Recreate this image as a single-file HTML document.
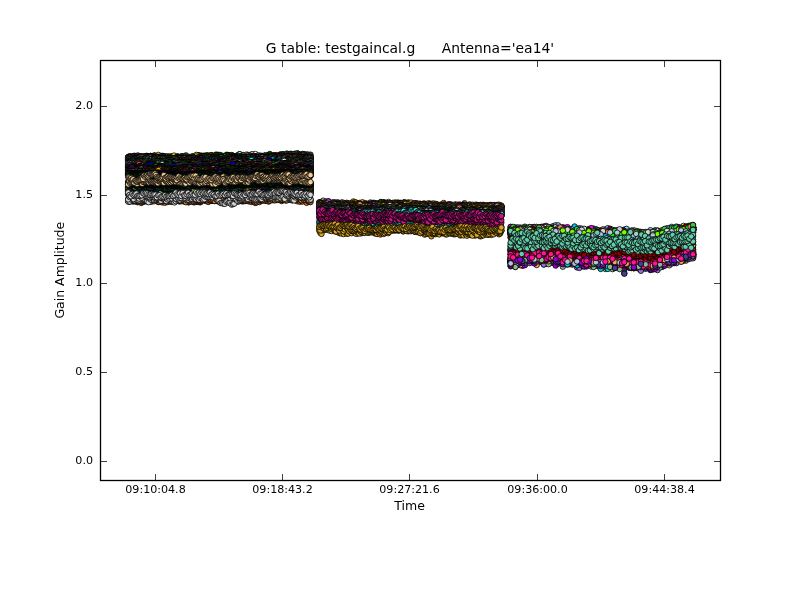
<!DOCTYPE html>
<html lang="en"><head><meta charset="utf-8"><title>G table: testgaincal.g Antenna='ea14'</title>
<style>html,body{margin:0;padding:0;background:#fff;overflow:hidden}svg{display:block}text{font-family:"DejaVu Sans","Liberation Sans",sans-serif;fill:#000}</style></head><body>
<svg width="800" height="600" viewBox="0 0 800 600">
<rect width="800" height="600" fill="#fff"/>
<defs><marker id="m0" markerWidth="8" markerHeight="8" refX="4" refY="4" markerUnits="userSpaceOnUse" overflow="visible"><circle cx="4" cy="4" r="2.75" fill="darkgreen" stroke="#000" stroke-width="0.8"/></marker><marker id="m1" markerWidth="8" markerHeight="8" refX="4" refY="4" markerUnits="userSpaceOnUse" overflow="visible"><circle cx="4" cy="4" r="2.75" fill="chocolate" stroke="#000" stroke-width="0.8"/></marker><marker id="m2" markerWidth="8" markerHeight="8" refX="4" refY="4" markerUnits="userSpaceOnUse" overflow="visible"><circle cx="4" cy="4" r="2.75" fill="lightskyblue" stroke="#000" stroke-width="0.8"/></marker><marker id="m3" markerWidth="8" markerHeight="8" refX="4" refY="4" markerUnits="userSpaceOnUse" overflow="visible"><circle cx="4" cy="4" r="2.75" fill="sienna" stroke="#000" stroke-width="0.8"/></marker><marker id="m4" markerWidth="8" markerHeight="8" refX="4" refY="4" markerUnits="userSpaceOnUse" overflow="visible"><circle cx="4" cy="4" r="2.75" fill="white" stroke="#000" stroke-width="0.8"/></marker><marker id="m5" markerWidth="8" markerHeight="8" refX="4" refY="4" markerUnits="userSpaceOnUse" overflow="visible"><circle cx="4" cy="4" r="2.75" fill="peru" stroke="#000" stroke-width="0.8"/></marker><marker id="m6" markerWidth="8" markerHeight="8" refX="4" refY="4" markerUnits="userSpaceOnUse" overflow="visible"><circle cx="4" cy="4" r="2.75" fill="darkslategray" stroke="#000" stroke-width="0.8"/></marker><marker id="m7" markerWidth="8" markerHeight="8" refX="4" refY="4" markerUnits="userSpaceOnUse" overflow="visible"><circle cx="4" cy="4" r="2.75" fill="gold" stroke="#000" stroke-width="0.8"/></marker><marker id="m8" markerWidth="8" markerHeight="8" refX="4" refY="4" markerUnits="userSpaceOnUse" overflow="visible"><circle cx="4" cy="4" r="2.75" fill="chartreuse" stroke="#000" stroke-width="0.8"/></marker><marker id="m9" markerWidth="8" markerHeight="8" refX="4" refY="4" markerUnits="userSpaceOnUse" overflow="visible"><circle cx="4" cy="4" r="2.75" fill="darkslateblue" stroke="#000" stroke-width="0.8"/></marker><marker id="m10" markerWidth="8" markerHeight="8" refX="4" refY="4" markerUnits="userSpaceOnUse" overflow="visible"><circle cx="4" cy="4" r="2.75" fill="maroon" stroke="#000" stroke-width="0.8"/></marker><marker id="m11" markerWidth="8" markerHeight="8" refX="4" refY="4" markerUnits="userSpaceOnUse" overflow="visible"><circle cx="4" cy="4" r="2.75" fill="midnightblue" stroke="#000" stroke-width="0.8"/></marker><marker id="m12" markerWidth="8" markerHeight="8" refX="4" refY="4" markerUnits="userSpaceOnUse" overflow="visible"><circle cx="4" cy="4" r="2.75" fill="sandybrown" stroke="#000" stroke-width="0.8"/></marker><marker id="m13" markerWidth="8" markerHeight="8" refX="4" refY="4" markerUnits="userSpaceOnUse" overflow="visible"><circle cx="4" cy="4" r="2.75" fill="springgreen" stroke="#000" stroke-width="0.8"/></marker><marker id="m14" markerWidth="8" markerHeight="8" refX="4" refY="4" markerUnits="userSpaceOnUse" overflow="visible"><circle cx="4" cy="4" r="2.75" fill="violet" stroke="#000" stroke-width="0.8"/></marker><marker id="m15" markerWidth="8" markerHeight="8" refX="4" refY="4" markerUnits="userSpaceOnUse" overflow="visible"><circle cx="4" cy="4" r="2.75" fill="navy" stroke="#000" stroke-width="0.8"/></marker><marker id="m16" markerWidth="8" markerHeight="8" refX="4" refY="4" markerUnits="userSpaceOnUse" overflow="visible"><circle cx="4" cy="4" r="2.75" fill="lightgreen" stroke="#000" stroke-width="0.8"/></marker><marker id="m17" markerWidth="8" markerHeight="8" refX="4" refY="4" markerUnits="userSpaceOnUse" overflow="visible"><circle cx="4" cy="4" r="2.75" fill="crimson" stroke="#000" stroke-width="0.8"/></marker><marker id="m18" markerWidth="8" markerHeight="8" refX="4" refY="4" markerUnits="userSpaceOnUse" overflow="visible"><circle cx="4" cy="4" r="2.75" fill="lavender" stroke="#000" stroke-width="0.8"/></marker><marker id="m19" markerWidth="8" markerHeight="8" refX="4" refY="4" markerUnits="userSpaceOnUse" overflow="visible"><circle cx="4" cy="4" r="2.75" fill="cyan" stroke="#000" stroke-width="0.8"/></marker><marker id="m20" markerWidth="8" markerHeight="8" refX="4" refY="4" markerUnits="userSpaceOnUse" overflow="visible"><circle cx="4" cy="4" r="2.75" fill="blue" stroke="#000" stroke-width="0.8"/></marker><marker id="m21" markerWidth="8" markerHeight="8" refX="4" refY="4" markerUnits="userSpaceOnUse" overflow="visible"><circle cx="4" cy="4" r="2.75" fill="turquoise" stroke="#000" stroke-width="0.8"/></marker><marker id="m22" markerWidth="8" markerHeight="8" refX="4" refY="4" markerUnits="userSpaceOnUse" overflow="visible"><circle cx="4" cy="4" r="2.75" fill="tomato" stroke="#000" stroke-width="0.8"/></marker><marker id="m23" markerWidth="8" markerHeight="8" refX="4" refY="4" markerUnits="userSpaceOnUse" overflow="visible"><circle cx="4" cy="4" r="2.75" fill="black" stroke="#000" stroke-width="0.8"/></marker><marker id="m24" markerWidth="8" markerHeight="8" refX="4" refY="4" markerUnits="userSpaceOnUse" overflow="visible"><circle cx="4" cy="4" r="2.75" fill="lightcoral" stroke="#000" stroke-width="0.8"/></marker><marker id="m25" markerWidth="8" markerHeight="8" refX="4" refY="4" markerUnits="userSpaceOnUse" overflow="visible"><circle cx="4" cy="4" r="2.75" fill="orangered" stroke="#000" stroke-width="0.8"/></marker><marker id="m26" markerWidth="8" markerHeight="8" refX="4" refY="4" markerUnits="userSpaceOnUse" overflow="visible"><circle cx="4" cy="4" r="2.75" fill="thistle" stroke="#000" stroke-width="0.8"/></marker><marker id="m27" markerWidth="8" markerHeight="8" refX="4" refY="4" markerUnits="userSpaceOnUse" overflow="visible"><circle cx="4" cy="4" r="2.75" fill="lime" stroke="#000" stroke-width="0.8"/></marker><marker id="m28" markerWidth="8" markerHeight="8" refX="4" refY="4" markerUnits="userSpaceOnUse" overflow="visible"><circle cx="4" cy="4" r="2.75" fill="dimgray" stroke="#000" stroke-width="0.8"/></marker><marker id="m29" markerWidth="8" markerHeight="8" refX="4" refY="4" markerUnits="userSpaceOnUse" overflow="visible"><circle cx="4" cy="4" r="2.75" fill="#003030" stroke="#000" stroke-width="0.8"/></marker><marker id="m30" markerWidth="8" markerHeight="8" refX="4" refY="4" markerUnits="userSpaceOnUse" overflow="visible"><circle cx="4" cy="4" r="2.75" fill="salmon" stroke="#000" stroke-width="0.8"/></marker><marker id="m31" markerWidth="8" markerHeight="8" refX="4" refY="4" markerUnits="userSpaceOnUse" overflow="visible"><circle cx="4" cy="4" r="2.75" fill="#203020" stroke="#000" stroke-width="0.8"/></marker><marker id="m32" markerWidth="8" markerHeight="8" refX="4" refY="4" markerUnits="userSpaceOnUse" overflow="visible"><circle cx="4" cy="4" r="2.75" fill="indigo" stroke="#000" stroke-width="0.8"/></marker><marker id="m33" markerWidth="8" markerHeight="8" refX="4" refY="4" markerUnits="userSpaceOnUse" overflow="visible"><circle cx="4" cy="4" r="2.75" fill="darkolivegreen" stroke="#000" stroke-width="0.8"/></marker><marker id="m34" markerWidth="8" markerHeight="8" refX="4" refY="4" markerUnits="userSpaceOnUse" overflow="visible"><circle cx="4" cy="4" r="2.75" fill="coral" stroke="#000" stroke-width="0.8"/></marker><marker id="m35" markerWidth="8" markerHeight="8" refX="4" refY="4" markerUnits="userSpaceOnUse" overflow="visible"><circle cx="4" cy="4" r="2.75" fill="orange" stroke="#000" stroke-width="0.8"/></marker><marker id="m36" markerWidth="8" markerHeight="8" refX="4" refY="4" markerUnits="userSpaceOnUse" overflow="visible"><circle cx="4" cy="4" r="2.75" fill="hotpink" stroke="#000" stroke-width="0.8"/></marker><marker id="m37" markerWidth="8" markerHeight="8" refX="4" refY="4" markerUnits="userSpaceOnUse" overflow="visible"><circle cx="4" cy="4" r="2.75" fill="#004000" stroke="#000" stroke-width="0.8"/></marker><marker id="m38" markerWidth="8" markerHeight="8" refX="4" refY="4" markerUnits="userSpaceOnUse" overflow="visible"><circle cx="4" cy="4" r="2.75" fill="#283828" stroke="#000" stroke-width="0.8"/></marker><marker id="m39" markerWidth="8" markerHeight="8" refX="4" refY="4" markerUnits="userSpaceOnUse" overflow="visible"><circle cx="4" cy="4" r="2.75" fill="#102818" stroke="#000" stroke-width="0.8"/></marker><marker id="m40" markerWidth="8" markerHeight="8" refX="4" refY="4" markerUnits="userSpaceOnUse" overflow="visible"><circle cx="4" cy="4" r="2.75" fill="mediumspringgreen" stroke="#000" stroke-width="0.8"/></marker><marker id="m41" markerWidth="8" markerHeight="8" refX="4" refY="4" markerUnits="userSpaceOnUse" overflow="visible"><circle cx="4" cy="4" r="2.75" fill="peachpuff" stroke="#000" stroke-width="0.8"/></marker><marker id="m42" markerWidth="8" markerHeight="8" refX="4" refY="4" markerUnits="userSpaceOnUse" overflow="visible"><circle cx="4" cy="4" r="2.75" fill="red" stroke="#000" stroke-width="0.8"/></marker><marker id="m43" markerWidth="8" markerHeight="8" refX="4" refY="4" markerUnits="userSpaceOnUse" overflow="visible"><circle cx="4" cy="4" r="2.75" fill="dodgerblue" stroke="#000" stroke-width="0.8"/></marker><marker id="m44" markerWidth="8" markerHeight="8" refX="4" refY="4" markerUnits="userSpaceOnUse" overflow="visible"><circle cx="4" cy="4" r="2.75" fill="saddlebrown" stroke="#000" stroke-width="0.8"/></marker><marker id="m45" markerWidth="8" markerHeight="8" refX="4" refY="4" markerUnits="userSpaceOnUse" overflow="visible"><circle cx="4" cy="4" r="2.75" fill="royalblue" stroke="#000" stroke-width="0.8"/></marker><marker id="m46" markerWidth="8" markerHeight="8" refX="4" refY="4" markerUnits="userSpaceOnUse" overflow="visible"><circle cx="4" cy="4" r="2.75" fill="deepskyblue" stroke="#000" stroke-width="0.8"/></marker><marker id="m47" markerWidth="8" markerHeight="8" refX="4" refY="4" markerUnits="userSpaceOnUse" overflow="visible"><circle cx="4" cy="4" r="2.75" fill="greenyellow" stroke="#000" stroke-width="0.8"/></marker><marker id="m48" markerWidth="8" markerHeight="8" refX="4" refY="4" markerUnits="userSpaceOnUse" overflow="visible"><circle cx="4" cy="4" r="2.75" fill="#f5cd95" stroke="#000" stroke-width="0.8"/></marker><marker id="m49" markerWidth="8" markerHeight="8" refX="4" refY="4" markerUnits="userSpaceOnUse" overflow="visible"><circle cx="4" cy="4" r="2.75" fill="lightgray" stroke="#000" stroke-width="0.8"/></marker><marker id="m50" markerWidth="8" markerHeight="8" refX="4" refY="4" markerUnits="userSpaceOnUse" overflow="visible"><circle cx="4" cy="4" r="2.75" fill="goldenrod" stroke="#000" stroke-width="0.8"/></marker><marker id="m51" markerWidth="8" markerHeight="8" refX="4" refY="4" markerUnits="userSpaceOnUse" overflow="visible"><circle cx="4" cy="4" r="2.75" fill="pink" stroke="#000" stroke-width="0.8"/></marker><marker id="m52" markerWidth="8" markerHeight="8" refX="4" refY="4" markerUnits="userSpaceOnUse" overflow="visible"><circle cx="4" cy="4" r="2.75" fill="khaki" stroke="#000" stroke-width="0.8"/></marker><marker id="m53" markerWidth="8" markerHeight="8" refX="4" refY="4" markerUnits="userSpaceOnUse" overflow="visible"><circle cx="4" cy="4" r="2.75" fill="blueviolet" stroke="#000" stroke-width="0.8"/></marker><marker id="m54" markerWidth="8" markerHeight="8" refX="4" refY="4" markerUnits="userSpaceOnUse" overflow="visible"><circle cx="4" cy="4" r="2.75" fill="yellow" stroke="#000" stroke-width="0.8"/></marker><marker id="m55" markerWidth="8" markerHeight="8" refX="4" refY="4" markerUnits="userSpaceOnUse" overflow="visible"><circle cx="4" cy="4" r="2.75" fill="lightblue" stroke="#000" stroke-width="0.8"/></marker><marker id="m56" markerWidth="8" markerHeight="8" refX="4" refY="4" markerUnits="userSpaceOnUse" overflow="visible"><circle cx="4" cy="4" r="2.75" fill="mediumvioletred" stroke="#000" stroke-width="0.8"/></marker><marker id="m57" markerWidth="8" markerHeight="8" refX="4" refY="4" markerUnits="userSpaceOnUse" overflow="visible"><circle cx="4" cy="4" r="2.75" fill="lawngreen" stroke="#000" stroke-width="0.8"/></marker><marker id="m58" markerWidth="8" markerHeight="8" refX="4" refY="4" markerUnits="userSpaceOnUse" overflow="visible"><circle cx="4" cy="4" r="2.75" fill="darkviolet" stroke="#000" stroke-width="0.8"/></marker><marker id="m59" markerWidth="8" markerHeight="8" refX="4" refY="4" markerUnits="userSpaceOnUse" overflow="visible"><circle cx="4" cy="4" r="2.75" fill="darkseagreen" stroke="#000" stroke-width="0.8"/></marker><marker id="m60" markerWidth="8" markerHeight="8" refX="4" refY="4" markerUnits="userSpaceOnUse" overflow="visible"><circle cx="4" cy="4" r="2.75" fill="firebrick" stroke="#000" stroke-width="0.8"/></marker><marker id="m61" markerWidth="8" markerHeight="8" refX="4" refY="4" markerUnits="userSpaceOnUse" overflow="visible"><circle cx="4" cy="4" r="2.75" fill="magenta" stroke="#000" stroke-width="0.8"/></marker><marker id="m62" markerWidth="8" markerHeight="8" refX="4" refY="4" markerUnits="userSpaceOnUse" overflow="visible"><circle cx="4" cy="4" r="2.75" fill="yellowgreen" stroke="#000" stroke-width="0.8"/></marker><marker id="m63" markerWidth="8" markerHeight="8" refX="4" refY="4" markerUnits="userSpaceOnUse" overflow="visible"><circle cx="4" cy="4" r="2.75" fill="darkturquoise" stroke="#000" stroke-width="0.8"/></marker><marker id="m64" markerWidth="8" markerHeight="8" refX="4" refY="4" markerUnits="userSpaceOnUse" overflow="visible"><circle cx="4" cy="4" r="2.75" fill="mediumpurple" stroke="#000" stroke-width="0.8"/></marker><marker id="m65" markerWidth="8" markerHeight="8" refX="4" refY="4" markerUnits="userSpaceOnUse" overflow="visible"><circle cx="4" cy="4" r="2.75" fill="limegreen" stroke="#000" stroke-width="0.8"/></marker><marker id="m66" markerWidth="8" markerHeight="8" refX="4" refY="4" markerUnits="userSpaceOnUse" overflow="visible"><circle cx="4" cy="4" r="2.75" fill="darkred" stroke="#000" stroke-width="0.8"/></marker><marker id="m67" markerWidth="8" markerHeight="8" refX="4" refY="4" markerUnits="userSpaceOnUse" overflow="visible"><circle cx="4" cy="4" r="2.75" fill="lightsteelblue" stroke="#000" stroke-width="0.8"/></marker><marker id="m68" markerWidth="8" markerHeight="8" refX="4" refY="4" markerUnits="userSpaceOnUse" overflow="visible"><circle cx="4" cy="4" r="2.75" fill="gray" stroke="#000" stroke-width="0.8"/></marker><marker id="m69" markerWidth="8" markerHeight="8" refX="4" refY="4" markerUnits="userSpaceOnUse" overflow="visible"><circle cx="4" cy="4" r="2.75" fill="deeppink" stroke="#000" stroke-width="0.8"/></marker><marker id="m70" markerWidth="8" markerHeight="8" refX="4" refY="4" markerUnits="userSpaceOnUse" overflow="visible"><circle cx="4" cy="4" r="2.75" fill="mediumaquamarine" stroke="#000" stroke-width="0.8"/></marker></defs>
<g fill="none" stroke="none">
<polyline class="s" style="marker:url(#m0)" points="128.2,158.7 129.5,156.4 130.8,156.8 132.1,157.4 133.4,156.0 134.8,155.9 136.1,157.1 137.4,157.4 138.7,157.1 140.0,158.8 141.3,157.2 142.6,157.7 143.9,158.7 145.2,158.8 146.6,155.8 147.9,156.9 149.2,158.3 150.5,156.0 151.8,156.5 153.1,156.2 154.4,156.2 155.7,156.4 157.1,157.6 158.4,158.7 159.7,159.0 161.0,157.7 162.3,155.9 163.6,157.7 164.9,157.5 166.2,158.2 167.5,157.8 168.9,156.4 170.2,158.4 171.5,156.3 172.8,157.6 174.1,158.5 175.4,158.7 176.7,159.8 178.0,156.4 179.3,158.9 180.7,159.3 182.0,158.4 183.3,159.3 184.6,157.7 185.9,159.3 187.2,159.2 188.5,157.8 189.8,158.0 191.2,158.3 192.5,157.7 193.8,159.1 195.1,158.1 196.4,158.9 197.7,158.6 199.0,157.3 200.3,156.9 201.6,156.0 203.0,155.9 204.3,155.7 205.6,156.5 206.9,155.2 208.2,155.9 209.5,155.9 210.8,155.2 212.1,155.3 213.4,156.7 214.8,156.8 216.1,154.6 217.4,155.1 218.7,154.9 220.0,155.0 221.3,156.6 222.6,155.8 223.9,156.3 225.3,156.8 226.6,154.8 227.9,155.0 229.2,155.2 230.5,156.1 231.8,155.1 233.1,155.8 234.4,156.3 235.7,156.4 237.1,155.8 238.4,154.8 239.7,154.2 241.0,156.7 242.3,156.2 243.6,155.1 244.9,155.6 246.2,155.8 247.5,154.8 248.9,156.7 250.2,155.8 251.5,156.4 252.8,157.4 254.1,156.7 255.4,157.3 256.7,157.2 258.0,156.8 259.4,156.8 260.7,158.4 262.0,156.6 263.3,158.2 264.6,155.8 265.9,157.2 267.2,156.7 268.5,155.8 269.8,154.0 271.2,157.8 272.5,155.3 273.8,155.4 275.1,156.3 276.4,156.2 277.7,156.4 279.0,155.9 280.3,154.7 281.6,156.8 283.0,155.2 284.3,156.2 285.6,156.5 286.9,157.1 288.2,155.9 289.5,155.8 290.8,155.9 292.1,154.5 293.5,155.5 294.8,155.4 296.1,155.4 297.4,156.7 298.7,156.4 300.0,158.2 301.3,158.3 302.6,155.4 303.9,157.4 305.3,156.5 306.6,158.1 307.9,157.9 309.2,158.7 310.5,158.2"/>
<polyline class="s" style="marker:url(#m1)" points="128.2,200.9 129.5,201.5 130.8,200.3 132.1,199.4 133.4,199.9 134.8,199.9 136.1,200.7 137.4,199.9 138.7,200.5 140.0,200.5 141.3,201.4 142.6,198.3 143.9,199.8 145.2,200.8 146.6,200.9 147.9,199.9 149.2,200.2 150.5,200.4 151.8,200.7 153.1,200.1 154.4,200.1 155.7,199.7 157.1,200.4 158.4,202.0 159.7,199.9 161.0,201.6 162.3,202.4 163.6,200.8 164.9,202.7 166.2,200.4 167.5,202.0 168.9,200.4 170.2,199.3 171.5,200.6 172.8,201.9 174.1,199.6 175.4,200.5 176.7,199.2 178.0,199.2 179.3,200.4 180.7,199.9 182.0,200.5 183.3,201.2 184.6,199.0 185.9,199.5 187.2,200.2 188.5,202.3 189.8,200.0 191.2,199.9 192.5,200.7 193.8,202.3 195.1,199.9 196.4,200.1 197.7,200.4 199.0,201.0 200.3,202.3 201.6,199.1 203.0,198.7 204.3,200.3 205.6,200.7 206.9,198.2 208.2,199.6 209.5,201.0 210.8,199.7 212.1,200.7 213.4,200.5 214.8,200.9 216.1,200.8 217.4,200.7 218.7,201.7 220.0,200.1 221.3,200.8 222.6,201.7 223.9,200.2 225.3,200.3 226.6,199.9 227.9,199.6 229.2,202.2 230.5,200.6 231.8,201.7 233.1,200.5 234.4,199.7 235.7,199.1 237.1,199.4 238.4,198.9 239.7,199.6 241.0,197.9 242.3,198.7 243.6,198.8 244.9,198.1 246.2,198.1 247.5,198.7 248.9,198.7 250.2,198.2 251.5,198.3 252.8,197.8 254.1,198.9 255.4,198.3 256.7,197.1 258.0,198.3 259.4,199.2 260.7,198.9 262.0,197.9 263.3,199.5 264.6,199.4 265.9,199.5 267.2,200.4 268.5,198.8 269.8,199.7 271.2,198.9 272.5,200.1 273.8,200.2 275.1,199.6 276.4,199.9 277.7,198.4 279.0,199.7 280.3,198.0 281.6,201.0 283.0,200.0 284.3,197.6 285.6,196.6 286.9,200.1 288.2,198.2 289.5,199.5 290.8,198.0 292.1,199.3 293.5,198.8 294.8,200.1 296.1,199.5 297.4,201.3 298.7,199.6 300.0,201.7 301.3,200.8 302.6,201.5 303.9,199.9 305.3,200.0 306.6,202.8 307.9,200.9 309.2,201.9 310.5,202.1"/>
<polyline class="s" style="marker:url(#m2)" points="128.2,159.3 129.5,158.2 130.8,158.4 132.1,157.8 133.4,157.0 134.8,158.8 136.1,157.5 137.4,157.0 138.7,157.3 140.0,159.3 141.3,158.1 142.6,157.8 143.9,157.6 145.2,158.2 146.6,158.1 147.9,156.2 149.2,157.1 150.5,156.8 151.8,157.6 153.1,157.4 154.4,155.7 155.7,158.6 157.1,157.9 158.4,156.2 159.7,158.9 161.0,158.1 162.3,158.5 163.6,158.2 164.9,158.5 166.2,157.9 167.5,157.0 168.9,158.0 170.2,158.8 171.5,158.7 172.8,159.4 174.1,158.7 175.4,156.8 176.7,159.6 178.0,158.3 179.3,157.8 180.7,158.8 182.0,157.9 183.3,159.6 184.6,158.4 185.9,161.1 187.2,159.1 188.5,158.9 189.8,158.8 191.2,157.4 192.5,158.6 193.8,158.6 195.1,159.0 196.4,157.1 197.7,159.1 199.0,160.1 200.3,158.4 201.6,158.6 203.0,158.9 204.3,157.7 205.6,157.8 206.9,159.0 208.2,158.1 209.5,156.7 210.8,156.0 212.1,159.7 213.4,157.9 214.8,155.9 216.1,157.5 217.4,157.9 218.7,157.4 220.0,155.6 221.3,159.0 222.6,157.9 223.9,157.3 225.3,158.1 226.6,157.4 227.9,157.4 229.2,158.6 230.5,156.1 231.8,158.9 233.1,158.4 234.4,158.8 235.7,159.0 237.1,159.6 238.4,159.6 239.7,159.1 241.0,157.9 242.3,158.9 243.6,157.8 244.9,157.4 246.2,158.7 247.5,158.6 248.9,159.3 250.2,156.3 251.5,158.8 252.8,158.8 254.1,158.3 255.4,159.6 256.7,157.4 258.0,158.5 259.4,157.8 260.7,158.1 262.0,157.2 263.3,157.9 264.6,158.6 265.9,158.0 267.2,158.1 268.5,157.0 269.8,159.1 271.2,156.9 272.5,157.4 273.8,157.9 275.1,157.1 276.4,157.9 277.7,157.3 279.0,158.6 280.3,157.4 281.6,157.2 283.0,156.0 284.3,157.1 285.6,157.5 286.9,156.9 288.2,155.6 289.5,155.8 290.8,156.1 292.1,156.2 293.5,154.9 294.8,157.9 296.1,156.1 297.4,156.3 298.7,155.8 300.0,156.2 301.3,158.0 302.6,155.5 303.9,155.9 305.3,155.6 306.6,156.1 307.9,158.1 309.2,156.2 310.5,156.4"/>
<polyline class="s" style="marker:url(#m3)" points="128.2,200.4 129.5,201.5 130.8,199.9 132.1,201.3 133.4,201.4 134.8,201.3 136.1,201.2 137.4,202.2 138.7,201.9 140.0,200.1 141.3,202.9 142.6,201.8 143.9,201.7 145.2,201.0 146.6,201.0 147.9,198.9 149.2,201.0 150.5,201.6 151.8,201.6 153.1,200.4 154.4,198.7 155.7,199.8 157.1,200.5 158.4,201.8 159.7,199.1 161.0,200.5 162.3,201.0 163.6,200.9 164.9,200.2 166.2,197.7 167.5,200.7 168.9,200.2 170.2,200.5 171.5,199.2 172.8,199.6 174.1,201.4 175.4,200.0 176.7,200.1 178.0,199.6 179.3,201.4 180.7,198.9 182.0,200.0 183.3,201.0 184.6,200.6 185.9,201.6 187.2,201.2 188.5,202.2 189.8,200.7 191.2,200.8 192.5,201.2 193.8,199.3 195.1,202.1 196.4,200.0 197.7,201.8 199.0,202.0 200.3,201.5 201.6,200.7 203.0,199.9 204.3,198.5 205.6,200.9 206.9,200.1 208.2,201.9 209.5,200.1 210.8,200.9 212.1,199.9 213.4,200.7 214.8,200.0 216.1,200.2 217.4,198.6 218.7,199.7 220.0,200.2 221.3,201.4 222.6,200.5 223.9,199.1 225.3,201.6 226.6,200.4 227.9,201.1 229.2,199.2 230.5,197.0 231.8,199.2 233.1,199.0 234.4,200.1 235.7,198.5 237.1,199.1 238.4,198.7 239.7,200.1 241.0,199.2 242.3,201.4 243.6,201.0 244.9,201.1 246.2,200.3 247.5,200.8 248.9,201.4 250.2,199.9 251.5,201.9 252.8,200.8 254.1,202.0 255.4,202.9 256.7,202.3 258.0,199.9 259.4,202.0 260.7,200.6 262.0,200.4 263.3,200.6 264.6,199.7 265.9,200.9 267.2,200.0 268.5,201.6 269.8,200.8 271.2,198.0 272.5,199.3 273.8,199.2 275.1,199.3 276.4,199.2 277.7,199.8 279.0,199.3 280.3,198.2 281.6,199.5 283.0,199.7 284.3,198.8 285.6,199.7 286.9,198.9 288.2,197.9 289.5,198.0 290.8,198.3 292.1,198.8 293.5,198.4 294.8,199.2 296.1,199.4 297.4,197.4 298.7,197.4 300.0,198.4 301.3,199.1 302.6,199.6 303.9,199.5 305.3,199.7 306.6,198.4 307.9,199.8 309.2,199.0 310.5,200.1"/>
<polyline class="s" style="marker:url(#m4)" points="128.2,157.2 129.5,158.8 130.8,157.2 132.1,157.2 133.4,160.2 134.8,157.8 136.1,157.7 137.4,158.3 138.7,156.9 140.0,158.1 141.3,156.7 142.6,157.3 143.9,157.2 145.2,158.9 146.6,158.3 147.9,159.4 149.2,159.2 150.5,157.1 151.8,158.2 153.1,157.4 154.4,157.2 155.7,158.9 157.1,159.2 158.4,158.1 159.7,158.3 161.0,158.4 162.3,158.5 163.6,158.6 164.9,157.5 166.2,159.1 167.5,158.0 168.9,157.7 170.2,158.7 171.5,159.2 172.8,159.8 174.1,159.5 175.4,159.5 176.7,158.7 178.0,159.7 179.3,159.6 180.7,159.7 182.0,158.7 183.3,160.9 184.6,160.0 185.9,159.8 187.2,159.2 188.5,158.8 189.8,159.8 191.2,157.7 192.5,158.4 193.8,158.5 195.1,159.2 196.4,158.4 197.7,160.0 199.0,157.2 200.3,160.2 201.6,159.2 203.0,159.8 204.3,158.7 205.6,160.2 206.9,159.1 208.2,159.8 209.5,158.3 210.8,160.3 212.1,160.0 213.4,158.3 214.8,159.9 216.1,159.7 217.4,160.8 218.7,159.4 220.0,160.1 221.3,161.0 222.6,158.9 223.9,161.2 225.3,159.5 226.6,158.9 227.9,157.6 229.2,157.0 230.5,159.2 231.8,157.6 233.1,157.2 234.4,158.4 235.7,157.7 237.1,156.9 238.4,155.1 239.7,154.4 241.0,156.7 242.3,155.6 243.6,155.2 244.9,157.0 246.2,154.7 247.5,155.3 248.9,156.9 250.2,155.5 251.5,154.4 252.8,154.2 254.1,156.1 255.4,154.0 256.7,156.0 258.0,156.8 259.4,155.4 260.7,156.3 262.0,155.8 263.3,157.1 264.6,156.2 265.9,155.5 267.2,156.6 268.5,156.5 269.8,155.9 271.2,156.4 272.5,155.6 273.8,156.0 275.1,157.4 276.4,155.2 277.7,157.2 279.0,157.0 280.3,156.5 281.6,158.4 283.0,157.7 284.3,156.6 285.6,157.3 286.9,157.9 288.2,155.6 289.5,157.2 290.8,156.7 292.1,157.3 293.5,158.8 294.8,156.2 296.1,156.5 297.4,155.7 298.7,157.0 300.0,157.4 301.3,154.6 302.6,158.2 303.9,158.4 305.3,154.7 306.6,155.8 307.9,157.7 309.2,157.5 310.5,158.6"/>
<polyline class="s" style="marker:url(#m5)" points="128.2,199.1 129.5,199.8 130.8,199.6 132.1,200.9 133.4,198.7 134.8,200.4 136.1,199.6 137.4,199.7 138.7,199.4 140.0,201.1 141.3,199.0 142.6,198.6 143.9,199.9 145.2,199.0 146.6,200.0 147.9,199.4 149.2,199.5 150.5,199.5 151.8,197.8 153.1,197.5 154.4,201.2 155.7,198.3 157.1,199.8 158.4,198.3 159.7,199.3 161.0,199.2 162.3,200.7 163.6,199.3 164.9,198.1 166.2,198.3 167.5,199.9 168.9,200.5 170.2,201.6 171.5,201.8 172.8,198.6 174.1,199.9 175.4,199.0 176.7,200.4 178.0,201.0 179.3,198.7 180.7,201.2 182.0,201.1 183.3,200.3 184.6,200.1 185.9,202.2 187.2,200.5 188.5,199.7 189.8,200.8 191.2,201.6 192.5,201.2 193.8,198.7 195.1,199.1 196.4,199.9 197.7,200.2 199.0,200.1 200.3,198.7 201.6,200.5 203.0,200.0 204.3,198.1 205.6,198.6 206.9,199.3 208.2,198.0 209.5,199.4 210.8,199.5 212.1,199.0 213.4,199.9 214.8,201.1 216.1,198.9 217.4,200.0 218.7,199.2 220.0,201.0 221.3,200.8 222.6,199.8 223.9,199.3 225.3,200.6 226.6,199.9 227.9,198.9 229.2,199.1 230.5,199.9 231.8,202.1 233.1,201.1 234.4,201.4 235.7,201.1 237.1,201.5 238.4,201.6 239.7,199.2 241.0,200.7 242.3,200.6 243.6,200.4 244.9,200.2 246.2,197.4 247.5,199.7 248.9,198.2 250.2,200.1 251.5,198.6 252.8,198.7 254.1,198.7 255.4,196.8 256.7,198.4 258.0,197.3 259.4,199.3 260.7,197.9 262.0,197.3 263.3,199.4 264.6,198.1 265.9,197.5 267.2,198.3 268.5,198.3 269.8,198.8 271.2,197.7 272.5,199.7 273.8,199.1 275.1,200.3 276.4,199.4 277.7,198.1 279.0,200.0 280.3,198.9 281.6,199.3 283.0,197.0 284.3,198.1 285.6,200.5 286.9,200.3 288.2,197.7 289.5,199.6 290.8,199.6 292.1,200.4 293.5,198.3 294.8,197.7 296.1,199.5 297.4,198.6 298.7,198.7 300.0,198.4 301.3,200.3 302.6,198.4 303.9,200.0 305.3,199.7 306.6,198.5 307.9,200.0 309.2,200.2 310.5,199.4"/>
<polyline class="s" style="marker:url(#m6)" points="128.2,158.8 129.5,158.3 130.8,157.1 132.1,157.5 133.4,158.4 134.8,158.2 136.1,157.3 137.4,158.1 138.7,155.8 140.0,157.8 141.3,158.5 142.6,158.5 143.9,157.2 145.2,157.7 146.6,157.7 147.9,157.3 149.2,156.6 150.5,156.0 151.8,156.8 153.1,156.2 154.4,155.4 155.7,158.4 157.1,156.1 158.4,156.9 159.7,156.9 161.0,156.0 162.3,157.9 163.6,156.1 164.9,159.3 166.2,156.5 167.5,157.1 168.9,157.6 170.2,157.7 171.5,157.7 172.8,158.7 174.1,158.9 175.4,159.8 176.7,156.6 178.0,158.5 179.3,158.1 180.7,157.1 182.0,156.1 183.3,159.4 184.6,158.2 185.9,155.4 187.2,158.3 188.5,157.3 189.8,157.0 191.2,157.5 192.5,156.2 193.8,156.6 195.1,157.6 196.4,155.7 197.7,155.5 199.0,155.2 200.3,157.4 201.6,155.8 203.0,156.4 204.3,156.3 205.6,157.4 206.9,157.2 208.2,156.1 209.5,158.2 210.8,157.3 212.1,157.3 213.4,156.6 214.8,156.7 216.1,156.8 217.4,157.0 218.7,157.4 220.0,157.5 221.3,156.9 222.6,157.0 223.9,157.8 225.3,158.3 226.6,158.4 227.9,157.3 229.2,156.3 230.5,157.7 231.8,157.8 233.1,157.8 234.4,158.3 235.7,157.4 237.1,158.0 238.4,155.9 239.7,159.6 241.0,158.1 242.3,157.7 243.6,158.5 244.9,157.7 246.2,157.3 247.5,158.6 248.9,157.8 250.2,157.1 251.5,158.3 252.8,158.0 254.1,157.9 255.4,157.2 256.7,158.4 258.0,156.6 259.4,158.1 260.7,158.7 262.0,156.5 263.3,157.5 264.6,155.6 265.9,157.2 267.2,155.5 268.5,155.8 269.8,157.0 271.2,157.7 272.5,157.1 273.8,156.3 275.1,155.6 276.4,156.2 277.7,158.2 279.0,157.2 280.3,154.5 281.6,154.9 283.0,154.1 284.3,155.8 285.6,154.9 286.9,153.6 288.2,154.7 289.5,154.4 290.8,153.7 292.1,154.3 293.5,155.4 294.8,153.7 296.1,154.2 297.4,153.2 298.7,154.1 300.0,155.8 301.3,155.0 302.6,154.0 303.9,154.1 305.3,155.9 306.6,154.7 307.9,154.5 309.2,156.1 310.5,154.7"/>
<polyline class="s" style="marker:url(#m7)" points="128.2,157.0 129.5,156.5 130.8,157.5 132.1,157.5 133.4,158.7 134.8,156.8 136.1,157.1 137.4,157.1 138.7,156.8 140.0,157.2 141.3,156.6 142.6,156.4 143.9,157.4 145.2,156.5 146.6,158.1 147.9,157.5 149.2,156.4 150.5,156.5 151.8,157.5 153.1,157.0 154.4,157.1 155.7,156.6 157.1,156.0 158.4,154.9 159.7,156.6 161.0,156.8 162.3,157.8 163.6,157.1 164.9,156.7 166.2,156.7 167.5,157.4 168.9,157.0 170.2,157.5 171.5,157.7 172.8,157.9 174.1,155.6 175.4,157.9 176.7,157.0 178.0,157.2 179.3,157.4 180.7,157.5 182.0,157.2 183.3,157.4 184.6,157.5 185.9,157.2 187.2,157.2 188.5,157.0 189.8,157.5 191.2,157.6 192.5,157.9 193.8,157.5 195.1,156.6 196.4,154.9 197.7,157.3 199.0,157.2 200.3,157.2 201.6,157.5 203.0,157.1 204.3,157.0 205.6,156.8 206.9,156.3 208.2,156.3 209.5,156.6 210.8,156.5 212.1,156.6 213.4,156.7 214.8,156.1 216.1,156.7 217.4,156.3 218.7,156.5 220.0,157.1 221.3,157.6 222.6,156.6 223.9,156.9 225.3,156.9 226.6,156.2 227.9,156.9 229.2,157.0 230.5,156.5 231.8,157.3 233.1,156.7 234.4,156.7 235.7,156.9 237.1,156.8 238.4,157.5 239.7,157.4 241.0,156.6 242.3,157.4 243.6,156.9 244.9,157.1 246.2,156.4 247.5,156.9 248.9,156.8 250.2,156.0 251.5,157.2 252.8,157.1 254.1,156.4 255.4,156.5 256.7,156.1 258.0,156.8 259.4,156.3 260.7,156.3 262.0,157.6 263.3,156.7 264.6,156.2 265.9,157.2 267.2,156.4 268.5,156.4 269.8,157.0 271.2,156.7 272.5,156.5 273.8,155.3 275.1,155.7 276.4,155.9 277.7,156.1 279.0,156.2 280.3,155.5 281.6,156.6 283.0,156.6 284.3,155.6 285.6,154.9 286.9,156.1 288.2,155.2 289.5,155.3 290.8,155.3 292.1,155.7 293.5,154.6 294.8,155.3 296.1,156.0 297.4,155.2 298.7,156.0 300.0,155.4 301.3,155.9 302.6,155.4 303.9,157.0 305.3,156.1 306.6,156.4 307.9,156.4 309.2,156.3 310.5,156.6"/>
<polyline class="s" style="marker:url(#m8)" points="128.2,157.5 129.5,157.2 130.8,157.5 132.1,157.4 133.4,157.2 134.8,157.3 136.1,157.2 137.4,157.1 138.7,157.8 140.0,157.5 141.3,157.5 142.6,157.7 143.9,156.8 145.2,157.0 146.6,157.6 147.9,156.9 149.2,156.7 150.5,157.4 151.8,157.4 153.1,156.7 154.4,157.5 155.7,156.8 157.1,156.7 158.4,157.6 159.7,157.4 161.0,157.9 162.3,157.0 163.6,157.6 164.9,157.5 166.2,157.1 167.5,158.4 168.9,157.4 170.2,158.1 171.5,158.1 172.8,158.2 174.1,158.9 175.4,157.9 176.7,158.2 178.0,157.8 179.3,158.5 180.7,158.9 182.0,157.2 183.3,158.2 184.6,158.9 185.9,158.5 187.2,158.1 188.5,157.1 189.8,158.7 191.2,157.8 192.5,158.2 193.8,157.0 195.1,158.1 196.4,156.4 197.7,157.6 199.0,157.3 200.3,157.1 201.6,156.7 203.0,157.1 204.3,156.8 205.6,156.7 206.9,157.0 208.2,156.6 209.5,156.4 210.8,155.9 212.1,157.0 213.4,156.6 214.8,156.8 216.1,156.3 217.4,156.6 218.7,156.9 220.0,156.2 221.3,156.7 222.6,157.3 223.9,156.3 225.3,156.4 226.6,158.1 227.9,156.6 229.2,157.2 230.5,157.3 231.8,156.9 233.1,157.5 234.4,157.2 235.7,157.4 237.1,157.1 238.4,157.4 239.7,157.7 241.0,156.2 242.3,156.9 243.6,157.6 244.9,156.8 246.2,156.7 247.5,155.7 248.9,157.1 250.2,156.3 251.5,156.9 252.8,156.5 254.1,156.1 255.4,157.0 256.7,156.7 258.0,155.8 259.4,156.5 260.7,156.6 262.0,156.9 263.3,157.1 264.6,157.2 265.9,155.9 267.2,156.1 268.5,156.2 269.8,156.0 271.2,156.8 272.5,156.4 273.8,156.2 275.1,156.0 276.4,156.3 277.7,156.2 279.0,155.7 280.3,156.4 281.6,156.2 283.0,155.4 284.3,156.1 285.6,156.0 286.9,155.6 288.2,156.8 289.5,155.4 290.8,156.3 292.1,155.1 293.5,156.0 294.8,156.6 296.1,156.3 297.4,155.5 298.7,155.8 300.0,156.2 301.3,156.4 302.6,156.0 303.9,156.9 305.3,157.2 306.6,156.8 307.9,156.8 309.2,156.6 310.5,156.9"/>
<polyline class="s" style="marker:url(#m9)" points="128.2,157.4 129.5,157.2 130.8,156.5 132.1,157.2 133.4,157.7 134.8,156.0 136.1,156.8 137.4,155.6 138.7,157.0 140.0,157.3 141.3,156.4 142.6,157.3 143.9,156.7 145.2,158.1 146.6,156.7 147.9,157.4 149.2,156.5 150.5,157.7 151.8,157.4 153.1,157.2 154.4,158.1 155.7,157.5 157.1,157.4 158.4,158.3 159.7,157.5 161.0,158.1 162.3,157.6 163.6,157.5 164.9,158.6 166.2,158.2 167.5,158.5 168.9,158.6 170.2,158.2 171.5,158.4 172.8,158.1 174.1,158.1 175.4,158.5 176.7,157.5 178.0,158.3 179.3,158.0 180.7,158.4 182.0,158.0 183.3,159.0 184.6,158.7 185.9,158.1 187.2,158.7 188.5,157.6 189.8,157.8 191.2,158.6 192.5,159.0 193.8,158.3 195.1,158.5 196.4,158.3 197.7,158.8 199.0,157.8 200.3,157.3 201.6,157.1 203.0,157.9 204.3,158.1 205.6,157.5 206.9,158.2 208.2,157.1 209.5,157.8 210.8,157.3 212.1,157.5 213.4,157.5 214.8,158.2 216.1,158.4 217.4,156.8 218.7,157.6 220.0,157.9 221.3,157.4 222.6,157.7 223.9,157.7 225.3,158.1 226.6,157.5 227.9,158.1 229.2,157.7 230.5,157.9 231.8,157.5 233.1,157.7 234.4,157.8 235.7,158.8 237.1,158.1 238.4,157.8 239.7,157.7 241.0,157.3 242.3,158.0 243.6,157.0 244.9,157.2 246.2,157.8 247.5,157.1 248.9,156.9 250.2,158.4 251.5,156.8 252.8,157.1 254.1,155.8 255.4,157.3 256.7,158.3 258.0,158.3 259.4,157.7 260.7,157.4 262.0,157.1 263.3,157.6 264.6,157.1 265.9,157.4 267.2,156.5 268.5,157.3 269.8,156.5 271.2,156.7 272.5,156.2 273.8,156.4 275.1,157.6 276.4,157.0 277.7,156.4 279.0,157.3 280.3,155.9 281.6,156.7 283.0,156.2 284.3,156.9 285.6,157.0 286.9,156.5 288.2,156.5 289.5,156.4 290.8,157.8 292.1,156.7 293.5,157.5 294.8,156.8 296.1,156.8 297.4,156.3 298.7,156.3 300.0,157.1 301.3,156.8 302.6,157.4 303.9,157.8 305.3,156.9 306.6,157.1 307.9,157.8 309.2,158.5 310.5,157.9"/>
<polyline class="s" style="marker:url(#m10)" points="128.2,158.9 129.5,159.0 130.8,157.7 132.1,157.9 133.4,158.2 134.8,158.2 136.1,156.9 137.4,157.9 138.7,157.3 140.0,158.1 141.3,159.3 142.6,158.2 143.9,158.3 145.2,156.7 146.6,157.8 147.9,158.0 149.2,156.8 150.5,158.4 151.8,157.5 153.1,158.5 154.4,158.2 155.7,158.1 157.1,157.4 158.4,158.2 159.7,157.9 161.0,158.2 162.3,158.6 163.6,158.2 164.9,157.9 166.2,158.6 167.5,158.6 168.9,158.9 170.2,159.2 171.5,159.1 172.8,158.3 174.1,158.8 175.4,159.2 176.7,158.8 178.0,157.9 179.3,159.6 180.7,159.5 182.0,158.6 183.3,158.4 184.6,159.2 185.9,159.6 187.2,158.9 188.5,159.4 189.8,159.0 191.2,159.0 192.5,159.4 193.8,159.0 195.1,158.9 196.4,158.8 197.7,159.0 199.0,158.4 200.3,157.9 201.6,158.8 203.0,159.2 204.3,158.2 205.6,158.8 206.9,159.3 208.2,158.0 209.5,159.0 210.8,158.1 212.1,157.5 213.4,157.2 214.8,157.5 216.1,157.8 217.4,158.3 218.7,157.7 220.0,158.7 221.3,158.1 222.6,157.4 223.9,158.4 225.3,158.5 226.6,157.6 227.9,158.2 229.2,158.5 230.5,158.2 231.8,158.0 233.1,158.4 234.4,158.1 235.7,157.4 237.1,157.9 238.4,158.2 239.7,157.9 241.0,157.5 242.3,158.0 243.6,158.5 244.9,157.8 246.2,157.7 247.5,157.0 248.9,158.9 250.2,157.9 251.5,157.2 252.8,157.6 254.1,157.9 255.4,157.2 256.7,157.2 258.0,158.2 259.4,157.9 260.7,156.6 262.0,157.1 263.3,157.6 264.6,157.5 265.9,157.6 267.2,158.0 268.5,156.7 269.8,157.3 271.2,156.8 272.5,157.8 273.8,156.9 275.1,157.7 276.4,156.0 277.7,157.0 279.0,157.5 280.3,156.7 281.6,157.3 283.0,156.9 284.3,157.0 285.6,156.8 286.9,156.5 288.2,156.5 289.5,156.9 290.8,156.0 292.1,156.4 293.5,156.4 294.8,156.6 296.1,156.9 297.4,157.3 298.7,156.9 300.0,157.2 301.3,157.7 302.6,157.4 303.9,157.2 305.3,158.5 306.6,157.6 307.9,157.7 309.2,157.6 310.5,157.5"/>
<polyline class="s" style="marker:url(#m11)" points="128.2,157.9 129.5,160.1 130.8,158.3 132.1,158.4 133.4,158.1 134.8,158.5 136.1,158.2 137.4,158.8 138.7,157.7 140.0,158.7 141.3,158.2 142.6,159.2 143.9,158.8 145.2,156.4 146.6,158.4 147.9,158.6 149.2,159.0 150.5,158.2 151.8,158.0 153.1,159.0 154.4,159.3 155.7,159.0 157.1,158.4 158.4,158.3 159.7,158.5 161.0,159.4 162.3,158.0 163.6,157.9 164.9,158.8 166.2,159.2 167.5,159.3 168.9,158.7 170.2,159.7 171.5,159.8 172.8,159.0 174.1,158.6 175.4,158.9 176.7,158.8 178.0,159.8 179.3,158.6 180.7,159.0 182.0,158.5 183.3,159.0 184.6,158.7 185.9,158.6 187.2,158.8 188.5,158.9 189.8,158.7 191.2,159.6 192.5,158.4 193.8,157.6 195.1,158.7 196.4,159.3 197.7,159.3 199.0,158.7 200.3,158.7 201.6,158.1 203.0,158.4 204.3,158.2 205.6,158.4 206.9,158.7 208.2,158.9 209.5,157.6 210.8,157.8 212.1,158.1 213.4,158.6 214.8,158.1 216.1,158.5 217.4,157.3 218.7,158.2 220.0,157.5 221.3,157.9 222.6,158.5 223.9,158.5 225.3,158.5 226.6,158.1 227.9,158.1 229.2,157.8 230.5,157.2 231.8,158.0 233.1,158.5 234.4,158.7 235.7,157.9 237.1,158.2 238.4,158.2 239.7,158.0 241.0,158.0 242.3,158.1 243.6,157.7 244.9,158.0 246.2,158.3 247.5,158.2 248.9,157.6 250.2,158.2 251.5,157.9 252.8,157.3 254.1,158.2 255.4,158.1 256.7,157.4 258.0,158.1 259.4,157.1 260.7,158.0 262.0,157.9 263.3,157.9 264.6,157.8 265.9,157.9 267.2,157.4 268.5,159.7 269.8,157.6 271.2,158.5 272.5,157.6 273.8,157.9 275.1,157.4 276.4,158.3 277.7,158.1 279.0,158.2 280.3,157.4 281.6,157.7 283.0,157.4 284.3,157.8 285.6,157.4 286.9,156.7 288.2,156.8 289.5,158.0 290.8,157.9 292.1,157.8 293.5,156.5 294.8,158.0 296.1,157.9 297.4,158.2 298.7,158.0 300.0,158.7 301.3,157.3 302.6,158.0 303.9,158.4 305.3,157.8 306.6,158.4 307.9,159.2 309.2,158.0 310.5,158.4"/>
<polyline class="s" style="marker:url(#m12)" points="128.2,158.3 129.5,157.9 130.8,158.1 132.1,158.4 133.4,159.0 134.8,159.3 136.1,158.6 137.4,158.4 138.7,158.7 140.0,157.8 141.3,158.1 142.6,157.6 143.9,158.4 145.2,158.0 146.6,158.4 147.9,159.3 149.2,159.3 150.5,157.6 151.8,158.8 153.1,158.8 154.4,158.5 155.7,158.8 157.1,158.3 158.4,159.0 159.7,158.9 161.0,159.0 162.3,159.1 163.6,158.4 164.9,159.7 166.2,158.8 167.5,158.7 168.9,159.5 170.2,159.7 171.5,159.7 172.8,159.5 174.1,160.1 175.4,158.9 176.7,159.5 178.0,159.9 179.3,159.7 180.7,160.1 182.0,160.4 183.3,159.7 184.6,158.6 185.9,160.7 187.2,160.6 188.5,159.7 189.8,159.0 191.2,159.6 192.5,159.5 193.8,159.4 195.1,159.2 196.4,158.7 197.7,158.2 199.0,159.2 200.3,159.4 201.6,159.0 203.0,158.4 204.3,158.2 205.6,158.4 206.9,159.1 208.2,158.6 209.5,157.7 210.8,158.4 212.1,158.5 213.4,159.2 214.8,158.2 216.1,158.1 217.4,159.0 218.7,159.0 220.0,159.0 221.3,159.4 222.6,158.1 223.9,158.8 225.3,158.2 226.6,159.2 227.9,158.1 229.2,158.6 230.5,158.6 231.8,159.0 233.1,159.1 234.4,158.9 235.7,159.6 237.1,158.0 238.4,159.2 239.7,158.8 241.0,158.8 242.3,159.0 243.6,158.9 244.9,158.1 246.2,158.1 247.5,158.2 248.9,157.6 250.2,158.6 251.5,159.3 252.8,157.4 254.1,158.9 255.4,158.8 256.7,158.8 258.0,158.3 259.4,159.0 260.7,158.0 262.0,159.1 263.3,158.3 264.6,158.3 265.9,158.8 267.2,157.8 268.5,158.4 269.8,159.1 271.2,157.2 272.5,158.8 273.8,157.6 275.1,158.9 276.4,159.1 277.7,158.3 279.0,157.6 280.3,158.1 281.6,157.2 283.0,157.7 284.3,157.8 285.6,157.9 286.9,157.3 288.2,157.6 289.5,157.3 290.8,158.3 292.1,157.8 293.5,157.5 294.8,157.2 296.1,157.7 297.4,158.3 298.7,157.4 300.0,157.7 301.3,158.0 302.6,157.7 303.9,158.2 305.3,159.5 306.6,158.9 307.9,158.5 309.2,159.5 310.5,158.6"/>
<polyline class="s" style="marker:url(#m13)" points="128.2,159.2 129.5,158.9 130.8,159.8 132.1,159.5 133.4,159.4 134.8,158.9 136.1,158.9 137.4,159.5 138.7,159.5 140.0,159.8 141.3,159.3 142.6,159.1 143.9,159.4 145.2,158.7 146.6,159.0 147.9,158.9 149.2,159.5 150.5,158.6 151.8,158.9 153.1,159.1 154.4,159.4 155.7,159.1 157.1,159.4 158.4,159.1 159.7,158.8 161.0,159.4 162.3,159.9 163.6,159.4 164.9,159.4 166.2,159.6 167.5,159.7 168.9,159.6 170.2,159.0 171.5,160.0 172.8,160.4 174.1,158.8 175.4,159.5 176.7,159.9 178.0,159.6 179.3,158.9 180.7,160.7 182.0,159.5 183.3,160.5 184.6,159.7 185.9,159.7 187.2,159.4 188.5,159.9 189.8,160.0 191.2,160.5 192.5,159.9 193.8,159.7 195.1,159.8 196.4,158.9 197.7,159.9 199.0,160.9 200.3,159.6 201.6,159.6 203.0,159.4 204.3,159.1 205.6,159.9 206.9,158.2 208.2,160.0 209.5,159.5 210.8,158.7 212.1,159.4 213.4,158.4 214.8,159.5 216.1,158.4 217.4,159.6 218.7,159.2 220.0,158.3 221.3,157.7 222.6,158.7 223.9,158.8 225.3,158.8 226.6,158.9 227.9,159.1 229.2,158.6 230.5,158.7 231.8,159.1 233.1,160.3 234.4,159.2 235.7,158.7 237.1,159.1 238.4,159.6 239.7,159.4 241.0,158.8 242.3,159.3 243.6,158.2 244.9,159.0 246.2,159.2 247.5,158.5 248.9,159.4 250.2,158.7 251.5,158.7 252.8,158.3 254.1,158.7 255.4,158.8 256.7,158.8 258.0,158.3 259.4,158.7 260.7,158.7 262.0,158.9 263.3,158.6 264.6,158.6 265.9,159.9 267.2,159.4 268.5,158.3 269.8,159.2 271.2,158.4 272.5,158.7 273.8,158.7 275.1,158.6 276.4,158.6 277.7,158.4 279.0,158.8 280.3,159.0 281.6,159.1 283.0,157.2 284.3,159.1 285.6,158.2 286.9,157.6 288.2,158.3 289.5,159.3 290.8,159.0 292.1,158.9 293.5,158.0 294.8,159.1 296.1,159.1 297.4,159.1 298.7,159.0 300.0,158.3 301.3,158.3 302.6,158.4 303.9,158.8 305.3,158.9 306.6,158.9 307.9,158.8 309.2,158.4 310.5,159.1"/>
<polyline class="s" style="marker:url(#m14)" points="128.2,159.5 129.5,159.7 130.8,159.8 132.1,159.6 133.4,159.1 134.8,159.3 136.1,159.1 137.4,159.6 138.7,159.1 140.0,159.7 141.3,159.9 142.6,159.4 143.9,159.9 145.2,159.3 146.6,160.4 147.9,159.0 149.2,159.2 150.5,159.6 151.8,159.1 153.1,159.5 154.4,159.2 155.7,159.6 157.1,159.8 158.4,160.3 159.7,159.3 161.0,160.1 162.3,160.0 163.6,159.8 164.9,160.3 166.2,160.0 167.5,160.1 168.9,160.0 170.2,159.8 171.5,159.9 172.8,160.4 174.1,159.8 175.4,160.5 176.7,159.7 178.0,160.0 179.3,160.8 180.7,160.1 182.0,160.3 183.3,160.4 184.6,160.3 185.9,160.5 187.2,160.9 188.5,160.0 189.8,159.9 191.2,160.8 192.5,159.6 193.8,159.6 195.1,159.3 196.4,160.3 197.7,159.9 199.0,159.7 200.3,159.3 201.6,158.7 203.0,159.2 204.3,160.1 205.6,159.4 206.9,160.0 208.2,159.7 209.5,159.9 210.8,159.0 212.1,159.9 213.4,159.0 214.8,159.3 216.1,160.6 217.4,159.1 218.7,159.4 220.0,159.7 221.3,159.5 222.6,159.1 223.9,159.6 225.3,159.4 226.6,159.6 227.9,159.5 229.2,159.9 230.5,159.4 231.8,159.4 233.1,159.2 234.4,159.0 235.7,159.4 237.1,159.7 238.4,160.4 239.7,159.5 241.0,159.9 242.3,159.4 243.6,159.9 244.9,159.6 246.2,159.0 247.5,158.6 248.9,158.9 250.2,159.0 251.5,159.1 252.8,159.2 254.1,158.3 255.4,158.9 256.7,159.0 258.0,159.5 259.4,158.7 260.7,158.1 262.0,157.5 263.3,158.8 264.6,158.7 265.9,158.3 267.2,158.6 268.5,158.7 269.8,159.0 271.2,158.7 272.5,159.5 273.8,159.0 275.1,158.1 276.4,159.4 277.7,158.5 279.0,158.6 280.3,158.6 281.6,158.3 283.0,157.9 284.3,158.0 285.6,158.0 286.9,158.0 288.2,158.5 289.5,157.9 290.8,157.7 292.1,158.1 293.5,158.0 294.8,159.1 296.1,157.6 297.4,157.9 298.7,158.7 300.0,158.3 301.3,159.3 302.6,159.0 303.9,158.8 305.3,159.4 306.6,158.5 307.9,159.6 309.2,158.6 310.5,159.9"/>
<polyline class="s" style="marker:url(#m15)" points="128.2,160.2 129.5,159.9 130.8,159.8 132.1,159.8 133.4,159.4 134.8,159.4 136.1,160.7 137.4,159.8 138.7,160.4 140.0,160.6 141.3,159.5 142.6,159.8 143.9,159.6 145.2,160.1 146.6,159.8 147.9,159.4 149.2,160.3 150.5,160.3 151.8,159.6 153.1,159.6 154.4,160.2 155.7,159.7 157.1,160.6 158.4,159.8 159.7,160.2 161.0,160.1 162.3,160.9 163.6,161.6 164.9,161.0 166.2,161.2 167.5,160.3 168.9,160.2 170.2,160.6 171.5,160.8 172.8,161.0 174.1,161.2 175.4,161.0 176.7,161.3 178.0,161.1 179.3,160.2 180.7,160.9 182.0,161.1 183.3,160.8 184.6,160.6 185.9,160.7 187.2,161.3 188.5,160.3 189.8,160.3 191.2,160.0 192.5,161.0 193.8,160.3 195.1,160.5 196.4,160.6 197.7,159.1 199.0,159.6 200.3,160.0 201.6,159.7 203.0,160.5 204.3,159.8 205.6,159.9 206.9,159.7 208.2,159.8 209.5,159.3 210.8,159.4 212.1,159.8 213.4,159.7 214.8,159.3 216.1,159.0 217.4,159.3 218.7,160.0 220.0,159.9 221.3,159.3 222.6,160.4 223.9,160.4 225.3,160.3 226.6,159.8 227.9,159.6 229.2,159.6 230.5,159.2 231.8,160.2 233.1,160.5 234.4,160.7 235.7,158.0 237.1,159.7 238.4,160.4 239.7,160.2 241.0,160.3 242.3,159.2 243.6,159.2 244.9,159.4 246.2,159.0 247.5,159.6 248.9,158.9 250.2,160.2 251.5,159.5 252.8,158.5 254.1,159.6 255.4,159.0 256.7,160.0 258.0,159.4 259.4,161.0 260.7,158.7 262.0,159.8 263.3,159.6 264.6,159.9 265.9,159.3 267.2,159.3 268.5,159.0 269.8,159.2 271.2,159.3 272.5,159.3 273.8,159.3 275.1,159.4 276.4,158.8 277.7,159.5 279.0,160.2 280.3,159.4 281.6,158.0 283.0,159.1 284.3,159.6 285.6,159.2 286.9,159.3 288.2,158.9 289.5,158.9 290.8,159.5 292.1,158.8 293.5,159.7 294.8,159.3 296.1,159.6 297.4,158.4 298.7,159.8 300.0,159.3 301.3,158.8 302.6,159.9 303.9,159.7 305.3,159.3 306.6,159.7 307.9,159.7 309.2,160.6 310.5,159.9"/>
<polyline class="s" style="marker:url(#m16)" points="128.2,160.4 129.5,160.1 130.8,161.0 132.1,159.7 133.4,160.2 134.8,160.3 136.1,159.9 137.4,160.4 138.7,160.2 140.0,160.4 141.3,159.6 142.6,160.1 143.9,159.8 145.2,159.6 146.6,160.2 147.9,158.9 149.2,160.3 150.5,160.9 151.8,160.0 153.1,160.5 154.4,159.6 155.7,160.1 157.1,160.4 158.4,160.8 159.7,159.5 161.0,160.0 162.3,159.6 163.6,160.0 164.9,161.3 166.2,161.0 167.5,161.2 168.9,161.7 170.2,162.9 171.5,160.5 172.8,161.5 174.1,161.2 175.4,161.5 176.7,161.6 178.0,160.8 179.3,161.6 180.7,160.6 182.0,161.1 183.3,161.4 184.6,161.1 185.9,161.1 187.2,160.4 188.5,161.2 189.8,160.1 191.2,160.7 192.5,160.8 193.8,161.1 195.1,160.9 196.4,161.3 197.7,160.9 199.0,160.8 200.3,160.3 201.6,160.4 203.0,160.5 204.3,160.3 205.6,160.3 206.9,159.8 208.2,159.7 209.5,160.2 210.8,160.4 212.1,160.4 213.4,159.7 214.8,160.1 216.1,160.3 217.4,159.7 218.7,159.9 220.0,160.3 221.3,160.5 222.6,160.4 223.9,160.3 225.3,160.8 226.6,160.5 227.9,160.2 229.2,160.3 230.5,159.5 231.8,161.2 233.1,159.6 234.4,160.4 235.7,160.3 237.1,160.8 238.4,159.8 239.7,160.0 241.0,161.1 242.3,160.4 243.6,159.4 244.9,160.5 246.2,159.7 247.5,160.0 248.9,159.7 250.2,159.6 251.5,159.6 252.8,159.2 254.1,159.6 255.4,160.5 256.7,159.4 258.0,160.4 259.4,160.2 260.7,160.0 262.0,159.9 263.3,160.8 264.6,159.8 265.9,160.2 267.2,159.8 268.5,160.5 269.8,159.0 271.2,159.5 272.5,159.4 273.8,160.0 275.1,159.4 276.4,160.3 277.7,160.1 279.0,159.4 280.3,159.0 281.6,159.7 283.0,159.0 284.3,158.5 285.6,159.9 286.9,160.2 288.2,160.3 289.5,159.1 290.8,159.3 292.1,159.0 293.5,159.0 294.8,159.0 296.1,160.1 297.4,159.8 298.7,159.6 300.0,159.0 301.3,159.5 302.6,159.9 303.9,159.7 305.3,159.6 306.6,159.3 307.9,159.8 309.2,159.8 310.5,160.0"/>
<polyline class="s" style="marker:url(#m17)" points="128.2,160.9 129.5,161.1 130.8,161.1 132.1,160.3 133.4,161.3 134.8,160.9 136.1,161.4 137.4,160.5 138.7,160.9 140.0,160.5 141.3,160.9 142.6,161.2 143.9,161.0 145.2,160.6 146.6,160.9 147.9,160.9 149.2,160.6 150.5,159.8 151.8,160.8 153.1,161.2 154.4,160.6 155.7,161.6 157.1,161.3 158.4,161.3 159.7,160.4 161.0,160.9 162.3,160.9 163.6,161.1 164.9,161.5 166.2,160.7 167.5,161.4 168.9,161.2 170.2,161.3 171.5,160.4 172.8,161.4 174.1,161.9 175.4,162.1 176.7,161.4 178.0,161.6 179.3,161.7 180.7,161.6 182.0,161.8 183.3,161.2 184.6,161.6 185.9,162.3 187.2,161.4 188.5,161.1 189.8,161.5 191.2,162.0 192.5,161.5 193.8,160.7 195.1,160.9 196.4,161.2 197.7,161.1 199.0,161.2 200.3,160.5 201.6,160.3 203.0,160.9 204.3,160.3 205.6,160.7 206.9,160.1 208.2,161.2 209.5,160.3 210.8,160.1 212.1,160.5 213.4,160.8 214.8,161.1 216.1,159.3 217.4,160.6 218.7,161.2 220.0,161.4 221.3,160.9 222.6,160.8 223.9,160.9 225.3,161.4 226.6,160.7 227.9,159.9 229.2,160.7 230.5,160.9 231.8,160.8 233.1,160.4 234.4,160.9 235.7,160.5 237.1,160.0 238.4,160.8 239.7,161.0 241.0,160.4 242.3,160.4 243.6,161.0 244.9,159.9 246.2,160.3 247.5,160.6 248.9,161.0 250.2,160.4 251.5,159.4 252.8,161.4 254.1,161.0 255.4,159.8 256.7,160.2 258.0,160.4 259.4,161.4 260.7,160.4 262.0,160.9 263.3,161.0 264.6,160.4 265.9,160.3 267.2,160.2 268.5,160.8 269.8,160.3 271.2,160.8 272.5,160.2 273.8,158.9 275.1,160.7 276.4,160.0 277.7,159.5 279.0,160.3 280.3,160.0 281.6,159.9 283.0,160.9 284.3,160.7 285.6,159.4 286.9,160.1 288.2,159.4 289.5,159.8 290.8,160.3 292.1,160.0 293.5,159.9 294.8,160.2 296.1,160.0 297.4,160.6 298.7,159.6 300.0,159.7 301.3,159.9 302.6,160.7 303.9,160.3 305.3,160.3 306.6,160.2 307.9,161.2 309.2,160.2 310.5,160.6"/>
<polyline class="s" style="marker:url(#m18)" points="128.2,161.2 129.5,161.7 130.8,161.3 132.1,161.4 133.4,161.7 134.8,161.0 136.1,162.0 137.4,161.9 138.7,161.3 140.0,161.1 141.3,161.3 142.6,160.9 143.9,161.4 145.2,161.5 146.6,160.4 147.9,161.8 149.2,161.0 150.5,159.9 151.8,161.7 153.1,160.7 154.4,161.7 155.7,161.2 157.1,161.3 158.4,161.2 159.7,163.0 161.0,161.7 162.3,161.0 163.6,161.4 164.9,161.2 166.2,161.7 167.5,161.5 168.9,162.6 170.2,161.2 171.5,161.0 172.8,163.6 174.1,161.8 175.4,162.0 176.7,161.3 178.0,163.6 179.3,162.0 180.7,162.1 182.0,162.1 183.3,162.4 184.6,161.3 185.9,161.5 187.2,161.5 188.5,162.1 189.8,161.5 191.2,161.7 192.5,161.5 193.8,161.0 195.1,161.5 196.4,161.5 197.7,161.7 199.0,161.0 200.3,161.5 201.6,161.2 203.0,161.0 204.3,161.3 205.6,161.1 206.9,160.3 208.2,161.4 209.5,160.7 210.8,160.2 212.1,160.8 213.4,162.5 214.8,161.4 216.1,160.5 217.4,160.8 218.7,160.8 220.0,161.1 221.3,161.6 222.6,161.1 223.9,160.9 225.3,160.8 226.6,160.8 227.9,161.2 229.2,161.4 230.5,161.3 231.8,162.1 233.1,161.3 234.4,160.4 235.7,161.7 237.1,161.4 238.4,161.4 239.7,161.0 241.0,161.5 242.3,160.8 243.6,161.8 244.9,160.6 246.2,161.1 247.5,160.3 248.9,160.4 250.2,159.8 251.5,160.2 252.8,161.1 254.1,160.3 255.4,160.9 256.7,160.8 258.0,160.6 259.4,160.3 260.7,160.9 262.0,160.3 263.3,161.0 264.6,160.2 265.9,160.2 267.2,161.2 268.5,160.5 269.8,161.4 271.2,160.1 272.5,160.0 273.8,160.0 275.1,160.7 276.4,160.2 277.7,159.8 279.0,159.6 280.3,160.8 281.6,160.7 283.0,159.6 284.3,159.6 285.6,160.1 286.9,159.9 288.2,160.1 289.5,160.2 290.8,159.6 292.1,159.9 293.5,160.3 294.8,159.9 296.1,160.4 297.4,160.2 298.7,162.2 300.0,160.2 301.3,160.8 302.6,161.5 303.9,161.0 305.3,160.6 306.6,161.2 307.9,160.2 309.2,161.3 310.5,161.4"/>
<polyline class="s" style="marker:url(#m6)" points="128.2,161.7 129.5,161.9 130.8,161.3 132.1,161.6 133.4,161.6 134.8,161.2 136.1,161.5 137.4,162.3 138.7,161.2 140.0,161.5 141.3,161.5 142.6,161.4 143.9,161.4 145.2,161.8 146.6,161.9 147.9,162.2 149.2,161.1 150.5,162.5 151.8,161.5 153.1,162.1 154.4,161.3 155.7,162.1 157.1,160.9 158.4,161.5 159.7,161.7 161.0,162.1 162.3,161.4 163.6,161.7 164.9,162.0 166.2,161.8 167.5,162.4 168.9,162.9 170.2,161.7 171.5,162.3 172.8,161.5 174.1,162.0 175.4,162.4 176.7,164.0 178.0,161.6 179.3,162.1 180.7,162.1 182.0,162.7 183.3,162.2 184.6,161.8 185.9,162.8 187.2,161.9 188.5,162.2 189.8,162.1 191.2,162.6 192.5,160.9 193.8,162.3 195.1,162.7 196.4,161.9 197.7,162.5 199.0,162.7 200.3,161.8 201.6,161.6 203.0,161.9 204.3,162.0 205.6,160.4 206.9,162.0 208.2,161.5 209.5,161.6 210.8,161.1 212.1,161.3 213.4,159.8 214.8,161.2 216.1,161.1 217.4,161.5 218.7,161.4 220.0,161.4 221.3,162.5 222.6,161.9 223.9,161.0 225.3,162.0 226.6,162.0 227.9,161.0 229.2,162.1 230.5,162.3 231.8,161.9 233.1,161.4 234.4,161.1 235.7,161.7 237.1,162.0 238.4,161.7 239.7,161.2 241.0,161.7 242.3,162.0 243.6,161.5 244.9,159.9 246.2,161.3 247.5,161.4 248.9,161.0 250.2,161.2 251.5,161.3 252.8,161.1 254.1,161.0 255.4,161.1 256.7,160.4 258.0,161.7 259.4,161.4 260.7,161.2 262.0,161.6 263.3,161.2 264.6,160.5 265.9,158.5 267.2,160.9 268.5,159.9 269.8,161.8 271.2,162.0 272.5,161.4 273.8,158.4 275.1,161.0 276.4,160.2 277.7,160.6 279.0,161.0 280.3,160.6 281.6,160.9 283.0,160.5 284.3,161.2 285.6,160.8 286.9,160.1 288.2,160.0 289.5,160.6 290.8,160.7 292.1,160.7 293.5,161.1 294.8,160.9 296.1,160.3 297.4,161.5 298.7,161.0 300.0,160.9 301.3,160.9 302.6,161.6 303.9,161.6 305.3,161.1 306.6,161.2 307.9,161.7 309.2,161.6 310.5,161.9"/>
<polyline class="s" style="marker:url(#m17)" points="128.2,162.6 129.5,162.7 130.8,162.0 132.1,163.0 133.4,162.1 134.8,161.8 136.1,162.5 137.4,161.6 138.7,162.0 140.0,162.3 141.3,161.7 142.6,162.8 143.9,162.1 145.2,162.5 146.6,161.5 147.9,162.4 149.2,161.7 150.5,162.5 151.8,162.0 153.1,162.3 154.4,161.9 155.7,163.0 157.1,161.2 158.4,162.3 159.7,162.3 161.0,161.8 162.3,162.5 163.6,162.6 164.9,162.4 166.2,162.0 167.5,162.7 168.9,162.5 170.2,162.7 171.5,162.7 172.8,162.9 174.1,163.0 175.4,162.7 176.7,163.0 178.0,162.0 179.3,162.6 180.7,162.4 182.0,162.7 183.3,162.6 184.6,162.8 185.9,162.4 187.2,162.0 188.5,162.5 189.8,164.4 191.2,162.5 192.5,162.2 193.8,161.9 195.1,162.4 196.4,162.7 197.7,161.7 199.0,162.3 200.3,162.2 201.6,161.0 203.0,161.7 204.3,161.5 205.6,161.6 206.9,162.0 208.2,161.8 209.5,161.8 210.8,161.5 212.1,162.2 213.4,161.8 214.8,161.5 216.1,161.2 217.4,161.5 218.7,161.8 220.0,161.1 221.3,161.6 222.6,161.4 223.9,161.4 225.3,162.2 226.6,161.8 227.9,161.7 229.2,161.7 230.5,160.8 231.8,162.3 233.1,162.6 234.4,162.7 235.7,161.0 237.1,161.7 238.4,162.0 239.7,161.9 241.0,161.1 242.3,161.9 243.6,162.0 244.9,161.6 246.2,161.8 247.5,161.7 248.9,162.0 250.2,162.4 251.5,162.5 252.8,161.7 254.1,161.3 255.4,162.0 256.7,161.6 258.0,161.4 259.4,161.5 260.7,161.6 262.0,161.7 263.3,161.6 264.6,161.2 265.9,161.5 267.2,160.8 268.5,160.7 269.8,161.6 271.2,161.8 272.5,161.3 273.8,161.6 275.1,161.7 276.4,162.1 277.7,161.1 279.0,161.6 280.3,161.0 281.6,161.1 283.0,161.2 284.3,161.6 285.6,160.8 286.9,160.6 288.2,161.6 289.5,160.8 290.8,161.8 292.1,161.1 293.5,161.2 294.8,160.8 296.1,160.5 297.4,161.1 298.7,161.3 300.0,161.3 301.3,161.5 302.6,161.0 303.9,161.8 305.3,161.7 306.6,162.1 307.9,162.0 309.2,161.8 310.5,161.5"/>
<polyline class="s" style="marker:url(#m19)" points="128.2,162.8 129.5,162.5 130.8,162.2 132.1,162.3 133.4,161.6 134.8,163.0 136.1,162.9 137.4,162.1 138.7,163.1 140.0,162.2 141.3,162.3 142.6,161.8 143.9,162.1 145.2,161.9 146.6,161.9 147.9,162.4 149.2,161.8 150.5,163.0 151.8,162.9 153.1,162.7 154.4,162.8 155.7,163.1 157.1,162.3 158.4,162.1 159.7,162.7 161.0,162.6 162.3,162.8 163.6,163.3 164.9,163.0 166.2,162.1 167.5,162.9 168.9,163.1 170.2,162.8 171.5,163.5 172.8,162.8 174.1,163.2 175.4,162.3 176.7,162.5 178.0,163.9 179.3,162.7 180.7,163.2 182.0,163.5 183.3,163.3 184.6,162.7 185.9,163.6 187.2,163.6 188.5,162.8 189.8,163.8 191.2,163.0 192.5,163.3 193.8,162.6 195.1,163.1 196.4,162.2 197.7,162.8 199.0,162.4 200.3,162.6 201.6,163.0 203.0,162.5 204.3,162.4 205.6,162.1 206.9,161.6 208.2,162.2 209.5,161.4 210.8,161.6 212.1,162.2 213.4,161.6 214.8,162.3 216.1,161.5 217.4,162.9 218.7,162.5 220.0,162.4 221.3,162.8 222.6,161.9 223.9,162.5 225.3,161.4 226.6,162.0 227.9,162.3 229.2,163.2 230.5,162.3 231.8,162.9 233.1,163.1 234.4,162.6 235.7,162.4 237.1,161.8 238.4,162.5 239.7,162.7 241.0,162.3 242.3,162.5 243.6,161.9 244.9,162.0 246.2,161.8 247.5,162.6 248.9,162.4 250.2,162.5 251.5,160.0 252.8,162.5 254.1,162.7 255.4,161.6 256.7,161.9 258.0,162.1 259.4,162.0 260.7,162.4 262.0,162.3 263.3,161.5 264.6,161.7 265.9,161.6 267.2,162.3 268.5,161.9 269.8,161.6 271.2,162.0 272.5,159.7 273.8,161.5 275.1,162.2 276.4,162.5 277.7,161.1 279.0,162.2 280.3,161.1 281.6,162.0 283.0,161.5 284.3,161.2 285.6,161.8 286.9,161.1 288.2,161.9 289.5,160.8 290.8,161.7 292.1,161.5 293.5,161.8 294.8,162.6 296.1,160.7 297.4,162.2 298.7,160.8 300.0,161.1 301.3,161.4 302.6,162.0 303.9,162.4 305.3,161.6 306.6,162.1 307.9,162.1 309.2,162.7 310.5,161.7"/>
<polyline class="s" style="marker:url(#m8)" points="128.2,164.2 129.5,162.9 130.8,162.4 132.1,162.7 133.4,162.5 134.8,162.4 136.1,163.2 137.4,162.3 138.7,162.4 140.0,162.6 141.3,161.9 142.6,162.7 143.9,162.7 145.2,162.5 146.6,162.8 147.9,162.6 149.2,162.5 150.5,162.6 151.8,162.9 153.1,162.5 154.4,162.3 155.7,162.6 157.1,162.3 158.4,162.6 159.7,163.1 161.0,162.9 162.3,162.4 163.6,163.2 164.9,162.0 166.2,163.5 167.5,163.4 168.9,163.6 170.2,163.5 171.5,163.1 172.8,163.5 174.1,162.7 175.4,163.7 176.7,163.6 178.0,163.2 179.3,163.6 180.7,163.9 182.0,163.2 183.3,163.5 184.6,163.4 185.9,163.8 187.2,164.0 188.5,162.9 189.8,163.8 191.2,163.3 192.5,163.2 193.8,163.4 195.1,162.8 196.4,162.8 197.7,163.0 199.0,162.5 200.3,162.4 201.6,162.5 203.0,162.4 204.3,162.6 205.6,163.3 206.9,162.8 208.2,163.6 209.5,162.9 210.8,162.6 212.1,162.1 213.4,162.9 214.8,162.4 216.1,162.9 217.4,162.7 218.7,162.7 220.0,163.0 221.3,162.8 222.6,162.2 223.9,162.8 225.3,162.9 226.6,162.8 227.9,162.3 229.2,163.5 230.5,165.0 231.8,162.7 233.1,162.7 234.4,162.8 235.7,162.3 237.1,163.6 238.4,162.9 239.7,163.3 241.0,162.0 242.3,162.5 243.6,162.7 244.9,161.9 246.2,162.8 247.5,162.5 248.9,162.2 250.2,162.2 251.5,162.8 252.8,161.9 254.1,162.0 255.4,162.7 256.7,161.9 258.0,162.3 259.4,162.2 260.7,162.6 262.0,161.8 263.3,162.1 264.6,163.1 265.9,163.2 267.2,162.6 268.5,162.5 269.8,161.7 271.2,161.8 272.5,162.1 273.8,162.3 275.1,162.6 276.4,161.9 277.7,162.3 279.0,161.9 280.3,162.0 281.6,161.3 283.0,161.2 284.3,160.8 285.6,161.8 286.9,161.3 288.2,161.5 289.5,161.0 290.8,161.6 292.1,161.8 293.5,161.9 294.8,161.6 296.1,161.6 297.4,161.3 298.7,161.5 300.0,162.0 301.3,161.7 302.6,162.3 303.9,161.9 305.3,162.4 306.6,161.9 307.9,163.2 309.2,162.4 310.5,163.2"/>
<polyline class="s" style="marker:url(#m20)" points="128.2,163.2 129.5,163.3 130.8,163.5 132.1,164.2 133.4,163.8 134.8,162.8 136.1,163.0 137.4,162.7 138.7,163.6 140.0,163.4 141.3,163.2 142.6,163.8 143.9,163.2 145.2,162.9 146.6,163.2 147.9,163.6 149.2,162.9 150.5,163.3 151.8,163.5 153.1,163.8 154.4,163.7 155.7,164.0 157.1,163.7 158.4,163.6 159.7,163.3 161.0,164.1 162.3,163.7 163.6,163.9 164.9,163.0 166.2,164.2 167.5,164.1 168.9,163.9 170.2,163.9 171.5,163.6 172.8,163.9 174.1,164.7 175.4,164.3 176.7,163.8 178.0,164.0 179.3,164.4 180.7,164.7 182.0,163.8 183.3,163.8 184.6,163.8 185.9,163.8 187.2,164.2 188.5,163.5 189.8,163.7 191.2,163.9 192.5,164.2 193.8,164.0 195.1,163.5 196.4,163.4 197.7,164.1 199.0,163.5 200.3,164.0 201.6,162.8 203.0,164.1 204.3,163.3 205.6,163.4 206.9,163.5 208.2,162.9 209.5,163.1 210.8,162.2 212.1,162.9 213.4,163.1 214.8,162.5 216.1,163.6 217.4,163.5 218.7,162.7 220.0,162.5 221.3,163.3 222.6,162.5 223.9,163.3 225.3,163.4 226.6,162.5 227.9,164.4 229.2,162.8 230.5,163.2 231.8,162.7 233.1,162.8 234.4,163.6 235.7,163.6 237.1,163.4 238.4,163.5 239.7,163.3 241.0,163.5 242.3,163.4 243.6,162.8 244.9,162.8 246.2,162.5 247.5,162.8 248.9,163.1 250.2,162.9 251.5,162.4 252.8,162.6 254.1,162.8 255.4,162.7 256.7,163.4 258.0,162.6 259.4,163.4 260.7,162.6 262.0,163.4 263.3,163.2 264.6,163.5 265.9,162.4 267.2,162.4 268.5,162.5 269.8,160.7 271.2,162.6 272.5,163.4 273.8,162.7 275.1,161.5 276.4,162.1 277.7,162.7 279.0,162.9 280.3,162.0 281.6,161.9 283.0,162.0 284.3,161.9 285.6,161.4 286.9,161.9 288.2,162.8 289.5,162.7 290.8,162.0 292.1,162.9 293.5,162.7 294.8,162.3 296.1,162.1 297.4,162.2 298.7,162.4 300.0,162.8 301.3,162.6 302.6,163.2 303.9,163.2 305.3,163.9 306.6,162.6 307.9,163.4 309.2,163.2 310.5,163.3"/>
<polyline class="s" style="marker:url(#m21)" points="128.2,163.8 129.5,163.3 130.8,164.1 132.1,163.5 133.4,163.9 134.8,163.0 136.1,162.8 137.4,163.3 138.7,162.5 140.0,164.0 141.3,164.1 142.6,163.0 143.9,163.9 145.2,162.1 146.6,163.5 147.9,163.3 149.2,163.4 150.5,163.5 151.8,163.2 153.1,164.2 154.4,163.2 155.7,163.7 157.1,164.1 158.4,163.9 159.7,163.0 161.0,163.7 162.3,163.3 163.6,164.1 164.9,163.7 166.2,164.6 167.5,164.0 168.9,163.3 170.2,163.5 171.5,164.2 172.8,163.9 174.1,164.2 175.4,163.6 176.7,164.4 178.0,164.4 179.3,164.2 180.7,163.9 182.0,164.2 183.3,163.8 184.6,164.5 185.9,164.1 187.2,164.4 188.5,164.9 189.8,164.6 191.2,164.7 192.5,163.9 193.8,164.4 195.1,163.7 196.4,164.2 197.7,163.7 199.0,163.3 200.3,163.6 201.6,164.1 203.0,163.6 204.3,163.2 205.6,162.7 206.9,163.0 208.2,163.3 209.5,163.2 210.8,163.6 212.1,163.3 213.4,163.1 214.8,164.3 216.1,164.4 217.4,163.6 218.7,164.0 220.0,163.3 221.3,163.4 222.6,163.0 223.9,164.1 225.3,163.3 226.6,164.3 227.9,163.2 229.2,164.1 230.5,163.3 231.8,163.4 233.1,162.9 234.4,163.5 235.7,163.9 237.1,164.0 238.4,164.9 239.7,163.5 241.0,163.4 242.3,163.8 243.6,164.0 244.9,163.2 246.2,163.2 247.5,163.5 248.9,163.0 250.2,163.0 251.5,163.3 252.8,164.2 254.1,163.5 255.4,163.1 256.7,162.8 258.0,162.6 259.4,163.3 260.7,162.4 262.0,163.2 263.3,162.4 264.6,163.4 265.9,163.7 267.2,163.1 268.5,163.6 269.8,163.0 271.2,163.0 272.5,163.4 273.8,163.5 275.1,162.7 276.4,162.5 277.7,162.9 279.0,162.3 280.3,162.2 281.6,162.0 283.0,162.7 284.3,162.6 285.6,162.2 286.9,161.8 288.2,163.0 289.5,161.9 290.8,163.6 292.1,162.5 293.5,161.8 294.8,162.2 296.1,162.1 297.4,162.2 298.7,163.2 300.0,163.5 301.3,162.4 302.6,162.7 303.9,163.0 305.3,163.3 306.6,164.1 307.9,162.8 309.2,163.5 310.5,163.7"/>
<polyline class="s" style="marker:url(#m22)" points="128.2,164.6 129.5,164.3 130.8,163.8 132.1,165.0 133.4,164.0 134.8,163.7 136.1,164.1 137.4,163.4 138.7,163.4 140.0,163.8 141.3,163.3 142.6,164.0 143.9,163.1 145.2,163.9 146.6,163.5 147.9,164.2 149.2,164.0 150.5,163.8 151.8,164.1 153.1,164.4 154.4,164.0 155.7,163.9 157.1,163.6 158.4,163.9 159.7,164.4 161.0,164.4 162.3,164.0 163.6,164.7 164.9,164.4 166.2,164.3 167.5,164.8 168.9,164.5 170.2,164.9 171.5,164.6 172.8,165.1 174.1,164.7 175.4,164.6 176.7,165.0 178.0,164.9 179.3,164.6 180.7,164.9 182.0,165.2 183.3,164.9 184.6,165.4 185.9,165.0 187.2,164.5 188.5,164.5 189.8,165.4 191.2,165.1 192.5,163.5 193.8,163.2 195.1,165.0 196.4,164.0 197.7,164.6 199.0,165.3 200.3,164.5 201.6,163.8 203.0,164.0 204.3,164.2 205.6,163.4 206.9,163.8 208.2,163.6 209.5,163.3 210.8,163.3 212.1,163.2 213.4,163.7 214.8,163.1 216.1,163.7 217.4,164.1 218.7,163.3 220.0,163.8 221.3,164.1 222.6,163.3 223.9,163.6 225.3,163.6 226.6,163.5 227.9,163.6 229.2,163.6 230.5,163.3 231.8,164.1 233.1,163.7 234.4,162.7 235.7,164.3 237.1,163.6 238.4,163.8 239.7,164.0 241.0,164.1 242.3,163.8 243.6,164.2 244.9,163.4 246.2,163.1 247.5,166.0 248.9,163.5 250.2,162.6 251.5,163.7 252.8,163.1 254.1,164.0 255.4,162.6 256.7,163.8 258.0,163.4 259.4,163.3 260.7,163.3 262.0,163.6 263.3,162.6 264.6,161.6 265.9,162.9 267.2,162.5 268.5,164.6 269.8,164.2 271.2,163.8 272.5,163.9 273.8,163.7 275.1,163.0 276.4,162.9 277.7,162.9 279.0,163.5 280.3,163.2 281.6,162.7 283.0,162.9 284.3,163.3 285.6,163.6 286.9,162.6 288.2,162.7 289.5,163.8 290.8,162.3 292.1,162.3 293.5,162.3 294.8,163.0 296.1,163.1 297.4,163.2 298.7,163.1 300.0,162.7 301.3,162.9 302.6,163.1 303.9,163.4 305.3,163.7 306.6,164.5 307.9,164.2 309.2,164.3 310.5,164.2"/>
<polyline class="s" style="marker:url(#m4)" points="128.2,164.0 129.5,164.7 130.8,163.8 132.1,164.5 133.4,164.0 134.8,164.8 136.1,163.9 137.4,164.3 138.7,164.9 140.0,164.0 141.3,164.5 142.6,164.5 143.9,164.2 145.2,163.6 146.6,164.5 147.9,164.5 149.2,163.8 150.5,164.0 151.8,164.1 153.1,164.2 154.4,164.8 155.7,164.4 157.1,164.8 158.4,163.4 159.7,164.3 161.0,166.3 162.3,164.5 163.6,164.9 164.9,164.8 166.2,164.4 167.5,165.5 168.9,164.9 170.2,164.4 171.5,164.9 172.8,164.9 174.1,165.1 175.4,164.6 176.7,164.1 178.0,165.2 179.3,165.8 180.7,165.4 182.0,165.6 183.3,164.5 184.6,165.6 185.9,164.9 187.2,165.4 188.5,164.9 189.8,165.0 191.2,164.8 192.5,165.2 193.8,164.7 195.1,164.4 196.4,163.9 197.7,164.5 199.0,164.3 200.3,164.6 201.6,164.8 203.0,163.9 204.3,164.2 205.6,164.7 206.9,164.9 208.2,164.0 209.5,165.8 210.8,164.3 212.1,163.9 213.4,164.6 214.8,163.4 216.1,163.9 217.4,164.0 218.7,165.6 220.0,164.4 221.3,165.0 222.6,166.0 223.9,164.3 225.3,163.9 226.6,164.2 227.9,164.1 229.2,163.8 230.5,164.6 231.8,164.8 233.1,164.2 234.4,163.8 235.7,164.1 237.1,164.4 238.4,163.7 239.7,162.7 241.0,163.5 242.3,164.0 243.6,164.8 244.9,163.7 246.2,163.7 247.5,164.4 248.9,164.2 250.2,164.3 251.5,163.8 252.8,163.7 254.1,164.4 255.4,163.8 256.7,164.5 258.0,164.3 259.4,164.3 260.7,164.4 262.0,163.9 263.3,163.6 264.6,163.8 265.9,163.3 267.2,163.3 268.5,163.8 269.8,163.8 271.2,163.9 272.5,164.5 273.8,164.1 275.1,164.6 276.4,164.3 277.7,163.3 279.0,163.2 280.3,163.7 281.6,163.5 283.0,163.5 284.3,160.9 285.6,163.5 286.9,162.9 288.2,163.7 289.5,163.7 290.8,162.8 292.1,163.3 293.5,163.5 294.8,164.1 296.1,163.8 297.4,163.7 298.7,164.2 300.0,164.3 301.3,163.9 302.6,163.8 303.9,164.1 305.3,164.9 306.6,164.2 307.9,164.9 309.2,164.4 310.5,164.8"/>
<polyline class="s" style="marker:url(#m23)" points="128.2,165.5 129.5,165.7 130.8,165.6 132.1,165.2 133.4,165.4 134.8,164.7 136.1,165.1 137.4,164.7 138.7,164.7 140.0,164.8 141.3,164.6 142.6,165.4 143.9,165.2 145.2,164.7 146.6,164.1 147.9,164.7 149.2,164.3 150.5,164.7 151.8,164.7 153.1,164.2 154.4,164.9 155.7,165.0 157.1,165.5 158.4,165.1 159.7,165.9 161.0,164.7 162.3,165.1 163.6,165.5 164.9,164.0 166.2,164.6 167.5,164.6 168.9,165.8 170.2,165.1 171.5,165.1 172.8,165.1 174.1,165.2 175.4,165.7 176.7,165.3 178.0,165.7 179.3,165.2 180.7,166.5 182.0,165.1 183.3,165.0 184.6,165.4 185.9,165.1 187.2,165.9 188.5,165.0 189.8,165.2 191.2,164.8 192.5,164.8 193.8,165.6 195.1,164.8 196.4,165.3 197.7,164.8 199.0,165.0 200.3,164.5 201.6,165.0 203.0,164.1 204.3,164.4 205.6,164.2 206.9,164.3 208.2,164.7 209.5,164.6 210.8,164.4 212.1,164.2 213.4,164.3 214.8,164.8 216.1,164.8 217.4,164.7 218.7,163.4 220.0,164.6 221.3,164.6 222.6,163.9 223.9,165.1 225.3,164.3 226.6,164.9 227.9,166.0 229.2,164.6 230.5,165.4 231.8,164.4 233.1,165.3 234.4,164.6 235.7,164.1 237.1,164.1 238.4,163.8 239.7,164.8 241.0,165.1 242.3,164.8 243.6,164.1 244.9,164.9 246.2,165.0 247.5,164.9 248.9,165.0 250.2,164.0 251.5,164.0 252.8,165.1 254.1,164.2 255.4,164.6 256.7,164.5 258.0,164.3 259.4,164.4 260.7,163.9 262.0,165.7 263.3,164.9 264.6,164.1 265.9,164.8 267.2,164.5 268.5,164.4 269.8,164.4 271.2,163.8 272.5,162.0 273.8,164.6 275.1,164.1 276.4,163.0 277.7,164.0 279.0,164.0 280.3,163.9 281.6,163.7 283.0,163.4 284.3,162.9 285.6,162.9 286.9,163.6 288.2,164.0 289.5,163.8 290.8,163.3 292.1,163.8 293.5,163.7 294.8,163.9 296.1,164.0 297.4,163.7 298.7,164.3 300.0,163.8 301.3,164.0 302.6,164.3 303.9,164.0 305.3,164.0 306.6,164.8 307.9,164.9 309.2,165.7 310.5,165.3"/>
<polyline class="s" style="marker:url(#m16)" points="128.2,165.2 129.5,165.5 130.8,165.0 132.1,164.9 133.4,165.5 134.8,165.5 136.1,165.2 137.4,165.4 138.7,165.5 140.0,165.0 141.3,165.8 142.6,165.3 143.9,164.6 145.2,165.9 146.6,165.5 147.9,165.4 149.2,165.6 150.5,165.7 151.8,164.4 153.1,165.0 154.4,165.5 155.7,165.6 157.1,165.7 158.4,164.3 159.7,164.9 161.0,165.1 162.3,164.1 163.6,166.0 164.9,165.8 166.2,165.4 167.5,166.3 168.9,165.8 170.2,165.3 171.5,166.3 172.8,165.7 174.1,165.8 175.4,166.2 176.7,166.0 178.0,165.6 179.3,166.0 180.7,165.4 182.0,165.5 183.3,165.3 184.6,166.4 185.9,165.2 187.2,166.4 188.5,166.1 189.8,166.2 191.2,165.5 192.5,166.0 193.8,166.3 195.1,164.6 196.4,165.1 197.7,166.1 199.0,165.4 200.3,164.5 201.6,164.9 203.0,164.9 204.3,165.2 205.6,165.5 206.9,165.1 208.2,165.1 209.5,164.5 210.8,165.0 212.1,163.8 213.4,164.4 214.8,165.2 216.1,165.1 217.4,164.4 218.7,165.4 220.0,165.1 221.3,165.5 222.6,164.5 223.9,165.9 225.3,164.7 226.6,165.6 227.9,164.1 229.2,164.6 230.5,165.9 231.8,164.6 233.1,166.0 234.4,165.2 235.7,165.0 237.1,165.4 238.4,165.8 239.7,165.2 241.0,165.2 242.3,165.0 243.6,164.9 244.9,164.8 246.2,165.2 247.5,164.1 248.9,164.5 250.2,164.4 251.5,164.4 252.8,164.1 254.1,164.6 255.4,164.4 256.7,165.0 258.0,164.8 259.4,164.7 260.7,164.7 262.0,165.0 263.3,163.9 264.6,165.0 265.9,163.9 267.2,165.1 268.5,164.3 269.8,165.2 271.2,165.1 272.5,166.5 273.8,164.6 275.1,164.1 276.4,163.9 277.7,164.4 279.0,163.5 280.3,164.5 281.6,164.3 283.0,164.6 284.3,165.0 285.6,164.3 286.9,164.3 288.2,164.4 289.5,164.5 290.8,164.1 292.1,164.2 293.5,163.1 294.8,164.1 296.1,164.1 297.4,164.4 298.7,164.7 300.0,163.1 301.3,164.1 302.6,165.1 303.9,164.5 305.3,165.1 306.6,165.3 307.9,164.8 309.2,165.0 310.5,165.1"/>
<polyline class="s" style="marker:url(#m14)" points="128.2,165.8 129.5,166.1 130.8,166.1 132.1,165.9 133.4,166.2 134.8,165.5 136.1,166.0 137.4,166.5 138.7,164.7 140.0,166.1 141.3,165.3 142.6,165.5 143.9,166.3 145.2,165.6 146.6,165.4 147.9,165.9 149.2,165.5 150.5,165.7 151.8,166.0 153.1,165.9 154.4,166.0 155.7,165.8 157.1,165.9 158.4,166.5 159.7,165.8 161.0,166.3 162.3,166.4 163.6,166.1 164.9,166.5 166.2,166.4 167.5,166.9 168.9,166.4 170.2,166.4 171.5,166.4 172.8,166.9 174.1,166.6 175.4,166.7 176.7,166.6 178.0,165.8 179.3,168.3 180.7,165.5 182.0,167.1 183.3,166.1 184.6,166.9 185.9,166.2 187.2,166.8 188.5,167.6 189.8,166.3 191.2,166.4 192.5,166.4 193.8,165.7 195.1,165.2 196.4,165.6 197.7,166.0 199.0,166.3 200.3,165.2 201.6,165.3 203.0,165.7 204.3,165.2 205.6,166.5 206.9,164.9 208.2,165.6 209.5,165.7 210.8,164.4 212.1,165.1 213.4,165.0 214.8,165.0 216.1,165.3 217.4,166.0 218.7,165.2 220.0,165.3 221.3,164.5 222.6,165.8 223.9,165.3 225.3,165.2 226.6,165.2 227.9,164.9 229.2,166.6 230.5,165.1 231.8,165.8 233.1,165.5 234.4,165.5 235.7,165.8 237.1,165.7 238.4,165.2 239.7,165.1 241.0,165.4 242.3,164.8 243.6,165.2 244.9,165.1 246.2,165.2 247.5,165.2 248.9,164.8 250.2,164.9 251.5,165.1 252.8,164.4 254.1,165.0 255.4,164.4 256.7,165.0 258.0,164.7 259.4,165.2 260.7,165.0 262.0,164.8 263.3,165.6 264.6,165.2 265.9,164.7 267.2,164.7 268.5,164.4 269.8,163.6 271.2,165.2 272.5,164.9 273.8,164.0 275.1,164.7 276.4,165.1 277.7,164.8 279.0,164.7 280.3,164.4 281.6,164.4 283.0,164.8 284.3,164.4 285.6,164.8 286.9,164.4 288.2,164.9 289.5,164.5 290.8,164.7 292.1,164.3 293.5,163.6 294.8,164.8 296.1,164.8 297.4,164.9 298.7,165.2 300.0,164.5 301.3,164.1 302.6,165.1 303.9,165.3 305.3,165.2 306.6,165.5 307.9,165.3 309.2,165.8 310.5,165.3"/>
<polyline class="s" style="marker:url(#m24)" points="128.2,166.5 129.5,165.3 130.8,165.9 132.1,166.3 133.4,165.8 134.8,165.1 136.1,165.8 137.4,166.9 138.7,165.7 140.0,166.5 141.3,165.2 142.6,165.7 143.9,166.0 145.2,166.0 146.6,166.6 147.9,166.0 149.2,166.0 150.5,165.5 151.8,165.5 153.1,166.2 154.4,166.4 155.7,166.5 157.1,166.1 158.4,166.5 159.7,166.4 161.0,166.5 162.3,167.3 163.6,166.4 164.9,166.6 166.2,166.4 167.5,166.7 168.9,166.9 170.2,166.5 171.5,166.4 172.8,166.6 174.1,166.9 175.4,167.5 176.7,166.5 178.0,167.7 179.3,167.0 180.7,166.6 182.0,167.1 183.3,167.4 184.6,166.2 185.9,166.3 187.2,166.6 188.5,166.3 189.8,166.6 191.2,167.1 192.5,166.1 193.8,166.0 195.1,165.7 196.4,166.2 197.7,166.8 199.0,166.3 200.3,166.1 201.6,166.0 203.0,166.4 204.3,166.5 205.6,165.5 206.9,166.0 208.2,165.5 209.5,165.6 210.8,165.2 212.1,165.9 213.4,166.3 214.8,165.6 216.1,165.8 217.4,166.1 218.7,165.7 220.0,165.2 221.3,165.6 222.6,166.0 223.9,166.3 225.3,165.7 226.6,165.9 227.9,166.1 229.2,165.5 230.5,165.9 231.8,165.6 233.1,165.6 234.4,166.0 235.7,166.2 237.1,166.4 238.4,166.3 239.7,166.2 241.0,166.2 242.3,165.4 243.6,165.6 244.9,166.2 246.2,165.4 247.5,165.4 248.9,165.7 250.2,165.9 251.5,165.4 252.8,164.9 254.1,165.4 255.4,165.4 256.7,165.1 258.0,165.3 259.4,165.2 260.7,165.7 262.0,165.3 263.3,165.7 264.6,165.3 265.9,166.4 267.2,165.3 268.5,165.2 269.8,164.6 271.2,166.4 272.5,166.1 273.8,165.2 275.1,165.6 276.4,165.3 277.7,165.2 279.0,165.5 280.3,165.2 281.6,164.2 283.0,165.6 284.3,165.6 285.6,165.1 286.9,165.2 288.2,165.4 289.5,164.4 290.8,166.7 292.1,165.3 293.5,164.3 294.8,165.9 296.1,165.5 297.4,165.4 298.7,165.0 300.0,165.5 301.3,165.6 302.6,166.6 303.9,166.7 305.3,165.1 306.6,166.3 307.9,166.0 309.2,165.5 310.5,165.9"/>
<polyline class="s" style="marker:url(#m25)" points="128.2,166.4 129.5,167.0 130.8,166.3 132.1,166.2 133.4,166.4 134.8,166.4 136.1,166.2 137.4,166.4 138.7,164.1 140.0,166.5 141.3,166.1 142.6,167.3 143.9,166.8 145.2,165.0 146.6,165.6 147.9,165.8 149.2,166.8 150.5,166.3 151.8,166.6 153.1,166.2 154.4,166.9 155.7,166.1 157.1,166.4 158.4,166.5 159.7,167.0 161.0,166.8 162.3,167.0 163.6,167.1 164.9,166.6 166.2,166.3 167.5,167.3 168.9,167.0 170.2,166.6 171.5,167.1 172.8,166.9 174.1,167.0 175.4,166.2 176.7,166.6 178.0,166.9 179.3,167.8 180.7,166.8 182.0,167.2 183.3,167.6 184.6,167.1 185.9,167.1 187.2,167.4 188.5,167.3 189.8,167.6 191.2,167.5 192.5,166.8 193.8,167.0 195.1,166.7 196.4,167.0 197.7,166.5 199.0,166.5 200.3,166.3 201.6,165.6 203.0,166.2 204.3,166.4 205.6,165.9 206.9,166.3 208.2,165.7 209.5,166.8 210.8,164.8 212.1,166.7 213.4,165.8 214.8,165.7 216.1,165.2 217.4,166.4 218.7,166.3 220.0,166.5 221.3,166.3 222.6,166.0 223.9,166.1 225.3,167.4 226.6,165.4 227.9,166.8 229.2,166.5 230.5,165.6 231.8,166.1 233.1,166.9 234.4,167.3 235.7,166.0 237.1,166.8 238.4,166.1 239.7,165.8 241.0,165.6 242.3,166.1 243.6,166.1 244.9,166.2 246.2,165.6 247.5,166.0 248.9,166.3 250.2,165.6 251.5,165.0 252.8,166.0 254.1,165.6 255.4,165.4 256.7,166.2 258.0,165.9 259.4,166.1 260.7,166.3 262.0,165.8 263.3,166.4 264.6,165.9 265.9,165.8 267.2,166.1 268.5,165.0 269.8,165.7 271.2,166.2 272.5,165.4 273.8,165.7 275.1,166.2 276.4,165.0 277.7,166.0 279.0,165.2 280.3,165.5 281.6,165.0 283.0,165.2 284.3,165.9 285.6,165.9 286.9,165.6 288.2,165.2 289.5,164.7 290.8,165.1 292.1,165.9 293.5,164.5 294.8,165.0 296.1,165.4 297.4,165.1 298.7,166.0 300.0,165.5 301.3,165.8 302.6,165.5 303.9,166.1 305.3,165.5 306.6,166.1 307.9,166.8 309.2,166.3 310.5,166.7"/>
<polyline class="s" style="marker:url(#m26)" points="128.2,166.7 129.5,165.8 130.8,166.4 132.1,167.1 133.4,166.6 134.8,166.8 136.1,167.2 137.4,166.0 138.7,167.3 140.0,166.7 141.3,166.3 142.6,165.8 143.9,166.5 145.2,166.2 146.6,167.1 147.9,166.8 149.2,166.0 150.5,166.6 151.8,167.0 153.1,167.2 154.4,166.4 155.7,167.7 157.1,166.4 158.4,167.0 159.7,167.1 161.0,167.8 162.3,167.4 163.6,167.5 164.9,166.5 166.2,166.8 167.5,166.2 168.9,166.6 170.2,166.3 171.5,167.3 172.8,167.6 174.1,167.6 175.4,167.8 176.7,166.2 178.0,168.0 179.3,167.0 180.7,167.5 182.0,167.7 183.3,167.2 184.6,167.4 185.9,167.9 187.2,167.6 188.5,167.4 189.8,166.9 191.2,167.0 192.5,167.1 193.8,166.9 195.1,166.6 196.4,166.7 197.7,166.2 199.0,167.3 200.3,166.8 201.6,166.7 203.0,166.6 204.3,166.2 205.6,166.6 206.9,166.3 208.2,166.4 209.5,166.3 210.8,166.4 212.1,166.4 213.4,166.4 214.8,165.8 216.1,166.4 217.4,165.7 218.7,167.2 220.0,166.3 221.3,167.1 222.6,166.4 223.9,166.7 225.3,166.8 226.6,166.1 227.9,166.0 229.2,167.1 230.5,167.2 231.8,166.8 233.1,166.6 234.4,166.6 235.7,167.0 237.1,166.5 238.4,166.2 239.7,166.9 241.0,166.5 242.3,166.6 243.6,166.3 244.9,166.5 246.2,166.6 247.5,167.0 248.9,166.6 250.2,167.2 251.5,166.0 252.8,165.9 254.1,166.6 255.4,165.1 256.7,166.7 258.0,166.0 259.4,165.6 260.7,166.0 262.0,166.5 263.3,166.8 264.6,166.3 265.9,166.4 267.2,166.4 268.5,166.5 269.8,166.6 271.2,166.3 272.5,166.3 273.8,166.1 275.1,166.7 276.4,164.7 277.7,166.3 279.0,166.0 280.3,166.0 281.6,166.2 283.0,166.1 284.3,166.1 285.6,166.1 286.9,165.0 288.2,165.5 289.5,165.2 290.8,166.4 292.1,166.3 293.5,166.0 294.8,166.6 296.1,166.1 297.4,165.7 298.7,165.9 300.0,166.1 301.3,166.0 302.6,166.1 303.9,166.1 305.3,166.5 306.6,166.7 307.9,166.1 309.2,167.8 310.5,166.5"/>
<polyline class="s" style="marker:url(#m20)" points="128.2,167.3 129.5,167.2 130.8,167.2 132.1,167.3 133.4,166.8 134.8,167.1 136.1,167.1 137.4,167.3 138.7,167.5 140.0,166.1 141.3,167.2 142.6,167.2 143.9,166.9 145.2,166.6 146.6,166.6 147.9,166.5 149.2,166.8 150.5,165.1 151.8,166.9 153.1,166.5 154.4,166.3 155.7,166.8 157.1,168.2 158.4,167.7 159.7,166.8 161.0,166.8 162.3,167.9 163.6,167.0 164.9,167.3 166.2,167.8 167.5,167.9 168.9,167.0 170.2,168.1 171.5,168.0 172.8,168.0 174.1,166.1 175.4,167.8 176.7,167.4 178.0,168.2 179.3,168.1 180.7,168.2 182.0,167.4 183.3,167.4 184.6,168.2 185.9,167.4 187.2,168.0 188.5,167.3 189.8,168.6 191.2,167.8 192.5,166.9 193.8,168.1 195.1,167.2 196.4,167.1 197.7,167.3 199.0,167.3 200.3,167.3 201.6,167.3 203.0,166.3 204.3,167.2 205.6,166.7 206.9,166.8 208.2,167.0 209.5,166.2 210.8,166.4 212.1,166.0 213.4,166.7 214.8,167.0 216.1,166.8 217.4,167.2 218.7,166.3 220.0,166.9 221.3,166.6 222.6,167.3 223.9,167.1 225.3,166.7 226.6,167.5 227.9,166.8 229.2,167.2 230.5,166.7 231.8,166.7 233.1,164.5 234.4,167.0 235.7,167.2 237.1,167.0 238.4,167.2 239.7,167.2 241.0,167.5 242.3,166.8 243.6,167.3 244.9,167.1 246.2,168.1 247.5,166.9 248.9,167.1 250.2,166.6 251.5,166.5 252.8,165.6 254.1,165.8 255.4,166.3 256.7,167.0 258.0,166.3 259.4,166.9 260.7,167.5 262.0,166.8 263.3,167.1 264.6,166.9 265.9,167.0 267.2,166.7 268.5,166.6 269.8,167.0 271.2,167.2 272.5,167.0 273.8,165.9 275.1,167.1 276.4,166.1 277.7,166.8 279.0,165.8 280.3,166.5 281.6,165.7 283.0,166.2 284.3,166.3 285.6,166.7 286.9,165.5 288.2,166.3 289.5,165.8 290.8,166.5 292.1,166.0 293.5,166.2 294.8,166.5 296.1,167.0 297.4,166.4 298.7,166.4 300.0,166.8 301.3,167.0 302.6,167.1 303.9,166.6 305.3,166.7 306.6,167.3 307.9,166.9 309.2,168.0 310.5,167.8"/>
<polyline class="s" style="marker:url(#m27)" points="128.2,167.3 129.5,167.9 130.8,168.5 132.1,168.2 133.4,167.8 134.8,169.1 136.1,167.7 137.4,167.5 138.7,167.2 140.0,167.2 141.3,167.6 142.6,167.5 143.9,168.2 145.2,167.5 146.6,166.9 147.9,167.3 149.2,167.8 150.5,167.5 151.8,167.6 153.1,167.2 154.4,167.7 155.7,166.5 157.1,167.7 158.4,168.3 159.7,168.2 161.0,167.9 162.3,168.8 163.6,167.6 164.9,167.8 166.2,168.1 167.5,168.1 168.9,168.2 170.2,169.4 171.5,167.5 172.8,168.4 174.1,168.5 175.4,168.6 176.7,168.1 178.0,168.2 179.3,169.5 180.7,168.0 182.0,168.5 183.3,168.6 184.6,167.9 185.9,168.5 187.2,168.1 188.5,167.9 189.8,168.8 191.2,167.8 192.5,168.4 193.8,167.7 195.1,168.4 196.4,167.8 197.7,167.5 199.0,167.3 200.3,168.2 201.6,167.4 203.0,168.8 204.3,167.8 205.6,167.1 206.9,168.1 208.2,167.5 209.5,167.3 210.8,167.0 212.1,167.2 213.4,167.1 214.8,166.7 216.1,167.6 217.4,167.6 218.7,167.6 220.0,167.7 221.3,166.9 222.6,166.4 223.9,167.2 225.3,167.6 226.6,168.5 227.9,168.2 229.2,167.8 230.5,167.7 231.8,168.0 233.1,166.9 234.4,167.7 235.7,167.7 237.1,166.6 238.4,168.0 239.7,166.7 241.0,166.7 242.3,167.6 243.6,167.9 244.9,168.0 246.2,167.4 247.5,167.5 248.9,167.2 250.2,168.1 251.5,167.7 252.8,167.4 254.1,166.0 255.4,166.8 256.7,167.1 258.0,167.5 259.4,168.7 260.7,166.7 262.0,168.8 263.3,166.0 264.6,166.9 265.9,165.9 267.2,167.3 268.5,166.4 269.8,166.4 271.2,169.1 272.5,168.1 273.8,165.3 275.1,167.2 276.4,166.8 277.7,166.6 279.0,166.8 280.3,168.2 281.6,167.1 283.0,167.1 284.3,167.0 285.6,166.2 286.9,166.5 288.2,166.8 289.5,166.9 290.8,167.1 292.1,166.0 293.5,166.3 294.8,166.3 296.1,166.6 297.4,166.8 298.7,166.4 300.0,167.0 301.3,166.5 302.6,166.4 303.9,167.1 305.3,167.0 306.6,168.3 307.9,168.8 309.2,168.3 310.5,167.7"/>
<polyline class="s" style="marker:url(#m28)" points="128.2,167.8 129.5,168.3 130.8,166.8 132.1,168.2 133.4,168.1 134.8,168.1 136.1,167.9 137.4,167.9 138.7,167.5 140.0,168.4 141.3,168.6 142.6,167.7 143.9,168.0 145.2,167.9 146.6,168.0 147.9,167.7 149.2,168.1 150.5,168.3 151.8,167.4 153.1,168.5 154.4,167.5 155.7,168.5 157.1,168.3 158.4,167.7 159.7,168.2 161.0,168.3 162.3,168.3 163.6,167.9 164.9,168.8 166.2,169.1 167.5,168.6 168.9,168.0 170.2,168.8 171.5,168.5 172.8,168.8 174.1,169.9 175.4,169.2 176.7,168.3 178.0,169.6 179.3,168.1 180.7,168.8 182.0,168.5 183.3,168.4 184.6,168.5 185.9,169.5 187.2,168.5 188.5,168.4 189.8,168.6 191.2,168.5 192.5,168.5 193.8,168.7 195.1,167.8 196.4,168.3 197.7,168.3 199.0,168.3 200.3,168.2 201.6,167.9 203.0,168.8 204.3,167.8 205.6,167.7 206.9,168.4 208.2,167.4 209.5,167.7 210.8,167.9 212.1,167.7 213.4,167.2 214.8,168.5 216.1,168.1 217.4,168.1 218.7,167.9 220.0,168.2 221.3,167.6 222.6,167.7 223.9,168.4 225.3,168.1 226.6,168.1 227.9,167.4 229.2,168.8 230.5,168.4 231.8,167.2 233.1,168.1 234.4,168.2 235.7,167.4 237.1,168.6 238.4,167.8 239.7,167.8 241.0,168.3 242.3,167.7 243.6,168.5 244.9,167.8 246.2,168.3 247.5,167.0 248.9,168.0 250.2,167.7 251.5,167.6 252.8,167.6 254.1,169.2 255.4,167.1 256.7,167.7 258.0,167.8 259.4,167.9 260.7,167.4 262.0,167.6 263.3,168.5 264.6,167.6 265.9,167.2 267.2,167.5 268.5,167.3 269.8,167.6 271.2,167.6 272.5,167.4 273.8,166.5 275.1,167.4 276.4,167.1 277.7,167.1 279.0,167.6 280.3,167.0 281.6,166.9 283.0,167.4 284.3,167.4 285.6,166.7 286.9,166.3 288.2,167.1 289.5,167.0 290.8,167.4 292.1,167.1 293.5,167.7 294.8,166.4 296.1,165.0 297.4,166.6 298.7,167.6 300.0,167.4 301.3,167.1 302.6,167.3 303.9,167.5 305.3,166.8 306.6,168.0 307.9,167.5 309.2,168.3 310.5,167.7"/>
<polyline class="s" style="marker:url(#m9)" points="128.2,168.5 129.5,167.8 130.8,167.5 132.1,168.4 133.4,168.5 134.8,168.3 136.1,168.6 137.4,168.0 138.7,168.4 140.0,168.8 141.3,167.3 142.6,168.4 143.9,168.0 145.2,168.4 146.6,168.0 147.9,168.6 149.2,168.4 150.5,169.0 151.8,168.4 153.1,168.3 154.4,168.6 155.7,168.4 157.1,168.5 158.4,167.9 159.7,167.9 161.0,169.1 162.3,169.3 163.6,169.0 164.9,169.0 166.2,169.1 167.5,168.8 168.9,169.6 170.2,168.9 171.5,168.5 172.8,169.0 174.1,168.8 175.4,169.2 176.7,169.0 178.0,169.2 179.3,169.1 180.7,169.1 182.0,169.0 183.3,169.4 184.6,169.7 185.9,169.1 187.2,169.1 188.5,168.8 189.8,169.4 191.2,168.4 192.5,168.7 193.8,168.7 195.1,169.3 196.4,168.7 197.7,168.3 199.0,167.7 200.3,167.7 201.6,168.7 203.0,168.8 204.3,168.0 205.6,168.4 206.9,169.0 208.2,167.9 209.5,168.0 210.8,168.3 212.1,168.2 213.4,167.7 214.8,167.9 216.1,168.3 217.4,167.4 218.7,167.9 220.0,168.1 221.3,168.5 222.6,167.9 223.9,168.2 225.3,168.2 226.6,168.3 227.9,168.3 229.2,168.9 230.5,168.6 231.8,168.5 233.1,168.9 234.4,168.6 235.7,168.4 237.1,168.8 238.4,169.2 239.7,168.2 241.0,168.5 242.3,167.7 243.6,168.6 244.9,167.9 246.2,167.4 247.5,168.2 248.9,167.7 250.2,168.5 251.5,168.7 252.8,168.3 254.1,168.3 255.4,168.0 256.7,167.8 258.0,168.1 259.4,167.7 260.7,167.8 262.0,168.4 263.3,167.1 264.6,168.4 265.9,167.8 267.2,167.4 268.5,167.7 269.8,167.4 271.2,167.8 272.5,168.0 273.8,167.3 275.1,167.8 276.4,167.8 277.7,167.4 279.0,167.5 280.3,167.6 281.6,168.1 283.0,168.1 284.3,167.9 285.6,167.5 286.9,166.9 288.2,167.4 289.5,167.9 290.8,167.3 292.1,167.5 293.5,166.6 294.8,167.6 296.1,167.2 297.4,167.9 298.7,167.5 300.0,167.9 301.3,168.3 302.6,167.3 303.9,167.9 305.3,168.6 306.6,168.1 307.9,168.3 309.2,167.8 310.5,167.8"/>
<polyline class="s" style="marker:url(#m29)" points="128.2,169.0 129.5,168.9 130.8,169.1 132.1,168.3 133.4,168.6 134.8,168.3 136.1,169.5 137.4,168.9 138.7,168.5 140.0,168.1 141.3,168.7 142.6,168.0 143.9,168.7 145.2,168.6 146.6,168.4 147.9,168.6 149.2,168.6 150.5,169.3 151.8,169.3 153.1,169.4 154.4,168.5 155.7,168.2 157.1,169.0 158.4,169.0 159.7,169.5 161.0,169.6 162.3,169.4 163.6,171.0 164.9,168.5 166.2,169.7 167.5,169.7 168.9,168.7 170.2,169.4 171.5,170.0 172.8,169.0 174.1,169.1 175.4,169.2 176.7,168.8 178.0,169.4 179.3,168.7 180.7,169.7 182.0,169.9 183.3,169.5 184.6,169.7 185.9,169.6 187.2,169.8 188.5,169.9 189.8,169.5 191.2,169.5 192.5,168.7 193.8,169.3 195.1,169.0 196.4,169.7 197.7,169.9 199.0,168.8 200.3,169.1 201.6,169.7 203.0,169.1 204.3,168.4 205.6,168.6 206.9,168.6 208.2,167.6 209.5,168.4 210.8,168.6 212.1,168.5 213.4,168.5 214.8,168.7 216.1,169.3 217.4,168.4 218.7,168.5 220.0,169.0 221.3,168.2 222.6,168.9 223.9,169.5 225.3,168.3 226.6,167.3 227.9,168.6 229.2,167.6 230.5,169.4 231.8,168.4 233.1,168.8 234.4,168.8 235.7,169.0 237.1,168.7 238.4,168.3 239.7,168.0 241.0,168.3 242.3,168.0 243.6,167.6 244.9,168.5 246.2,168.4 247.5,168.5 248.9,167.8 250.2,167.8 251.5,167.8 252.8,167.9 254.1,167.6 255.4,167.9 256.7,167.6 258.0,167.9 259.4,167.9 260.7,167.7 262.0,168.2 263.3,168.1 264.6,168.7 265.9,168.5 267.2,168.2 268.5,169.8 269.8,168.2 271.2,168.5 272.5,168.2 273.8,167.9 275.1,167.8 276.4,167.9 277.7,167.3 279.0,167.9 280.3,168.3 281.6,167.6 283.0,168.2 284.3,168.1 285.6,167.5 286.9,167.6 288.2,167.3 289.5,166.7 290.8,167.7 292.1,167.9 293.5,168.1 294.8,168.9 296.1,167.2 297.4,168.5 298.7,167.5 300.0,167.9 301.3,167.8 302.6,168.6 303.9,168.7 305.3,168.1 306.6,169.0 307.9,167.8 309.2,168.2 310.5,169.1"/>
<polyline class="s" style="marker:url(#m30)" points="128.2,169.6 129.5,169.0 130.8,169.6 132.1,168.9 133.4,169.9 134.8,169.9 136.1,169.3 137.4,169.3 138.7,168.6 140.0,169.1 141.3,169.0 142.6,168.6 143.9,168.8 145.2,169.8 146.6,169.1 147.9,169.4 149.2,168.9 150.5,170.3 151.8,169.1 153.1,169.1 154.4,168.6 155.7,170.6 157.1,169.0 158.4,169.7 159.7,169.4 161.0,168.5 162.3,170.2 163.6,169.7 164.9,169.8 166.2,169.3 167.5,169.8 168.9,169.4 170.2,170.3 171.5,169.7 172.8,169.7 174.1,169.7 175.4,170.0 176.7,170.3 178.0,169.7 179.3,169.1 180.7,170.1 182.0,169.6 183.3,170.2 184.6,170.6 185.9,170.0 187.2,170.2 188.5,170.4 189.8,169.7 191.2,170.6 192.5,169.8 193.8,170.2 195.1,169.0 196.4,169.2 197.7,169.8 199.0,170.0 200.3,169.4 201.6,169.2 203.0,170.4 204.3,169.3 205.6,169.1 206.9,168.8 208.2,169.6 209.5,169.7 210.8,168.9 212.1,169.3 213.4,168.9 214.8,168.9 216.1,168.7 217.4,169.2 218.7,169.2 220.0,169.5 221.3,169.3 222.6,169.1 223.9,168.7 225.3,168.6 226.6,169.2 227.9,168.7 229.2,170.2 230.5,168.9 231.8,169.6 233.1,169.1 234.4,169.5 235.7,169.3 237.1,169.6 238.4,169.2 239.7,169.7 241.0,169.4 242.3,169.3 243.6,169.0 244.9,168.7 246.2,168.4 247.5,169.0 248.9,170.0 250.2,169.0 251.5,168.8 252.8,168.4 254.1,168.6 255.4,168.6 256.7,168.2 258.0,168.4 259.4,168.5 260.7,168.2 262.0,169.1 263.3,168.6 264.6,168.4 265.9,168.6 267.2,168.9 268.5,168.3 269.8,168.6 271.2,167.3 272.5,168.0 273.8,168.7 275.1,168.1 276.4,169.0 277.7,168.3 279.0,169.4 280.3,167.7 281.6,169.1 283.0,168.9 284.3,167.7 285.6,168.1 286.9,168.7 288.2,168.0 289.5,168.3 290.8,168.0 292.1,166.9 293.5,167.6 294.8,168.1 296.1,168.4 297.4,168.3 298.7,168.3 300.0,169.2 301.3,169.6 302.6,168.7 303.9,169.3 305.3,168.5 306.6,169.2 307.9,169.3 309.2,169.2 310.5,169.3"/>
<polyline class="s" style="marker:url(#m31)" points="128.2,169.7 129.5,169.0 130.8,169.4 132.1,169.6 133.4,169.1 134.8,169.7 136.1,170.0 137.4,168.9 138.7,169.6 140.0,169.5 141.3,169.1 142.6,169.4 143.9,170.1 145.2,169.7 146.6,169.4 147.9,169.9 149.2,169.6 150.5,169.7 151.8,169.8 153.1,169.0 154.4,169.9 155.7,169.9 157.1,169.1 158.4,169.2 159.7,169.3 161.0,170.2 162.3,169.1 163.6,169.5 164.9,169.9 166.2,169.4 167.5,170.2 168.9,170.0 170.2,170.4 171.5,169.9 172.8,170.2 174.1,170.2 175.4,170.3 176.7,170.1 178.0,169.6 179.3,169.2 180.7,170.4 182.0,171.1 183.3,170.9 184.6,170.1 185.9,169.4 187.2,170.3 188.5,170.5 189.8,167.4 191.2,170.3 192.5,169.6 193.8,169.7 195.1,169.8 196.4,169.6 197.7,170.4 199.0,169.7 200.3,169.3 201.6,169.9 203.0,169.8 204.3,170.6 205.6,169.8 206.9,169.3 208.2,170.2 209.5,169.3 210.8,170.1 212.1,169.8 213.4,169.1 214.8,170.0 216.1,169.5 217.4,169.7 218.7,169.8 220.0,169.3 221.3,170.3 222.6,169.8 223.9,170.3 225.3,169.3 226.6,170.6 227.9,167.3 229.2,170.5 230.5,170.3 231.8,169.4 233.1,168.2 234.4,169.1 235.7,170.2 237.1,170.7 238.4,169.3 239.7,170.5 241.0,169.9 242.3,169.1 243.6,170.2 244.9,169.1 246.2,169.3 247.5,169.1 248.9,167.0 250.2,169.5 251.5,169.6 252.8,169.4 254.1,168.2 255.4,168.5 256.7,169.2 258.0,168.8 259.4,169.1 260.7,169.3 262.0,169.3 263.3,170.0 264.6,169.2 265.9,169.0 267.2,168.5 268.5,168.6 269.8,169.2 271.2,168.3 272.5,168.9 273.8,168.7 275.1,168.9 276.4,168.1 277.7,168.4 279.0,169.0 280.3,168.3 281.6,168.4 283.0,168.8 284.3,168.4 285.6,168.9 286.9,168.3 288.2,168.2 289.5,168.6 290.8,168.9 292.1,168.2 293.5,168.6 294.8,168.9 296.1,168.1 297.4,169.9 298.7,168.2 300.0,168.0 301.3,168.8 302.6,168.8 303.9,168.5 305.3,168.4 306.6,169.1 307.9,169.7 309.2,169.5 310.5,169.3"/>
<polyline class="s" style="marker:url(#m32)" points="128.2,169.9 129.5,169.3 130.8,169.5 132.1,167.4 133.4,169.6 134.8,169.9 136.1,170.5 137.4,170.3 138.7,170.9 140.0,169.8 141.3,170.1 142.6,169.5 143.9,170.0 145.2,168.3 146.6,169.6 147.9,169.9 149.2,169.6 150.5,170.0 151.8,169.6 153.1,170.3 154.4,169.7 155.7,169.5 157.1,170.2 158.4,170.2 159.7,170.9 161.0,169.9 162.3,171.0 163.6,170.7 164.9,170.9 166.2,170.5 167.5,171.7 168.9,171.4 170.2,170.7 171.5,170.4 172.8,170.9 174.1,170.0 175.4,170.4 176.7,171.1 178.0,170.9 179.3,170.8 180.7,171.0 182.0,170.6 183.3,171.5 184.6,170.8 185.9,171.1 187.2,170.8 188.5,170.5 189.8,170.2 191.2,170.0 192.5,171.3 193.8,170.8 195.1,170.6 196.4,170.8 197.7,170.3 199.0,170.2 200.3,170.2 201.6,170.3 203.0,170.4 204.3,169.8 205.6,170.3 206.9,170.2 208.2,170.0 209.5,169.8 210.8,169.3 212.1,170.2 213.4,169.4 214.8,169.0 216.1,169.9 217.4,169.8 218.7,168.9 220.0,169.7 221.3,170.2 222.6,169.4 223.9,169.7 225.3,169.6 226.6,170.0 227.9,169.9 229.2,169.9 230.5,170.1 231.8,170.2 233.1,171.0 234.4,169.8 235.7,169.4 237.1,170.3 238.4,169.9 239.7,169.6 241.0,169.7 242.3,169.3 243.6,169.5 244.9,169.1 246.2,169.6 247.5,168.5 248.9,170.0 250.2,169.8 251.5,169.8 252.8,169.2 254.1,169.9 255.4,170.7 256.7,169.6 258.0,169.5 259.4,169.3 260.7,169.6 262.0,169.9 263.3,169.8 264.6,169.3 265.9,169.8 267.2,169.9 268.5,169.1 269.8,169.3 271.2,169.5 272.5,169.7 273.8,169.4 275.1,169.7 276.4,169.4 277.7,169.3 279.0,168.7 280.3,170.5 281.6,169.3 283.0,169.0 284.3,168.8 285.6,169.7 286.9,170.3 288.2,169.2 289.5,169.1 290.8,168.5 292.1,169.5 293.5,169.1 294.8,168.9 296.1,169.7 297.4,167.2 298.7,168.8 300.0,169.4 301.3,169.4 302.6,169.0 303.9,170.1 305.3,169.5 306.6,170.1 307.9,170.6 309.2,170.3 310.5,170.8"/>
<polyline class="s" style="marker:url(#m30)" points="128.2,170.5 129.5,170.6 130.8,170.9 132.1,170.4 133.4,170.0 134.8,170.6 136.1,169.8 137.4,170.0 138.7,170.5 140.0,170.1 141.3,170.4 142.6,170.0 143.9,170.2 145.2,170.5 146.6,170.5 147.9,170.6 149.2,170.8 150.5,170.1 151.8,170.8 153.1,170.9 154.4,170.7 155.7,170.2 157.1,170.6 158.4,171.4 159.7,169.2 161.0,171.0 162.3,170.7 163.6,170.2 164.9,171.0 166.2,171.6 167.5,171.1 168.9,170.3 170.2,170.5 171.5,171.3 172.8,171.0 174.1,170.1 175.4,170.3 176.7,170.6 178.0,170.9 179.3,171.5 180.7,171.1 182.0,170.5 183.3,171.2 184.6,170.5 185.9,170.5 187.2,170.2 188.5,170.6 189.8,171.1 191.2,170.9 192.5,171.3 193.8,169.7 195.1,169.8 196.4,170.5 197.7,170.6 199.0,169.7 200.3,170.9 201.6,170.4 203.0,170.4 204.3,170.2 205.6,169.5 206.9,170.6 208.2,169.6 209.5,169.4 210.8,169.7 212.1,169.6 213.4,168.5 214.8,169.9 216.1,169.0 217.4,169.3 218.7,169.8 220.0,170.0 221.3,170.6 222.6,169.4 223.9,170.2 225.3,170.3 226.6,170.3 227.9,170.0 229.2,170.0 230.5,170.1 231.8,172.1 233.1,170.0 234.4,170.0 235.7,170.7 237.1,170.2 238.4,170.9 239.7,171.1 241.0,170.6 242.3,170.5 243.6,170.6 244.9,170.0 246.2,170.5 247.5,169.9 248.9,170.1 250.2,169.7 251.5,169.7 252.8,170.2 254.1,170.9 255.4,169.7 256.7,169.8 258.0,169.6 259.4,169.8 260.7,170.2 262.0,170.4 263.3,170.4 264.6,170.4 265.9,169.7 267.2,169.1 268.5,170.7 269.8,170.2 271.2,170.5 272.5,170.2 273.8,169.9 275.1,169.9 276.4,170.2 277.7,170.2 279.0,170.5 280.3,169.0 281.6,169.4 283.0,169.6 284.3,170.1 285.6,169.0 286.9,169.6 288.2,169.2 289.5,169.7 290.8,169.7 292.1,169.7 293.5,169.5 294.8,169.4 296.1,170.1 297.4,168.7 298.7,170.2 300.0,170.3 301.3,170.2 302.6,170.0 303.9,169.4 305.3,170.1 306.6,170.7 307.9,169.7 309.2,170.8 310.5,170.6"/>
<polyline class="s" style="marker:url(#m33)" points="128.2,170.5 129.5,169.9 130.8,170.1 132.1,171.7 133.4,171.1 134.8,170.5 136.1,171.1 137.4,170.2 138.7,170.3 140.0,170.8 141.3,168.5 142.6,170.7 143.9,170.8 145.2,169.9 146.6,171.0 147.9,171.1 149.2,171.1 150.5,170.7 151.8,171.3 153.1,170.9 154.4,171.3 155.7,171.0 157.1,171.2 158.4,170.9 159.7,171.3 161.0,170.9 162.3,171.7 163.6,171.3 164.9,171.2 166.2,171.5 167.5,171.1 168.9,170.7 170.2,171.4 171.5,170.8 172.8,171.0 174.1,171.7 175.4,171.5 176.7,170.9 178.0,171.5 179.3,172.0 180.7,171.6 182.0,171.2 183.3,172.0 184.6,172.1 185.9,171.7 187.2,172.2 188.5,171.4 189.8,171.6 191.2,171.4 192.5,170.9 193.8,172.3 195.1,171.6 196.4,171.0 197.7,171.1 199.0,170.8 200.3,170.3 201.6,170.2 203.0,170.9 204.3,171.4 205.6,170.4 206.9,170.7 208.2,170.0 209.5,170.2 210.8,170.8 212.1,170.4 213.4,170.6 214.8,170.8 216.1,170.3 217.4,170.4 218.7,170.4 220.0,170.6 221.3,169.8 222.6,170.0 223.9,169.8 225.3,171.3 226.6,170.8 227.9,170.2 229.2,170.0 230.5,171.0 231.8,172.1 233.1,170.9 234.4,170.8 235.7,170.6 237.1,171.0 238.4,171.3 239.7,171.1 241.0,169.9 242.3,169.8 243.6,170.6 244.9,170.9 246.2,170.8 247.5,170.5 248.9,170.4 250.2,169.6 251.5,170.5 252.8,170.9 254.1,170.3 255.4,170.5 256.7,170.5 258.0,171.2 259.4,170.8 260.7,169.9 262.0,170.5 263.3,170.3 264.6,170.0 265.9,170.0 267.2,170.1 268.5,170.6 269.8,169.9 271.2,169.8 272.5,170.3 273.8,170.2 275.1,169.3 276.4,169.5 277.7,169.7 279.0,170.1 280.3,170.2 281.6,170.5 283.0,169.4 284.3,169.5 285.6,169.6 286.9,169.9 288.2,169.5 289.5,169.8 290.8,170.1 292.1,170.2 293.5,170.2 294.8,169.9 296.1,169.6 297.4,169.6 298.7,170.2 300.0,172.4 301.3,169.8 302.6,170.0 303.9,170.4 305.3,169.7 306.6,170.0 307.9,169.9 309.2,169.8 310.5,170.9"/>
<polyline class="s" style="marker:url(#m34)" points="128.2,171.0 129.5,172.3 130.8,171.8 132.1,171.1 133.4,172.4 134.8,171.1 136.1,171.1 137.4,171.0 138.7,171.4 140.0,171.8 141.3,170.7 142.6,171.0 143.9,170.9 145.2,171.5 146.6,170.9 147.9,171.1 149.2,171.3 150.5,170.6 151.8,170.8 153.1,171.0 154.4,171.1 155.7,171.1 157.1,171.5 158.4,171.3 159.7,171.4 161.0,172.2 162.3,171.6 163.6,171.6 164.9,171.5 166.2,171.3 167.5,171.7 168.9,171.1 170.2,171.7 171.5,171.7 172.8,172.1 174.1,171.7 175.4,172.4 176.7,171.4 178.0,171.9 179.3,171.4 180.7,171.3 182.0,172.0 183.3,171.8 184.6,171.7 185.9,172.2 187.2,170.9 188.5,171.7 189.8,171.9 191.2,171.2 192.5,171.4 193.8,171.6 195.1,170.9 196.4,171.3 197.7,171.8 199.0,171.5 200.3,171.5 201.6,170.6 203.0,172.0 204.3,170.2 205.6,170.5 206.9,170.6 208.2,170.9 209.5,170.9 210.8,170.5 212.1,171.4 213.4,170.4 214.8,170.5 216.1,171.1 217.4,171.2 218.7,170.9 220.0,170.8 221.3,171.8 222.6,171.6 223.9,171.0 225.3,172.3 226.6,171.8 227.9,171.7 229.2,171.5 230.5,171.0 231.8,171.2 233.1,171.3 234.4,171.3 235.7,171.4 237.1,171.3 238.4,171.4 239.7,171.1 241.0,171.6 242.3,170.9 243.6,170.9 244.9,170.5 246.2,171.3 247.5,170.9 248.9,170.3 250.2,171.4 251.5,170.8 252.8,170.8 254.1,170.8 255.4,171.2 256.7,170.1 258.0,170.3 259.4,170.6 260.7,170.2 262.0,170.5 263.3,170.8 264.6,172.2 265.9,170.7 267.2,169.8 268.5,170.3 269.8,170.7 271.2,170.2 272.5,170.5 273.8,171.1 275.1,170.0 276.4,170.3 277.7,170.5 279.0,170.4 280.3,170.3 281.6,170.1 283.0,170.7 284.3,170.4 285.6,170.6 286.9,170.4 288.2,170.0 289.5,170.3 290.8,170.0 292.1,170.5 293.5,169.5 294.8,170.3 296.1,170.9 297.4,170.9 298.7,171.3 300.0,170.5 301.3,170.6 302.6,170.3 303.9,170.6 305.3,170.1 306.6,170.6 307.9,170.8 309.2,171.4 310.5,171.2"/>
<polyline class="s" style="marker:url(#m32)" points="128.2,171.7 129.5,170.9 130.8,171.1 132.1,171.7 133.4,171.4 134.8,171.3 136.1,171.8 137.4,169.7 138.7,171.6 140.0,171.1 141.3,171.3 142.6,171.5 143.9,171.8 145.2,171.4 146.6,171.5 147.9,172.3 149.2,171.6 150.5,171.2 151.8,170.9 153.1,172.0 154.4,172.1 155.7,171.7 157.1,171.9 158.4,172.4 159.7,171.7 161.0,172.1 162.3,171.9 163.6,172.2 164.9,172.1 166.2,172.3 167.5,172.5 168.9,171.7 170.2,172.1 171.5,172.7 172.8,172.1 174.1,172.3 175.4,172.1 176.7,172.5 178.0,172.8 179.3,172.1 180.7,172.6 182.0,172.7 183.3,172.4 184.6,172.6 185.9,172.7 187.2,172.8 188.5,172.9 189.8,172.1 191.2,172.7 192.5,171.8 193.8,172.9 195.1,172.6 196.4,172.4 197.7,171.3 199.0,172.0 200.3,171.7 201.6,172.4 203.0,171.3 204.3,171.5 205.6,172.1 206.9,171.7 208.2,171.7 209.5,171.2 210.8,172.3 212.1,171.7 213.4,171.8 214.8,171.3 216.1,169.9 217.4,171.6 218.7,171.6 220.0,171.9 221.3,172.1 222.6,171.3 223.9,171.8 225.3,171.9 226.6,171.7 227.9,171.6 229.2,171.1 230.5,172.2 231.8,171.9 233.1,171.6 234.4,171.8 235.7,171.0 237.1,171.4 238.4,170.9 239.7,170.7 241.0,171.4 242.3,171.2 243.6,171.5 244.9,171.4 246.2,171.0 247.5,171.4 248.9,171.1 250.2,171.1 251.5,171.7 252.8,171.2 254.1,170.7 255.4,171.5 256.7,171.0 258.0,171.2 259.4,171.6 260.7,171.5 262.0,171.2 263.3,171.0 264.6,171.8 265.9,171.1 267.2,171.2 268.5,170.9 269.8,171.0 271.2,170.9 272.5,170.8 273.8,171.2 275.1,170.8 276.4,171.0 277.7,170.9 279.0,170.5 280.3,171.5 281.6,170.6 283.0,170.3 284.3,169.8 285.6,170.4 286.9,170.1 288.2,170.7 289.5,170.5 290.8,170.4 292.1,170.0 293.5,170.5 294.8,169.8 296.1,170.8 297.4,170.4 298.7,170.2 300.0,171.4 301.3,170.4 302.6,170.7 303.9,170.5 305.3,170.8 306.6,170.2 307.9,171.3 309.2,169.7 310.5,171.3"/>
<polyline class="s" style="marker:url(#m27)" points="128.2,172.4 129.5,172.2 130.8,172.4 132.1,171.4 133.4,171.7 134.8,172.4 136.1,171.3 137.4,171.9 138.7,171.9 140.0,171.4 141.3,171.9 142.6,172.6 143.9,172.5 145.2,172.1 146.6,172.6 147.9,172.1 149.2,172.6 150.5,171.6 151.8,172.5 153.1,171.3 154.4,171.7 155.7,172.1 157.1,172.2 158.4,172.5 159.7,173.0 161.0,171.7 162.3,172.6 163.6,172.6 164.9,172.8 166.2,172.2 167.5,172.4 168.9,172.3 170.2,172.9 171.5,173.1 172.8,172.4 174.1,172.2 175.4,173.0 176.7,172.8 178.0,173.3 179.3,172.6 180.7,173.2 182.0,173.0 183.3,172.8 184.6,172.7 185.9,173.0 187.2,172.4 188.5,172.7 189.8,172.5 191.2,173.2 192.5,173.0 193.8,172.3 195.1,173.0 196.4,172.4 197.7,172.5 199.0,171.9 200.3,172.0 201.6,172.1 203.0,170.8 204.3,171.9 205.6,172.0 206.9,172.4 208.2,171.5 209.5,171.7 210.8,171.7 212.1,171.8 213.4,171.8 214.8,172.5 216.1,172.5 217.4,171.8 218.7,171.8 220.0,172.2 221.3,172.2 222.6,172.0 223.9,171.9 225.3,172.3 226.6,172.0 227.9,172.5 229.2,172.2 230.5,172.1 231.8,171.2 233.1,172.3 234.4,172.1 235.7,171.9 237.1,172.2 238.4,172.5 239.7,171.8 241.0,171.7 242.3,172.0 243.6,171.3 244.9,171.3 246.2,171.9 247.5,170.8 248.9,171.4 250.2,171.7 251.5,171.2 252.8,171.5 254.1,171.7 255.4,170.6 256.7,171.7 258.0,170.8 259.4,171.3 260.7,170.4 262.0,171.2 263.3,171.4 264.6,171.2 265.9,171.8 267.2,170.6 268.5,171.1 269.8,171.1 271.2,170.9 272.5,170.8 273.8,170.3 275.1,170.8 276.4,171.7 277.7,171.7 279.0,171.9 280.3,171.4 281.6,170.4 283.0,171.0 284.3,170.5 285.6,171.5 286.9,170.6 288.2,170.5 289.5,171.2 290.8,170.8 292.1,171.0 293.5,170.7 294.8,171.3 296.1,170.3 297.4,170.6 298.7,170.8 300.0,171.0 301.3,171.6 302.6,170.8 303.9,171.6 305.3,171.9 306.6,171.3 307.9,171.2 309.2,172.6 310.5,171.7"/>
<polyline class="s" style="marker:url(#m35)" points="128.2,173.4 129.5,172.8 130.8,172.1 132.1,172.6 133.4,173.3 134.8,172.8 136.1,171.6 137.4,173.0 138.7,172.3 140.0,172.2 141.3,172.9 142.6,172.4 143.9,172.4 145.2,171.9 146.6,172.1 147.9,172.8 149.2,173.4 150.5,172.2 151.8,172.4 153.1,172.0 154.4,173.6 155.7,172.4 157.1,172.3 158.4,170.0 159.7,173.2 161.0,173.3 162.3,173.9 163.6,172.4 164.9,172.8 166.2,172.7 167.5,172.2 168.9,172.7 170.2,173.2 171.5,173.2 172.8,172.9 174.1,173.1 175.4,172.9 176.7,173.0 178.0,173.2 179.3,172.4 180.7,173.4 182.0,172.4 183.3,173.1 184.6,172.3 185.9,172.8 187.2,173.1 188.5,172.6 189.8,172.8 191.2,173.1 192.5,173.2 193.8,173.0 195.1,172.6 196.4,173.0 197.7,172.7 199.0,172.9 200.3,172.5 201.6,173.1 203.0,172.5 204.3,172.9 205.6,172.6 206.9,171.6 208.2,172.2 209.5,171.6 210.8,172.6 212.1,172.5 213.4,172.1 214.8,172.2 216.1,173.1 217.4,172.0 218.7,172.1 220.0,172.8 221.3,172.3 222.6,171.7 223.9,171.7 225.3,172.2 226.6,172.5 227.9,172.5 229.2,172.5 230.5,172.5 231.8,172.8 233.1,172.2 234.4,172.5 235.7,172.8 237.1,171.9 238.4,172.5 239.7,172.3 241.0,172.3 242.3,171.8 243.6,171.7 244.9,171.7 246.2,172.2 247.5,171.8 248.9,171.7 250.2,171.4 251.5,171.7 252.8,172.2 254.1,170.9 255.4,172.2 256.7,172.0 258.0,171.5 259.4,172.5 260.7,171.0 262.0,171.3 263.3,171.7 264.6,171.1 265.9,171.6 267.2,171.5 268.5,170.8 269.8,171.0 271.2,171.2 272.5,171.9 273.8,170.5 275.1,171.5 276.4,170.9 277.7,171.5 279.0,171.2 280.3,171.2 281.6,171.7 283.0,171.6 284.3,171.1 285.6,171.6 286.9,171.2 288.2,171.5 289.5,171.0 290.8,171.1 292.1,171.6 293.5,171.2 294.8,170.9 296.1,172.3 297.4,171.6 298.7,171.5 300.0,171.3 301.3,170.9 302.6,169.8 303.9,172.0 305.3,171.4 306.6,171.6 307.9,172.1 309.2,172.0 310.5,172.5"/>
<polyline class="s" style="marker:url(#m36)" points="128.2,173.0 129.5,173.0 130.8,173.9 132.1,173.0 133.4,171.8 134.8,173.1 136.1,172.2 137.4,173.9 138.7,172.6 140.0,172.5 141.3,172.7 142.6,172.3 143.9,172.3 145.2,173.4 146.6,173.1 147.9,172.4 149.2,172.9 150.5,172.7 151.8,172.1 153.1,173.6 154.4,173.7 155.7,173.0 157.1,172.5 158.4,173.6 159.7,173.7 161.0,172.6 162.3,173.5 163.6,173.2 164.9,173.6 166.2,173.5 167.5,176.0 168.9,173.7 170.2,173.6 171.5,173.1 172.8,173.2 174.1,174.1 175.4,173.4 176.7,173.3 178.0,173.7 179.3,173.5 180.7,173.7 182.0,173.5 183.3,174.1 184.6,172.6 185.9,173.6 187.2,173.7 188.5,173.0 189.8,174.2 191.2,172.8 192.5,171.8 193.8,173.7 195.1,173.1 196.4,173.6 197.7,172.8 199.0,172.7 200.3,172.2 201.6,173.1 203.0,173.2 204.3,172.9 205.6,171.9 206.9,174.4 208.2,172.5 209.5,172.2 210.8,172.1 212.1,172.3 213.4,172.8 214.8,172.1 216.1,173.4 217.4,172.1 218.7,172.7 220.0,172.3 221.3,172.4 222.6,172.6 223.9,173.0 225.3,172.7 226.6,173.0 227.9,172.6 229.2,172.9 230.5,172.4 231.8,172.5 233.1,172.5 234.4,172.0 235.7,172.9 237.1,172.1 238.4,172.4 239.7,173.0 241.0,172.6 242.3,173.1 243.6,172.9 244.9,173.1 246.2,172.2 247.5,173.2 248.9,172.4 250.2,172.4 251.5,172.5 252.8,172.6 254.1,172.8 255.4,172.1 256.7,172.7 258.0,171.9 259.4,172.7 260.7,173.1 262.0,172.9 263.3,173.2 264.6,173.0 265.9,172.4 267.2,172.4 268.5,172.3 269.8,172.8 271.2,172.2 272.5,172.2 273.8,172.8 275.1,172.0 276.4,171.9 277.7,172.2 279.0,171.0 280.3,171.7 281.6,171.5 283.0,171.2 284.3,171.4 285.6,171.0 286.9,172.2 288.2,171.8 289.5,171.4 290.8,171.9 292.1,171.8 293.5,170.7 294.8,171.5 296.1,171.5 297.4,171.7 298.7,171.6 300.0,172.1 301.3,171.2 302.6,171.3 303.9,171.8 305.3,172.9 306.6,172.5 307.9,172.8 309.2,172.9 310.5,172.7"/>
<polyline class="s" style="marker:url(#m31)" points="128.2,173.3 129.5,172.8 130.8,173.0 132.1,173.6 133.4,173.2 134.8,173.2 136.1,173.0 137.4,172.9 138.7,173.2 140.0,171.0 141.3,173.1 142.6,173.1 143.9,173.5 145.2,172.7 146.6,173.3 147.9,173.2 149.2,172.9 150.5,175.3 151.8,173.4 153.1,173.0 154.4,172.9 155.7,173.2 157.1,173.6 158.4,173.8 159.7,173.2 161.0,174.0 162.3,173.8 163.6,173.2 164.9,173.7 166.2,173.5 167.5,173.4 168.9,173.3 170.2,173.5 171.5,173.4 172.8,173.6 174.1,173.8 175.4,173.5 176.7,173.7 178.0,174.1 179.3,173.0 180.7,174.4 182.0,174.3 183.3,173.6 184.6,174.7 185.9,173.6 187.2,174.1 188.5,173.8 189.8,174.1 191.2,173.2 192.5,173.9 193.8,174.6 195.1,173.3 196.4,173.4 197.7,172.6 199.0,173.2 200.3,173.0 201.6,172.4 203.0,173.7 204.3,173.3 205.6,172.8 206.9,173.3 208.2,173.5 209.5,172.2 210.8,173.4 212.1,173.3 213.4,172.5 214.8,172.2 216.1,173.6 217.4,172.4 218.7,172.7 220.0,173.4 221.3,172.6 222.6,172.5 223.9,172.6 225.3,173.0 226.6,172.4 227.9,173.3 229.2,172.4 230.5,173.5 231.8,173.9 233.1,172.4 234.4,172.3 235.7,173.2 237.1,172.9 238.4,173.3 239.7,173.0 241.0,173.3 242.3,172.7 243.6,173.1 244.9,173.1 246.2,172.5 247.5,173.1 248.9,172.7 250.2,173.2 251.5,172.9 252.8,172.4 254.1,173.2 255.4,172.5 256.7,172.9 258.0,173.2 259.4,172.8 260.7,171.1 262.0,172.9 263.3,173.1 264.6,172.9 265.9,172.0 267.2,173.5 268.5,172.7 269.8,172.7 271.2,172.1 272.5,172.3 273.8,172.2 275.1,172.7 276.4,172.1 277.7,172.5 279.0,172.8 280.3,172.7 281.6,171.6 283.0,171.6 284.3,172.0 285.6,172.5 286.9,171.8 288.2,171.4 289.5,172.1 290.8,172.1 292.1,172.1 293.5,172.8 294.8,171.4 296.1,172.2 297.4,172.3 298.7,172.1 300.0,172.5 301.3,172.1 302.6,172.3 303.9,171.7 305.3,172.2 306.6,173.2 307.9,172.8 309.2,173.7 310.5,172.8"/>
<polyline class="s" style="marker:url(#m37)" points="128.2,173.6 129.5,173.6 130.8,173.4 132.1,173.2 133.4,174.2 134.8,172.9 136.1,175.7 137.4,173.7 138.7,173.6 140.0,173.3 141.3,173.8 142.6,173.5 143.9,173.5 145.2,173.2 146.6,173.7 147.9,173.3 149.2,173.6 150.5,174.2 151.8,173.0 153.1,173.6 154.4,173.6 155.7,173.4 157.1,173.5 158.4,172.5 159.7,173.5 161.0,173.5 162.3,174.6 163.6,174.2 164.9,173.4 166.2,173.6 167.5,175.0 168.9,174.2 170.2,174.4 171.5,175.2 172.8,174.4 174.1,174.7 175.4,175.0 176.7,174.1 178.0,174.1 179.3,174.1 180.7,174.0 182.0,174.1 183.3,174.5 184.6,174.6 185.9,174.4 187.2,174.2 188.5,174.1 189.8,173.9 191.2,174.5 192.5,174.0 193.8,174.1 195.1,174.2 196.4,174.2 197.7,174.2 199.0,174.0 200.3,173.7 201.6,173.6 203.0,173.8 204.3,174.0 205.6,173.1 206.9,174.8 208.2,174.5 209.5,172.7 210.8,172.6 212.1,173.4 213.4,172.9 214.8,173.4 216.1,173.8 217.4,173.1 218.7,173.8 220.0,174.1 221.3,173.5 222.6,173.3 223.9,173.7 225.3,173.9 226.6,173.1 227.9,174.0 229.2,173.2 230.5,173.8 231.8,173.2 233.1,173.6 234.4,173.9 235.7,174.3 237.1,173.1 238.4,173.1 239.7,173.5 241.0,173.0 242.3,174.5 243.6,175.1 244.9,175.4 246.2,173.4 247.5,173.6 248.9,173.7 250.2,173.6 251.5,172.9 252.8,172.8 254.1,173.3 255.4,172.7 256.7,172.9 258.0,173.7 259.4,172.6 260.7,173.1 262.0,173.7 263.3,172.7 264.6,173.6 265.9,172.9 267.2,172.6 268.5,172.8 269.8,172.7 271.2,172.7 272.5,173.0 273.8,172.7 275.1,172.4 276.4,172.9 277.7,173.0 279.0,172.3 280.3,173.1 281.6,172.7 283.0,172.7 284.3,172.6 285.6,172.8 286.9,172.8 288.2,172.9 289.5,172.2 290.8,174.4 292.1,172.1 293.5,172.6 294.8,171.9 296.1,172.4 297.4,172.8 298.7,172.8 300.0,172.8 301.3,173.6 302.6,173.5 303.9,173.0 305.3,173.8 306.6,172.9 307.9,173.7 309.2,173.2 310.5,173.2"/>
<polyline class="s" style="marker:url(#m32)" points="128.2,175.6 129.5,173.4 130.8,173.6 132.1,173.7 133.4,174.2 134.8,174.4 136.1,173.7 137.4,174.1 138.7,173.6 140.0,174.2 141.3,173.5 142.6,173.5 143.9,174.0 145.2,174.4 146.6,174.0 147.9,173.3 149.2,174.5 150.5,174.2 151.8,174.0 153.1,174.2 154.4,174.2 155.7,173.9 157.1,173.7 158.4,173.9 159.7,173.7 161.0,174.8 162.3,173.8 163.6,175.0 164.9,174.8 166.2,174.3 167.5,174.5 168.9,173.8 170.2,174.3 171.5,175.1 172.8,174.7 174.1,174.3 175.4,174.4 176.7,173.7 178.0,174.7 179.3,174.9 180.7,175.7 182.0,175.1 183.3,173.5 184.6,174.4 185.9,175.2 187.2,174.7 188.5,174.7 189.8,174.2 191.2,174.3 192.5,175.3 193.8,174.1 195.1,175.8 196.4,174.8 197.7,174.5 199.0,174.7 200.3,174.5 201.6,174.2 203.0,174.1 204.3,173.8 205.6,173.9 206.9,174.6 208.2,172.9 209.5,174.1 210.8,174.4 212.1,174.1 213.4,173.7 214.8,174.0 216.1,173.4 217.4,174.0 218.7,173.3 220.0,174.4 221.3,173.4 222.6,173.8 223.9,173.9 225.3,173.8 226.6,174.3 227.9,174.5 229.2,174.1 230.5,175.0 231.8,173.6 233.1,174.6 234.4,175.1 235.7,174.1 237.1,173.9 238.4,174.4 239.7,174.5 241.0,174.6 242.3,174.2 243.6,173.9 244.9,173.6 246.2,174.0 247.5,173.4 248.9,174.1 250.2,171.6 251.5,173.9 252.8,172.5 254.1,173.4 255.4,173.8 256.7,173.9 258.0,174.5 259.4,173.9 260.7,173.6 262.0,173.1 263.3,173.6 264.6,173.3 265.9,173.7 267.2,173.1 268.5,174.1 269.8,174.0 271.2,173.9 272.5,173.5 273.8,173.6 275.1,173.5 276.4,172.7 277.7,173.1 279.0,172.8 280.3,173.5 281.6,173.0 283.0,172.9 284.3,173.5 285.6,173.5 286.9,173.2 288.2,173.5 289.5,173.7 290.8,172.6 292.1,172.4 293.5,172.5 294.8,173.0 296.1,173.4 297.4,173.9 298.7,173.0 300.0,173.1 301.3,173.6 302.6,172.8 303.9,173.7 305.3,173.9 306.6,174.1 307.9,173.5 309.2,173.4 310.5,174.1"/>
<polyline class="s" style="marker:url(#m38)" points="128.2,174.8 129.5,174.2 130.8,175.1 132.1,174.6 133.4,174.2 134.8,174.0 136.1,174.4 137.4,174.7 138.7,174.2 140.0,175.1 141.3,174.7 142.6,174.4 143.9,174.4 145.2,174.8 146.6,174.9 147.9,174.6 149.2,174.9 150.5,174.9 151.8,174.1 153.1,174.6 154.4,174.3 155.7,174.6 157.1,174.7 158.4,174.2 159.7,175.0 161.0,175.2 162.3,175.1 163.6,175.3 164.9,174.9 166.2,175.4 167.5,175.1 168.9,175.2 170.2,174.7 171.5,175.8 172.8,174.9 174.1,175.4 175.4,174.5 176.7,175.4 178.0,175.8 179.3,175.2 180.7,175.2 182.0,174.8 183.3,175.5 184.6,175.4 185.9,175.3 187.2,175.8 188.5,176.4 189.8,176.2 191.2,174.7 192.5,174.7 193.8,175.0 195.1,175.2 196.4,174.3 197.7,174.4 199.0,175.0 200.3,173.9 201.6,173.7 203.0,174.9 204.3,175.0 205.6,174.4 206.9,175.3 208.2,175.3 209.5,174.3 210.8,174.6 212.1,175.0 213.4,175.5 214.8,174.6 216.1,175.4 217.4,174.6 218.7,174.3 220.0,174.5 221.3,174.4 222.6,175.3 223.9,175.2 225.3,174.7 226.6,174.4 227.9,174.3 229.2,175.0 230.5,173.1 231.8,175.0 233.1,175.6 234.4,175.0 235.7,174.8 237.1,174.0 238.4,174.8 239.7,174.5 241.0,174.5 242.3,175.4 243.6,173.9 244.9,174.5 246.2,174.0 247.5,174.0 248.9,174.5 250.2,174.1 251.5,174.1 252.8,174.4 254.1,174.0 255.4,174.4 256.7,174.3 258.0,173.9 259.4,173.9 260.7,173.8 262.0,175.0 263.3,174.2 264.6,174.2 265.9,173.6 267.2,174.3 268.5,173.6 269.8,173.0 271.2,173.0 272.5,173.5 273.8,173.2 275.1,173.7 276.4,173.4 277.7,173.9 279.0,173.4 280.3,173.3 281.6,173.1 283.0,173.2 284.3,173.8 285.6,173.1 286.9,173.3 288.2,173.3 289.5,172.5 290.8,173.5 292.1,173.2 293.5,173.7 294.8,172.1 296.1,172.7 297.4,173.8 298.7,173.4 300.0,173.6 301.3,172.7 302.6,174.0 303.9,172.6 305.3,173.9 306.6,173.9 307.9,174.0 309.2,174.3 310.5,172.7"/>
<polyline class="s" style="marker:url(#m31)" points="128.2,174.9 129.5,174.3 130.8,176.1 132.1,175.8 133.4,174.6 134.8,174.3 136.1,174.4 137.4,175.2 138.7,175.1 140.0,174.3 141.3,174.9 142.6,174.8 143.9,174.1 145.2,175.1 146.6,174.7 147.9,175.4 149.2,175.3 150.5,175.2 151.8,175.1 153.1,174.9 154.4,174.9 155.7,174.4 157.1,174.3 158.4,174.8 159.7,175.1 161.0,175.7 162.3,175.1 163.6,175.2 164.9,175.2 166.2,174.9 167.5,175.1 168.9,175.5 170.2,175.7 171.5,175.3 172.8,175.5 174.1,176.2 175.4,174.9 176.7,175.3 178.0,175.9 179.3,175.7 180.7,175.4 182.0,175.7 183.3,175.1 184.6,175.5 185.9,175.4 187.2,175.4 188.5,175.5 189.8,176.3 191.2,175.5 192.5,175.2 193.8,175.3 195.1,175.0 196.4,175.1 197.7,174.5 199.0,174.2 200.3,175.0 201.6,174.9 203.0,175.5 204.3,174.3 205.6,175.3 206.9,175.1 208.2,174.7 209.5,174.8 210.8,174.9 212.1,174.2 213.4,173.5 214.8,175.4 216.1,175.4 217.4,173.9 218.7,175.7 220.0,174.2 221.3,174.5 222.6,174.6 223.9,174.5 225.3,174.6 226.6,174.3 227.9,174.8 229.2,174.6 230.5,175.2 231.8,174.7 233.1,174.9 234.4,174.5 235.7,175.1 237.1,174.9 238.4,174.4 239.7,174.8 241.0,175.0 242.3,174.6 243.6,174.0 244.9,175.2 246.2,174.6 247.5,175.0 248.9,174.2 250.2,174.1 251.5,173.9 252.8,174.5 254.1,174.5 255.4,174.6 256.7,174.4 258.0,174.8 259.4,174.6 260.7,173.2 262.0,174.3 263.3,173.7 264.6,174.3 265.9,175.0 267.2,173.8 268.5,174.3 269.8,174.2 271.2,174.0 272.5,174.0 273.8,173.8 275.1,174.2 276.4,174.0 277.7,173.9 279.0,175.0 280.3,173.6 281.6,173.7 283.0,174.1 284.3,173.5 285.6,173.7 286.9,173.5 288.2,173.7 289.5,174.6 290.8,174.4 292.1,173.4 293.5,173.9 294.8,174.2 296.1,173.2 297.4,174.0 298.7,172.5 300.0,174.6 301.3,174.4 302.6,175.8 303.9,174.7 305.3,175.4 306.6,174.2 307.9,175.7 309.2,174.8 310.5,174.8"/>
<polyline class="s" style="marker:url(#m11)" points="128.2,175.4 129.5,175.2 130.8,176.1 132.1,175.5 133.4,175.4 134.8,174.5 136.1,174.5 137.4,175.6 138.7,175.0 140.0,175.9 141.3,174.8 142.6,174.6 143.9,175.6 145.2,175.8 146.6,174.9 147.9,175.8 149.2,174.4 150.5,175.1 151.8,175.7 153.1,174.9 154.4,175.5 155.7,177.5 157.1,174.8 158.4,175.8 159.7,175.6 161.0,175.7 162.3,175.1 163.6,175.5 164.9,174.5 166.2,174.9 167.5,175.7 168.9,175.6 170.2,175.2 171.5,175.7 172.8,175.6 174.1,175.5 175.4,175.5 176.7,176.2 178.0,175.7 179.3,175.7 180.7,175.6 182.0,176.4 183.3,176.2 184.6,175.7 185.9,175.6 187.2,176.2 188.5,174.7 189.8,175.3 191.2,176.1 192.5,175.6 193.8,175.6 195.1,174.8 196.4,175.0 197.7,175.7 199.0,175.0 200.3,175.9 201.6,174.4 203.0,175.2 204.3,174.7 205.6,175.4 206.9,175.4 208.2,174.7 209.5,175.4 210.8,175.3 212.1,174.9 213.4,175.4 214.8,175.8 216.1,174.8 217.4,175.3 218.7,175.1 220.0,172.6 221.3,175.8 222.6,174.7 223.9,176.0 225.3,175.4 226.6,175.1 227.9,174.9 229.2,175.4 230.5,174.6 231.8,174.9 233.1,175.4 234.4,175.5 235.7,175.6 237.1,175.3 238.4,175.3 239.7,175.2 241.0,175.8 242.3,175.0 243.6,174.9 244.9,175.6 246.2,174.0 247.5,174.4 248.9,174.0 250.2,174.4 251.5,174.7 252.8,173.9 254.1,174.2 255.4,174.9 256.7,174.1 258.0,175.1 259.4,174.7 260.7,174.7 262.0,175.1 263.3,173.8 264.6,173.9 265.9,174.2 267.2,173.5 268.5,175.4 269.8,173.4 271.2,174.3 272.5,174.1 273.8,174.5 275.1,174.5 276.4,174.3 277.7,174.4 279.0,174.5 280.3,174.0 281.6,174.4 283.0,174.4 284.3,174.1 285.6,174.1 286.9,174.1 288.2,174.3 289.5,174.0 290.8,174.0 292.1,174.0 293.5,174.0 294.8,173.7 296.1,173.8 297.4,174.3 298.7,175.1 300.0,174.2 301.3,173.9 302.6,174.2 303.9,174.9 305.3,175.5 306.6,175.1 307.9,177.5 309.2,175.2 310.5,175.0"/>
<polyline class="s" style="marker:url(#m0)" points="128.2,175.6 129.5,176.1 130.8,175.2 132.1,175.6 133.4,175.7 134.8,175.5 136.1,174.9 137.4,175.6 138.7,176.4 140.0,174.9 141.3,175.6 142.6,174.4 143.9,175.1 145.2,175.7 146.6,174.4 147.9,174.9 149.2,175.0 150.5,175.4 151.8,175.4 153.1,175.3 154.4,175.9 155.7,176.1 157.1,175.7 158.4,175.9 159.7,175.9 161.0,176.1 162.3,176.2 163.6,176.2 164.9,176.7 166.2,176.4 167.5,176.2 168.9,176.1 170.2,176.1 171.5,175.9 172.8,176.3 174.1,177.0 175.4,177.0 176.7,177.2 178.0,176.6 179.3,176.0 180.7,176.2 182.0,176.3 183.3,176.7 184.6,176.0 185.9,176.0 187.2,177.1 188.5,176.7 189.8,175.8 191.2,176.3 192.5,176.3 193.8,176.7 195.1,175.3 196.4,176.1 197.7,175.8 199.0,175.0 200.3,175.7 201.6,175.8 203.0,175.4 204.3,176.1 205.6,175.1 206.9,174.5 208.2,175.6 209.5,175.6 210.8,175.2 212.1,175.4 213.4,175.2 214.8,175.0 216.1,175.7 217.4,176.3 218.7,175.6 220.0,175.4 221.3,175.5 222.6,176.1 223.9,175.5 225.3,175.8 226.6,176.0 227.9,176.2 229.2,177.1 230.5,176.5 231.8,175.4 233.1,175.4 234.4,175.9 235.7,175.4 237.1,175.8 238.4,175.8 239.7,175.7 241.0,175.6 242.3,176.1 243.6,175.3 244.9,176.4 246.2,175.5 247.5,174.6 248.9,175.1 250.2,175.2 251.5,175.0 252.8,175.1 254.1,175.2 255.4,175.3 256.7,174.5 258.0,174.4 259.4,174.6 260.7,174.0 262.0,175.2 263.3,175.6 264.6,175.5 265.9,174.5 267.2,176.9 268.5,174.5 269.8,173.7 271.2,175.1 272.5,175.1 273.8,174.5 275.1,174.6 276.4,174.4 277.7,175.0 279.0,174.5 280.3,174.6 281.6,174.8 283.0,174.4 284.3,174.6 285.6,174.6 286.9,175.0 288.2,174.1 289.5,173.9 290.8,174.4 292.1,173.8 293.5,174.6 294.8,173.9 296.1,175.0 297.4,174.9 298.7,174.6 300.0,174.9 301.3,175.3 302.6,174.3 303.9,174.3 305.3,175.4 306.6,175.4 307.9,175.4 309.2,176.1 310.5,175.3"/>
<polyline class="s" style="marker:url(#m39)" points="128.2,174.2 129.5,175.8 130.8,175.7 132.1,175.6 133.4,176.0 134.8,176.1 136.1,175.7 137.4,175.8 138.7,175.8 140.0,175.2 141.3,174.8 142.6,176.0 143.9,175.1 145.2,175.3 146.6,175.8 147.9,175.8 149.2,176.3 150.5,176.0 151.8,176.1 153.1,175.6 154.4,176.1 155.7,175.7 157.1,175.9 158.4,176.1 159.7,176.5 161.0,176.8 162.3,176.8 163.6,176.1 164.9,175.6 166.2,176.5 167.5,176.6 168.9,177.1 170.2,176.8 171.5,177.0 172.8,176.7 174.1,176.3 175.4,176.7 176.7,176.8 178.0,176.5 179.3,176.9 180.7,176.4 182.0,177.2 183.3,176.5 184.6,176.9 185.9,176.0 187.2,176.7 188.5,176.9 189.8,177.1 191.2,176.0 192.5,176.3 193.8,176.5 195.1,176.6 196.4,175.6 197.7,176.2 199.0,176.1 200.3,175.3 201.6,176.9 203.0,176.1 204.3,175.9 205.6,175.7 206.9,175.3 208.2,175.4 209.5,175.1 210.8,175.9 212.1,175.2 213.4,175.7 214.8,175.6 216.1,175.9 217.4,176.1 218.7,176.1 220.0,175.6 221.3,175.8 222.6,176.0 223.9,176.0 225.3,176.4 226.6,176.0 227.9,175.9 229.2,176.5 230.5,176.2 231.8,175.3 233.1,175.6 234.4,175.8 235.7,174.3 237.1,175.4 238.4,176.1 239.7,175.3 241.0,176.1 242.3,174.8 243.6,175.8 244.9,175.4 246.2,175.5 247.5,175.4 248.9,175.4 250.2,174.3 251.5,175.3 252.8,175.0 254.1,174.5 255.4,175.4 256.7,174.9 258.0,175.5 259.4,175.6 260.7,174.5 262.0,174.1 263.3,174.4 264.6,175.6 265.9,174.9 267.2,175.6 268.5,174.6 269.8,175.2 271.2,175.9 272.5,175.1 273.8,175.2 275.1,175.6 276.4,174.5 277.7,174.9 279.0,175.5 280.3,175.2 281.6,175.2 283.0,175.5 284.3,174.8 285.6,174.7 286.9,175.5 288.2,174.9 289.5,175.0 290.8,174.4 292.1,174.7 293.5,175.1 294.8,175.0 296.1,173.3 297.4,175.3 298.7,174.3 300.0,175.0 301.3,174.9 302.6,174.1 303.9,175.6 305.3,174.9 306.6,175.5 307.9,175.8 309.2,175.4 310.5,176.0"/>
<polyline class="s" style="marker:url(#m13)" points="128.2,194.6 129.5,193.4 130.8,193.8 132.1,194.0 133.4,194.3 134.8,193.0 136.1,191.9 137.4,193.2 138.7,192.6 140.0,193.9 141.3,193.8 142.6,192.9 143.9,193.1 145.2,193.5 146.6,193.6 147.9,192.9 149.2,193.8 150.5,192.9 151.8,195.5 153.1,193.2 154.4,193.2 155.7,192.9 157.1,193.0 158.4,193.2 159.7,192.6 161.0,193.0 162.3,193.2 163.6,193.4 164.9,193.5 166.2,193.4 167.5,191.2 168.9,193.4 170.2,194.0 171.5,196.2 172.8,193.7 174.1,194.1 175.4,193.2 176.7,193.7 178.0,194.5 179.3,193.9 180.7,193.4 182.0,193.1 183.3,193.3 184.6,194.3 185.9,194.0 187.2,194.1 188.5,194.8 189.8,196.5 191.2,193.4 192.5,193.1 193.8,193.5 195.1,194.5 196.4,192.8 197.7,194.3 199.0,193.7 200.3,193.5 201.6,193.8 203.0,192.4 204.3,193.8 205.6,192.4 206.9,193.0 208.2,192.4 209.5,193.7 210.8,191.3 212.1,192.8 213.4,192.9 214.8,193.3 216.1,192.4 217.4,193.5 218.7,192.5 220.0,193.2 221.3,192.4 222.6,192.9 223.9,193.9 225.3,192.6 226.6,192.6 227.9,193.7 229.2,192.9 230.5,192.8 231.8,193.5 233.1,193.0 234.4,193.2 235.7,193.3 237.1,193.4 238.4,194.2 239.7,192.2 241.0,192.5 242.3,193.0 243.6,193.9 244.9,193.0 246.2,193.3 247.5,192.3 248.9,193.5 250.2,192.3 251.5,193.2 252.8,193.4 254.1,193.5 255.4,192.3 256.7,193.3 258.0,193.1 259.4,192.4 260.7,192.9 262.0,193.2 263.3,192.7 264.6,193.2 265.9,192.8 267.2,192.9 268.5,191.9 269.8,193.9 271.2,192.4 272.5,192.1 273.8,193.9 275.1,191.8 276.4,192.2 277.7,192.6 279.0,192.5 280.3,192.7 281.6,192.3 283.0,192.1 284.3,192.2 285.6,192.7 286.9,191.4 288.2,192.1 289.5,191.0 290.8,192.4 292.1,191.7 293.5,192.7 294.8,192.0 296.1,192.7 297.4,192.3 298.7,191.6 300.0,192.8 301.3,192.7 302.6,192.4 303.9,192.9 305.3,193.5 306.6,193.2 307.9,192.2 309.2,193.4 310.5,192.4"/>
<polyline class="s" style="marker:url(#m29)" points="128.2,193.7 129.5,192.2 130.8,192.6 132.1,192.6 133.4,192.4 134.8,193.2 136.1,193.6 137.4,192.4 138.7,192.5 140.0,193.2 141.3,193.1 142.6,191.2 143.9,192.3 145.2,191.8 146.6,193.5 147.9,193.1 149.2,193.1 150.5,192.7 151.8,193.3 153.1,192.4 154.4,192.2 155.7,193.4 157.1,193.7 158.4,194.1 159.7,193.1 161.0,193.3 162.3,192.7 163.6,193.7 164.9,193.3 166.2,193.8 167.5,193.3 168.9,194.1 170.2,193.5 171.5,194.2 172.8,193.9 174.1,193.8 175.4,192.5 176.7,196.2 178.0,194.1 179.3,193.2 180.7,192.9 182.0,194.1 183.3,194.1 184.6,193.4 185.9,193.2 187.2,194.3 188.5,193.8 189.8,193.4 191.2,192.9 192.5,193.0 193.8,193.9 195.1,193.5 196.4,193.3 197.7,192.6 199.0,192.8 200.3,192.8 201.6,192.6 203.0,193.5 204.3,192.7 205.6,192.8 206.9,192.8 208.2,192.7 209.5,192.8 210.8,192.6 212.1,192.5 213.4,192.1 214.8,192.1 216.1,193.7 217.4,192.8 218.7,192.2 220.0,192.7 221.3,192.9 222.6,192.8 223.9,192.6 225.3,192.0 226.6,192.8 227.9,192.9 229.2,193.4 230.5,193.3 231.8,193.5 233.1,192.1 234.4,193.1 235.7,194.5 237.1,193.1 238.4,193.0 239.7,192.4 241.0,192.9 242.3,192.0 243.6,192.0 244.9,192.4 246.2,192.8 247.5,192.8 248.9,192.8 250.2,192.8 251.5,192.8 252.8,192.7 254.1,192.6 255.4,193.1 256.7,192.3 258.0,193.0 259.4,192.1 260.7,191.7 262.0,192.0 263.3,190.9 264.6,191.5 265.9,192.3 267.2,192.1 268.5,192.3 269.8,192.6 271.2,191.7 272.5,192.1 273.8,191.7 275.1,192.2 276.4,192.6 277.7,192.1 279.0,192.5 280.3,191.7 281.6,190.9 283.0,192.3 284.3,192.4 285.6,191.8 286.9,191.5 288.2,191.5 289.5,191.1 290.8,192.1 292.1,191.1 293.5,191.2 294.8,191.3 296.1,191.8 297.4,191.9 298.7,192.6 300.0,192.5 301.3,192.6 302.6,192.4 303.9,192.4 305.3,192.1 306.6,192.4 307.9,192.3 309.2,192.1 310.5,192.1"/>
<polyline class="s" style="marker:url(#m8)" points="128.2,192.9 129.5,192.5 130.8,193.2 132.1,193.1 133.4,193.0 134.8,192.9 136.1,192.8 137.4,191.4 138.7,192.2 140.0,192.6 141.3,192.6 142.6,192.4 143.9,192.7 145.2,192.1 146.6,192.8 147.9,193.0 149.2,192.5 150.5,191.5 151.8,192.2 153.1,193.2 154.4,193.2 155.7,193.3 157.1,192.9 158.4,192.9 159.7,193.6 161.0,193.0 162.3,192.7 163.6,192.6 164.9,192.9 166.2,192.7 167.5,193.4 168.9,193.2 170.2,193.4 171.5,196.0 172.8,193.6 174.1,193.7 175.4,193.1 176.7,193.6 178.0,193.6 179.3,194.3 180.7,193.2 182.0,193.7 183.3,192.9 184.6,193.0 185.9,193.7 187.2,192.9 188.5,193.6 189.8,192.9 191.2,193.5 192.5,192.6 193.8,193.0 195.1,193.3 196.4,192.6 197.7,192.9 199.0,193.2 200.3,193.5 201.6,192.2 203.0,193.5 204.3,190.8 205.6,192.4 206.9,192.7 208.2,192.9 209.5,193.2 210.8,192.0 212.1,192.4 213.4,192.0 214.8,192.4 216.1,192.6 217.4,191.5 218.7,191.8 220.0,193.4 221.3,193.0 222.6,192.3 223.9,191.9 225.3,191.7 226.6,192.4 227.9,192.3 229.2,192.7 230.5,192.4 231.8,192.0 233.1,191.5 234.4,192.3 235.7,192.4 237.1,191.7 238.4,193.0 239.7,192.3 241.0,192.8 242.3,192.5 243.6,192.7 244.9,193.0 246.2,191.1 247.5,191.9 248.9,192.2 250.2,192.1 251.5,191.4 252.8,191.6 254.1,192.3 255.4,191.4 256.7,191.4 258.0,191.6 259.4,191.7 260.7,191.2 262.0,192.8 263.3,192.5 264.6,191.2 265.9,192.9 267.2,191.8 268.5,192.8 269.8,191.1 271.2,189.5 272.5,191.9 273.8,191.6 275.1,191.8 276.4,191.8 277.7,191.6 279.0,191.6 280.3,192.2 281.6,190.8 283.0,191.2 284.3,191.7 285.6,191.9 286.9,191.0 288.2,191.0 289.5,190.9 290.8,190.5 292.1,191.9 293.5,192.0 294.8,191.5 296.1,191.3 297.4,192.0 298.7,191.4 300.0,191.4 301.3,192.4 302.6,190.9 303.9,192.6 305.3,192.3 306.6,192.8 307.9,192.3 309.2,192.9 310.5,192.7"/>
<polyline class="s" style="marker:url(#m40)" points="128.2,191.6 129.5,192.2 130.8,192.0 132.1,192.0 133.4,192.3 134.8,192.0 136.1,192.7 137.4,191.7 138.7,192.3 140.0,192.2 141.3,191.5 142.6,192.2 143.9,192.5 145.2,192.2 146.6,191.6 147.9,192.2 149.2,192.2 150.5,192.4 151.8,192.5 153.1,192.1 154.4,192.3 155.7,191.7 157.1,191.8 158.4,191.5 159.7,193.0 161.0,192.2 162.3,192.7 163.6,192.0 164.9,192.8 166.2,192.8 167.5,192.7 168.9,193.0 170.2,192.6 171.5,192.9 172.8,192.1 174.1,192.7 175.4,192.3 176.7,190.3 178.0,192.9 179.3,192.5 180.7,192.1 182.0,192.7 183.3,193.4 184.6,192.9 185.9,192.7 187.2,192.4 188.5,192.5 189.8,192.7 191.2,192.9 192.5,192.7 193.8,192.7 195.1,192.1 196.4,193.0 197.7,192.8 199.0,191.9 200.3,191.8 201.6,192.4 203.0,192.1 204.3,191.6 205.6,192.2 206.9,191.4 208.2,191.9 209.5,191.0 210.8,191.2 212.1,192.4 213.4,191.7 214.8,191.6 216.1,192.2 217.4,191.5 218.7,191.6 220.0,192.2 221.3,191.7 222.6,191.7 223.9,192.3 225.3,191.7 226.6,192.3 227.9,192.3 229.2,191.5 230.5,191.2 231.8,192.0 233.1,192.0 234.4,191.9 235.7,192.1 237.1,191.5 238.4,191.9 239.7,192.8 241.0,191.8 242.3,191.7 243.6,191.5 244.9,192.0 246.2,191.7 247.5,192.0 248.9,191.8 250.2,192.2 251.5,191.7 252.8,191.8 254.1,192.2 255.4,191.6 256.7,191.7 258.0,191.3 259.4,192.1 260.7,191.4 262.0,191.4 263.3,192.0 264.6,192.6 265.9,191.7 267.2,191.4 268.5,190.9 269.8,191.7 271.2,191.5 272.5,191.1 273.8,191.0 275.1,191.3 276.4,191.7 277.7,191.1 279.0,191.4 280.3,191.2 281.6,191.3 283.0,190.4 284.3,190.6 285.6,191.3 286.9,190.5 288.2,191.4 289.5,190.6 290.8,191.2 292.1,191.7 293.5,191.6 294.8,190.9 296.1,191.2 297.4,190.8 298.7,190.7 300.0,190.1 301.3,192.4 302.6,191.4 303.9,191.7 305.3,192.0 306.6,191.7 307.9,191.6 309.2,192.0 310.5,192.4"/>
<polyline class="s" style="marker:url(#m4)" points="128.2,191.1 129.5,191.6 130.8,191.7 132.1,191.2 133.4,191.7 134.8,191.9 136.1,191.4 137.4,192.1 138.7,191.6 140.0,192.0 141.3,191.4 142.6,192.0 143.9,191.6 145.2,191.6 146.6,191.1 147.9,191.4 149.2,191.7 150.5,192.1 151.8,191.5 153.1,191.7 154.4,191.9 155.7,192.5 157.1,191.7 158.4,192.2 159.7,193.8 161.0,192.1 162.3,192.7 163.6,193.8 164.9,191.7 166.2,192.6 167.5,192.8 168.9,192.2 170.2,192.8 171.5,194.0 172.8,192.5 174.1,193.6 175.4,191.9 176.7,192.0 178.0,193.0 179.3,193.3 180.7,192.2 182.0,192.7 183.3,192.8 184.6,193.0 185.9,192.9 187.2,192.5 188.5,192.1 189.8,192.9 191.2,192.4 192.5,192.4 193.8,191.9 195.1,192.3 196.4,192.4 197.7,192.2 199.0,192.7 200.3,191.4 201.6,192.0 203.0,191.5 204.3,191.3 205.6,191.1 206.9,191.2 208.2,191.1 209.5,190.7 210.8,191.5 212.1,191.5 213.4,191.3 214.8,191.0 216.1,191.2 217.4,190.9 218.7,191.9 220.0,191.1 221.3,191.9 222.6,191.3 223.9,192.0 225.3,191.8 226.6,191.2 227.9,191.7 229.2,191.4 230.5,191.0 231.8,191.7 233.1,191.0 234.4,191.6 235.7,191.2 237.1,191.3 238.4,191.1 239.7,191.3 241.0,191.1 242.3,191.9 243.6,191.8 244.9,192.0 246.2,191.3 247.5,192.2 248.9,191.2 250.2,191.0 251.5,191.2 252.8,190.9 254.1,191.0 255.4,191.4 256.7,191.1 258.0,191.9 259.4,190.3 260.7,191.0 262.0,191.7 263.3,191.4 264.6,191.0 265.9,190.7 267.2,191.3 268.5,191.2 269.8,192.1 271.2,192.3 272.5,190.5 273.8,191.2 275.1,191.5 276.4,190.5 277.7,193.6 279.0,189.7 280.3,190.7 281.6,190.8 283.0,191.0 284.3,191.7 285.6,190.8 286.9,190.7 288.2,190.3 289.5,189.7 290.8,191.0 292.1,190.8 293.5,191.2 294.8,191.0 296.1,191.4 297.4,191.0 298.7,191.1 300.0,191.3 301.3,190.8 302.6,191.6 303.9,190.8 305.3,191.1 306.6,191.4 307.9,190.4 309.2,190.9 310.5,192.5"/>
<polyline class="s" style="marker:url(#m22)" points="128.2,191.8 129.5,191.2 130.8,191.1 132.1,191.4 133.4,189.9 134.8,191.5 136.1,191.2 137.4,191.9 138.7,191.7 140.0,190.8 141.3,190.9 142.6,190.9 143.9,190.8 145.2,191.4 146.6,191.9 147.9,191.5 149.2,190.2 150.5,192.1 151.8,191.2 153.1,191.7 154.4,191.2 155.7,192.1 157.1,191.6 158.4,191.1 159.7,191.9 161.0,192.0 162.3,191.3 163.6,192.2 164.9,190.8 166.2,191.3 167.5,191.7 168.9,191.6 170.2,191.5 171.5,191.8 172.8,191.8 174.1,192.6 175.4,192.4 176.7,190.2 178.0,192.6 179.3,191.8 180.7,191.9 182.0,192.1 183.3,192.8 184.6,192.7 185.9,193.0 187.2,192.2 188.5,192.0 189.8,192.2 191.2,191.7 192.5,191.3 193.8,192.5 195.1,191.0 196.4,191.7 197.7,191.5 199.0,192.4 200.3,191.6 201.6,191.1 203.0,190.9 204.3,191.1 205.6,191.0 206.9,190.7 208.2,190.6 209.5,190.6 210.8,191.0 212.1,190.7 213.4,191.0 214.8,191.3 216.1,191.0 217.4,190.3 218.7,191.4 220.0,191.6 221.3,190.6 222.6,190.3 223.9,191.0 225.3,190.9 226.6,190.3 227.9,191.4 229.2,190.9 230.5,190.7 231.8,191.5 233.1,191.2 234.4,190.8 235.7,191.3 237.1,191.3 238.4,191.2 239.7,191.5 241.0,190.8 242.3,190.6 243.6,191.0 244.9,191.8 246.2,190.7 247.5,191.3 248.9,191.0 250.2,190.3 251.5,190.5 252.8,190.3 254.1,190.8 255.4,190.6 256.7,190.4 258.0,190.6 259.4,190.8 260.7,190.7 262.0,190.7 263.3,191.7 264.6,191.1 265.9,191.6 267.2,190.4 268.5,191.1 269.8,190.6 271.2,190.8 272.5,190.0 273.8,191.3 275.1,190.6 276.4,190.3 277.7,191.0 279.0,190.5 280.3,191.3 281.6,191.1 283.0,189.8 284.3,190.3 285.6,189.5 286.9,189.3 288.2,189.5 289.5,189.6 290.8,191.5 292.1,189.8 293.5,190.1 294.8,190.1 296.1,190.4 297.4,190.8 298.7,191.1 300.0,190.1 301.3,191.0 302.6,190.1 303.9,190.5 305.3,191.1 306.6,191.0 307.9,191.2 309.2,189.7 310.5,191.3"/>
<polyline class="s" style="marker:url(#m14)" points="128.2,190.9 129.5,191.5 130.8,191.1 132.1,191.0 133.4,190.2 134.8,191.3 136.1,190.9 137.4,189.6 138.7,191.1 140.0,190.7 141.3,190.9 142.6,189.3 143.9,191.4 145.2,190.6 146.6,191.2 147.9,190.9 149.2,190.1 150.5,191.1 151.8,191.0 153.1,191.3 154.4,190.8 155.7,191.8 157.1,191.4 158.4,191.3 159.7,191.4 161.0,191.8 162.3,191.0 163.6,191.3 164.9,190.6 166.2,191.0 167.5,191.3 168.9,191.1 170.2,190.0 171.5,191.7 172.8,191.8 174.1,191.6 175.4,191.6 176.7,191.2 178.0,191.1 179.3,191.5 180.7,191.4 182.0,191.9 183.3,191.9 184.6,191.4 185.9,192.1 187.2,191.9 188.5,191.4 189.8,191.0 191.2,192.3 192.5,191.0 193.8,190.9 195.1,191.2 196.4,190.9 197.7,191.1 199.0,191.3 200.3,190.2 201.6,189.7 203.0,191.4 204.3,190.4 205.6,191.5 206.9,190.5 208.2,190.0 209.5,190.0 210.8,189.6 212.1,190.3 213.4,190.3 214.8,190.3 216.1,189.9 217.4,190.6 218.7,190.6 220.0,191.2 221.3,190.4 222.6,190.6 223.9,191.5 225.3,190.3 226.6,190.7 227.9,190.6 229.2,191.0 230.5,191.4 231.8,191.2 233.1,191.8 234.4,192.1 235.7,192.4 237.1,191.0 238.4,190.2 239.7,191.7 241.0,190.6 242.3,191.0 243.6,191.2 244.9,190.9 246.2,190.9 247.5,190.5 248.9,191.0 250.2,190.5 251.5,189.2 252.8,189.6 254.1,191.2 255.4,190.5 256.7,190.4 258.0,190.6 259.4,190.3 260.7,189.6 262.0,190.3 263.3,190.2 264.6,190.0 265.9,190.6 267.2,190.3 268.5,191.2 269.8,190.3 271.2,190.3 272.5,191.2 273.8,190.2 275.1,190.2 276.4,189.8 277.7,190.0 279.0,189.9 280.3,190.2 281.6,191.0 283.0,190.1 284.3,189.5 285.6,190.2 286.9,190.0 288.2,190.0 289.5,189.8 290.8,190.1 292.1,190.2 293.5,189.7 294.8,190.0 296.1,190.0 297.4,192.5 298.7,190.7 300.0,190.0 301.3,190.4 302.6,190.1 303.9,190.5 305.3,190.1 306.6,190.4 307.9,190.0 309.2,190.5 310.5,191.7"/>
<polyline class="s" style="marker:url(#m7)" points="128.2,191.5 129.5,191.1 130.8,189.8 132.1,190.0 133.4,191.4 134.8,190.4 136.1,190.3 137.4,190.6 138.7,190.8 140.0,190.8 141.3,190.2 142.6,190.0 143.9,190.7 145.2,190.3 146.6,189.6 147.9,190.3 149.2,190.5 150.5,189.8 151.8,190.2 153.1,191.0 154.4,191.0 155.7,189.9 157.1,191.0 158.4,190.3 159.7,191.0 161.0,192.1 162.3,191.8 163.6,190.8 164.9,191.0 166.2,190.7 167.5,190.7 168.9,190.5 170.2,191.6 171.5,191.8 172.8,191.5 174.1,190.7 175.4,190.7 176.7,190.8 178.0,191.6 179.3,193.4 180.7,191.7 182.0,191.3 183.3,191.5 184.6,190.4 185.9,192.1 187.2,191.4 188.5,190.9 189.8,191.5 191.2,191.8 192.5,191.6 193.8,191.2 195.1,191.1 196.4,191.0 197.7,190.9 199.0,190.6 200.3,191.0 201.6,190.5 203.0,190.3 204.3,191.5 205.6,191.8 206.9,192.0 208.2,191.2 209.5,190.6 210.8,191.1 212.1,189.7 213.4,190.4 214.8,190.8 216.1,190.6 217.4,190.4 218.7,191.2 220.0,191.3 221.3,190.0 222.6,191.2 223.9,190.4 225.3,190.5 226.6,190.8 227.9,191.0 229.2,190.9 230.5,191.1 231.8,190.4 233.1,190.7 234.4,190.4 235.7,190.8 237.1,191.4 238.4,191.0 239.7,190.4 241.0,190.6 242.3,190.2 243.6,190.9 244.9,190.5 246.2,190.2 247.5,189.1 248.9,190.2 250.2,190.3 251.5,190.0 252.8,189.8 254.1,191.0 255.4,190.1 256.7,190.4 258.0,190.5 259.4,190.7 260.7,190.2 262.0,190.1 263.3,190.4 264.6,189.9 265.9,192.2 267.2,190.1 268.5,189.6 269.8,191.7 271.2,190.0 272.5,190.3 273.8,189.9 275.1,189.7 276.4,189.0 277.7,189.8 279.0,189.3 280.3,189.7 281.6,189.4 283.0,189.0 284.3,189.0 285.6,188.6 286.9,189.3 288.2,189.2 289.5,188.8 290.8,188.9 292.1,189.4 293.5,188.9 294.8,188.9 296.1,189.7 297.4,189.3 298.7,189.1 300.0,190.3 301.3,189.2 302.6,188.9 303.9,190.3 305.3,190.5 306.6,190.0 307.9,190.0 309.2,190.1 310.5,190.3"/>
<polyline class="s" style="marker:url(#m41)" points="128.2,190.1 129.5,189.6 130.8,191.3 132.1,190.6 133.4,189.5 134.8,189.8 136.1,190.6 137.4,190.3 138.7,189.4 140.0,191.2 141.3,189.8 142.6,190.8 143.9,189.4 145.2,189.0 146.6,189.8 147.9,190.0 149.2,190.3 150.5,190.8 151.8,190.1 153.1,190.0 154.4,189.9 155.7,190.4 157.1,190.4 158.4,190.5 159.7,191.4 161.0,189.9 162.3,190.5 163.6,191.2 164.9,190.6 166.2,191.0 167.5,191.0 168.9,190.3 170.2,190.2 171.5,190.1 172.8,190.5 174.1,190.4 175.4,190.9 176.7,190.0 178.0,190.4 179.3,190.4 180.7,191.8 182.0,191.3 183.3,193.4 184.6,190.9 185.9,191.2 187.2,190.9 188.5,190.2 189.8,190.6 191.2,190.3 192.5,190.9 193.8,189.8 195.1,190.4 196.4,190.4 197.7,189.6 199.0,189.1 200.3,189.6 201.6,190.5 203.0,190.0 204.3,190.0 205.6,189.7 206.9,190.5 208.2,189.5 209.5,189.5 210.8,190.4 212.1,189.2 213.4,189.8 214.8,189.4 216.1,188.9 217.4,190.6 218.7,190.8 220.0,189.7 221.3,189.5 222.6,190.4 223.9,191.9 225.3,189.8 226.6,190.0 227.9,189.7 229.2,190.3 230.5,190.1 231.8,189.9 233.1,189.9 234.4,189.8 235.7,189.2 237.1,190.9 238.4,189.1 239.7,190.8 241.0,189.7 242.3,190.2 243.6,190.1 244.9,190.3 246.2,189.8 247.5,188.8 248.9,189.1 250.2,189.1 251.5,189.5 252.8,189.3 254.1,189.4 255.4,189.5 256.7,189.1 258.0,189.4 259.4,189.9 260.7,188.9 262.0,189.6 263.3,189.8 264.6,189.0 265.9,188.9 267.2,189.3 268.5,188.8 269.8,189.2 271.2,189.2 272.5,188.6 273.8,189.4 275.1,188.8 276.4,188.8 277.7,189.1 279.0,188.5 280.3,189.6 281.6,189.7 283.0,188.7 284.3,188.6 285.6,188.7 286.9,189.6 288.2,189.6 289.5,187.9 290.8,188.7 292.1,189.4 293.5,188.3 294.8,188.8 296.1,188.7 297.4,188.9 298.7,189.6 300.0,189.0 301.3,190.0 302.6,189.4 303.9,187.9 305.3,189.1 306.6,189.2 307.9,190.8 309.2,190.2 310.5,189.7"/>
<polyline class="s" style="marker:url(#m42)" points="128.2,189.4 129.5,189.6 130.8,190.0 132.1,190.7 133.4,190.2 134.8,189.5 136.1,189.3 137.4,189.4 138.7,189.6 140.0,190.1 141.3,189.4 142.6,190.0 143.9,189.3 145.2,188.5 146.6,189.7 147.9,189.0 149.2,190.7 150.5,188.7 151.8,189.6 153.1,189.2 154.4,189.1 155.7,190.2 157.1,190.3 158.4,189.1 159.7,190.4 161.0,190.1 162.3,190.3 163.6,190.3 164.9,190.2 166.2,189.9 167.5,190.0 168.9,190.8 170.2,190.1 171.5,190.2 172.8,190.2 174.1,191.9 175.4,190.8 176.7,190.3 178.0,190.7 179.3,190.5 180.7,190.7 182.0,190.4 183.3,190.7 184.6,190.0 185.9,189.9 187.2,190.5 188.5,190.6 189.8,190.9 191.2,190.7 192.5,190.6 193.8,191.9 195.1,191.1 196.4,189.7 197.7,190.3 199.0,189.8 200.3,189.1 201.6,189.4 203.0,190.0 204.3,189.7 205.6,189.7 206.9,189.8 208.2,189.2 209.5,188.3 210.8,189.8 212.1,189.2 213.4,190.6 214.8,189.7 216.1,190.0 217.4,189.3 218.7,189.4 220.0,189.8 221.3,189.7 222.6,189.1 223.9,189.8 225.3,189.6 226.6,189.1 227.9,190.1 229.2,189.4 230.5,190.3 231.8,190.3 233.1,190.1 234.4,187.5 235.7,190.0 237.1,189.1 238.4,189.0 239.7,189.5 241.0,190.1 242.3,189.9 243.6,189.0 244.9,189.5 246.2,190.4 247.5,189.2 248.9,189.8 250.2,188.8 251.5,189.4 252.8,188.9 254.1,189.1 255.4,189.6 256.7,189.2 258.0,188.4 259.4,189.2 260.7,189.4 262.0,189.3 263.3,189.8 264.6,189.3 265.9,188.6 267.2,188.8 268.5,190.0 269.8,188.8 271.2,189.0 272.5,188.9 273.8,189.4 275.1,189.6 276.4,189.1 277.7,189.1 279.0,187.5 280.3,188.9 281.6,188.3 283.0,188.6 284.3,188.5 285.6,188.2 286.9,188.5 288.2,188.2 289.5,187.2 290.8,187.9 292.1,187.6 293.5,189.0 294.8,188.5 296.1,188.0 297.4,188.7 298.7,189.2 300.0,189.4 301.3,189.0 302.6,189.0 303.9,188.8 305.3,189.7 306.6,189.3 307.9,189.2 309.2,189.3 310.5,188.9"/>
<polyline class="s" style="marker:url(#m43)" points="128.2,189.4 129.5,189.4 130.8,189.0 132.1,190.1 133.4,189.5 134.8,188.7 136.1,189.6 137.4,189.7 138.7,189.4 140.0,188.6 141.3,188.8 142.6,189.3 143.9,189.6 145.2,190.0 146.6,188.6 147.9,189.1 149.2,188.7 150.5,188.9 151.8,188.0 153.1,188.8 154.4,189.4 155.7,189.4 157.1,189.5 158.4,189.5 159.7,189.8 161.0,189.0 162.3,189.0 163.6,189.3 164.9,189.1 166.2,189.6 167.5,189.1 168.9,189.7 170.2,189.9 171.5,189.6 172.8,190.8 174.1,189.7 175.4,190.2 176.7,189.5 178.0,190.2 179.3,189.6 180.7,189.2 182.0,189.8 183.3,190.1 184.6,189.3 185.9,190.3 187.2,189.5 188.5,189.8 189.8,190.2 191.2,189.5 192.5,189.1 193.8,189.4 195.1,189.3 196.4,189.4 197.7,189.4 199.0,189.5 200.3,188.9 201.6,189.5 203.0,189.2 204.3,189.0 205.6,189.2 206.9,188.7 208.2,188.9 209.5,188.8 210.8,188.5 212.1,188.9 213.4,188.3 214.8,189.6 216.1,189.0 217.4,189.3 218.7,189.4 220.0,189.9 221.3,189.8 222.6,189.5 223.9,189.4 225.3,188.8 226.6,189.5 227.9,189.3 229.2,190.1 230.5,188.8 231.8,190.1 233.1,189.6 234.4,189.2 235.7,189.0 237.1,188.9 238.4,190.0 239.7,188.6 241.0,188.7 242.3,189.2 243.6,189.2 244.9,188.8 246.2,188.5 247.5,189.0 248.9,189.8 250.2,189.0 251.5,188.1 252.8,189.1 254.1,188.3 255.4,189.0 256.7,188.2 258.0,188.5 259.4,187.5 260.7,188.3 262.0,188.9 263.3,188.5 264.6,188.2 265.9,189.6 267.2,188.9 268.5,188.5 269.8,188.9 271.2,188.9 272.5,189.1 273.8,189.1 275.1,188.6 276.4,188.8 277.7,186.8 279.0,189.0 280.3,188.2 281.6,188.3 283.0,188.8 284.3,187.6 285.6,188.2 286.9,188.3 288.2,188.7 289.5,188.0 290.8,187.7 292.1,188.0 293.5,188.2 294.8,188.5 296.1,189.7 297.4,188.2 298.7,188.3 300.0,188.9 301.3,188.7 302.6,188.8 303.9,188.6 305.3,189.4 306.6,189.0 307.9,189.5 309.2,189.4 310.5,189.1"/>
<polyline class="s" style="marker:url(#m44)" points="128.2,189.4 129.5,189.3 130.8,190.1 132.1,189.2 133.4,188.9 134.8,189.5 136.1,188.8 137.4,188.2 138.7,188.4 140.0,188.5 141.3,189.2 142.6,188.3 143.9,188.8 145.2,188.7 146.6,189.1 147.9,188.7 149.2,189.0 150.5,189.1 151.8,188.8 153.1,189.2 154.4,189.3 155.7,189.3 157.1,189.6 158.4,189.1 159.7,188.5 161.0,189.3 162.3,188.8 163.6,189.0 164.9,189.3 166.2,188.8 167.5,190.0 168.9,189.9 170.2,190.1 171.5,189.3 172.8,188.7 174.1,189.6 175.4,189.6 176.7,189.5 178.0,190.5 179.3,189.7 180.7,189.2 182.0,189.3 183.3,190.3 184.6,189.7 185.9,189.6 187.2,189.6 188.5,189.4 189.8,189.9 191.2,189.7 192.5,190.0 193.8,188.9 195.1,188.3 196.4,189.6 197.7,189.6 199.0,188.5 200.3,189.4 201.6,189.0 203.0,188.2 204.3,189.5 205.6,188.5 206.9,187.9 208.2,188.6 209.5,188.9 210.8,188.6 212.1,187.6 213.4,189.1 214.8,188.6 216.1,188.7 217.4,188.8 218.7,191.4 220.0,189.2 221.3,189.0 222.6,189.2 223.9,187.9 225.3,188.6 226.6,188.4 227.9,188.4 229.2,188.4 230.5,189.5 231.8,189.7 233.1,189.4 234.4,189.1 235.7,189.0 237.1,189.4 238.4,189.6 239.7,188.4 241.0,188.6 242.3,188.7 243.6,189.5 244.9,189.1 246.2,189.1 247.5,189.0 248.9,188.5 250.2,188.5 251.5,188.9 252.8,187.9 254.1,189.0 255.4,188.6 256.7,188.2 258.0,188.7 259.4,188.5 260.7,189.0 262.0,187.8 263.3,188.5 264.6,188.5 265.9,188.6 267.2,189.1 268.5,188.2 269.8,188.3 271.2,187.8 272.5,187.7 273.8,187.7 275.1,187.9 276.4,188.3 277.7,188.2 279.0,188.5 280.3,188.1 281.6,187.5 283.0,187.7 284.3,187.7 285.6,187.6 286.9,188.1 288.2,188.0 289.5,187.9 290.8,187.7 292.1,187.8 293.5,187.1 294.8,188.6 296.1,188.1 297.4,187.3 298.7,187.5 300.0,188.6 301.3,188.3 302.6,188.6 303.9,188.1 305.3,188.0 306.6,188.5 307.9,188.2 309.2,189.0 310.5,188.8"/>
<polyline class="s" style="marker:url(#m16)" points="128.2,187.5 129.5,188.4 130.8,188.7 132.1,188.2 133.4,188.4 134.8,188.0 136.1,188.8 137.4,188.4 138.7,188.2 140.0,188.4 141.3,188.8 142.6,187.0 143.9,188.4 145.2,188.1 146.6,187.9 147.9,188.2 149.2,187.0 150.5,188.4 151.8,188.3 153.1,188.7 154.4,188.7 155.7,189.2 157.1,188.8 158.4,188.3 159.7,188.9 161.0,190.7 162.3,188.8 163.6,189.0 164.9,189.0 166.2,188.5 167.5,189.1 168.9,189.5 170.2,189.1 171.5,189.6 172.8,189.1 174.1,189.0 175.4,189.0 176.7,188.4 178.0,188.8 179.3,189.9 180.7,189.9 182.0,188.8 183.3,189.4 184.6,189.2 185.9,188.4 187.2,189.4 188.5,188.9 189.8,189.2 191.2,189.5 192.5,188.9 193.8,188.4 195.1,188.6 196.4,189.1 197.7,189.4 199.0,189.7 200.3,188.7 201.6,188.6 203.0,188.9 204.3,188.4 205.6,188.6 206.9,188.6 208.2,189.4 209.5,189.2 210.8,188.2 212.1,188.4 213.4,189.2 214.8,188.5 216.1,189.2 217.4,188.7 218.7,187.8 220.0,188.2 221.3,188.4 222.6,188.4 223.9,188.5 225.3,188.3 226.6,188.5 227.9,188.8 229.2,190.3 230.5,188.6 231.8,188.4 233.1,188.1 234.4,188.3 235.7,188.4 237.1,188.9 238.4,188.7 239.7,189.5 241.0,188.2 242.3,188.6 243.6,188.3 244.9,187.6 246.2,188.0 247.5,188.6 248.9,188.6 250.2,188.5 251.5,187.9 252.8,188.2 254.1,188.2 255.4,188.1 256.7,188.5 258.0,188.0 259.4,187.6 260.7,187.5 262.0,188.1 263.3,187.8 264.6,187.7 265.9,187.6 267.2,188.2 268.5,187.7 269.8,187.4 271.2,188.0 272.5,187.7 273.8,188.1 275.1,187.8 276.4,187.5 277.7,188.3 279.0,187.8 280.3,187.0 281.6,187.5 283.0,188.0 284.3,187.9 285.6,187.7 286.9,187.0 288.2,187.6 289.5,187.2 290.8,187.8 292.1,187.8 293.5,187.7 294.8,186.9 296.1,187.9 297.4,187.1 298.7,187.7 300.0,188.8 301.3,188.7 302.6,187.6 303.9,187.7 305.3,188.0 306.6,189.2 307.9,188.7 309.2,189.0 310.5,188.2"/>
<polyline class="s" style="marker:url(#m45)" points="128.2,188.6 129.5,188.1 130.8,188.9 132.1,189.1 133.4,187.6 134.8,187.5 136.1,187.6 137.4,187.5 138.7,187.4 140.0,188.7 141.3,187.8 142.6,187.4 143.9,188.7 145.2,188.4 146.6,188.7 147.9,188.0 149.2,187.9 150.5,187.9 151.8,187.2 153.1,188.2 154.4,188.4 155.7,188.0 157.1,188.2 158.4,187.9 159.7,188.0 161.0,188.0 162.3,188.1 163.6,188.7 164.9,188.5 166.2,188.2 167.5,188.8 168.9,188.5 170.2,188.4 171.5,188.8 172.8,189.5 174.1,189.6 175.4,188.5 176.7,188.1 178.0,189.0 179.3,189.2 180.7,189.0 182.0,188.3 183.3,188.6 184.6,187.9 185.9,188.5 187.2,189.0 188.5,189.2 189.8,188.2 191.2,189.0 192.5,188.8 193.8,187.9 195.1,189.1 196.4,188.5 197.7,188.1 199.0,188.4 200.3,187.9 201.6,188.1 203.0,188.0 204.3,187.7 205.6,187.7 206.9,188.7 208.2,188.6 209.5,188.5 210.8,187.7 212.1,188.8 213.4,188.1 214.8,187.6 216.1,188.0 217.4,187.7 218.7,187.6 220.0,188.0 221.3,188.7 222.6,188.4 223.9,187.9 225.3,187.6 226.6,188.2 227.9,188.3 229.2,188.4 230.5,187.8 231.8,187.9 233.1,188.2 234.4,188.6 235.7,188.0 237.1,188.9 238.4,188.2 239.7,188.3 241.0,187.3 242.3,188.2 243.6,189.1 244.9,187.8 246.2,187.2 247.5,188.0 248.9,188.0 250.2,187.0 251.5,187.5 252.8,187.8 254.1,188.3 255.4,187.9 256.7,187.5 258.0,188.3 259.4,190.1 260.7,187.8 262.0,187.6 263.3,188.5 264.6,187.0 265.9,187.3 267.2,186.8 268.5,187.7 269.8,187.1 271.2,188.0 272.5,186.0 273.8,187.2 275.1,187.1 276.4,186.9 277.7,187.6 279.0,187.6 280.3,187.0 281.6,186.8 283.0,186.8 284.3,187.1 285.6,187.4 286.9,187.6 288.2,186.9 289.5,188.6 290.8,187.1 292.1,189.7 293.5,186.6 294.8,187.8 296.1,187.4 297.4,186.6 298.7,187.9 300.0,187.3 301.3,188.0 302.6,187.6 303.9,187.5 305.3,188.2 306.6,187.8 307.9,188.2 309.2,187.7 310.5,187.8"/>
<polyline class="s" style="marker:url(#m32)" points="128.2,187.6 129.5,187.4 130.8,187.6 132.1,187.6 133.4,186.5 134.8,187.3 136.1,187.7 137.4,187.8 138.7,186.2 140.0,187.7 141.3,187.9 142.6,187.9 143.9,186.9 145.2,187.6 146.6,187.8 147.9,187.1 149.2,187.3 150.5,187.5 151.8,187.5 153.1,187.8 154.4,187.9 155.7,187.6 157.1,188.3 158.4,188.1 159.7,188.1 161.0,187.0 162.3,187.9 163.6,188.3 164.9,187.5 166.2,188.3 167.5,187.8 168.9,187.7 170.2,189.0 171.5,187.9 172.8,188.7 174.1,187.6 175.4,188.6 176.7,188.8 178.0,187.6 179.3,188.9 180.7,188.3 182.0,188.7 183.3,189.3 184.6,187.8 185.9,187.8 187.2,187.8 188.5,189.2 189.8,187.9 191.2,188.2 192.5,187.7 193.8,187.7 195.1,188.1 196.4,188.9 197.7,187.8 199.0,188.4 200.3,187.8 201.6,187.1 203.0,188.0 204.3,188.2 205.6,187.9 206.9,187.7 208.2,189.3 209.5,187.6 210.8,186.9 212.1,188.1 213.4,187.6 214.8,187.5 216.1,186.9 217.4,188.0 218.7,189.2 220.0,187.6 221.3,188.0 222.6,187.2 223.9,187.5 225.3,187.1 226.6,187.3 227.9,187.5 229.2,186.6 230.5,187.6 231.8,188.1 233.1,187.2 234.4,188.6 235.7,188.0 237.1,187.5 238.4,187.4 239.7,187.4 241.0,187.3 242.3,187.0 243.6,187.7 244.9,187.5 246.2,187.3 247.5,187.1 248.9,187.4 250.2,187.6 251.5,186.5 252.8,186.4 254.1,186.8 255.4,187.6 256.7,186.8 258.0,187.2 259.4,187.9 260.7,186.8 262.0,187.4 263.3,186.3 264.6,187.0 265.9,186.1 267.2,187.1 268.5,187.6 269.8,186.3 271.2,186.3 272.5,186.8 273.8,187.3 275.1,187.0 276.4,187.0 277.7,186.3 279.0,187.1 280.3,186.7 281.6,187.9 283.0,185.7 284.3,185.6 285.6,187.2 286.9,186.6 288.2,186.0 289.5,187.1 290.8,187.4 292.1,184.4 293.5,186.6 294.8,186.6 296.1,187.5 297.4,186.0 298.7,184.2 300.0,187.0 301.3,187.1 302.6,187.0 303.9,187.1 305.3,186.0 306.6,186.8 307.9,187.0 309.2,187.1 310.5,187.1"/>
<polyline class="s" style="marker:url(#m46)" points="128.2,187.5 129.5,187.5 130.8,187.4 132.1,187.3 133.4,187.6 134.8,187.1 136.1,187.1 137.4,186.7 138.7,187.7 140.0,187.8 141.3,187.7 142.6,187.4 143.9,186.4 145.2,186.7 146.6,187.3 147.9,187.5 149.2,187.5 150.5,186.8 151.8,187.6 153.1,187.1 154.4,187.6 155.7,187.5 157.1,188.4 158.4,187.6 159.7,187.8 161.0,186.8 162.3,186.9 163.6,187.9 164.9,188.6 166.2,188.3 167.5,187.7 168.9,187.5 170.2,187.7 171.5,188.2 172.8,189.0 174.1,187.7 175.4,187.9 176.7,188.3 178.0,188.7 179.3,189.3 180.7,188.6 182.0,187.5 183.3,188.4 184.6,188.7 185.9,188.1 187.2,188.2 188.5,188.2 189.8,188.0 191.2,187.7 192.5,188.5 193.8,188.5 195.1,187.7 196.4,188.1 197.7,187.9 199.0,188.6 200.3,186.9 201.6,186.5 203.0,187.3 204.3,187.1 205.6,187.6 206.9,187.2 208.2,187.6 209.5,187.5 210.8,187.3 212.1,187.1 213.4,187.0 214.8,187.2 216.1,187.2 217.4,187.8 218.7,187.1 220.0,187.7 221.3,187.0 222.6,187.2 223.9,188.2 225.3,187.3 226.6,187.1 227.9,186.5 229.2,187.7 230.5,187.8 231.8,186.9 233.1,187.7 234.4,186.5 235.7,187.2 237.1,188.2 238.4,187.3 239.7,186.7 241.0,187.1 242.3,186.8 243.6,187.6 244.9,186.8 246.2,187.3 247.5,186.0 248.9,185.2 250.2,185.6 251.5,186.5 252.8,187.0 254.1,186.0 255.4,186.7 256.7,186.7 258.0,187.1 259.4,187.0 260.7,186.4 262.0,186.1 263.3,186.2 264.6,186.0 265.9,186.4 267.2,188.0 268.5,187.6 269.8,186.9 271.2,185.9 272.5,187.1 273.8,186.3 275.1,186.5 276.4,186.7 277.7,185.8 279.0,185.5 280.3,186.8 281.6,188.2 283.0,186.1 284.3,186.6 285.6,185.3 286.9,187.2 288.2,186.2 289.5,185.3 290.8,187.0 292.1,185.8 293.5,185.9 294.8,186.9 296.1,186.3 297.4,187.1 298.7,187.6 300.0,187.3 301.3,186.7 302.6,186.8 303.9,187.1 305.3,186.4 306.6,186.9 307.9,187.5 309.2,187.1 310.5,187.6"/>
<polyline class="s" style="marker:url(#m38)" points="128.2,186.7 129.5,187.5 130.8,186.7 132.1,186.9 133.4,186.8 134.8,186.8 136.1,186.8 137.4,187.9 138.7,186.4 140.0,186.3 141.3,186.6 142.6,185.5 143.9,186.5 145.2,186.6 146.6,186.7 147.9,186.5 149.2,186.6 150.5,186.9 151.8,186.3 153.1,186.4 154.4,187.6 155.7,187.4 157.1,186.7 158.4,187.4 159.7,186.8 161.0,187.8 162.3,187.6 163.6,187.3 164.9,187.7 166.2,187.7 167.5,188.0 168.9,187.1 170.2,187.2 171.5,187.4 172.8,188.4 174.1,187.6 175.4,187.9 176.7,186.7 178.0,187.7 179.3,187.7 180.7,187.1 182.0,187.0 183.3,187.4 184.6,188.1 185.9,187.0 187.2,187.1 188.5,187.0 189.8,187.6 191.2,187.9 192.5,187.7 193.8,187.3 195.1,188.1 196.4,186.5 197.7,187.3 199.0,187.9 200.3,186.0 201.6,186.8 203.0,187.4 204.3,186.8 205.6,186.6 206.9,186.8 208.2,187.4 209.5,187.2 210.8,188.2 212.1,186.6 213.4,187.8 214.8,186.2 216.1,186.3 217.4,186.3 218.7,186.8 220.0,186.8 221.3,186.9 222.6,186.2 223.9,186.7 225.3,186.5 226.6,186.4 227.9,186.4 229.2,187.6 230.5,186.3 231.8,187.3 233.1,186.6 234.4,187.0 235.7,186.2 237.1,186.5 238.4,187.1 239.7,187.0 241.0,187.3 242.3,186.1 243.6,186.5 244.9,188.5 246.2,186.7 247.5,186.6 248.9,186.8 250.2,187.1 251.5,186.3 252.8,186.8 254.1,186.2 255.4,186.3 256.7,186.1 258.0,186.5 259.4,186.0 260.7,186.2 262.0,186.2 263.3,186.9 264.6,187.0 265.9,186.9 267.2,186.5 268.5,186.7 269.8,186.4 271.2,186.6 272.5,186.3 273.8,186.7 275.1,186.9 276.4,186.6 277.7,186.1 279.0,186.3 280.3,186.2 281.6,185.3 283.0,185.8 284.3,185.2 285.6,185.7 286.9,185.9 288.2,186.0 289.5,185.8 290.8,186.4 292.1,186.8 293.5,185.6 294.8,185.6 296.1,185.7 297.4,185.3 298.7,186.2 300.0,185.7 301.3,186.0 302.6,185.8 303.9,186.1 305.3,186.0 306.6,186.0 307.9,187.0 309.2,186.3 310.5,188.5"/>
<polyline class="s" style="marker:url(#m47)" points="128.2,187.1 129.5,186.1 130.8,185.7 132.1,185.8 133.4,186.0 134.8,187.3 136.1,186.0 137.4,186.3 138.7,185.7 140.0,185.4 141.3,186.2 142.6,186.2 143.9,184.8 145.2,186.1 146.6,186.6 147.9,186.6 149.2,186.7 150.5,186.9 151.8,186.7 153.1,186.2 154.4,186.3 155.7,186.5 157.1,186.6 158.4,185.9 159.7,187.0 161.0,186.2 162.3,186.3 163.6,186.8 164.9,187.4 166.2,187.4 167.5,187.2 168.9,187.5 170.2,187.4 171.5,187.6 172.8,187.1 174.1,186.9 175.4,187.7 176.7,187.2 178.0,187.1 179.3,187.4 180.7,187.9 182.0,187.6 183.3,186.9 184.6,188.0 185.9,186.2 187.2,187.0 188.5,186.5 189.8,186.9 191.2,187.1 192.5,187.4 193.8,188.0 195.1,187.6 196.4,186.5 197.7,188.1 199.0,186.5 200.3,185.9 201.6,186.7 203.0,186.5 204.3,186.5 205.6,186.1 206.9,186.7 208.2,185.6 209.5,187.1 210.8,186.3 212.1,186.3 213.4,186.1 214.8,187.0 216.1,186.0 217.4,187.2 218.7,185.4 220.0,184.0 221.3,185.5 222.6,186.8 223.9,186.1 225.3,186.5 226.6,186.0 227.9,187.2 229.2,186.2 230.5,185.6 231.8,186.5 233.1,186.7 234.4,186.5 235.7,186.6 237.1,186.0 238.4,185.7 239.7,186.8 241.0,185.8 242.3,185.5 243.6,186.2 244.9,186.4 246.2,185.1 247.5,185.4 248.9,185.3 250.2,186.0 251.5,185.4 252.8,186.1 254.1,185.9 255.4,184.6 256.7,185.4 258.0,185.4 259.4,185.6 260.7,185.6 262.0,185.2 263.3,185.2 264.6,185.4 265.9,185.6 267.2,186.0 268.5,185.5 269.8,184.8 271.2,185.7 272.5,185.4 273.8,185.1 275.1,185.2 276.4,185.7 277.7,185.6 279.0,185.2 280.3,185.2 281.6,183.8 283.0,185.7 284.3,185.7 285.6,185.4 286.9,183.8 288.2,185.2 289.5,185.0 290.8,184.2 292.1,184.9 293.5,185.5 294.8,185.5 296.1,185.7 297.4,185.6 298.7,185.8 300.0,185.6 301.3,186.1 302.6,185.2 303.9,186.1 305.3,185.3 306.6,186.3 307.9,186.5 309.2,186.4 310.5,186.7"/>
<polyline class="s" style="marker:url(#m47)" points="128.2,185.6 129.5,186.3 130.8,187.1 132.1,186.1 133.4,186.1 134.8,186.0 136.1,185.7 137.4,186.6 138.7,186.4 140.0,185.7 141.3,185.8 142.6,186.2 143.9,186.5 145.2,185.5 146.6,185.4 147.9,186.3 149.2,186.1 150.5,185.9 151.8,185.6 153.1,185.4 154.4,186.5 155.7,186.2 157.1,185.7 158.4,185.9 159.7,184.6 161.0,185.4 162.3,185.9 163.6,186.0 164.9,186.0 166.2,186.5 167.5,186.3 168.9,185.9 170.2,186.4 171.5,187.1 172.8,186.3 174.1,186.2 175.4,187.0 176.7,187.0 178.0,186.7 179.3,186.1 180.7,186.6 182.0,186.9 183.3,186.8 184.6,186.6 185.9,186.0 187.2,186.1 188.5,186.1 189.8,186.9 191.2,186.1 192.5,186.0 193.8,189.0 195.1,186.7 196.4,185.1 197.7,185.5 199.0,186.1 200.3,185.7 201.6,186.4 203.0,185.9 204.3,186.7 205.6,186.6 206.9,185.4 208.2,185.8 209.5,185.5 210.8,185.5 212.1,185.8 213.4,185.6 214.8,185.5 216.1,186.2 217.4,185.8 218.7,186.2 220.0,186.6 221.3,186.1 222.6,185.8 223.9,186.0 225.3,186.1 226.6,186.1 227.9,186.5 229.2,186.3 230.5,186.2 231.8,185.4 233.1,185.7 234.4,186.4 235.7,186.9 237.1,185.8 238.4,186.4 239.7,185.8 241.0,186.5 242.3,185.7 243.6,185.8 244.9,185.8 246.2,185.3 247.5,187.5 248.9,185.4 250.2,185.7 251.5,185.5 252.8,186.3 254.1,186.2 255.4,186.2 256.7,185.3 258.0,185.6 259.4,185.9 260.7,185.4 262.0,185.3 263.3,184.4 264.6,185.4 265.9,185.2 267.2,185.6 268.5,184.8 269.8,185.2 271.2,185.7 272.5,186.3 273.8,185.4 275.1,185.8 276.4,185.8 277.7,186.1 279.0,186.1 280.3,185.6 281.6,185.3 283.0,185.1 284.3,184.7 285.6,185.3 286.9,185.8 288.2,185.0 289.5,185.2 290.8,185.5 292.1,184.8 293.5,184.7 294.8,184.6 296.1,184.9 297.4,185.2 298.7,184.1 300.0,185.7 301.3,185.8 302.6,186.2 303.9,185.0 305.3,185.4 306.6,185.3 307.9,186.7 309.2,185.6 310.5,186.4"/>
<polyline class="s" style="marker:url(#m30)" points="128.2,185.7 129.5,186.2 130.8,186.4 132.1,186.1 133.4,185.3 134.8,185.4 136.1,185.6 137.4,185.5 138.7,186.2 140.0,186.1 141.3,185.7 142.6,185.9 143.9,185.8 145.2,185.6 146.6,185.1 147.9,186.2 149.2,185.7 150.5,186.4 151.8,185.9 153.1,186.0 154.4,185.9 155.7,186.3 157.1,185.6 158.4,185.9 159.7,186.9 161.0,186.8 162.3,185.6 163.6,186.0 164.9,185.9 166.2,185.6 167.5,186.4 168.9,186.1 170.2,186.0 171.5,185.5 172.8,186.5 174.1,186.4 175.4,186.6 176.7,186.5 178.0,187.0 179.3,186.7 180.7,185.9 182.0,187.2 183.3,185.6 184.6,186.2 185.9,187.2 187.2,186.2 188.5,186.7 189.8,185.9 191.2,186.0 192.5,186.3 193.8,185.1 195.1,185.8 196.4,187.1 197.7,185.1 199.0,186.3 200.3,185.0 201.6,185.0 203.0,186.4 204.3,185.6 205.6,185.7 206.9,185.4 208.2,186.0 209.5,185.4 210.8,185.8 212.1,185.9 213.4,185.3 214.8,185.3 216.1,185.3 217.4,185.5 218.7,186.1 220.0,185.8 221.3,185.6 222.6,185.4 223.9,185.5 225.3,184.9 226.6,185.5 227.9,184.9 229.2,186.1 230.5,185.3 231.8,185.8 233.1,186.0 234.4,186.0 235.7,185.6 237.1,185.8 238.4,185.2 239.7,186.1 241.0,185.3 242.3,185.5 243.6,185.7 244.9,185.7 246.2,185.7 247.5,184.8 248.9,185.2 250.2,186.2 251.5,184.6 252.8,185.7 254.1,185.3 255.4,185.4 256.7,184.8 258.0,185.9 259.4,185.0 260.7,186.1 262.0,185.2 263.3,185.8 264.6,185.5 265.9,185.4 267.2,185.3 268.5,184.7 269.8,185.0 271.2,185.1 272.5,184.9 273.8,185.9 275.1,185.4 276.4,185.1 277.7,185.5 279.0,184.9 280.3,184.1 281.6,185.4 283.0,185.0 284.3,184.7 285.6,184.6 286.9,184.6 288.2,184.1 289.5,185.3 290.8,183.8 292.1,185.1 293.5,184.5 294.8,184.5 296.1,184.3 297.4,184.6 298.7,185.0 300.0,185.2 301.3,185.2 302.6,186.5 303.9,185.4 305.3,185.2 306.6,185.1 307.9,186.0 309.2,186.2 310.5,185.9"/>
<polyline class="s" style="marker:url(#m40)" points="128.2,184.7 129.5,185.6 130.8,184.8 132.1,185.5 133.4,186.5 134.8,184.7 136.1,185.2 137.4,185.5 138.7,185.2 140.0,186.2 141.3,185.8 142.6,184.9 143.9,185.0 145.2,186.1 146.6,185.3 147.9,185.7 149.2,186.1 150.5,185.6 151.8,185.8 153.1,185.6 154.4,185.4 155.7,185.9 157.1,186.3 158.4,185.9 159.7,184.8 161.0,185.6 162.3,186.2 163.6,185.6 164.9,186.5 166.2,185.7 167.5,185.3 168.9,186.4 170.2,185.4 171.5,186.2 172.8,186.9 174.1,186.3 175.4,186.4 176.7,186.4 178.0,185.7 179.3,186.7 180.7,186.2 182.0,185.7 183.3,186.0 184.6,186.1 185.9,186.0 187.2,186.7 188.5,186.1 189.8,187.0 191.2,186.1 192.5,185.7 193.8,185.9 195.1,185.6 196.4,185.2 197.7,186.0 199.0,185.2 200.3,185.2 201.6,186.0 203.0,184.6 204.3,185.7 205.6,184.2 206.9,185.3 208.2,184.9 209.5,185.8 210.8,184.9 212.1,185.5 213.4,184.5 214.8,185.3 216.1,185.8 217.4,184.3 218.7,184.4 220.0,185.9 221.3,185.8 222.6,184.7 223.9,184.9 225.3,185.4 226.6,185.1 227.9,185.5 229.2,184.7 230.5,185.6 231.8,185.6 233.1,184.6 234.4,185.3 235.7,185.5 237.1,185.8 238.4,184.2 239.7,184.7 241.0,184.8 242.3,185.0 243.6,184.5 244.9,185.1 246.2,185.3 247.5,184.6 248.9,184.8 250.2,184.9 251.5,184.3 252.8,184.1 254.1,184.5 255.4,184.9 256.7,184.5 258.0,183.7 259.4,184.5 260.7,184.8 262.0,185.2 263.3,185.0 264.6,184.0 265.9,184.7 267.2,184.2 268.5,184.5 269.8,182.1 271.2,184.6 272.5,184.8 273.8,184.1 275.1,184.7 276.4,183.4 277.7,183.5 279.0,184.2 280.3,184.3 281.6,184.4 283.0,184.5 284.3,183.6 285.6,184.3 286.9,184.2 288.2,183.9 289.5,184.5 290.8,184.3 292.1,184.0 293.5,184.2 294.8,183.4 296.1,184.2 297.4,184.6 298.7,184.7 300.0,184.5 301.3,184.2 302.6,184.2 303.9,185.3 305.3,184.9 306.6,185.0 307.9,185.4 309.2,185.3 310.5,185.1"/>
<polyline class="s" style="marker:url(#m15)" points="128.2,185.1 129.5,184.5 130.8,186.1 132.1,185.2 133.4,185.0 134.8,185.1 136.1,185.5 137.4,184.6 138.7,184.6 140.0,184.3 141.3,185.5 142.6,185.1 143.9,185.4 145.2,184.0 146.6,184.9 147.9,184.5 149.2,185.0 150.5,184.3 151.8,185.6 153.1,184.6 154.4,186.0 155.7,184.5 157.1,184.9 158.4,185.5 159.7,185.2 161.0,185.1 162.3,186.1 163.6,184.9 164.9,184.7 166.2,185.8 167.5,186.2 168.9,185.1 170.2,186.1 171.5,185.5 172.8,185.4 174.1,185.8 175.4,185.4 176.7,185.1 178.0,185.8 179.3,186.0 180.7,186.1 182.0,186.4 183.3,185.8 184.6,185.1 185.9,186.3 187.2,184.8 188.5,184.9 189.8,186.1 191.2,185.4 192.5,185.4 193.8,186.1 195.1,185.6 196.4,185.0 197.7,185.3 199.0,185.7 200.3,185.3 201.6,184.4 203.0,185.1 204.3,184.5 205.6,184.9 206.9,184.8 208.2,184.1 209.5,184.2 210.8,186.1 212.1,184.5 213.4,184.4 214.8,184.8 216.1,184.0 217.4,185.3 218.7,185.4 220.0,184.6 221.3,184.8 222.6,184.6 223.9,184.6 225.3,185.0 226.6,185.1 227.9,185.1 229.2,185.6 230.5,184.8 231.8,184.8 233.1,184.9 234.4,185.1 235.7,184.6 237.1,184.6 238.4,184.4 239.7,184.7 241.0,184.2 242.3,184.5 243.6,185.3 244.9,184.9 246.2,184.1 247.5,184.5 248.9,184.5 250.2,182.4 251.5,184.3 252.8,184.0 254.1,184.0 255.4,183.9 256.7,184.9 258.0,184.8 259.4,184.0 260.7,184.5 262.0,184.1 263.3,184.1 264.6,184.3 265.9,184.4 267.2,183.9 268.5,184.5 269.8,185.0 271.2,183.6 272.5,184.3 273.8,183.9 275.1,184.9 276.4,183.9 277.7,183.1 279.0,184.3 280.3,183.8 281.6,183.9 283.0,184.5 284.3,183.9 285.6,184.5 286.9,184.9 288.2,184.4 289.5,183.8 290.8,183.7 292.1,183.7 293.5,183.8 294.8,183.9 296.1,183.1 297.4,183.3 298.7,183.5 300.0,183.4 301.3,184.8 302.6,184.2 303.9,184.5 305.3,184.1 306.6,184.8 307.9,184.7 309.2,184.5 310.5,185.0"/>
<polyline class="s" style="marker:url(#m31)" points="128.2,184.4 129.5,185.9 130.8,184.7 132.1,184.7 133.4,184.5 134.8,184.3 136.1,184.6 137.4,184.6 138.7,185.1 140.0,184.9 141.3,184.5 142.6,184.9 143.9,184.1 145.2,184.2 146.6,184.5 147.9,184.2 149.2,184.0 150.5,184.2 151.8,185.0 153.1,184.9 154.4,184.8 155.7,183.9 157.1,184.2 158.4,183.7 159.7,184.3 161.0,184.9 162.3,184.8 163.6,185.1 164.9,184.8 166.2,184.9 167.5,185.1 168.9,186.5 170.2,182.7 171.5,184.9 172.8,185.0 174.1,183.7 175.4,184.2 176.7,185.2 178.0,184.3 179.3,185.1 180.7,184.7 182.0,185.0 183.3,185.0 184.6,185.3 185.9,185.3 187.2,185.3 188.5,185.6 189.8,185.1 191.2,185.6 192.5,184.2 193.8,185.4 195.1,185.8 196.4,184.6 197.7,184.8 199.0,185.2 200.3,184.8 201.6,185.1 203.0,183.5 204.3,184.7 205.6,184.9 206.9,184.2 208.2,184.8 209.5,183.6 210.8,184.7 212.1,185.3 213.4,184.5 214.8,184.2 216.1,184.4 217.4,184.2 218.7,184.0 220.0,184.9 221.3,185.1 222.6,185.4 223.9,184.0 225.3,185.3 226.6,185.5 227.9,184.0 229.2,184.5 230.5,184.2 231.8,184.0 233.1,185.6 234.4,184.3 235.7,184.9 237.1,184.7 238.4,185.0 239.7,184.0 241.0,184.5 242.3,184.2 243.6,184.2 244.9,183.8 246.2,183.4 247.5,184.7 248.9,183.7 250.2,184.7 251.5,184.0 252.8,184.1 254.1,184.2 255.4,184.4 256.7,183.7 258.0,184.3 259.4,184.5 260.7,183.6 262.0,184.3 263.3,183.6 264.6,184.1 265.9,183.9 267.2,182.9 268.5,183.8 269.8,183.7 271.2,184.1 272.5,184.3 273.8,183.4 275.1,184.4 276.4,183.6 277.7,183.7 279.0,183.6 280.3,183.6 281.6,183.1 283.0,183.2 284.3,183.4 285.6,183.6 286.9,182.7 288.2,183.1 289.5,184.5 290.8,183.3 292.1,183.6 293.5,184.2 294.8,182.8 296.1,183.2 297.4,182.5 298.7,183.4 300.0,183.4 301.3,184.1 302.6,183.2 303.9,184.6 305.3,184.0 306.6,184.8 307.9,184.2 309.2,184.8 310.5,183.6"/>
<polyline class="s" style="marker:url(#m32)" points="128.2,184.3 129.5,184.5 130.8,183.0 132.1,184.0 133.4,183.9 134.8,183.7 136.1,183.4 137.4,183.6 138.7,184.1 140.0,183.9 141.3,183.8 142.6,184.4 143.9,183.8 145.2,183.6 146.6,184.2 147.9,183.6 149.2,184.1 150.5,183.4 151.8,182.6 153.1,184.0 154.4,182.9 155.7,183.3 157.1,183.8 158.4,184.8 159.7,184.3 161.0,183.7 162.3,184.5 163.6,184.1 164.9,184.3 166.2,184.6 167.5,185.5 168.9,184.4 170.2,184.8 171.5,185.0 172.8,183.7 174.1,184.0 175.4,185.0 176.7,184.6 178.0,184.2 179.3,184.2 180.7,183.9 182.0,186.1 183.3,184.6 184.6,184.6 185.9,184.0 187.2,184.9 188.5,184.0 189.8,185.5 191.2,184.7 192.5,185.9 193.8,184.0 195.1,184.7 196.4,183.7 197.7,185.1 199.0,184.5 200.3,184.5 201.6,184.1 203.0,184.7 204.3,183.6 205.6,183.3 206.9,184.2 208.2,183.4 209.5,184.4 210.8,184.3 212.1,183.6 213.4,183.6 214.8,184.2 216.1,183.6 217.4,184.0 218.7,182.9 220.0,183.9 221.3,184.7 222.6,184.2 223.9,184.4 225.3,183.2 226.6,183.6 227.9,183.9 229.2,183.9 230.5,184.4 231.8,182.2 233.1,184.2 234.4,184.0 235.7,183.9 237.1,183.3 238.4,184.3 239.7,184.2 241.0,184.2 242.3,183.9 243.6,183.6 244.9,183.6 246.2,183.4 247.5,184.0 248.9,183.8 250.2,183.5 251.5,184.0 252.8,183.9 254.1,183.4 255.4,183.5 256.7,183.0 258.0,183.6 259.4,183.9 260.7,183.4 262.0,184.2 263.3,183.3 264.6,183.9 265.9,184.1 267.2,183.8 268.5,182.7 269.8,183.9 271.2,183.8 272.5,183.7 273.8,183.3 275.1,182.3 276.4,184.2 277.7,183.3 279.0,183.5 280.3,183.1 281.6,183.4 283.0,182.3 284.3,182.9 285.6,183.1 286.9,183.0 288.2,183.5 289.5,183.0 290.8,182.7 292.1,183.6 293.5,183.4 294.8,183.5 296.1,183.6 297.4,182.8 298.7,182.6 300.0,183.8 301.3,183.6 302.6,182.6 303.9,184.1 305.3,181.7 306.6,183.4 307.9,184.4 309.2,184.1 310.5,184.6"/>
<polyline class="s" style="marker:url(#m37)" points="128.2,183.0 129.5,183.9 130.8,184.6 132.1,183.7 133.4,184.3 134.8,184.9 136.1,184.0 137.4,183.4 138.7,183.7 140.0,184.1 141.3,183.9 142.6,184.2 143.9,183.7 145.2,183.4 146.6,184.1 147.9,184.2 149.2,183.6 150.5,184.0 151.8,183.7 153.1,183.8 154.4,184.0 155.7,183.8 157.1,184.3 158.4,184.4 159.7,184.2 161.0,184.5 162.3,183.9 163.6,185.2 164.9,184.0 166.2,184.0 167.5,184.6 168.9,184.7 170.2,184.0 171.5,183.9 172.8,184.7 174.1,185.0 175.4,184.8 176.7,184.9 178.0,185.1 179.3,183.7 180.7,184.1 182.0,184.9 183.3,184.6 184.6,184.2 185.9,183.7 187.2,184.8 188.5,184.7 189.8,184.8 191.2,184.0 192.5,184.1 193.8,184.4 195.1,184.0 196.4,183.5 197.7,184.2 199.0,183.3 200.3,183.9 201.6,184.3 203.0,183.3 204.3,183.3 205.6,182.9 206.9,183.5 208.2,183.4 209.5,182.6 210.8,184.1 212.1,182.7 213.4,183.3 214.8,182.9 216.1,183.7 217.4,185.2 218.7,183.9 220.0,183.9 221.3,182.3 222.6,183.2 223.9,183.8 225.3,184.2 226.6,183.7 227.9,183.9 229.2,184.3 230.5,183.6 231.8,183.5 233.1,184.5 234.4,183.5 235.7,183.9 237.1,182.8 238.4,183.7 239.7,183.6 241.0,183.6 242.3,184.3 243.6,183.7 244.9,183.9 246.2,184.2 247.5,183.7 248.9,183.5 250.2,183.4 251.5,183.7 252.8,183.5 254.1,184.5 255.4,183.7 256.7,183.0 258.0,181.8 259.4,182.8 260.7,183.7 262.0,182.9 263.3,183.1 264.6,183.4 265.9,183.4 267.2,183.7 268.5,183.5 269.8,183.8 271.2,182.9 272.5,182.9 273.8,183.3 275.1,183.1 276.4,183.2 277.7,184.4 279.0,183.0 280.3,183.5 281.6,183.2 283.0,182.3 284.3,183.0 285.6,182.4 286.9,180.7 288.2,181.4 289.5,183.4 290.8,182.4 292.1,182.5 293.5,182.9 294.8,182.7 296.1,182.6 297.4,182.3 298.7,182.9 300.0,182.7 301.3,182.5 302.6,182.4 303.9,183.2 305.3,183.9 306.6,183.7 307.9,183.0 309.2,183.8 310.5,184.3"/>
<polyline class="s" style="marker:url(#m39)" points="128.2,183.1 129.5,182.6 130.8,183.6 132.1,184.1 133.4,183.6 134.8,183.6 136.1,183.4 137.4,183.2 138.7,182.6 140.0,183.4 141.3,183.5 142.6,183.6 143.9,183.7 145.2,183.0 146.6,183.5 147.9,182.8 149.2,183.3 150.5,182.7 151.8,183.1 153.1,182.4 154.4,183.2 155.7,183.7 157.1,183.6 158.4,183.3 159.7,183.7 161.0,183.1 162.3,182.5 163.6,183.6 164.9,183.4 166.2,183.9 167.5,183.5 168.9,184.2 170.2,183.5 171.5,183.8 172.8,182.9 174.1,182.6 175.4,184.6 176.7,184.1 178.0,183.7 179.3,183.5 180.7,183.5 182.0,184.1 183.3,185.3 184.6,183.8 185.9,183.8 187.2,183.9 188.5,186.5 189.8,184.0 191.2,183.1 192.5,184.3 193.8,183.4 195.1,183.3 196.4,183.9 197.7,183.4 199.0,183.4 200.3,183.1 201.6,183.3 203.0,183.5 204.3,182.2 205.6,182.6 206.9,183.6 208.2,182.8 209.5,182.9 210.8,183.0 212.1,182.1 213.4,183.3 214.8,182.6 216.1,183.8 217.4,183.7 218.7,183.8 220.0,183.2 221.3,183.2 222.6,183.5 223.9,184.4 225.3,183.5 226.6,183.5 227.9,182.9 229.2,182.9 230.5,183.1 231.8,183.4 233.1,182.7 234.4,183.3 235.7,184.2 237.1,183.5 238.4,183.6 239.7,182.9 241.0,182.8 242.3,182.6 243.6,182.1 244.9,182.4 246.2,182.7 247.5,182.6 248.9,183.4 250.2,182.6 251.5,182.6 252.8,183.4 254.1,183.3 255.4,182.3 256.7,182.5 258.0,182.3 259.4,182.8 260.7,183.3 262.0,182.7 263.3,182.3 264.6,182.4 265.9,182.6 267.2,182.9 268.5,182.7 269.8,182.6 271.2,182.5 272.5,182.2 273.8,181.9 275.1,182.8 276.4,183.0 277.7,181.9 279.0,182.8 280.3,183.1 281.6,182.7 283.0,182.1 284.3,182.7 285.6,181.9 286.9,182.8 288.2,182.5 289.5,183.2 290.8,181.7 292.1,182.1 293.5,181.9 294.8,182.2 296.1,182.7 297.4,182.9 298.7,181.8 300.0,183.1 301.3,182.8 302.6,182.5 303.9,183.7 305.3,182.3 306.6,183.0 307.9,183.4 309.2,183.7 310.5,184.0"/>
<polyline class="s" style="marker:url(#m29)" points="128.2,183.3 129.5,183.7 130.8,183.2 132.1,182.2 133.4,182.6 134.8,182.0 136.1,181.9 137.4,182.8 138.7,182.4 140.0,183.0 141.3,182.5 142.6,182.8 143.9,182.1 145.2,182.2 146.6,182.6 147.9,182.9 149.2,183.0 150.5,181.2 151.8,182.6 153.1,183.2 154.4,182.3 155.7,183.4 157.1,183.2 158.4,183.2 159.7,182.7 161.0,183.3 162.3,182.9 163.6,183.2 164.9,183.2 166.2,183.9 167.5,183.9 168.9,183.3 170.2,183.5 171.5,183.8 172.8,183.8 174.1,183.9 175.4,183.7 176.7,183.4 178.0,183.6 179.3,184.1 180.7,184.2 182.0,184.9 183.3,184.1 184.6,185.1 185.9,182.8 187.2,183.0 188.5,183.6 189.8,182.8 191.2,183.6 192.5,183.4 193.8,183.4 195.1,183.4 196.4,183.7 197.7,183.1 199.0,183.2 200.3,183.3 201.6,182.7 203.0,183.2 204.3,183.0 205.6,182.9 206.9,182.3 208.2,182.8 209.5,182.1 210.8,181.8 212.1,182.4 213.4,182.6 214.8,183.3 216.1,183.2 217.4,182.8 218.7,182.4 220.0,182.1 221.3,182.8 222.6,182.1 223.9,182.6 225.3,182.8 226.6,181.8 227.9,183.1 229.2,183.7 230.5,183.4 231.8,182.8 233.1,183.5 234.4,182.6 235.7,183.1 237.1,182.8 238.4,183.1 239.7,182.9 241.0,182.4 242.3,182.8 243.6,182.5 244.9,182.5 246.2,183.2 247.5,182.6 248.9,182.5 250.2,182.7 251.5,182.2 252.8,182.1 254.1,181.8 255.4,182.2 256.7,182.3 258.0,182.1 259.4,182.2 260.7,183.3 262.0,181.9 263.3,181.9 264.6,182.2 265.9,182.1 267.2,181.5 268.5,182.0 269.8,181.8 271.2,181.9 272.5,182.3 273.8,182.1 275.1,182.1 276.4,182.0 277.7,181.9 279.0,182.2 280.3,181.5 281.6,182.1 283.0,182.3 284.3,182.1 285.6,181.9 286.9,182.0 288.2,182.1 289.5,183.4 290.8,181.3 292.1,181.5 293.5,181.9 294.8,181.8 296.1,181.7 297.4,182.4 298.7,181.6 300.0,181.8 301.3,181.2 302.6,182.3 303.9,182.4 305.3,182.2 306.6,183.0 307.9,182.7 309.2,183.6 310.5,182.5"/>
<polyline class="s" style="marker:url(#m39)" points="128.2,181.5 129.5,183.2 130.8,183.3 132.1,182.4 133.4,183.6 134.8,181.9 136.1,182.8 137.4,182.7 138.7,181.9 140.0,181.4 141.3,182.5 142.6,182.7 143.9,182.2 145.2,182.0 146.6,182.1 147.9,183.1 149.2,182.6 150.5,181.6 151.8,182.4 153.1,181.4 154.4,183.5 155.7,182.5 157.1,182.1 158.4,181.7 159.7,183.7 161.0,183.0 162.3,183.1 163.6,183.1 164.9,182.7 166.2,182.3 167.5,183.6 168.9,183.0 170.2,183.0 171.5,183.6 172.8,183.2 174.1,183.1 175.4,182.9 176.7,183.3 178.0,183.3 179.3,183.1 180.7,184.2 182.0,182.5 183.3,182.3 184.6,182.7 185.9,182.8 187.2,183.3 188.5,181.9 189.8,182.9 191.2,183.1 192.5,183.3 193.8,183.3 195.1,182.3 196.4,183.6 197.7,182.8 199.0,182.4 200.3,183.0 201.6,182.4 203.0,182.2 204.3,182.5 205.6,182.6 206.9,182.2 208.2,183.0 209.5,181.7 210.8,181.6 212.1,181.9 213.4,183.3 214.8,182.3 216.1,182.7 217.4,182.6 218.7,182.0 220.0,182.7 221.3,182.2 222.6,182.4 223.9,182.3 225.3,182.6 226.6,183.4 227.9,182.2 229.2,182.6 230.5,182.5 231.8,183.3 233.1,183.4 234.4,182.3 235.7,182.0 237.1,182.3 238.4,182.6 239.7,182.1 241.0,183.0 242.3,183.3 243.6,182.6 244.9,182.8 246.2,182.5 247.5,181.3 248.9,181.7 250.2,181.8 251.5,181.6 252.8,182.2 254.1,182.8 255.4,181.9 256.7,182.1 258.0,182.3 259.4,181.8 260.7,182.4 262.0,181.4 263.3,181.7 264.6,183.1 265.9,182.8 267.2,181.8 268.5,181.8 269.8,182.0 271.2,183.7 272.5,182.1 273.8,182.6 275.1,181.5 276.4,182.3 277.7,182.0 279.0,182.0 280.3,182.2 281.6,181.5 283.0,181.8 284.3,181.1 285.6,181.5 286.9,181.1 288.2,182.0 289.5,181.5 290.8,181.7 292.1,180.9 293.5,181.8 294.8,182.5 296.1,181.1 297.4,182.5 298.7,181.6 300.0,181.8 301.3,180.9 302.6,182.4 303.9,182.6 305.3,181.0 306.6,182.2 307.9,182.1 309.2,183.2 310.5,183.4"/>
<polyline class="s" style="marker:url(#m48)" points="128.2,184.4 129.2,181.4 130.2,183.2 131.2,182.4 132.2,182.5 133.2,182.3 134.1,182.3 135.1,181.7 136.1,181.0 137.1,184.0 138.1,182.1 139.1,181.5 140.1,181.9 141.1,181.1 142.1,183.8 143.1,181.9 144.1,182.0 145.0,181.3 146.0,181.7 147.0,181.5 148.0,181.8 149.0,182.4 150.0,181.0 151.0,182.0 152.0,181.8 153.0,182.2 154.0,181.9 155.0,182.4 155.9,182.1 156.9,182.2 157.9,183.3 158.9,181.3 159.9,181.0 160.9,181.7 161.9,181.3 162.9,181.9 163.9,182.8 164.9,179.5 165.8,181.0 166.8,181.8 167.8,181.7 168.8,182.4 169.8,181.3 170.8,182.2 171.8,180.9 172.8,181.4 173.8,179.8 174.8,180.4 175.8,182.0 176.7,180.6 177.7,179.6 178.7,182.4 179.7,182.3 180.7,180.7 181.7,182.7 182.7,181.7 183.7,180.5 184.7,181.8 185.7,183.6 186.7,180.7 187.6,180.9 188.6,180.4 189.6,182.7 190.6,180.6 191.6,181.6 192.6,181.2 193.6,181.2 194.6,180.9 195.6,182.5 196.6,182.1 197.6,181.3 198.5,180.7 199.5,183.4 200.5,181.7 201.5,180.8 202.5,183.0 203.5,179.7 204.5,182.7 205.5,182.5 206.5,180.7 207.5,181.5 208.5,182.4 209.4,181.2 210.4,180.5 211.4,182.3 212.4,183.9 213.4,180.9 214.4,182.1 215.4,184.2 216.4,181.7 217.4,180.7 218.4,182.5 219.3,181.4 220.3,180.6 221.3,180.8 222.3,181.0 223.3,176.6 224.3,178.8 225.3,178.4 226.3,178.3 227.3,178.5 228.3,179.3 229.3,179.9 230.2,180.7 231.2,181.8 232.2,180.8 233.2,181.8 234.2,182.3 235.2,182.1 236.2,179.9 237.2,181.2 238.2,180.2 239.2,180.4 240.2,178.4 241.1,177.4 242.1,180.0 243.1,177.7 244.1,177.9 245.1,182.2 246.1,181.1 247.1,180.5 248.1,182.5 249.1,180.6 250.1,178.5 251.1,178.6 252.0,179.4 253.0,178.2 254.0,179.2 255.0,178.7 256.0,179.1 257.0,178.5 258.0,179.6 259.0,181.2 260.0,180.6 261.0,180.8 262.0,180.6 262.9,180.8 263.9,179.1 264.9,178.9 265.9,179.9 266.9,178.5 267.9,179.7 268.9,179.4 269.9,180.1 270.9,179.2 271.9,177.3 272.9,179.8 273.8,179.9 274.8,179.9 275.8,179.7 276.8,179.8 277.8,179.4 278.8,179.5 279.8,179.7 280.8,179.1 281.8,178.7 282.8,180.1 283.7,179.0 284.7,182.1 285.7,179.4 286.7,182.3 287.7,181.8 288.7,183.0 289.7,182.9 290.7,180.9 291.7,181.3 292.7,179.9 293.7,178.5 294.6,180.5 295.6,181.2 296.6,180.6 297.6,180.7 298.6,179.8 299.6,180.2 300.6,180.5 301.6,181.8 302.6,180.5 303.6,180.2 304.6,180.2 305.5,182.4 306.5,182.8 307.5,182.1 308.5,182.7 309.5,183.0 310.5,182.1"/>
<polyline class="s" style="marker:url(#m48)" points="128.2,177.3 129.2,177.2 130.2,178.2 131.2,178.0 132.2,179.6 133.2,179.2 134.1,182.6 135.1,180.7 136.1,180.8 137.1,181.4 138.1,180.6 139.1,180.2 140.1,179.9 141.1,179.1 142.1,178.1 143.1,178.9 144.1,175.5 145.0,176.7 146.0,175.7 147.0,175.3 148.0,176.4 149.0,175.4 150.0,174.0 151.0,174.6 152.0,174.6 153.0,174.8 154.0,174.1 155.0,173.6 155.9,175.0 156.9,176.9 157.9,177.8 158.9,177.5 159.9,178.1 160.9,178.6 161.9,178.1 162.9,177.2 163.9,175.1 164.9,178.0 165.8,178.4 166.8,177.0 167.8,176.7 168.8,177.9 169.8,177.3 170.8,177.2 171.8,177.7 172.8,178.4 173.8,178.0 174.8,178.5 175.8,178.4 176.7,180.0 177.7,177.7 178.7,176.4 179.7,178.8 180.7,177.5 181.7,178.5 182.7,178.9 183.7,178.9 184.7,177.9 185.7,179.1 186.7,179.3 187.6,177.5 188.6,177.2 189.6,177.0 190.6,176.3 191.6,176.4 192.6,177.3 193.6,175.8 194.6,178.4 195.6,175.7 196.6,178.4 197.6,179.1 198.5,178.5 199.5,179.5 200.5,179.4 201.5,179.6 202.5,178.8 203.5,177.2 204.5,178.2 205.5,177.2 206.5,180.8 207.5,179.3 208.5,180.0 209.4,178.6 210.4,179.9 211.4,179.9 212.4,178.2 213.4,178.2 214.4,177.5 215.4,176.6 216.4,178.1 217.4,178.8 218.4,178.0 219.3,179.4 220.3,180.7 221.3,179.5 222.3,180.1 223.3,179.4 224.3,180.7 225.3,183.1 226.3,181.8 227.3,181.0 228.3,181.1 229.3,179.5 230.2,178.5 231.2,179.8 232.2,177.9 233.2,177.1 234.2,179.2 235.2,178.4 236.2,179.2 237.2,179.9 238.2,177.6 239.2,178.5 240.2,179.7 241.1,180.1 242.1,178.0 243.1,177.2 244.1,178.4 245.1,177.8 246.1,178.5 247.1,178.3 248.1,178.0 249.1,179.4 250.1,177.7 251.1,177.2 252.0,176.8 253.0,176.9 254.0,177.4 255.0,178.0 256.0,175.9 257.0,174.4 258.0,176.3 259.0,176.7 260.0,175.5 261.0,175.2 262.0,175.0 262.9,176.6 263.9,176.7 264.9,177.8 265.9,176.9 266.9,178.7 267.9,177.4 268.9,179.5 269.9,178.5 270.9,177.4 271.9,176.1 272.9,176.9 273.8,178.1 274.8,177.4 275.8,177.3 276.8,176.5 277.8,176.5 278.8,176.9 279.8,176.2 280.8,177.2 281.8,175.8 282.8,174.8 283.7,176.4 284.7,176.1 285.7,174.7 286.7,174.0 287.7,174.3 288.7,174.5 289.7,178.4 290.7,176.8 291.7,176.3 292.7,176.9 293.7,176.4 294.6,177.4 295.6,177.6 296.6,176.8 297.6,175.9 298.6,176.5 299.6,175.4 300.6,175.2 301.6,175.1 302.6,176.0 303.6,175.6 304.6,175.1 305.5,175.2 306.5,174.1 307.5,176.6 308.5,176.4 309.5,174.8 310.5,175.1"/>
<polyline class="s" style="marker:url(#m49)" points="128.2,201.6 129.6,201.5 130.9,198.0 132.3,200.0 133.6,199.9 135.0,200.5 136.4,199.9 137.7,200.3 139.1,200.3 140.4,198.5 141.8,197.7 143.2,199.2 144.5,198.8 145.9,197.3 147.2,201.3 148.6,202.2 150.0,199.0 151.3,199.8 152.7,199.1 154.0,199.9 155.4,199.2 156.8,197.8 158.1,199.0 159.5,198.5 160.9,200.8 162.2,198.5 163.6,195.9 164.9,199.0 166.3,201.1 167.7,197.9 169.0,198.9 170.4,200.6 171.7,200.6 173.1,200.1 174.5,202.4 175.8,201.2 177.2,199.8 178.5,199.9 179.9,200.2 181.3,198.4 182.6,198.9 184.0,198.3 185.3,199.1 186.7,198.0 188.1,199.6 189.4,197.9 190.8,197.3 192.1,200.0 193.5,196.6 194.9,198.9 196.2,198.8 197.6,198.7 198.9,199.6 200.3,197.9 201.7,196.0 203.0,196.3 204.4,197.3 205.7,198.2 207.1,194.3 208.5,193.6 209.8,195.5 211.2,193.5 212.5,195.8 213.9,196.1 215.3,197.6 216.6,199.0 218.0,200.6 219.3,200.5 220.7,203.0 222.1,203.0 223.4,203.7 224.8,203.8 226.2,201.8 227.5,201.3 228.9,202.8 230.2,202.8 231.6,204.6 233.0,204.1 234.3,203.6 235.7,199.4 237.0,200.6 238.4,197.5 239.8,200.3 241.1,199.8 242.5,198.7 243.8,197.2 245.2,196.5 246.6,196.6 247.9,197.3 249.3,196.3 250.6,197.5 252.0,196.0 253.4,196.9 254.7,196.5 256.1,197.1 257.4,195.8 258.8,196.4 260.2,196.7 261.5,196.9 262.9,196.0 264.2,195.8 265.6,198.0 267.0,196.6 268.3,197.4 269.7,197.0 271.0,197.7 272.4,194.2 273.8,196.0 275.1,197.1 276.5,196.2 277.8,198.7 279.2,196.8 280.6,196.8 281.9,196.8 283.3,196.9 284.7,196.9 286.0,196.3 287.4,196.0 288.7,197.7 290.1,197.5 291.5,197.2 292.8,199.9 294.2,200.4 295.5,197.4 296.9,196.4 298.3,197.1 299.6,197.3 301.0,195.4 302.3,197.2 303.7,197.5 305.1,197.1 306.4,196.8 307.8,198.5 309.1,200.1 310.5,199.5"/>
<polyline class="s" style="marker:url(#m49)" points="128.2,199.4 129.6,197.0 130.9,196.2 132.3,197.1 133.6,198.9 135.0,196.3 136.4,195.7 137.7,195.5 139.1,198.6 140.4,196.4 141.8,197.7 143.2,194.8 144.5,195.2 145.9,196.3 147.2,196.3 148.6,196.8 150.0,197.4 151.3,196.7 152.7,196.6 154.0,196.7 155.4,198.0 156.8,197.9 158.1,196.1 159.5,197.9 160.9,196.7 162.2,198.0 163.6,198.0 164.9,196.6 166.3,197.1 167.7,199.5 169.0,198.6 170.4,196.2 171.7,198.3 173.1,195.8 174.5,197.4 175.8,198.6 177.2,197.0 178.5,198.4 179.9,197.9 181.3,198.0 182.6,196.3 184.0,196.2 185.3,197.8 186.7,196.5 188.1,197.5 189.4,196.9 190.8,199.0 192.1,199.0 193.5,197.8 194.9,198.5 196.2,199.3 197.6,198.0 198.9,199.6 200.3,198.2 201.7,197.7 203.0,199.7 204.4,199.2 205.7,196.8 207.1,196.7 208.5,197.0 209.8,196.6 211.2,195.9 212.5,197.2 213.9,195.4 215.3,196.1 216.6,194.8 218.0,194.4 219.3,195.0 220.7,194.9 222.1,193.7 223.4,194.5 224.8,195.0 226.2,193.7 227.5,195.1 228.9,195.2 230.2,198.2 231.6,195.9 233.0,197.9 234.3,197.1 235.7,198.4 237.0,197.0 238.4,197.6 239.8,198.2 241.1,198.4 242.5,198.4 243.8,198.4 245.2,198.0 246.6,197.7 247.9,198.9 249.3,197.2 250.6,196.6 252.0,197.8 253.4,196.9 254.7,199.4 256.1,199.5 257.4,198.8 258.8,198.0 260.2,198.3 261.5,199.0 262.9,196.9 264.2,195.8 265.6,196.9 267.0,196.2 268.3,196.6 269.7,196.4 271.0,196.1 272.4,195.5 273.8,196.7 275.1,197.0 276.5,196.9 277.8,196.7 279.2,197.7 280.6,198.0 281.9,196.7 283.3,196.5 284.7,198.8 286.0,195.4 287.4,195.9 288.7,195.8 290.1,194.7 291.5,194.8 292.8,195.2 294.2,195.6 295.5,194.9 296.9,194.6 298.3,194.6 299.6,196.5 301.0,197.3 302.3,195.4 303.7,197.1 305.1,195.5 306.4,196.9 307.8,196.2 309.1,197.4 310.5,194.3"/>
<polyline class="s" style="marker:url(#m49)" points="128.2,192.5 129.6,194.9 130.9,196.2 132.3,193.9 133.6,195.0 135.0,194.4 136.4,193.6 137.7,195.7 139.1,195.9 140.4,195.6 141.8,195.3 143.2,193.2 144.5,193.8 145.9,192.9 147.2,193.4 148.6,194.4 150.0,194.8 151.3,194.0 152.7,194.7 154.0,194.4 155.4,194.7 156.8,197.2 158.1,195.3 159.5,195.3 160.9,197.2 162.2,196.5 163.6,196.5 164.9,195.3 166.3,196.5 167.7,196.0 169.0,196.1 170.4,195.9 171.7,194.9 173.1,195.9 174.5,194.9 175.8,192.6 177.2,194.3 178.5,194.9 179.9,193.5 181.3,196.0 182.6,193.1 184.0,195.3 185.3,195.6 186.7,194.2 188.1,192.8 189.4,195.1 190.8,194.5 192.1,193.7 193.5,194.9 194.9,194.7 196.2,192.1 197.6,193.4 198.9,192.7 200.3,193.9 201.7,192.6 203.0,193.3 204.4,192.6 205.7,193.6 207.1,193.4 208.5,193.9 209.8,192.5 211.2,194.6 212.5,193.9 213.9,194.7 215.3,196.1 216.6,195.8 218.0,193.7 219.3,195.4 220.7,195.4 222.1,194.8 223.4,193.8 224.8,195.1 226.2,193.4 227.5,195.1 228.9,194.6 230.2,194.7 231.6,195.2 233.0,196.0 234.3,193.3 235.7,194.0 237.0,194.7 238.4,195.2 239.8,195.2 241.1,194.7 242.5,196.2 243.8,194.6 245.2,195.0 246.6,193.0 247.9,192.7 249.3,193.0 250.6,194.6 252.0,194.2 253.4,193.0 254.7,193.7 256.1,194.2 257.4,194.1 258.8,191.7 260.2,193.6 261.5,193.7 262.9,195.1 264.2,194.7 265.6,194.3 267.0,194.5 268.3,194.9 269.7,193.5 271.0,193.5 272.4,192.5 273.8,191.7 275.1,193.2 276.5,192.1 277.8,192.5 279.2,192.6 280.6,191.1 281.9,191.0 283.3,190.9 284.7,191.8 286.0,192.1 287.4,194.2 288.7,192.9 290.1,192.1 291.5,192.7 292.8,193.0 294.2,193.7 295.5,194.3 296.9,192.7 298.3,195.2 299.6,194.5 301.0,193.1 302.3,195.0 303.7,194.5 305.1,195.6 306.4,193.7 307.8,195.5 309.1,193.9 310.5,194.8"/>
<polyline class="s" style="marker:url(#m7)" points="319.3,203.9 320.6,204.7 321.9,204.1 323.2,202.6 324.5,203.2 325.8,203.6 327.2,203.6 328.5,203.6 329.8,203.4 331.1,204.1 332.4,203.0 333.7,202.5 335.0,204.1 336.3,203.2 337.6,204.3 338.9,203.0 340.2,204.7 341.6,202.6 342.9,202.6 344.2,204.1 345.5,204.9 346.8,202.8 348.1,204.6 349.4,204.5 350.7,203.9 352.0,203.1 353.3,201.5 354.7,202.0 356.0,202.6 357.3,203.7 358.6,203.2 359.9,202.9 361.2,203.6 362.5,202.3 363.8,204.1 365.1,203.1 366.4,205.1 367.7,204.3 369.1,203.7 370.4,204.0 371.7,203.2 373.0,204.7 374.3,203.9 375.6,204.7 376.9,205.8 378.2,205.2 379.5,205.4 380.8,207.2 382.1,205.7 383.5,206.1 384.8,205.1 386.1,204.4 387.4,205.6 388.7,204.6 390.0,203.1 391.3,206.1 392.6,205.9 393.9,204.8 395.2,206.8 396.6,205.7 397.9,205.4 399.2,204.9 400.5,206.6 401.8,205.2 403.1,205.0 404.4,204.9 405.7,204.4 407.0,203.5 408.3,204.1 409.6,203.8 411.0,204.9 412.3,203.1 413.6,204.6 414.9,203.6 416.2,203.3 417.5,203.9 418.8,204.1 420.1,204.3 421.4,204.8 422.7,204.6 424.0,203.4 425.4,204.3 426.7,206.3 428.0,205.1 429.3,203.5 430.6,205.7 431.9,207.1 433.2,206.8 434.5,206.0 435.8,206.1 437.1,206.5 438.5,205.9 439.8,205.6 441.1,207.3 442.4,205.7 443.7,206.8 445.0,204.7 446.3,205.3 447.6,205.0 448.9,206.3 450.2,205.5 451.5,205.4 452.9,205.2 454.2,206.0 455.5,206.6 456.8,205.3 458.1,206.2 459.4,205.6 460.7,205.1 462.0,205.7 463.3,206.5 464.6,203.2 465.9,205.8 467.3,206.7 468.6,205.1 469.9,205.8 471.2,206.0 472.5,205.7 473.8,205.5 475.1,206.4 476.4,206.3 477.7,205.7 479.0,206.1 480.4,204.9 481.7,205.6 483.0,205.9 484.3,205.8 485.6,205.4 486.9,206.9 488.2,206.2 489.5,206.6 490.8,204.9 492.1,205.6 493.4,205.4 494.8,205.8 496.1,207.3 497.4,208.0 498.7,206.2 500.0,206.4 501.3,206.1"/>
<polyline class="s" style="marker:url(#m50)" points="319.3,202.9 320.6,204.2 321.9,203.6 323.2,204.3 324.5,203.7 325.8,202.6 327.2,203.7 328.5,204.4 329.8,203.9 331.1,204.0 332.4,203.1 333.7,203.8 335.0,204.5 336.3,205.3 337.6,204.3 338.9,204.6 340.2,206.8 341.6,204.4 342.9,205.1 344.2,204.5 345.5,205.3 346.8,206.0 348.1,206.1 349.4,205.7 350.7,206.4 352.0,205.3 353.3,205.8 354.7,204.4 356.0,206.0 357.3,204.6 358.6,206.0 359.9,204.1 361.2,205.1 362.5,205.0 363.8,204.9 365.1,204.5 366.4,205.9 367.7,204.9 369.1,203.7 370.4,204.2 371.7,205.7 373.0,204.1 374.3,206.3 375.6,204.7 376.9,203.6 378.2,205.9 379.5,204.6 380.8,202.5 382.1,205.7 383.5,204.8 384.8,206.2 386.1,206.8 387.4,207.0 388.7,206.3 390.0,205.4 391.3,207.8 392.6,206.9 393.9,206.9 395.2,205.6 396.6,206.3 397.9,206.9 399.2,206.5 400.5,206.7 401.8,205.7 403.1,205.0 404.4,206.5 405.7,206.0 407.0,206.9 408.3,207.0 409.6,205.7 411.0,205.4 412.3,206.6 413.6,206.2 414.9,204.7 416.2,206.7 417.5,205.3 418.8,204.8 420.1,203.7 421.4,204.4 422.7,205.0 424.0,204.7 425.4,205.5 426.7,205.1 428.0,203.5 429.3,204.1 430.6,204.0 431.9,203.8 433.2,203.9 434.5,203.8 435.8,203.9 437.1,204.7 438.5,205.2 439.8,206.1 441.1,204.5 442.4,204.9 443.7,203.0 445.0,205.5 446.3,205.9 447.6,205.4 448.9,206.0 450.2,205.5 451.5,205.6 452.9,205.2 454.2,205.5 455.5,205.0 456.8,207.5 458.1,207.3 459.4,206.8 460.7,206.6 462.0,208.0 463.3,207.3 464.6,206.4 465.9,207.1 467.3,207.3 468.6,207.4 469.9,207.5 471.2,206.0 472.5,206.8 473.8,205.9 475.1,207.9 476.4,207.4 477.7,206.8 479.0,209.7 480.4,209.0 481.7,207.7 483.0,208.8 484.3,207.7 485.6,209.0 486.9,209.0 488.2,208.0 489.5,208.9 490.8,209.9 492.1,209.3 493.4,207.5 494.8,208.8 496.1,209.0 497.4,208.5 498.7,209.2 500.0,207.6 501.3,206.2"/>
<polyline class="s" style="marker:url(#m51)" points="319.3,202.3 320.6,204.7 321.9,201.8 323.2,200.7 324.5,203.0 325.8,201.4 327.2,202.1 328.5,203.6 329.8,203.2 331.1,203.1 332.4,203.7 333.7,203.0 335.0,202.4 336.3,203.6 337.6,203.7 338.9,204.4 340.2,204.6 341.6,205.4 342.9,206.1 344.2,205.1 345.5,205.5 346.8,206.1 348.1,207.0 349.4,205.8 350.7,204.5 352.0,206.9 353.3,205.0 354.7,205.7 356.0,205.6 357.3,206.4 358.6,204.4 359.9,206.8 361.2,205.3 362.5,206.5 363.8,205.1 365.1,207.6 366.4,205.1 367.7,204.6 369.1,204.1 370.4,202.5 371.7,205.6 373.0,202.9 374.3,204.1 375.6,204.5 376.9,204.3 378.2,203.6 379.5,203.0 380.8,204.0 382.1,203.5 383.5,202.3 384.8,202.9 386.1,204.3 387.4,204.6 388.7,202.0 390.0,204.4 391.3,204.1 392.6,205.2 393.9,204.6 395.2,204.5 396.6,205.6 397.9,206.0 399.2,206.2 400.5,205.4 401.8,206.0 403.1,207.1 404.4,205.7 405.7,205.3 407.0,206.4 408.3,205.3 409.6,206.9 411.0,205.5 412.3,205.9 413.6,207.1 414.9,205.5 416.2,206.0 417.5,206.6 418.8,206.6 420.1,205.2 421.4,207.2 422.7,206.4 424.0,206.7 425.4,207.2 426.7,207.4 428.0,207.0 429.3,207.6 430.6,207.2 431.9,206.0 433.2,206.1 434.5,206.5 435.8,206.4 437.1,207.0 438.5,205.4 439.8,207.3 441.1,207.7 442.4,207.7 443.7,207.0 445.0,205.9 446.3,208.5 447.6,206.0 448.9,206.1 450.2,206.5 451.5,205.2 452.9,205.3 454.2,206.5 455.5,207.4 456.8,206.2 458.1,207.0 459.4,207.2 460.7,207.1 462.0,206.2 463.3,207.9 464.6,206.9 465.9,206.3 467.3,206.3 468.6,208.0 469.9,207.3 471.2,206.6 472.5,208.0 473.8,207.8 475.1,207.2 476.4,206.2 477.7,207.1 479.0,207.5 480.4,206.5 481.7,209.3 483.0,207.2 484.3,206.4 485.6,205.9 486.9,208.1 488.2,207.0 489.5,207.0 490.8,206.4 492.1,207.4 493.4,207.0 494.8,205.7 496.1,206.0 497.4,205.2 498.7,206.4 500.0,205.9 501.3,206.5"/>
<polyline class="s" style="marker:url(#m16)" points="319.3,203.4 320.6,205.2 321.9,204.5 323.2,204.0 324.5,203.1 325.8,204.0 327.2,204.6 328.5,204.9 329.8,204.1 331.1,203.8 332.4,203.6 333.7,204.3 335.0,203.2 336.3,204.0 337.6,202.3 338.9,205.2 340.2,204.8 341.6,203.9 342.9,203.7 344.2,204.7 345.5,204.1 346.8,203.9 348.1,204.1 349.4,204.3 350.7,203.8 352.0,205.5 353.3,203.3 354.7,205.0 356.0,204.9 357.3,203.7 358.6,205.6 359.9,203.6 361.2,204.7 362.5,204.7 363.8,205.1 365.1,205.1 366.4,206.3 367.7,205.4 369.1,205.3 370.4,205.4 371.7,205.6 373.0,204.7 374.3,205.7 375.6,205.3 376.9,205.4 378.2,204.9 379.5,204.8 380.8,204.8 382.1,204.1 383.5,204.7 384.8,205.1 386.1,203.8 387.4,204.1 388.7,204.5 390.0,203.6 391.3,203.4 392.6,203.7 393.9,203.6 395.2,204.6 396.6,203.5 397.9,204.1 399.2,203.4 400.5,204.3 401.8,204.6 403.1,204.7 404.4,202.7 405.7,203.9 407.0,203.2 408.3,204.3 409.6,204.4 411.0,203.7 412.3,203.8 413.6,204.3 414.9,204.9 416.2,205.4 417.5,206.3 418.8,206.8 420.1,204.6 421.4,205.7 422.7,205.4 424.0,205.5 425.4,204.6 426.7,206.1 428.0,206.0 429.3,205.2 430.6,205.9 431.9,205.1 433.2,203.7 434.5,205.2 435.8,205.5 437.1,204.9 438.5,205.8 439.8,207.2 441.1,205.7 442.4,205.3 443.7,204.4 445.0,205.3 446.3,205.3 447.6,206.2 448.9,204.8 450.2,204.6 451.5,204.7 452.9,206.5 454.2,206.3 455.5,205.0 456.8,207.9 458.1,204.7 459.4,204.8 460.7,206.1 462.0,205.2 463.3,204.7 464.6,204.5 465.9,205.4 467.3,205.3 468.6,205.3 469.9,204.5 471.2,206.3 472.5,204.8 473.8,206.1 475.1,207.1 476.4,204.7 477.7,205.4 479.0,205.8 480.4,206.2 481.7,205.9 483.0,205.1 484.3,206.5 485.6,206.0 486.9,207.1 488.2,205.7 489.5,205.3 490.8,205.4 492.1,205.7 493.4,206.4 494.8,206.7 496.1,205.0 497.4,206.2 498.7,204.7 500.0,208.3 501.3,205.9"/>
<polyline class="s" style="marker:url(#m0)" points="319.3,203.4 320.6,203.1 321.9,204.1 323.2,203.9 324.5,203.6 325.8,203.3 327.2,203.6 328.5,201.7 329.8,202.9 331.1,203.1 332.4,205.7 333.7,204.0 335.0,203.6 336.3,204.0 337.6,203.5 338.9,204.5 340.2,203.9 341.6,204.7 342.9,204.8 344.2,204.6 345.5,204.6 346.8,204.5 348.1,204.1 349.4,205.2 350.7,205.2 352.0,205.4 353.3,205.6 354.7,205.9 356.0,205.7 357.3,205.6 358.6,206.6 359.9,206.8 361.2,204.8 362.5,205.5 363.8,205.4 365.1,204.2 366.4,205.3 367.7,204.3 369.1,205.8 370.4,203.6 371.7,204.5 373.0,203.2 374.3,202.9 375.6,204.2 376.9,203.6 378.2,204.4 379.5,204.1 380.8,202.0 382.1,204.4 383.5,202.4 384.8,203.1 386.1,202.7 387.4,203.7 388.7,203.6 390.0,203.4 391.3,205.2 392.6,202.9 393.9,203.0 395.2,202.5 396.6,204.7 397.9,202.5 399.2,203.2 400.5,202.9 401.8,203.0 403.1,203.4 404.4,202.2 405.7,203.0 407.0,204.0 408.3,202.4 409.6,204.2 411.0,203.3 412.3,204.7 413.6,204.0 414.9,203.7 416.2,203.6 417.5,206.1 418.8,205.4 420.1,204.3 421.4,207.2 422.7,204.5 424.0,204.4 425.4,206.3 426.7,205.2 428.0,206.5 429.3,205.2 430.6,206.6 431.9,206.1 433.2,206.3 434.5,206.7 435.8,205.5 437.1,205.8 438.5,206.2 439.8,206.1 441.1,206.3 442.4,206.7 443.7,205.8 445.0,205.6 446.3,206.9 447.6,208.4 448.9,206.5 450.2,206.5 451.5,205.5 452.9,205.1 454.2,206.3 455.5,207.1 456.8,205.7 458.1,206.3 459.4,205.5 460.7,204.9 462.0,205.3 463.3,204.9 464.6,206.2 465.9,205.8 467.3,207.7 468.6,207.6 469.9,206.5 471.2,207.2 472.5,206.8 473.8,208.2 475.1,209.1 476.4,207.5 477.7,206.7 479.0,206.6 480.4,207.1 481.7,207.3 483.0,207.0 484.3,206.7 485.6,206.9 486.9,206.9 488.2,206.5 489.5,205.7 490.8,206.3 492.1,205.4 493.4,206.4 494.8,206.2 496.1,207.0 497.4,206.6 498.7,205.8 500.0,206.0 501.3,207.9"/>
<polyline class="s" style="marker:url(#m50)" points="319.3,229.1 320.6,228.0 321.9,227.7 323.2,227.8 324.5,228.9 325.8,228.8 327.2,229.2 328.5,229.0 329.8,229.3 331.1,228.9 332.4,228.8 333.7,229.2 335.0,228.6 336.3,229.2 337.6,229.2 338.9,232.0 340.2,228.6 341.6,230.6 342.9,230.7 344.2,230.7 345.5,230.7 346.8,230.6 348.1,230.1 349.4,231.2 350.7,231.6 352.0,230.9 353.3,232.3 354.7,230.8 356.0,232.8 357.3,233.6 358.6,231.6 359.9,231.8 361.2,233.3 362.5,230.0 363.8,231.0 365.1,230.4 366.4,230.8 367.7,232.2 369.1,232.0 370.4,230.7 371.7,231.9 373.0,229.8 374.3,230.5 375.6,232.0 376.9,232.6 378.2,231.8 379.5,231.5 380.8,230.7 382.1,231.6 383.5,230.4 384.8,231.7 386.1,230.6 387.4,231.0 388.7,229.1 390.0,230.1 391.3,230.7 392.6,229.1 393.9,230.4 395.2,230.5 396.6,229.8 397.9,229.5 399.2,229.6 400.5,228.2 401.8,229.2 403.1,231.4 404.4,228.8 405.7,229.6 407.0,228.4 408.3,231.3 409.6,229.1 411.0,229.5 412.3,230.0 413.6,229.3 414.9,231.8 416.2,230.2 417.5,229.7 418.8,228.4 420.1,230.4 421.4,229.7 422.7,231.3 424.0,230.6 425.4,230.2 426.7,231.9 428.0,231.5 429.3,231.4 430.6,231.3 431.9,231.6 433.2,231.3 434.5,232.5 435.8,230.9 437.1,232.0 438.5,231.4 439.8,232.8 441.1,232.3 442.4,233.1 443.7,231.4 445.0,230.7 446.3,233.0 447.6,232.2 448.9,231.3 450.2,232.8 451.5,233.3 452.9,231.9 454.2,232.3 455.5,231.3 456.8,231.6 458.1,232.2 459.4,231.9 460.7,231.8 462.0,231.4 463.3,232.6 464.6,232.3 465.9,233.8 467.3,231.6 468.6,231.6 469.9,232.1 471.2,231.5 472.5,231.3 473.8,231.4 475.1,231.8 476.4,231.8 477.7,231.4 479.0,232.3 480.4,232.3 481.7,231.9 483.0,231.3 484.3,230.3 485.6,230.3 486.9,229.3 488.2,231.1 489.5,231.1 490.8,231.2 492.1,229.2 493.4,231.5 494.8,230.3 496.1,230.5 497.4,231.4 498.7,230.6 500.0,230.0 501.3,230.7"/>
<polyline class="s" style="marker:url(#m21)" points="319.3,223.4 320.6,224.1 321.9,223.2 323.2,224.1 324.5,224.6 325.8,223.4 327.2,222.1 328.5,222.6 329.8,223.5 331.1,223.7 332.4,222.2 333.7,222.9 335.0,222.8 336.3,222.3 337.6,223.4 338.9,223.3 340.2,224.7 341.6,223.0 342.9,224.6 344.2,224.1 345.5,224.7 346.8,224.1 348.1,224.1 349.4,225.5 350.7,225.7 352.0,224.4 353.3,225.4 354.7,224.5 356.0,224.8 357.3,226.2 358.6,225.4 359.9,224.9 361.2,225.1 362.5,224.3 363.8,224.6 365.1,225.1 366.4,224.0 367.7,224.6 369.1,226.2 370.4,224.8 371.7,225.0 373.0,226.1 374.3,226.5 375.6,225.1 376.9,226.0 378.2,224.4 379.5,224.3 380.8,225.0 382.1,226.3 383.5,224.5 384.8,225.1 386.1,225.1 387.4,223.5 388.7,224.1 390.0,225.3 391.3,225.1 392.6,224.4 393.9,222.7 395.2,224.6 396.6,225.0 397.9,223.1 399.2,224.7 400.5,223.9 401.8,223.2 403.1,225.1 404.4,225.5 405.7,223.6 407.0,224.8 408.3,223.9 409.6,223.9 411.0,223.5 412.3,223.6 413.6,223.6 414.9,224.5 416.2,223.8 417.5,225.0 418.8,224.2 420.1,224.0 421.4,224.9 422.7,226.3 424.0,225.7 425.4,226.5 426.7,224.0 428.0,225.0 429.3,224.9 430.6,225.8 431.9,226.0 433.2,224.7 434.5,225.7 435.8,226.3 437.1,226.8 438.5,224.5 439.8,227.5 441.1,225.8 442.4,226.8 443.7,225.2 445.0,226.2 446.3,227.0 447.6,227.0 448.9,226.0 450.2,224.7 451.5,226.7 452.9,225.6 454.2,225.7 455.5,226.6 456.8,224.1 458.1,227.3 459.4,224.1 460.7,225.9 462.0,226.4 463.3,224.8 464.6,226.3 465.9,223.8 467.3,225.3 468.6,224.9 469.9,224.1 471.2,225.1 472.5,223.8 473.8,223.6 475.1,226.1 476.4,225.7 477.7,224.2 479.0,223.8 480.4,224.7 481.7,224.5 483.0,226.2 484.3,224.8 485.6,225.7 486.9,224.7 488.2,223.8 489.5,226.7 490.8,225.3 492.1,224.2 493.4,225.3 494.8,226.3 496.1,224.7 497.4,224.7 498.7,225.0 500.0,226.9 501.3,228.1"/>
<polyline class="s" style="marker:url(#m34)" points="319.3,202.7 320.6,202.4 321.9,202.9 323.2,203.3 324.5,203.7 325.8,203.1 327.2,203.8 328.5,201.8 329.8,203.1 331.1,203.6 332.4,202.6 333.7,203.9 335.0,203.6 336.3,203.6 337.6,204.2 338.9,203.1 340.2,204.4 341.6,203.7 342.9,204.1 344.2,204.0 345.5,203.4 346.8,205.0 348.1,203.7 349.4,204.5 350.7,203.7 352.0,203.6 353.3,204.2 354.7,204.6 356.0,204.8 357.3,204.4 358.6,205.2 359.9,204.2 361.2,204.0 362.5,204.9 363.8,204.4 365.1,205.2 366.4,204.1 367.7,203.9 369.1,204.2 370.4,203.9 371.7,205.3 373.0,205.3 374.3,204.6 375.6,204.9 376.9,204.2 378.2,205.2 379.5,204.0 380.8,204.3 382.1,204.7 383.5,204.1 384.8,203.9 386.1,203.6 387.4,204.4 388.7,204.3 390.0,204.9 391.3,203.6 392.6,203.5 393.9,203.3 395.2,203.9 396.6,203.4 397.9,204.6 399.2,203.9 400.5,204.3 401.8,204.2 403.1,203.0 404.4,203.6 405.7,204.5 407.0,204.8 408.3,203.7 409.6,205.1 411.0,204.2 412.3,204.1 413.6,204.7 414.9,203.1 416.2,204.2 417.5,204.7 418.8,203.8 420.1,204.5 421.4,204.5 422.7,205.3 424.0,204.6 425.4,205.4 426.7,204.9 428.0,205.1 429.3,204.8 430.6,205.4 431.9,204.4 433.2,205.8 434.5,205.0 435.8,205.5 437.1,205.2 438.5,204.9 439.8,205.3 441.1,205.3 442.4,205.6 443.7,205.5 445.0,204.8 446.3,205.4 447.6,205.5 448.9,204.2 450.2,205.1 451.5,205.3 452.9,205.4 454.2,205.5 455.5,204.6 456.8,205.3 458.1,205.1 459.4,205.0 460.7,205.7 462.0,205.8 463.3,205.9 464.6,205.4 465.9,205.5 467.3,206.2 468.6,205.4 469.9,204.9 471.2,205.6 472.5,206.0 473.8,206.1 475.1,204.9 476.4,205.6 477.7,206.0 479.0,205.7 480.4,205.5 481.7,206.2 483.0,204.8 484.3,205.3 485.6,205.9 486.9,205.9 488.2,205.7 489.5,205.8 490.8,205.6 492.1,205.3 493.4,205.3 494.8,205.1 496.1,205.6 497.4,206.3 498.7,206.3 500.0,206.1 501.3,206.5"/>
<polyline class="s" style="marker:url(#m12)" points="319.3,202.8 320.6,203.0 321.9,203.6 323.2,203.6 324.5,202.8 325.8,203.3 327.2,202.1 328.5,204.6 329.8,203.1 331.1,203.9 332.4,204.4 333.7,204.1 335.0,203.0 336.3,203.5 337.6,204.5 338.9,203.4 340.2,203.3 341.6,203.4 342.9,204.7 344.2,204.1 345.5,204.4 346.8,204.3 348.1,203.7 349.4,203.5 350.7,204.8 352.0,204.5 353.3,204.4 354.7,204.6 356.0,204.3 357.3,205.2 358.6,204.9 359.9,205.0 361.2,205.1 362.5,204.0 363.8,204.8 365.1,204.0 366.4,204.7 367.7,204.4 369.1,204.2 370.4,205.1 371.7,204.4 373.0,204.7 374.3,204.4 375.6,204.0 376.9,204.8 378.2,205.2 379.5,204.8 380.8,203.9 382.1,204.4 383.5,204.4 384.8,204.0 386.1,204.4 387.4,204.1 388.7,204.4 390.0,204.2 391.3,204.5 392.6,204.7 393.9,204.4 395.2,204.1 396.6,204.2 397.9,204.4 399.2,204.4 400.5,204.3 401.8,205.3 403.1,204.5 404.4,204.8 405.7,204.8 407.0,205.3 408.3,204.7 409.6,204.9 411.0,202.6 412.3,204.2 413.6,205.9 414.9,204.8 416.2,205.5 417.5,205.3 418.8,204.2 420.1,204.8 421.4,204.6 422.7,204.8 424.0,205.2 425.4,205.3 426.7,206.0 428.0,205.6 429.3,205.3 430.6,205.5 431.9,205.4 433.2,206.0 434.5,206.0 435.8,205.2 437.1,205.6 438.5,206.0 439.8,207.5 441.1,205.4 442.4,205.7 443.7,205.8 445.0,204.9 446.3,205.2 447.6,205.9 448.9,206.4 450.2,206.7 451.5,205.1 452.9,205.6 454.2,204.8 455.5,205.7 456.8,204.9 458.1,206.2 459.4,205.9 460.7,206.4 462.0,206.0 463.3,205.9 464.6,205.4 465.9,205.3 467.3,206.5 468.6,206.4 469.9,206.0 471.2,206.2 472.5,206.4 473.8,206.2 475.1,207.2 476.4,206.2 477.7,206.5 479.0,206.3 480.4,205.5 481.7,205.6 483.0,205.6 484.3,205.5 485.6,205.9 486.9,206.5 488.2,206.7 489.5,206.8 490.8,205.5 492.1,206.1 493.4,205.8 494.8,206.2 496.1,205.3 497.4,205.9 498.7,206.6 500.0,205.4 501.3,205.6"/>
<polyline class="s" style="marker:url(#m52)" points="319.3,203.2 320.6,203.1 321.9,203.8 323.2,203.1 324.5,204.2 325.8,203.6 327.2,203.0 328.5,203.6 329.8,202.9 331.1,204.1 332.4,203.8 333.7,203.5 335.0,203.4 336.3,203.9 337.6,203.2 338.9,204.2 340.2,203.8 341.6,202.9 342.9,204.6 344.2,204.0 345.5,204.6 346.8,204.7 348.1,204.5 349.4,205.1 350.7,204.2 352.0,205.2 353.3,205.3 354.7,205.0 356.0,205.4 357.3,205.3 358.6,205.5 359.9,205.7 361.2,205.5 362.5,205.5 363.8,204.9 365.1,205.2 366.4,205.6 367.7,205.8 369.1,205.8 370.4,204.9 371.7,205.3 373.0,205.1 374.3,205.5 375.6,205.6 376.9,205.1 378.2,205.5 379.5,205.7 380.8,206.1 382.1,205.5 383.5,205.2 384.8,204.9 386.1,205.0 387.4,205.4 388.7,205.3 390.0,205.7 391.3,205.2 392.6,205.0 393.9,205.7 395.2,206.0 396.6,205.9 397.9,205.3 399.2,205.1 400.5,206.0 401.8,205.5 403.1,204.5 404.4,205.0 405.7,205.5 407.0,205.4 408.3,204.9 409.6,205.1 411.0,206.0 412.3,204.9 413.6,204.2 414.9,205.2 416.2,205.4 417.5,205.2 418.8,206.1 420.1,204.8 421.4,204.9 422.7,205.0 424.0,206.1 425.4,206.1 426.7,206.0 428.0,205.7 429.3,205.0 430.6,206.5 431.9,205.5 433.2,206.2 434.5,206.0 435.8,206.9 437.1,206.7 438.5,206.7 439.8,206.6 441.1,206.4 442.4,206.7 443.7,206.3 445.0,206.3 446.3,207.4 447.6,205.8 448.9,206.3 450.2,206.5 451.5,205.7 452.9,206.1 454.2,206.5 455.5,206.1 456.8,207.1 458.1,207.0 459.4,206.8 460.7,205.5 462.0,207.0 463.3,206.6 464.6,205.8 465.9,206.6 467.3,207.6 468.6,206.2 469.9,207.1 471.2,206.1 472.5,207.5 473.8,207.4 475.1,206.9 476.4,207.2 477.7,206.4 479.0,207.3 480.4,206.6 481.7,207.5 483.0,206.7 484.3,206.7 485.6,206.5 486.9,205.1 488.2,206.2 489.5,206.1 490.8,206.8 492.1,206.7 493.4,206.8 494.8,206.6 496.1,206.4 497.4,206.3 498.7,206.4 500.0,206.2 501.3,207.0"/>
<polyline class="s" style="marker:url(#m53)" points="319.3,203.5 320.6,203.3 321.9,203.5 323.2,203.7 324.5,204.1 325.8,204.1 327.2,203.2 328.5,201.3 329.8,204.5 331.1,204.5 332.4,204.0 333.7,204.1 335.0,204.5 336.3,204.0 337.6,203.8 338.9,204.3 340.2,204.0 341.6,204.1 342.9,205.2 344.2,205.3 345.5,204.4 346.8,205.1 348.1,204.9 349.4,204.7 350.7,205.5 352.0,207.3 353.3,205.9 354.7,205.3 356.0,205.5 357.3,205.7 358.6,206.1 359.9,205.2 361.2,205.5 362.5,207.0 363.8,205.8 365.1,206.3 366.4,205.2 367.7,205.8 369.1,205.1 370.4,205.3 371.7,206.3 373.0,205.8 374.3,204.1 375.6,205.6 376.9,204.6 378.2,205.7 379.5,205.8 380.8,206.3 382.1,205.4 383.5,206.2 384.8,204.7 386.1,205.5 387.4,205.8 388.7,206.1 390.0,205.5 391.3,205.4 392.6,205.3 393.9,205.6 395.2,206.0 396.6,205.9 397.9,205.1 399.2,205.3 400.5,206.5 401.8,205.4 403.1,204.7 404.4,205.6 405.7,204.9 407.0,205.3 408.3,205.6 409.6,205.2 411.0,205.6 412.3,205.2 413.6,206.1 414.9,205.7 416.2,204.9 417.5,205.5 418.8,205.5 420.1,205.9 421.4,206.2 422.7,206.1 424.0,206.0 425.4,205.8 426.7,205.6 428.0,206.8 429.3,206.4 430.6,206.5 431.9,206.5 433.2,207.3 434.5,206.4 435.8,207.2 437.1,207.2 438.5,206.8 439.8,207.6 441.1,206.7 442.4,207.0 443.7,206.9 445.0,207.6 446.3,206.2 447.6,206.2 448.9,205.2 450.2,207.0 451.5,206.6 452.9,206.5 454.2,207.1 455.5,206.7 456.8,207.0 458.1,206.5 459.4,206.0 460.7,206.1 462.0,206.7 463.3,206.0 464.6,207.2 465.9,205.8 467.3,207.4 468.6,207.1 469.9,207.0 471.2,206.7 472.5,207.8 473.8,207.2 475.1,207.1 476.4,207.1 477.7,207.0 479.0,206.6 480.4,207.6 481.7,207.6 483.0,206.7 484.3,206.0 485.6,207.2 486.9,206.2 488.2,206.8 489.5,206.9 490.8,207.0 492.1,207.1 493.4,205.5 494.8,207.1 496.1,206.3 497.4,206.6 498.7,206.6 500.0,207.0 501.3,206.6"/>
<polyline class="s" style="marker:url(#m7)" points="319.3,205.2 320.6,204.9 321.9,205.1 323.2,204.1 324.5,204.3 325.8,204.2 327.2,204.6 328.5,205.1 329.8,205.1 331.1,204.8 332.4,204.2 333.7,205.1 335.0,204.8 336.3,204.7 337.6,204.9 338.9,205.0 340.2,205.1 341.6,204.6 342.9,205.3 344.2,205.1 345.5,205.2 346.8,204.8 348.1,205.1 349.4,205.3 350.7,205.9 352.0,205.8 353.3,205.6 354.7,206.3 356.0,207.0 357.3,205.3 358.6,205.6 359.9,206.5 361.2,206.2 362.5,206.1 363.8,206.2 365.1,206.5 366.4,206.3 367.7,205.9 369.1,206.7 370.4,206.0 371.7,206.3 373.0,206.3 374.3,206.3 375.6,206.1 376.9,207.5 378.2,205.2 379.5,206.3 380.8,206.7 382.1,206.1 383.5,206.4 384.8,205.8 386.1,206.3 387.4,205.8 388.7,206.2 390.0,206.1 391.3,206.2 392.6,206.7 393.9,205.8 395.2,206.1 396.6,205.4 397.9,205.4 399.2,205.4 400.5,205.4 401.8,205.4 403.1,205.7 404.4,205.4 405.7,204.1 407.0,205.9 408.3,204.4 409.6,205.7 411.0,207.7 412.3,206.6 413.6,206.2 414.9,206.4 416.2,205.4 417.5,205.3 418.8,206.5 420.1,206.0 421.4,207.1 422.7,206.6 424.0,206.8 425.4,206.7 426.7,207.2 428.0,206.8 429.3,206.5 430.6,206.3 431.9,207.6 433.2,207.2 434.5,206.3 435.8,207.7 437.1,207.6 438.5,207.2 439.8,206.9 441.1,207.4 442.4,207.4 443.7,207.0 445.0,207.0 446.3,207.4 447.6,206.5 448.9,207.2 450.2,207.3 451.5,207.0 452.9,206.2 454.2,207.4 455.5,207.1 456.8,207.9 458.1,207.5 459.4,206.4 460.7,207.9 462.0,207.1 463.3,208.1 464.6,207.2 465.9,207.1 467.3,208.8 468.6,206.8 469.9,207.8 471.2,207.0 472.5,207.7 473.8,206.9 475.1,207.1 476.4,207.3 477.7,207.1 479.0,207.6 480.4,207.7 481.7,207.1 483.0,207.8 484.3,207.3 485.6,206.5 486.9,207.7 488.2,207.8 489.5,207.6 490.8,207.1 492.1,209.4 493.4,207.8 494.8,206.9 496.1,206.5 497.4,207.6 498.7,206.7 500.0,206.4 501.3,207.3"/>
<polyline class="s" style="marker:url(#m54)" points="319.3,204.9 320.6,203.9 321.9,205.0 323.2,205.0 324.5,204.3 325.8,203.8 327.2,203.8 328.5,204.7 329.8,204.7 331.1,205.1 332.4,205.0 333.7,204.6 335.0,205.6 336.3,204.7 337.6,205.3 338.9,204.7 340.2,205.4 341.6,205.1 342.9,206.1 344.2,206.0 345.5,205.2 346.8,206.0 348.1,205.8 349.4,205.7 350.7,205.5 352.0,206.4 353.3,205.7 354.7,206.6 356.0,206.5 357.3,205.9 358.6,205.4 359.9,206.2 361.2,207.0 362.5,207.3 363.8,206.7 365.1,206.4 366.4,206.0 367.7,206.8 369.1,207.4 370.4,206.5 371.7,206.5 373.0,206.5 374.3,206.5 375.6,206.7 376.9,206.1 378.2,206.6 379.5,205.5 380.8,206.9 382.1,206.5 383.5,205.4 384.8,206.7 386.1,206.3 387.4,206.5 388.7,206.5 390.0,206.1 391.3,205.6 392.6,206.2 393.9,206.7 395.2,205.3 396.6,206.0 397.9,205.5 399.2,206.4 400.5,205.9 401.8,206.2 403.1,206.8 404.4,206.5 405.7,205.9 407.0,206.4 408.3,205.6 409.6,206.7 411.0,206.8 412.3,205.9 413.6,206.4 414.9,207.5 416.2,206.1 417.5,206.2 418.8,206.1 420.1,206.1 421.4,206.6 422.7,205.7 424.0,206.8 425.4,207.1 426.7,207.7 428.0,206.7 429.3,207.3 430.6,207.5 431.9,207.0 433.2,207.4 434.5,207.6 435.8,207.5 437.1,208.1 438.5,207.7 439.8,207.2 441.1,206.9 442.4,206.7 443.7,207.6 445.0,207.9 446.3,206.8 447.6,207.4 448.9,207.5 450.2,207.4 451.5,207.2 452.9,208.3 454.2,207.5 455.5,208.2 456.8,207.3 458.1,207.6 459.4,206.8 460.7,207.0 462.0,207.2 463.3,207.3 464.6,208.2 465.9,207.7 467.3,207.9 468.6,208.0 469.9,207.8 471.2,207.9 472.5,207.8 473.8,207.1 475.1,207.6 476.4,207.6 477.7,208.2 479.0,208.5 480.4,207.3 481.7,208.6 483.0,208.1 484.3,207.1 485.6,207.5 486.9,207.9 488.2,207.1 489.5,207.6 490.8,206.6 492.1,209.5 493.4,207.9 494.8,207.9 496.1,208.1 497.4,207.3 498.7,208.2 500.0,207.0 501.3,207.4"/>
<polyline class="s" style="marker:url(#m34)" points="319.3,205.0 320.6,205.2 321.9,204.8 323.2,204.8 324.5,204.8 325.8,205.3 327.2,205.3 328.5,205.6 329.8,205.4 331.1,205.9 332.4,205.9 333.7,205.8 335.0,206.1 336.3,205.1 337.6,205.9 338.9,205.4 340.2,206.2 341.6,205.6 342.9,205.4 344.2,205.8 345.5,206.1 346.8,206.5 348.1,206.0 349.4,206.4 350.7,206.4 352.0,205.5 353.3,207.0 354.7,207.0 356.0,206.8 357.3,207.3 358.6,206.9 359.9,204.4 361.2,207.9 362.5,207.8 363.8,206.6 365.1,206.8 366.4,207.2 367.7,207.4 369.1,207.1 370.4,207.7 371.7,206.4 373.0,206.8 374.3,206.3 375.6,207.2 376.9,206.8 378.2,207.0 379.5,206.5 380.8,206.9 382.1,207.3 383.5,207.2 384.8,207.1 386.1,207.4 387.4,207.4 388.7,206.4 390.0,206.2 391.3,206.0 392.6,205.9 393.9,205.7 395.2,206.2 396.6,205.4 397.9,206.7 399.2,206.4 400.5,206.5 401.8,206.0 403.1,206.2 404.4,206.5 405.7,206.7 407.0,206.2 408.3,206.8 409.6,206.4 411.0,206.5 412.3,205.8 413.6,206.3 414.9,207.5 416.2,206.9 417.5,206.1 418.8,206.4 420.1,206.2 421.4,206.4 422.7,206.8 424.0,207.5 425.4,206.8 426.7,207.2 428.0,208.0 429.3,207.4 430.6,206.5 431.9,207.9 433.2,207.5 434.5,207.8 435.8,206.9 437.1,208.5 438.5,207.6 439.8,208.2 441.1,206.8 442.4,208.0 443.7,207.8 445.0,207.7 446.3,208.1 447.6,206.8 448.9,207.3 450.2,208.0 451.5,208.5 452.9,208.2 454.2,208.4 455.5,207.6 456.8,208.4 458.1,208.0 459.4,208.1 460.7,208.4 462.0,208.2 463.3,207.9 464.6,208.9 465.9,207.7 467.3,208.6 468.6,208.6 469.9,209.1 471.2,208.0 472.5,208.6 473.8,208.8 475.1,208.6 476.4,209.2 477.7,208.9 479.0,209.0 480.4,208.2 481.7,208.7 483.0,208.5 484.3,208.6 485.6,209.1 486.9,208.2 488.2,208.2 489.5,209.0 490.8,208.6 492.1,208.5 493.4,208.3 494.8,208.1 496.1,207.6 497.4,205.8 498.7,207.5 500.0,207.5 501.3,208.0"/>
<polyline class="s" style="marker:url(#m18)" points="319.3,205.2 320.6,205.2 321.9,205.7 323.2,205.7 324.5,205.4 325.8,205.3 327.2,205.7 328.5,205.3 329.8,206.0 331.1,205.4 332.4,205.7 333.7,205.9 335.0,204.8 336.3,206.2 337.6,205.8 338.9,206.7 340.2,207.0 341.6,206.4 342.9,206.6 344.2,206.6 345.5,207.0 346.8,205.7 348.1,207.4 349.4,207.0 350.7,206.6 352.0,206.3 353.3,207.4 354.7,207.0 356.0,207.9 357.3,206.6 358.6,207.0 359.9,207.5 361.2,207.5 362.5,207.2 363.8,206.6 365.1,208.2 366.4,207.5 367.7,207.0 369.1,207.2 370.4,206.5 371.7,207.4 373.0,207.2 374.3,207.6 375.6,208.0 376.9,207.8 378.2,207.9 379.5,208.1 380.8,207.3 382.1,206.7 383.5,207.1 384.8,207.4 386.1,206.9 387.4,207.4 388.7,207.4 390.0,205.3 391.3,207.0 392.6,206.6 393.9,207.6 395.2,206.8 396.6,207.0 397.9,207.4 399.2,206.9 400.5,206.9 401.8,206.9 403.1,206.8 404.4,206.8 405.7,206.6 407.0,206.8 408.3,206.8 409.6,206.5 411.0,206.9 412.3,206.7 413.6,207.5 414.9,207.5 416.2,207.3 417.5,208.3 418.8,207.5 420.1,207.3 421.4,206.8 422.7,207.8 424.0,207.6 425.4,207.3 426.7,207.5 428.0,208.0 429.3,208.9 430.6,208.1 431.9,208.5 433.2,208.9 434.5,208.0 435.8,208.3 437.1,208.1 438.5,208.1 439.8,208.8 441.1,208.1 442.4,207.6 443.7,208.7 445.0,208.0 446.3,207.9 447.6,208.2 448.9,208.3 450.2,208.1 451.5,208.5 452.9,208.4 454.2,207.6 455.5,207.8 456.8,208.2 458.1,208.3 459.4,209.0 460.7,207.7 462.0,208.7 463.3,209.1 464.6,209.6 465.9,208.5 467.3,209.0 468.6,208.6 469.9,208.9 471.2,209.2 472.5,208.6 473.8,208.7 475.1,209.6 476.4,208.7 477.7,208.2 479.0,208.6 480.4,208.5 481.7,208.4 483.0,208.6 484.3,208.5 485.6,208.3 486.9,208.5 488.2,208.1 489.5,209.2 490.8,209.2 492.1,207.5 493.4,208.8 494.8,209.1 496.1,208.3 497.4,208.8 498.7,208.4 500.0,209.0 501.3,208.3"/>
<polyline class="s" style="marker:url(#m7)" points="319.3,206.5 320.6,206.8 321.9,205.4 323.2,205.5 324.5,205.5 325.8,205.7 327.2,206.0 328.5,206.6 329.8,205.6 331.1,206.8 332.4,206.8 333.7,205.9 335.0,206.9 336.3,206.4 337.6,206.1 338.9,206.8 340.2,207.0 341.6,206.8 342.9,206.9 344.2,206.2 345.5,207.5 346.8,206.6 348.1,206.8 349.4,207.3 350.7,207.5 352.0,207.4 353.3,206.9 354.7,207.3 356.0,207.1 357.3,207.9 358.6,207.1 359.9,207.6 361.2,208.5 362.5,209.0 363.8,208.3 365.1,207.5 366.4,206.8 367.7,208.5 369.1,206.8 370.4,208.1 371.7,207.5 373.0,208.0 374.3,207.3 375.6,208.1 376.9,207.3 378.2,207.3 379.5,207.7 380.8,208.0 382.1,208.9 383.5,207.7 384.8,207.5 386.1,207.7 387.4,207.1 388.7,208.0 390.0,207.6 391.3,207.8 392.6,207.7 393.9,206.6 395.2,207.1 396.6,207.8 397.9,207.9 399.2,207.5 400.5,207.5 401.8,207.7 403.1,207.6 404.4,207.3 405.7,207.4 407.0,210.0 408.3,207.3 409.6,208.2 411.0,207.6 412.3,208.6 413.6,207.1 414.9,207.9 416.2,208.8 417.5,207.1 418.8,207.0 420.1,208.7 421.4,207.9 422.7,208.5 424.0,208.2 425.4,208.1 426.7,208.8 428.0,207.7 429.3,208.8 430.6,210.5 431.9,208.6 433.2,208.6 434.5,208.8 435.8,208.8 437.1,208.2 438.5,208.5 439.8,209.2 441.1,208.1 442.4,208.6 443.7,207.7 445.0,208.4 446.3,208.8 447.6,207.6 448.9,207.8 450.2,209.2 451.5,208.4 452.9,209.0 454.2,208.6 455.5,208.3 456.8,209.7 458.1,209.5 459.4,209.5 460.7,209.4 462.0,209.4 463.3,209.3 464.6,210.8 465.9,209.7 467.3,208.7 468.6,210.0 469.9,209.7 471.2,209.2 472.5,209.6 473.8,207.8 475.1,209.3 476.4,209.1 477.7,208.8 479.0,208.6 480.4,209.4 481.7,209.5 483.0,209.3 484.3,208.8 485.6,209.1 486.9,208.7 488.2,209.4 489.5,208.8 490.8,210.0 492.1,208.8 493.4,208.6 494.8,210.3 496.1,209.9 497.4,208.6 498.7,208.6 500.0,208.8 501.3,209.1"/>
<polyline class="s" style="marker:url(#m12)" points="319.3,206.9 320.6,206.4 321.9,206.9 323.2,206.2 324.5,206.3 325.8,206.2 327.2,206.6 328.5,205.8 329.8,205.7 331.1,207.1 332.4,206.0 333.7,206.1 335.0,206.6 336.3,206.6 337.6,207.0 338.9,207.1 340.2,206.9 341.6,207.1 342.9,206.6 344.2,207.5 345.5,207.1 346.8,207.6 348.1,206.7 349.4,208.3 350.7,207.8 352.0,207.5 353.3,207.9 354.7,207.5 356.0,207.9 357.3,208.0 358.6,208.3 359.9,207.3 361.2,207.9 362.5,208.9 363.8,208.8 365.1,208.0 366.4,208.2 367.7,208.1 369.1,208.6 370.4,208.3 371.7,208.4 373.0,208.0 374.3,206.7 375.6,207.4 376.9,208.1 378.2,208.7 379.5,207.3 380.8,208.5 382.1,207.8 383.5,208.1 384.8,207.8 386.1,209.1 387.4,208.0 388.7,207.4 390.0,208.0 391.3,207.9 392.6,207.0 393.9,207.0 395.2,208.0 396.6,207.3 397.9,207.3 399.2,208.2 400.5,207.6 401.8,208.9 403.1,208.0 404.4,208.0 405.7,209.7 407.0,208.0 408.3,207.8 409.6,207.9 411.0,208.1 412.3,207.8 413.6,208.0 414.9,208.1 416.2,208.5 417.5,208.1 418.8,208.9 420.1,208.0 421.4,208.7 422.7,208.4 424.0,209.0 425.4,208.0 426.7,210.5 428.0,208.0 429.3,208.7 430.6,209.1 431.9,209.3 433.2,209.0 434.5,209.3 435.8,209.2 437.1,209.4 438.5,208.4 439.8,209.2 441.1,209.2 442.4,209.0 443.7,208.9 445.0,208.4 446.3,208.8 447.6,208.7 448.9,209.3 450.2,209.2 451.5,209.0 452.9,209.1 454.2,208.7 455.5,208.5 456.8,208.9 458.1,209.3 459.4,208.1 460.7,208.9 462.0,208.4 463.3,209.0 464.6,208.9 465.9,210.0 467.3,209.2 468.6,209.2 469.9,209.3 471.2,209.8 472.5,209.2 473.8,209.4 475.1,209.7 476.4,209.1 477.7,210.0 479.0,208.7 480.4,209.9 481.7,209.7 483.0,210.2 484.3,209.3 485.6,209.1 486.9,210.1 488.2,209.9 489.5,207.8 490.8,208.4 492.1,209.6 493.4,209.3 494.8,209.8 496.1,209.7 497.4,210.7 498.7,209.0 500.0,209.4 501.3,210.0"/>
<polyline class="s" style="marker:url(#m16)" points="319.3,206.2 320.6,207.0 321.9,206.4 323.2,207.2 324.5,207.1 325.8,206.2 327.2,208.0 328.5,207.4 329.8,206.8 331.1,206.8 332.4,207.0 333.7,207.3 335.0,207.3 336.3,208.1 337.6,207.2 338.9,207.7 340.2,207.4 341.6,207.8 342.9,207.4 344.2,207.0 345.5,207.2 346.8,207.8 348.1,207.4 349.4,208.0 350.7,207.9 352.0,208.1 353.3,208.2 354.7,207.8 356.0,208.9 357.3,209.2 358.6,208.9 359.9,208.2 361.2,208.5 362.5,208.2 363.8,209.1 365.1,208.5 366.4,209.2 367.7,208.7 369.1,208.7 370.4,208.2 371.7,208.2 373.0,209.6 374.3,208.2 375.6,208.0 376.9,207.6 378.2,207.7 379.5,208.8 380.8,208.2 382.1,208.2 383.5,208.1 384.8,208.7 386.1,208.0 387.4,207.9 388.7,207.6 390.0,207.6 391.3,207.6 392.6,207.8 393.9,207.1 395.2,209.3 396.6,208.1 397.9,207.9 399.2,207.8 400.5,207.4 401.8,208.7 403.1,208.4 404.4,208.4 405.7,208.7 407.0,208.2 408.3,208.8 409.6,207.7 411.0,208.7 412.3,208.7 413.6,208.3 414.9,208.7 416.2,209.1 417.5,208.8 418.8,208.1 420.1,209.2 421.4,209.0 422.7,209.2 424.0,208.9 425.4,209.9 426.7,208.8 428.0,208.9 429.3,209.5 430.6,209.5 431.9,209.3 433.2,209.8 434.5,209.8 435.8,210.1 437.1,209.8 438.5,209.2 439.8,209.1 441.1,209.7 442.4,210.4 443.7,209.8 445.0,209.7 446.3,210.0 447.6,208.4 448.9,210.4 450.2,208.6 451.5,209.5 452.9,209.0 454.2,208.5 455.5,209.8 456.8,209.6 458.1,210.5 459.4,208.8 460.7,210.1 462.0,210.1 463.3,210.1 464.6,209.6 465.9,209.1 467.3,209.4 468.6,210.4 469.9,208.5 471.2,209.9 472.5,210.0 473.8,209.7 475.1,209.4 476.4,210.4 477.7,210.2 479.0,210.4 480.4,209.9 481.7,210.3 483.0,209.8 484.3,209.3 485.6,210.0 486.9,208.9 488.2,209.3 489.5,209.6 490.8,209.8 492.1,209.5 493.4,209.8 494.8,209.3 496.1,209.0 497.4,209.4 498.7,210.1 500.0,209.2 501.3,210.2"/>
<polyline class="s" style="marker:url(#m39)" points="319.3,207.2 320.6,207.3 321.9,207.2 323.2,207.2 324.5,207.0 325.8,207.6 327.2,206.9 328.5,207.0 329.8,208.1 331.1,207.0 332.4,207.6 333.7,207.9 335.0,207.2 336.3,207.0 337.6,207.4 338.9,207.5 340.2,208.3 341.6,208.4 342.9,208.5 344.2,208.6 345.5,209.0 346.8,208.0 348.1,209.1 349.4,207.9 350.7,208.9 352.0,207.8 353.3,209.4 354.7,209.3 356.0,208.7 357.3,209.2 358.6,209.5 359.9,209.1 361.2,209.2 362.5,209.2 363.8,209.1 365.1,209.0 366.4,209.1 367.7,208.5 369.1,209.2 370.4,207.9 371.7,208.5 373.0,209.1 374.3,209.1 375.6,208.9 376.9,208.5 378.2,209.5 379.5,210.0 380.8,209.2 382.1,208.2 383.5,208.7 384.8,209.2 386.1,209.0 387.4,209.5 388.7,208.2 390.0,208.2 391.3,208.8 392.6,209.3 393.9,208.5 395.2,209.1 396.6,208.2 397.9,209.0 399.2,209.2 400.5,209.6 401.8,208.8 403.1,208.9 404.4,208.7 405.7,207.8 407.0,209.0 408.3,208.6 409.6,208.5 411.0,207.6 412.3,210.8 413.6,209.4 414.9,209.4 416.2,208.9 417.5,209.6 418.8,208.5 420.1,208.8 421.4,209.1 422.7,209.1 424.0,209.2 425.4,210.1 426.7,209.7 428.0,209.7 429.3,209.4 430.6,209.3 431.9,209.7 433.2,209.1 434.5,209.7 435.8,209.7 437.1,209.2 438.5,210.1 439.8,209.3 441.1,209.6 442.4,210.4 443.7,209.6 445.0,209.3 446.3,210.2 447.6,209.5 448.9,210.3 450.2,209.3 451.5,209.7 452.9,210.5 454.2,209.6 455.5,210.1 456.8,209.9 458.1,209.8 459.4,209.4 460.7,210.1 462.0,208.9 463.3,209.6 464.6,209.8 465.9,209.6 467.3,210.8 468.6,210.2 469.9,209.6 471.2,209.4 472.5,210.2 473.8,210.2 475.1,210.4 476.4,210.5 477.7,210.0 479.0,210.4 480.4,210.7 481.7,210.4 483.0,210.0 484.3,210.6 485.6,209.9 486.9,209.5 488.2,210.0 489.5,209.9 490.8,209.8 492.1,208.4 493.4,209.6 494.8,209.3 496.1,210.3 497.4,210.5 498.7,209.1 500.0,209.7 501.3,209.6"/>
<polyline class="s" style="marker:url(#m24)" points="319.3,206.8 320.6,206.5 321.9,206.8 323.2,206.8 324.5,206.9 325.8,208.3 327.2,207.2 328.5,207.6 329.8,207.3 331.1,207.6 332.4,207.1 333.7,207.6 335.0,206.9 336.3,207.5 337.6,208.1 338.9,207.9 340.2,208.6 341.6,208.3 342.9,208.5 344.2,208.2 345.5,208.6 346.8,209.1 348.1,209.3 349.4,208.3 350.7,208.8 352.0,208.8 353.3,209.2 354.7,208.4 356.0,208.7 357.3,209.7 358.6,209.2 359.9,209.7 361.2,209.4 362.5,209.6 363.8,208.9 365.1,208.7 366.4,209.7 367.7,209.6 369.1,209.3 370.4,209.2 371.7,209.8 373.0,208.7 374.3,209.8 375.6,209.6 376.9,210.7 378.2,208.8 379.5,209.5 380.8,209.8 382.1,209.7 383.5,210.4 384.8,209.4 386.1,209.2 387.4,208.8 388.7,209.4 390.0,207.4 391.3,209.5 392.6,209.5 393.9,210.6 395.2,208.7 396.6,209.0 397.9,209.0 399.2,209.3 400.5,209.0 401.8,209.4 403.1,209.3 404.4,209.2 405.7,209.3 407.0,208.5 408.3,209.7 409.6,209.1 411.0,209.7 412.3,209.0 413.6,209.2 414.9,208.8 416.2,208.7 417.5,209.6 418.8,210.0 420.1,210.1 421.4,210.3 422.7,209.4 424.0,209.7 425.4,210.0 426.7,210.2 428.0,210.3 429.3,211.4 430.6,209.8 431.9,210.7 433.2,210.6 434.5,210.7 435.8,209.7 437.1,210.6 438.5,210.3 439.8,209.8 441.1,209.6 442.4,210.5 443.7,211.0 445.0,210.1 446.3,210.3 447.6,210.2 448.9,210.3 450.2,212.8 451.5,210.5 452.9,210.2 454.2,210.4 455.5,210.0 456.8,210.0 458.1,210.3 459.4,207.7 460.7,210.4 462.0,211.0 463.3,211.5 464.6,211.1 465.9,211.0 467.3,210.2 468.6,210.8 469.9,210.9 471.2,211.6 472.5,211.3 473.8,211.1 475.1,211.0 476.4,210.5 477.7,209.9 479.0,211.3 480.4,210.4 481.7,210.4 483.0,211.0 484.3,210.4 485.6,211.2 486.9,209.5 488.2,211.4 489.5,210.4 490.8,212.8 492.1,210.2 493.4,210.3 494.8,210.6 496.1,210.7 497.4,210.0 498.7,210.0 500.0,209.1 501.3,210.6"/>
<polyline class="s" style="marker:url(#m46)" points="319.3,208.3 320.6,208.4 321.9,208.4 323.2,207.5 324.5,209.2 325.8,208.1 327.2,207.7 328.5,208.4 329.8,207.6 331.1,207.8 332.4,208.8 333.7,208.2 335.0,208.5 336.3,208.4 337.6,208.9 338.9,208.8 340.2,208.3 341.6,208.4 342.9,208.8 344.2,209.1 345.5,208.7 346.8,210.3 348.1,208.5 349.4,209.4 350.7,209.9 352.0,210.0 353.3,210.5 354.7,210.0 356.0,209.6 357.3,209.7 358.6,210.3 359.9,210.1 361.2,211.3 362.5,210.0 363.8,209.5 365.1,210.2 366.4,209.2 367.7,210.5 369.1,210.1 370.4,209.8 371.7,210.1 373.0,209.9 374.3,208.9 375.6,209.3 376.9,209.6 378.2,209.4 379.5,209.9 380.8,210.3 382.1,209.8 383.5,209.1 384.8,210.6 386.1,210.6 387.4,209.8 388.7,209.9 390.0,210.1 391.3,208.5 392.6,208.3 393.9,209.2 395.2,209.0 396.6,208.9 397.9,208.8 399.2,209.4 400.5,209.3 401.8,209.4 403.1,208.1 404.4,208.4 405.7,209.3 407.0,209.5 408.3,209.2 409.6,210.1 411.0,208.7 412.3,209.2 413.6,209.0 414.9,208.9 416.2,209.3 417.5,209.5 418.8,209.4 420.1,209.5 421.4,209.8 422.7,209.8 424.0,210.0 425.4,209.9 426.7,209.9 428.0,209.6 429.3,208.7 430.6,210.3 431.9,210.8 433.2,210.4 434.5,211.1 435.8,210.8 437.1,210.4 438.5,210.5 439.8,210.5 441.1,211.1 442.4,210.3 443.7,210.3 445.0,210.6 446.3,210.2 447.6,210.6 448.9,210.7 450.2,210.9 451.5,210.4 452.9,211.6 454.2,210.3 455.5,210.8 456.8,210.8 458.1,211.2 459.4,211.4 460.7,211.6 462.0,210.7 463.3,211.8 464.6,211.3 465.9,211.5 467.3,211.5 468.6,211.4 469.9,212.0 471.2,211.5 472.5,211.3 473.8,211.3 475.1,211.1 476.4,211.5 477.7,211.1 479.0,211.3 480.4,211.8 481.7,211.2 483.0,211.5 484.3,211.2 485.6,210.8 486.9,211.0 488.2,211.0 489.5,211.3 490.8,210.5 492.1,211.1 493.4,211.1 494.8,211.6 496.1,211.0 497.4,210.5 498.7,210.1 500.0,211.2 501.3,211.7"/>
<polyline class="s" style="marker:url(#m14)" points="319.3,208.2 320.6,208.0 321.9,208.2 323.2,207.9 324.5,208.4 325.8,208.8 327.2,208.3 328.5,208.5 329.8,209.3 331.1,208.6 332.4,208.7 333.7,208.7 335.0,208.4 336.3,209.4 337.6,210.2 338.9,209.7 340.2,209.2 341.6,209.2 342.9,209.8 344.2,209.6 345.5,209.9 346.8,209.7 348.1,208.5 349.4,209.9 350.7,209.6 352.0,209.4 353.3,210.0 354.7,210.4 356.0,209.6 357.3,210.0 358.6,210.5 359.9,210.3 361.2,210.3 362.5,210.6 363.8,210.5 365.1,210.0 366.4,210.0 367.7,210.2 369.1,209.6 370.4,210.2 371.7,210.5 373.0,209.9 374.3,210.2 375.6,210.0 376.9,209.9 378.2,210.3 379.5,210.1 380.8,210.6 382.1,210.5 383.5,209.5 384.8,209.6 386.1,210.0 387.4,210.5 388.7,209.0 390.0,209.0 391.3,209.5 392.6,209.2 393.9,209.9 395.2,209.7 396.6,209.5 397.9,209.0 399.2,209.1 400.5,209.0 401.8,209.5 403.1,209.6 404.4,209.5 405.7,209.0 407.0,209.5 408.3,209.1 409.6,209.4 411.0,209.5 412.3,209.9 413.6,209.8 414.9,209.3 416.2,210.0 417.5,209.9 418.8,210.2 420.1,209.9 421.4,210.1 422.7,210.1 424.0,210.0 425.4,211.2 426.7,210.6 428.0,211.3 429.3,210.2 430.6,211.2 431.9,211.2 433.2,210.9 434.5,211.3 435.8,210.9 437.1,211.0 438.5,211.0 439.8,211.1 441.1,211.0 442.4,211.7 443.7,211.5 445.0,210.8 446.3,211.5 447.6,211.2 448.9,211.9 450.2,210.8 451.5,211.4 452.9,211.0 454.2,211.6 455.5,211.2 456.8,210.5 458.1,211.8 459.4,209.8 460.7,210.9 462.0,211.0 463.3,210.7 464.6,211.8 465.9,211.4 467.3,211.3 468.6,211.4 469.9,211.9 471.2,210.6 472.5,211.3 473.8,211.1 475.1,211.2 476.4,211.7 477.7,212.4 479.0,211.2 480.4,211.0 481.7,210.5 483.0,211.8 484.3,210.9 485.6,211.9 486.9,211.2 488.2,211.4 489.5,211.3 490.8,211.0 492.1,210.8 493.4,211.5 494.8,210.8 496.1,210.8 497.4,211.7 498.7,211.7 500.0,210.5 501.3,210.9"/>
<polyline class="s" style="marker:url(#m16)" points="319.3,209.5 320.6,208.8 321.9,209.8 323.2,209.5 324.5,208.4 325.8,209.5 327.2,209.1 328.5,209.5 329.8,208.9 331.1,208.7 332.4,208.8 333.7,210.0 335.0,209.5 336.3,209.3 337.6,209.3 338.9,209.6 340.2,209.4 341.6,210.1 342.9,210.5 344.2,210.1 345.5,209.1 346.8,210.6 348.1,210.6 349.4,209.9 350.7,210.8 352.0,210.0 353.3,209.8 354.7,210.4 356.0,211.1 357.3,210.3 358.6,211.1 359.9,210.9 361.2,210.1 362.5,211.1 363.8,210.3 365.1,210.4 366.4,210.5 367.7,210.3 369.1,210.2 370.4,210.1 371.7,210.3 373.0,211.3 374.3,210.9 375.6,209.8 376.9,210.3 378.2,210.9 379.5,211.1 380.8,210.4 382.1,210.4 383.5,209.7 384.8,210.3 386.1,210.8 387.4,212.0 388.7,210.1 390.0,210.8 391.3,212.1 392.6,210.5 393.9,209.2 395.2,209.4 396.6,210.0 397.9,209.9 399.2,209.6 400.5,210.0 401.8,209.5 403.1,209.8 404.4,210.3 405.7,210.5 407.0,210.1 408.3,210.2 409.6,210.5 411.0,209.9 412.3,211.5 413.6,209.3 414.9,210.4 416.2,210.3 417.5,210.5 418.8,209.4 420.1,211.4 421.4,210.6 422.7,210.3 424.0,210.2 425.4,210.9 426.7,211.0 428.0,211.6 429.3,211.6 430.6,211.2 431.9,211.9 433.2,211.0 434.5,211.6 435.8,211.6 437.1,211.8 438.5,211.5 439.8,211.2 441.1,211.7 442.4,211.4 443.7,212.1 445.0,211.8 446.3,211.4 447.6,212.0 448.9,211.8 450.2,211.5 451.5,211.8 452.9,211.7 454.2,211.8 455.5,211.3 456.8,211.7 458.1,212.0 459.4,211.8 460.7,211.9 462.0,211.8 463.3,212.3 464.6,212.2 465.9,211.7 467.3,211.9 468.6,211.9 469.9,211.6 471.2,212.3 472.5,212.1 473.8,212.5 475.1,213.3 476.4,211.8 477.7,211.7 479.0,211.5 480.4,212.7 481.7,212.0 483.0,211.7 484.3,211.2 485.6,211.2 486.9,212.1 488.2,211.7 489.5,212.1 490.8,210.6 492.1,212.0 493.4,211.8 494.8,212.7 496.1,211.3 497.4,211.9 498.7,212.2 500.0,212.0 501.3,211.3"/>
<polyline class="s" style="marker:url(#m47)" points="319.3,209.4 320.6,209.3 321.9,209.1 323.2,208.6 324.5,209.0 325.8,208.8 327.2,209.2 328.5,209.2 329.8,209.4 331.1,209.5 332.4,208.7 333.7,209.2 335.0,209.1 336.3,210.3 337.6,210.2 338.9,210.2 340.2,210.1 341.6,210.1 342.9,210.7 344.2,210.9 345.5,209.7 346.8,210.4 348.1,210.6 349.4,210.4 350.7,210.3 352.0,211.0 353.3,209.8 354.7,211.0 356.0,210.5 357.3,210.9 358.6,211.8 359.9,210.8 361.2,211.0 362.5,211.1 363.8,210.9 365.1,211.2 366.4,210.9 367.7,211.4 369.1,210.7 370.4,210.8 371.7,211.0 373.0,210.0 374.3,211.9 375.6,210.2 376.9,210.7 378.2,210.8 379.5,210.8 380.8,211.5 382.1,210.7 383.5,210.8 384.8,210.7 386.1,210.8 387.4,211.0 388.7,209.8 390.0,210.8 391.3,210.8 392.6,211.2 393.9,211.0 395.2,210.7 396.6,210.6 397.9,210.3 399.2,210.7 400.5,210.2 401.8,210.3 403.1,210.9 404.4,211.3 405.7,211.0 407.0,209.9 408.3,211.2 409.6,210.0 411.0,211.0 412.3,211.1 413.6,210.3 414.9,211.1 416.2,210.7 417.5,210.8 418.8,211.5 420.1,210.5 421.4,211.6 422.7,211.3 424.0,210.6 425.4,211.1 426.7,210.9 428.0,211.1 429.3,211.3 430.6,211.2 431.9,212.3 433.2,211.7 434.5,211.8 435.8,212.0 437.1,211.9 438.5,211.5 439.8,211.9 441.1,211.5 442.4,212.6 443.7,211.4 445.0,212.1 446.3,212.3 447.6,211.2 448.9,211.6 450.2,213.7 451.5,211.2 452.9,211.3 454.2,211.5 455.5,211.5 456.8,211.8 458.1,212.3 459.4,211.5 460.7,211.5 462.0,211.6 463.3,212.1 464.6,212.3 465.9,212.1 467.3,212.8 468.6,211.1 469.9,211.7 471.2,211.8 472.5,212.8 473.8,212.6 475.1,211.9 476.4,212.2 477.7,212.2 479.0,212.8 480.4,212.8 481.7,212.3 483.0,212.5 484.3,211.6 485.6,210.0 486.9,211.6 488.2,211.4 489.5,211.6 490.8,212.1 492.1,211.9 493.4,211.9 494.8,211.4 496.1,212.2 497.4,212.0 498.7,211.8 500.0,211.7 501.3,211.9"/>
<polyline class="s" style="marker:url(#m32)" points="319.3,209.5 320.6,209.1 321.9,208.8 323.2,210.2 324.5,209.6 325.8,208.8 327.2,209.4 328.5,209.5 329.8,209.3 331.1,210.0 332.4,209.3 333.7,209.1 335.0,210.1 336.3,209.8 337.6,209.8 338.9,210.3 340.2,210.6 341.6,210.3 342.9,210.7 344.2,210.1 345.5,210.9 346.8,211.1 348.1,211.2 349.4,209.8 350.7,213.6 352.0,211.2 353.3,210.4 354.7,211.0 356.0,211.3 357.3,211.5 358.6,209.8 359.9,211.7 361.2,211.0 362.5,211.5 363.8,211.1 365.1,211.0 366.4,210.8 367.7,211.4 369.1,210.1 370.4,211.3 371.7,210.8 373.0,212.6 374.3,210.3 375.6,211.8 376.9,211.0 378.2,211.1 379.5,210.5 380.8,211.2 382.1,211.0 383.5,210.9 384.8,210.8 386.1,211.5 387.4,210.8 388.7,210.7 390.0,210.8 391.3,211.1 392.6,210.8 393.9,210.7 395.2,211.1 396.6,210.9 397.9,210.8 399.2,211.2 400.5,211.4 401.8,210.3 403.1,212.6 404.4,210.6 405.7,210.7 407.0,211.0 408.3,210.1 409.6,211.5 411.0,210.8 412.3,210.8 413.6,210.5 414.9,210.9 416.2,210.4 417.5,211.7 418.8,211.2 420.1,212.0 421.4,211.2 422.7,211.6 424.0,211.3 425.4,211.6 426.7,212.1 428.0,212.2 429.3,212.5 430.6,211.9 431.9,211.6 433.2,211.6 434.5,213.8 435.8,212.0 437.1,211.6 438.5,212.6 439.8,211.9 441.1,211.9 442.4,212.2 443.7,212.0 445.0,211.6 446.3,211.8 447.6,211.8 448.9,212.4 450.2,211.2 451.5,212.0 452.9,212.2 454.2,212.3 455.5,212.0 456.8,212.6 458.1,212.2 459.4,211.5 460.7,212.6 462.0,212.2 463.3,211.8 464.6,212.5 465.9,212.5 467.3,213.6 468.6,212.5 469.9,213.5 471.2,213.3 472.5,213.9 473.8,212.8 475.1,212.9 476.4,212.7 477.7,212.5 479.0,212.6 480.4,213.1 481.7,212.2 483.0,213.8 484.3,211.7 485.6,212.7 486.9,212.8 488.2,212.2 489.5,213.0 490.8,213.3 492.1,211.5 493.4,213.1 494.8,212.8 496.1,212.4 497.4,211.7 498.7,213.0 500.0,212.0 501.3,212.3"/>
<polyline class="s" style="marker:url(#m4)" points="319.3,209.9 320.6,209.5 321.9,209.4 323.2,209.8 324.5,210.5 325.8,208.8 327.2,209.4 328.5,211.1 329.8,209.6 331.1,211.0 332.4,210.3 333.7,210.3 335.0,212.2 336.3,210.2 337.6,210.5 338.9,211.2 340.2,209.9 341.6,212.1 342.9,209.8 344.2,211.7 345.5,210.4 346.8,211.5 348.1,210.1 349.4,211.5 350.7,212.7 352.0,211.8 353.3,211.9 354.7,211.7 356.0,211.7 357.3,212.3 358.6,212.4 359.9,212.3 361.2,211.4 362.5,211.7 363.8,212.0 365.1,212.4 366.4,211.0 367.7,211.2 369.1,211.2 370.4,211.7 371.7,212.4 373.0,211.5 374.3,211.7 375.6,211.6 376.9,211.2 378.2,211.1 379.5,211.7 380.8,210.5 382.1,212.0 383.5,212.1 384.8,211.6 386.1,211.6 387.4,211.7 388.7,212.0 390.0,211.6 391.3,211.2 392.6,211.4 393.9,211.5 395.2,211.6 396.6,211.3 397.9,211.6 399.2,211.7 400.5,211.1 401.8,210.8 403.1,211.1 404.4,209.7 405.7,210.4 407.0,211.9 408.3,211.4 409.6,212.3 411.0,211.2 412.3,211.7 413.6,212.7 414.9,211.2 416.2,212.0 417.5,212.3 418.8,212.0 420.1,210.9 421.4,211.6 422.7,211.8 424.0,212.6 425.4,211.2 426.7,212.5 428.0,212.6 429.3,212.8 430.6,212.2 431.9,212.8 433.2,212.8 434.5,213.2 435.8,212.7 437.1,213.2 438.5,213.4 439.8,212.7 441.1,214.0 442.4,213.2 443.7,212.0 445.0,213.3 446.3,213.0 447.6,212.4 448.9,213.2 450.2,212.3 451.5,212.7 452.9,213.5 454.2,213.1 455.5,212.6 456.8,211.3 458.1,212.8 459.4,212.5 460.7,213.7 462.0,213.2 463.3,212.0 464.6,212.3 465.9,213.0 467.3,212.4 468.6,213.1 469.9,212.4 471.2,213.6 472.5,213.6 473.8,213.5 475.1,213.8 476.4,213.0 477.7,213.3 479.0,213.5 480.4,213.3 481.7,213.0 483.0,213.5 484.3,212.9 485.6,212.4 486.9,212.9 488.2,212.9 489.5,213.0 490.8,212.6 492.1,213.6 493.4,212.6 494.8,212.7 496.1,212.5 497.4,212.6 498.7,213.1 500.0,212.6 501.3,213.4"/>
<polyline class="s" style="marker:url(#m18)" points="319.3,209.9 320.6,210.7 321.9,210.8 323.2,210.2 324.5,209.6 325.8,209.8 327.2,209.8 328.5,210.1 329.8,210.6 331.1,209.6 332.4,209.2 333.7,210.0 335.0,210.8 336.3,210.6 337.6,210.9 338.9,211.4 340.2,211.2 341.6,210.3 342.9,211.0 344.2,211.8 345.5,211.3 346.8,211.4 348.1,211.9 349.4,210.9 350.7,212.1 352.0,212.6 353.3,211.5 354.7,212.4 356.0,211.9 357.3,212.6 358.6,212.1 359.9,212.1 361.2,211.6 362.5,211.6 363.8,211.8 365.1,212.7 366.4,211.8 367.7,212.1 369.1,212.5 370.4,211.8 371.7,212.6 373.0,211.0 374.3,212.4 375.6,211.9 376.9,212.5 378.2,212.4 379.5,211.9 380.8,212.3 382.1,212.3 383.5,210.9 384.8,212.2 386.1,211.5 387.4,212.1 388.7,211.7 390.0,211.7 391.3,212.7 392.6,212.2 393.9,211.5 395.2,211.9 396.6,212.1 397.9,213.0 399.2,212.1 400.5,211.9 401.8,211.8 403.1,212.0 404.4,212.2 405.7,212.4 407.0,212.4 408.3,212.3 409.6,212.7 411.0,211.8 412.3,212.2 413.6,210.8 414.9,212.2 416.2,210.8 417.5,212.3 418.8,212.4 420.1,211.5 421.4,213.0 422.7,213.3 424.0,212.7 425.4,212.2 426.7,210.9 428.0,212.6 429.3,212.8 430.6,212.8 431.9,213.2 433.2,212.4 434.5,212.7 435.8,213.9 437.1,214.1 438.5,212.6 439.8,213.4 441.1,212.9 442.4,212.5 443.7,213.6 445.0,213.4 446.3,213.1 447.6,213.5 448.9,213.5 450.2,213.4 451.5,212.5 452.9,213.4 454.2,213.6 455.5,213.6 456.8,213.1 458.1,213.4 459.4,213.6 460.7,212.9 462.0,212.5 463.3,214.3 464.6,213.3 465.9,213.5 467.3,212.6 468.6,213.4 469.9,213.8 471.2,213.9 472.5,213.3 473.8,213.9 475.1,212.5 476.4,213.6 477.7,213.5 479.0,214.5 480.4,213.8 481.7,213.1 483.0,213.4 484.3,213.4 485.6,213.4 486.9,213.4 488.2,212.7 489.5,213.1 490.8,212.9 492.1,212.8 493.4,213.8 494.8,212.6 496.1,213.4 497.4,213.3 498.7,213.1 500.0,213.5 501.3,212.8"/>
<polyline class="s" style="marker:url(#m55)" points="319.3,210.5 320.6,211.4 321.9,210.5 323.2,211.0 324.5,211.2 325.8,211.4 327.2,210.3 328.5,210.8 329.8,210.9 331.1,211.2 332.4,211.8 333.7,210.5 335.0,211.2 336.3,211.3 337.6,210.3 338.9,211.2 340.2,211.5 341.6,211.7 342.9,211.9 344.2,211.4 345.5,212.0 346.8,212.4 348.1,212.7 349.4,212.5 350.7,212.8 352.0,213.3 353.3,213.3 354.7,211.4 356.0,212.7 357.3,212.0 358.6,212.2 359.9,211.6 361.2,212.7 362.5,212.4 363.8,213.0 365.1,212.6 366.4,212.0 367.7,212.6 369.1,213.8 370.4,212.3 371.7,211.8 373.0,212.3 374.3,211.9 375.6,212.3 376.9,212.5 378.2,212.5 379.5,211.8 380.8,211.7 382.1,211.7 383.5,212.8 384.8,212.7 386.1,212.6 387.4,211.8 388.7,212.8 390.0,213.1 391.3,212.7 392.6,211.7 393.9,213.0 395.2,212.2 396.6,212.4 397.9,212.1 399.2,211.5 400.5,211.9 401.8,213.1 403.1,212.4 404.4,211.9 405.7,212.7 407.0,211.8 408.3,211.7 409.6,212.9 411.0,213.4 412.3,211.0 413.6,212.1 414.9,212.3 416.2,212.7 417.5,212.8 418.8,212.5 420.1,213.2 421.4,213.0 422.7,213.8 424.0,212.6 425.4,212.7 426.7,213.3 428.0,213.3 429.3,213.5 430.6,211.3 431.9,213.0 433.2,213.3 434.5,213.1 435.8,213.4 437.1,213.7 438.5,213.1 439.8,213.7 441.1,212.8 442.4,212.5 443.7,212.9 445.0,214.0 446.3,212.8 447.6,213.7 448.9,213.6 450.2,212.7 451.5,213.3 452.9,215.6 454.2,213.2 455.5,213.6 456.8,213.7 458.1,213.0 459.4,213.1 460.7,214.1 462.0,213.6 463.3,214.2 464.6,213.6 465.9,213.9 467.3,214.2 468.6,214.2 469.9,213.7 471.2,213.7 472.5,213.8 473.8,214.3 475.1,214.6 476.4,214.2 477.7,213.5 479.0,214.7 480.4,214.6 481.7,213.6 483.0,214.6 484.3,216.0 485.6,214.2 486.9,213.3 488.2,214.0 489.5,214.1 490.8,214.1 492.1,213.9 493.4,213.5 494.8,214.0 496.1,212.8 497.4,214.6 498.7,213.4 500.0,213.6 501.3,213.7"/>
<polyline class="s" style="marker:url(#m37)" points="319.3,211.9 320.6,213.2 321.9,212.7 323.2,211.1 324.5,211.7 325.8,211.3 327.2,211.0 328.5,211.1 329.8,212.2 331.1,211.8 332.4,211.5 333.7,211.6 335.0,211.7 336.3,211.7 337.6,212.5 338.9,211.9 340.2,212.7 341.6,211.2 342.9,212.1 344.2,212.2 345.5,212.4 346.8,212.5 348.1,212.5 349.4,212.4 350.7,213.2 352.0,212.9 353.3,212.6 354.7,213.0 356.0,212.3 357.3,213.8 358.6,213.3 359.9,215.6 361.2,213.4 362.5,212.8 363.8,212.7 365.1,213.2 366.4,212.9 367.7,212.6 369.1,213.0 370.4,212.7 371.7,213.4 373.0,213.1 374.3,213.0 375.6,212.9 376.9,212.9 378.2,213.6 379.5,214.3 380.8,212.8 382.1,213.7 383.5,212.8 384.8,213.2 386.1,214.1 387.4,213.4 388.7,213.5 390.0,212.4 391.3,212.7 392.6,213.5 393.9,213.3 395.2,212.9 396.6,213.1 397.9,213.6 399.2,212.7 400.5,212.5 401.8,212.7 403.1,213.4 404.4,213.4 405.7,213.0 407.0,212.5 408.3,212.9 409.6,213.3 411.0,212.8 412.3,212.5 413.6,211.7 414.9,212.1 416.2,213.2 417.5,212.7 418.8,213.5 420.1,212.9 421.4,213.0 422.7,213.0 424.0,213.2 425.4,213.2 426.7,213.6 428.0,212.8 429.3,213.3 430.6,213.1 431.9,213.5 433.2,213.1 434.5,213.2 435.8,212.9 437.1,214.1 438.5,213.3 439.8,213.8 441.1,214.3 442.4,213.6 443.7,212.6 445.0,213.5 446.3,211.6 447.6,214.2 448.9,214.1 450.2,213.0 451.5,216.1 452.9,213.2 454.2,213.1 455.5,213.9 456.8,213.3 458.1,214.4 459.4,213.3 460.7,214.0 462.0,213.7 463.3,213.9 464.6,213.8 465.9,213.8 467.3,214.1 468.6,214.4 469.9,214.3 471.2,213.9 472.5,214.2 473.8,214.5 475.1,213.7 476.4,214.1 477.7,213.8 479.0,214.3 480.4,214.3 481.7,214.9 483.0,213.9 484.3,214.0 485.6,214.0 486.9,214.5 488.2,214.1 489.5,214.1 490.8,213.6 492.1,213.3 493.4,214.1 494.8,214.0 496.1,213.8 497.4,214.2 498.7,213.5 500.0,213.4 501.3,214.0"/>
<polyline class="s" style="marker:url(#m39)" points="319.3,210.5 320.6,211.0 321.9,211.2 323.2,210.9 324.5,211.1 325.8,211.3 327.2,211.4 328.5,212.3 329.8,211.0 331.1,211.4 332.4,211.7 333.7,212.1 335.0,211.6 336.3,211.6 337.6,212.5 338.9,211.9 340.2,212.6 341.6,212.4 342.9,213.1 344.2,213.1 345.5,213.2 346.8,212.5 348.1,212.2 349.4,213.5 350.7,212.5 352.0,213.2 353.3,213.0 354.7,213.4 356.0,213.2 357.3,212.4 358.6,213.3 359.9,213.1 361.2,213.8 362.5,213.3 363.8,213.1 365.1,213.4 366.4,213.9 367.7,213.4 369.1,213.1 370.4,213.4 371.7,213.9 373.0,212.0 374.3,214.0 375.6,213.6 376.9,213.7 378.2,213.8 379.5,212.9 380.8,212.3 382.1,213.9 383.5,213.3 384.8,212.8 386.1,212.9 387.4,212.9 388.7,213.6 390.0,212.8 391.3,212.9 392.6,213.2 393.9,214.2 395.2,212.6 396.6,213.0 397.9,213.0 399.2,212.7 400.5,213.3 401.8,212.9 403.1,212.5 404.4,213.0 405.7,212.9 407.0,213.3 408.3,213.0 409.6,212.3 411.0,212.3 412.3,212.5 413.6,213.2 414.9,212.9 416.2,213.6 417.5,213.9 418.8,212.2 420.1,213.2 421.4,214.0 422.7,213.7 424.0,214.0 425.4,213.6 426.7,213.9 428.0,213.1 429.3,214.9 430.6,214.3 431.9,213.9 433.2,214.1 434.5,213.5 435.8,213.9 437.1,214.2 438.5,213.5 439.8,214.4 441.1,214.6 442.4,214.0 443.7,213.7 445.0,213.8 446.3,213.8 447.6,213.5 448.9,213.4 450.2,213.6 451.5,214.1 452.9,213.6 454.2,213.1 455.5,214.7 456.8,216.6 458.1,213.8 459.4,213.9 460.7,214.1 462.0,213.5 463.3,213.2 464.6,214.2 465.9,214.0 467.3,213.5 468.6,214.8 469.9,215.2 471.2,215.0 472.5,214.2 473.8,214.3 475.1,214.2 476.4,214.3 477.7,214.5 479.0,215.2 480.4,214.2 481.7,215.3 483.0,214.5 484.3,214.4 485.6,214.1 486.9,215.1 488.2,214.1 489.5,214.6 490.8,214.5 492.1,215.0 493.4,215.1 494.8,215.0 496.1,213.4 497.4,214.4 498.7,213.6 500.0,214.2 501.3,214.6"/>
<polyline class="s" style="marker:url(#m32)" points="319.3,212.2 320.6,211.6 321.9,212.7 323.2,212.8 324.5,211.8 325.8,210.6 327.2,211.3 328.5,211.5 329.8,212.3 331.1,211.0 332.4,211.7 333.7,212.4 335.0,212.1 336.3,212.6 337.6,212.6 338.9,212.5 340.2,212.3 341.6,213.4 342.9,213.4 344.2,213.4 345.5,212.6 346.8,213.0 348.1,213.4 349.4,213.6 350.7,213.8 352.0,213.7 353.3,213.6 354.7,214.1 356.0,214.5 357.3,213.0 358.6,213.5 359.9,213.6 361.2,214.2 362.5,213.5 363.8,212.9 365.1,213.7 366.4,211.2 367.7,213.8 369.1,213.4 370.4,213.9 371.7,213.7 373.0,214.3 374.3,213.7 375.6,213.6 376.9,214.1 378.2,214.2 379.5,213.7 380.8,213.7 382.1,214.2 383.5,214.2 384.8,213.4 386.1,213.5 387.4,213.9 388.7,213.2 390.0,213.2 391.3,213.6 392.6,213.1 393.9,213.2 395.2,213.1 396.6,213.1 397.9,212.8 399.2,212.4 400.5,213.5 401.8,213.9 403.1,213.9 404.4,213.0 405.7,213.7 407.0,213.4 408.3,213.7 409.6,213.5 411.0,213.7 412.3,213.9 413.6,214.3 414.9,213.4 416.2,213.9 417.5,213.6 418.8,214.3 420.1,214.5 421.4,213.9 422.7,213.3 424.0,214.0 425.4,214.3 426.7,215.0 428.0,214.7 429.3,214.5 430.6,215.0 431.9,214.9 433.2,214.4 434.5,214.3 435.8,214.8 437.1,214.3 438.5,215.1 439.8,214.5 441.1,215.6 442.4,214.3 443.7,215.4 445.0,214.7 446.3,214.2 447.6,215.8 448.9,214.8 450.2,215.1 451.5,215.4 452.9,214.5 454.2,215.1 455.5,214.6 456.8,215.1 458.1,214.8 459.4,214.7 460.7,215.0 462.0,214.9 463.3,214.8 464.6,214.5 465.9,215.9 467.3,215.0 468.6,215.6 469.9,214.6 471.2,215.6 472.5,215.6 473.8,214.9 475.1,215.8 476.4,215.6 477.7,215.4 479.0,215.1 480.4,212.9 481.7,214.9 483.0,215.2 484.3,215.2 485.6,214.9 486.9,214.7 488.2,214.7 489.5,216.0 490.8,215.6 492.1,215.6 493.4,214.5 494.8,214.9 496.1,215.0 497.4,214.7 498.7,215.0 500.0,214.3 501.3,215.4"/>
<polyline class="s" style="marker:url(#m9)" points="319.3,211.9 320.6,212.5 321.9,212.7 323.2,211.8 324.5,211.5 325.8,212.6 327.2,211.9 328.5,212.5 329.8,212.9 331.1,212.6 332.4,213.1 333.7,213.0 335.0,212.8 336.3,212.8 337.6,212.4 338.9,212.4 340.2,212.4 341.6,213.5 342.9,214.2 344.2,213.5 345.5,213.6 346.8,213.9 348.1,214.1 349.4,213.3 350.7,213.9 352.0,215.2 353.3,214.0 354.7,214.2 356.0,213.4 357.3,215.1 358.6,214.4 359.9,214.2 361.2,214.2 362.5,213.9 363.8,215.3 365.1,214.0 366.4,215.1 367.7,214.5 369.1,213.5 370.4,214.4 371.7,213.7 373.0,212.5 374.3,213.4 375.6,213.7 376.9,214.3 378.2,214.6 379.5,213.7 380.8,214.3 382.1,213.5 383.5,213.9 384.8,213.7 386.1,213.7 387.4,213.9 388.7,213.8 390.0,213.4 391.3,214.6 392.6,214.2 393.9,213.9 395.2,213.9 396.6,212.8 397.9,213.3 399.2,214.1 400.5,213.2 401.8,214.0 403.1,213.9 404.4,213.6 405.7,211.1 407.0,213.5 408.3,214.1 409.6,213.4 411.0,213.4 412.3,214.5 413.6,213.6 414.9,213.4 416.2,213.4 417.5,214.4 418.8,213.5 420.1,214.2 421.4,213.6 422.7,214.0 424.0,215.8 425.4,214.7 426.7,214.7 428.0,215.1 429.3,214.7 430.6,214.9 431.9,215.0 433.2,214.6 434.5,216.0 435.8,215.0 437.1,215.6 438.5,214.9 439.8,215.1 441.1,214.8 442.4,215.0 443.7,214.3 445.0,215.3 446.3,214.6 447.6,215.1 448.9,215.2 450.2,215.3 451.5,215.9 452.9,215.2 454.2,214.2 455.5,214.5 456.8,214.8 458.1,215.0 459.4,214.7 460.7,215.4 462.0,215.3 463.3,217.2 464.6,215.8 465.9,213.2 467.3,215.0 468.6,215.3 469.9,215.9 471.2,215.1 472.5,215.3 473.8,215.4 475.1,215.5 476.4,214.9 477.7,215.9 479.0,216.2 480.4,214.9 481.7,215.3 483.0,215.0 484.3,215.6 485.6,215.9 486.9,215.2 488.2,215.8 489.5,215.2 490.8,215.6 492.1,214.4 493.4,215.5 494.8,215.3 496.1,215.0 497.4,215.5 498.7,215.0 500.0,215.2 501.3,214.8"/>
<polyline class="s" style="marker:url(#m32)" points="319.3,212.6 320.6,212.0 321.9,212.5 323.2,212.4 324.5,212.8 325.8,213.6 327.2,212.8 328.5,212.7 329.8,212.4 331.1,213.0 332.4,213.2 333.7,212.9 335.0,212.6 336.3,213.3 337.6,213.0 338.9,213.5 340.2,213.1 341.6,213.4 342.9,213.6 344.2,214.2 345.5,212.4 346.8,213.6 348.1,213.2 349.4,214.0 350.7,214.5 352.0,213.7 353.3,214.7 354.7,214.6 356.0,214.8 357.3,214.2 358.6,214.7 359.9,214.5 361.2,213.8 362.5,215.2 363.8,213.8 365.1,214.5 366.4,214.4 367.7,214.1 369.1,214.5 370.4,215.1 371.7,214.3 373.0,215.0 374.3,215.3 375.6,213.8 376.9,214.7 378.2,214.1 379.5,214.7 380.8,214.2 382.1,213.8 383.5,214.6 384.8,213.8 386.1,214.4 387.4,214.6 388.7,214.7 390.0,213.6 391.3,214.3 392.6,214.2 393.9,213.9 395.2,214.0 396.6,214.1 397.9,214.7 399.2,213.4 400.5,214.3 401.8,214.6 403.1,215.1 404.4,214.4 405.7,214.6 407.0,215.0 408.3,214.3 409.6,214.2 411.0,213.8 412.3,214.4 413.6,214.2 414.9,214.5 416.2,215.0 417.5,214.2 418.8,214.8 420.1,214.7 421.4,215.8 422.7,214.4 424.0,215.7 425.4,215.1 426.7,215.4 428.0,215.4 429.3,214.6 430.6,214.7 431.9,215.8 433.2,214.9 434.5,215.3 435.8,215.7 437.1,215.3 438.5,215.8 439.8,215.2 441.1,214.5 442.4,214.8 443.7,215.5 445.0,215.1 446.3,215.6 447.6,215.1 448.9,214.3 450.2,215.0 451.5,215.6 452.9,215.7 454.2,214.5 455.5,215.0 456.8,216.1 458.1,215.4 459.4,214.8 460.7,216.1 462.0,214.7 463.3,216.0 464.6,215.7 465.9,216.4 467.3,215.7 468.6,216.3 469.9,215.5 471.2,215.3 472.5,216.6 473.8,215.9 475.1,216.2 476.4,216.1 477.7,215.9 479.0,215.5 480.4,216.2 481.7,216.2 483.0,216.0 484.3,215.5 485.6,215.2 486.9,214.9 488.2,215.8 489.5,215.7 490.8,215.4 492.1,215.6 493.4,215.6 494.8,214.9 496.1,215.1 497.4,216.1 498.7,215.2 500.0,215.1 501.3,215.9"/>
<polyline class="s" style="marker:url(#m11)" points="319.3,213.9 320.6,213.2 321.9,213.7 323.2,213.1 324.5,213.5 325.8,213.4 327.2,214.2 328.5,213.6 329.8,213.6 331.1,213.7 332.4,214.1 333.7,213.4 335.0,214.4 336.3,213.8 337.6,214.6 338.9,213.9 340.2,213.7 341.6,214.2 342.9,214.8 344.2,214.0 345.5,214.9 346.8,214.5 348.1,214.9 349.4,215.4 350.7,214.8 352.0,215.2 353.3,214.3 354.7,215.0 356.0,214.5 357.3,215.6 358.6,215.3 359.9,215.3 361.2,215.2 362.5,215.1 363.8,215.9 365.1,215.4 366.4,215.5 367.7,215.2 369.1,215.1 370.4,214.7 371.7,215.0 373.0,214.3 374.3,214.6 375.6,214.6 376.9,214.8 378.2,215.4 379.5,215.4 380.8,214.9 382.1,214.8 383.5,215.2 384.8,214.9 386.1,212.9 387.4,215.0 388.7,214.8 390.0,214.4 391.3,214.5 392.6,214.8 393.9,214.7 395.2,214.1 396.6,213.8 397.9,214.9 399.2,213.4 400.5,214.5 401.8,213.8 403.1,214.3 404.4,214.2 405.7,214.7 407.0,214.6 408.3,214.0 409.6,215.0 411.0,214.8 412.3,213.8 413.6,214.7 414.9,214.8 416.2,214.7 417.5,215.0 418.8,214.9 420.1,214.7 421.4,214.3 422.7,215.0 424.0,215.5 425.4,214.7 426.7,215.7 428.0,215.3 429.3,215.3 430.6,216.3 431.9,215.7 433.2,215.0 434.5,215.7 435.8,214.7 437.1,216.3 438.5,216.7 439.8,215.3 441.1,215.7 442.4,215.8 443.7,216.2 445.0,215.9 446.3,216.1 447.6,215.8 448.9,216.0 450.2,214.9 451.5,215.9 452.9,216.1 454.2,215.6 455.5,215.4 456.8,216.4 458.1,215.8 459.4,215.2 460.7,216.4 462.0,215.8 463.3,215.8 464.6,216.1 465.9,216.2 467.3,216.3 468.6,217.0 469.9,216.8 471.2,216.2 472.5,216.3 473.8,216.3 475.1,216.4 476.4,216.2 477.7,216.6 479.0,216.5 480.4,216.6 481.7,215.7 483.0,216.3 484.3,215.2 485.6,215.6 486.9,216.3 488.2,215.5 489.5,216.3 490.8,215.4 492.1,216.3 493.4,216.1 494.8,216.3 496.1,216.0 497.4,215.3 498.7,215.5 500.0,216.1 501.3,216.2"/>
<polyline class="s" style="marker:url(#m21)" points="319.3,211.5 320.4,213.0 321.5,211.2 322.6,211.0 323.7,211.7 324.8,211.7 326.0,212.1 327.1,212.1 328.2,212.8 329.3,212.2 330.4,211.3 331.5,213.1 332.6,210.3 333.7,212.8 334.8,212.5 335.9,214.6 337.1,212.2 338.2,212.0 339.3,213.5 340.4,214.9 341.5,214.0 342.6,212.6 343.7,212.6 344.8,213.5 345.9,215.4 347.0,213.3 348.2,214.2 349.3,212.9 350.4,213.2 351.5,213.8 352.6,212.9 353.7,213.7 354.8,213.0 355.9,214.3 357.0,214.6 358.1,214.1 359.3,213.4 360.4,215.4 361.5,215.5 362.6,212.9 363.7,216.4 364.8,212.1 365.9,213.6 367.0,212.3 368.1,213.5 369.2,213.7 370.3,212.1 371.5,213.5 372.6,211.8 373.7,213.7 374.8,213.6 375.9,214.3 377.0,213.9 378.1,213.3 379.2,212.4 380.3,213.5 381.4,213.1 382.6,214.3 383.7,213.6 384.8,214.2 385.9,213.6 387.0,214.7 388.1,213.6 389.2,212.0 390.3,213.2 391.4,213.7 392.5,215.1 393.7,212.8 394.8,212.6 395.9,213.4 397.0,211.7 398.1,215.2 399.2,216.2 400.3,212.0 401.4,213.4 402.5,214.5 403.6,210.9 404.8,213.1 405.9,212.9 407.0,212.7 408.1,212.9 409.2,212.8 410.3,212.9 411.4,210.3 412.5,211.4 413.6,212.0 414.7,214.7 415.8,210.2 417.0,212.4 418.1,211.9 419.2,212.9 420.3,215.0 421.4,214.3 422.5,214.3 423.6,215.8 424.7,214.2 425.8,215.0 426.9,213.8 428.1,215.3 429.2,215.8 430.3,214.2 431.4,214.2 432.5,215.4 433.6,212.9 434.7,215.6 435.8,212.9 436.9,213.4 438.0,213.5 439.2,217.2 440.3,213.8 441.4,214.7 442.5,214.4 443.6,215.8 444.7,213.6 445.8,216.3 446.9,217.1 448.0,215.2 449.1,214.0 450.3,214.7 451.4,213.4 452.5,214.3 453.6,212.8 454.7,213.4 455.8,213.7 456.9,213.5 458.0,216.2 459.1,213.1 460.2,214.9 461.3,215.1 462.5,216.7 463.6,213.6 464.7,213.6 465.8,214.2 466.9,212.7 468.0,216.0 469.1,213.8 470.2,214.5 471.3,212.4 472.4,215.8 473.6,215.9 474.7,213.8 475.8,214.9 476.9,214.7 478.0,216.0 479.1,215.0 480.2,215.8 481.3,214.7 482.4,212.8 483.5,215.3 484.7,216.9 485.8,217.3 486.9,216.5 488.0,215.6 489.1,213.6 490.2,214.0 491.3,216.1 492.4,215.8 493.5,215.8 494.6,214.8 495.8,215.9 496.9,216.8 498.0,215.3 499.1,214.9 500.2,214.3 501.3,214.0"/>
<polyline class="s" style="marker:url(#m21)" points="319.3,221.3 320.4,220.9 321.5,220.8 322.6,222.8 323.7,220.7 324.8,222.4 326.0,220.7 327.1,221.6 328.2,221.0 329.3,222.4 330.4,220.7 331.5,221.8 332.6,221.3 333.7,222.6 334.8,223.2 335.9,221.6 337.1,220.0 338.2,220.9 339.3,220.6 340.4,220.1 341.5,223.0 342.6,222.4 343.7,220.3 344.8,219.3 345.9,220.1 347.0,222.0 348.2,222.8 349.3,221.6 350.4,222.0 351.5,221.5 352.6,221.6 353.7,221.4 354.8,223.2 355.9,222.1 357.0,224.0 358.1,223.7 359.3,223.6 360.4,221.5 361.5,222.0 362.6,223.0 363.7,222.7 364.8,223.2 365.9,222.2 367.0,220.8 368.1,222.4 369.2,221.3 370.3,223.1 371.5,224.1 372.6,222.9 373.7,221.2 374.8,221.3 375.9,221.2 377.0,222.3 378.1,221.6 379.2,219.8 380.3,221.9 381.4,221.5 382.6,221.9 383.7,221.8 384.8,222.2 385.9,222.4 387.0,221.3 388.1,221.9 389.2,221.7 390.3,224.9 391.4,222.4 392.5,219.9 393.7,221.9 394.8,222.3 395.9,223.0 397.0,223.1 398.1,224.8 399.2,224.9 400.3,222.9 401.4,222.7 402.5,221.3 403.6,221.9 404.8,222.2 405.9,221.8 407.0,222.3 408.1,220.2 409.2,222.7 410.3,223.3 411.4,223.2 412.5,222.0 413.6,223.0 414.7,223.5 415.8,223.5 417.0,225.1 418.1,222.5 419.2,222.7 420.3,223.0 421.4,220.9 422.5,221.0 423.6,223.4 424.7,223.5 425.8,224.5 426.9,223.5 428.1,225.2 429.2,224.4 430.3,223.1 431.4,222.6 432.5,223.5 433.6,221.9 434.7,225.4 435.8,224.3 436.9,224.6 438.0,222.2 439.2,223.7 440.3,220.7 441.4,222.9 442.5,225.0 443.6,223.5 444.7,222.5 445.8,221.8 446.9,222.9 448.0,221.9 449.1,224.5 450.3,224.0 451.4,223.1 452.5,222.9 453.6,223.7 454.7,223.0 455.8,220.9 456.9,223.6 458.0,224.7 459.1,225.8 460.2,223.5 461.3,224.1 462.5,221.9 463.6,223.0 464.7,222.0 465.8,224.9 466.9,223.8 468.0,223.8 469.1,225.6 470.2,224.5 471.3,223.4 472.4,222.7 473.6,224.0 474.7,224.9 475.8,223.2 476.9,222.7 478.0,225.1 479.1,224.4 480.2,224.9 481.3,223.7 482.4,225.3 483.5,222.1 484.7,225.5 485.8,223.2 486.9,226.4 488.0,223.4 489.1,223.2 490.2,223.1 491.3,225.3 492.4,223.6 493.5,224.6 494.6,224.1 495.8,222.1 496.9,222.3 498.0,225.6 499.1,224.2 500.2,224.0 501.3,226.8"/>
<polyline class="s" style="marker:url(#m56)" points="319.3,217.6 320.4,218.8 321.5,218.4 322.6,218.3 323.7,219.2 324.8,218.3 326.0,220.5 327.1,220.0 328.2,221.5 329.3,222.8 330.4,217.7 331.5,221.0 332.6,221.6 333.7,219.7 334.8,218.3 335.9,219.1 337.1,221.0 338.2,220.9 339.3,220.2 340.4,218.3 341.5,220.3 342.6,220.2 343.7,220.3 344.8,221.0 345.9,221.6 347.0,218.7 348.2,219.8 349.3,219.3 350.4,218.8 351.5,219.8 352.6,219.5 353.7,216.8 354.8,218.6 355.9,220.1 357.0,220.6 358.1,220.4 359.3,217.4 360.4,220.8 361.5,219.5 362.6,221.2 363.7,220.4 364.8,220.2 365.9,219.7 367.0,220.3 368.1,220.5 369.2,220.0 370.3,221.7 371.5,221.2 372.6,219.7 373.7,219.9 374.8,220.2 375.9,220.9 377.0,219.6 378.1,219.5 379.2,218.4 380.3,218.4 381.4,218.9 382.6,221.5 383.7,219.6 384.8,220.4 385.9,219.9 387.0,219.9 388.1,221.4 389.2,219.9 390.3,220.7 391.4,217.5 392.5,218.3 393.7,216.2 394.8,219.3 395.9,219.5 397.0,217.4 398.1,217.7 399.2,217.9 400.3,216.9 401.4,216.2 402.5,217.5 403.6,217.6 404.8,218.1 405.9,215.5 407.0,218.4 408.1,218.1 409.2,217.9 410.3,218.7 411.4,219.1 412.5,217.7 413.6,219.3 414.7,219.5 415.8,220.0 417.0,220.4 418.1,220.1 419.2,219.9 420.3,219.5 421.4,219.1 422.5,223.8 423.6,222.4 424.7,222.1 425.8,220.8 426.9,221.6 428.1,221.0 429.2,221.4 430.3,222.7 431.4,223.6 432.5,220.5 433.6,221.6 434.7,220.9 435.8,221.9 436.9,221.9 438.0,219.8 439.2,222.6 440.3,220.4 441.4,220.3 442.5,220.7 443.6,220.8 444.7,221.1 445.8,221.2 446.9,220.8 448.0,220.7 449.1,221.1 450.3,218.7 451.4,220.6 452.5,221.6 453.6,221.7 454.7,220.9 455.8,221.1 456.9,222.5 458.0,221.7 459.1,224.7 460.2,223.5 461.3,222.6 462.5,221.5 463.6,221.1 464.7,221.5 465.8,222.5 466.9,220.8 468.0,219.9 469.1,220.4 470.2,222.0 471.3,221.9 472.4,223.0 473.6,221.9 474.7,222.4 475.8,222.9 476.9,222.0 478.0,223.8 479.1,223.7 480.2,224.3 481.3,221.8 482.4,225.4 483.5,222.8 484.7,222.1 485.8,224.0 486.9,223.6 488.0,224.6 489.1,224.5 490.2,224.2 491.3,222.8 492.4,224.6 493.5,223.8 494.6,221.4 495.8,223.2 496.9,222.1 498.0,225.2 499.1,223.8 500.2,221.1 501.3,222.7"/>
<polyline class="s" style="marker:url(#m56)" points="319.3,216.6 320.4,216.1 321.5,218.9 322.6,217.7 323.7,215.9 324.8,218.6 326.0,217.3 327.1,217.8 328.2,216.6 329.3,214.0 330.4,216.0 331.5,218.0 332.6,217.0 333.7,218.2 334.8,216.8 335.9,218.9 337.1,219.9 338.2,217.9 339.3,216.9 340.4,215.6 341.5,216.1 342.6,216.1 343.7,215.1 344.8,216.1 345.9,215.4 347.0,216.2 348.2,215.7 349.3,217.7 350.4,217.4 351.5,217.1 352.6,217.4 353.7,216.5 354.8,218.0 355.9,215.8 357.0,217.1 358.1,218.7 359.3,214.6 360.4,214.7 361.5,218.6 362.6,219.3 363.7,216.7 364.8,217.2 365.9,217.5 367.0,218.0 368.1,217.6 369.2,217.6 370.3,219.2 371.5,216.8 372.6,218.6 373.7,216.7 374.8,217.3 375.9,217.5 377.0,215.9 378.1,215.8 379.2,215.5 380.3,216.6 381.4,215.9 382.6,215.5 383.7,216.9 384.8,213.7 385.9,217.0 387.0,215.5 388.1,218.1 389.2,216.7 390.3,216.6 391.4,219.2 392.5,214.9 393.7,215.2 394.8,217.9 395.9,220.3 397.0,218.6 398.1,218.6 399.2,219.6 400.3,216.9 401.4,217.7 402.5,217.3 403.6,221.7 404.8,218.7 405.9,218.1 407.0,217.5 408.1,217.5 409.2,217.4 410.3,218.0 411.4,217.3 412.5,214.8 413.6,216.2 414.7,216.8 415.8,213.7 417.0,215.1 418.1,218.8 419.2,217.0 420.3,217.1 421.4,218.1 422.5,217.7 423.6,218.1 424.7,221.2 425.8,219.5 426.9,221.3 428.1,222.2 429.2,218.3 430.3,219.2 431.4,220.5 432.5,219.9 433.6,221.3 434.7,218.7 435.8,219.1 436.9,219.5 438.0,219.3 439.2,220.8 440.3,221.6 441.4,218.5 442.5,220.0 443.6,218.3 444.7,218.2 445.8,219.9 446.9,215.9 448.0,216.5 449.1,216.9 450.3,216.5 451.4,219.6 452.5,218.7 453.6,220.2 454.7,218.2 455.8,218.1 456.9,216.3 458.0,219.3 459.1,220.1 460.2,220.0 461.3,221.5 462.5,220.7 463.6,218.9 464.7,219.8 465.8,219.1 466.9,217.3 468.0,217.0 469.1,218.2 470.2,218.5 471.3,216.5 472.4,218.0 473.6,218.5 474.7,218.7 475.8,219.6 476.9,219.8 478.0,216.1 479.1,218.7 480.2,219.7 481.3,218.9 482.4,217.4 483.5,217.7 484.7,219.7 485.8,218.1 486.9,217.7 488.0,220.6 489.1,218.1 490.2,218.9 491.3,218.4 492.4,220.2 493.5,220.1 494.6,216.9 495.8,219.5 496.9,222.3 498.0,219.2 499.1,219.4 500.2,220.2 501.3,220.2"/>
<polyline class="s" style="marker:url(#m56)" points="319.3,210.3 320.4,214.1 321.5,211.5 322.6,209.6 323.7,214.1 324.8,211.7 326.0,213.2 327.1,213.5 328.2,213.8 329.3,212.7 330.4,212.7 331.5,211.3 332.6,210.3 333.7,214.0 334.8,213.0 335.9,212.1 337.1,211.7 338.2,213.2 339.3,212.7 340.4,212.8 341.5,214.8 342.6,213.2 343.7,212.8 344.8,213.5 345.9,215.1 347.0,214.2 348.2,211.7 349.3,213.1 350.4,213.3 351.5,217.4 352.6,215.1 353.7,215.3 354.8,213.9 355.9,214.4 357.0,214.4 358.1,214.8 359.3,215.6 360.4,215.2 361.5,215.8 362.6,213.5 363.7,214.8 364.8,216.3 365.9,216.1 367.0,216.3 368.1,215.5 369.2,216.1 370.3,214.8 371.5,214.0 372.6,214.0 373.7,217.6 374.8,214.9 375.9,215.6 377.0,214.7 378.1,215.6 379.2,216.4 380.3,215.4 381.4,214.5 382.6,214.3 383.7,214.6 384.8,213.6 385.9,214.8 387.0,214.3 388.1,214.2 389.2,213.0 390.3,214.3 391.4,213.2 392.5,215.4 393.7,213.6 394.8,213.5 395.9,216.5 397.0,215.0 398.1,214.7 399.2,214.5 400.3,214.5 401.4,215.3 402.5,215.5 403.6,217.5 404.8,217.7 405.9,218.3 407.0,216.6 408.1,215.8 409.2,217.6 410.3,217.3 411.4,217.5 412.5,215.9 413.6,215.8 414.7,215.8 415.8,215.4 417.0,215.4 418.1,215.5 419.2,217.8 420.3,216.1 421.4,217.4 422.5,216.6 423.6,217.1 424.7,214.8 425.8,216.1 426.9,214.4 428.1,214.7 429.2,216.4 430.3,218.8 431.4,215.4 432.5,216.5 433.6,214.1 434.7,216.0 435.8,216.1 436.9,215.1 438.0,215.1 439.2,214.7 440.3,214.4 441.4,213.8 442.5,212.1 443.6,214.6 444.7,215.0 445.8,215.3 446.9,215.5 448.0,214.7 449.1,215.4 450.3,214.6 451.4,216.2 452.5,214.2 453.6,215.6 454.7,215.8 455.8,215.1 456.9,214.1 458.0,216.5 459.1,214.0 460.2,215.5 461.3,214.9 462.5,215.2 463.6,215.7 464.7,214.6 465.8,214.5 466.9,216.9 468.0,215.3 469.1,215.4 470.2,215.1 471.3,213.7 472.4,212.5 473.6,212.5 474.7,215.0 475.8,214.9 476.9,213.6 478.0,212.4 479.1,217.2 480.2,214.0 481.3,216.5 482.4,216.9 483.5,214.8 484.7,216.1 485.8,213.8 486.9,214.7 488.0,216.4 489.1,215.7 490.2,215.5 491.3,216.5 492.4,214.7 493.5,216.5 494.6,215.1 495.8,214.4 496.9,215.6 498.0,214.3 499.1,215.1 500.2,216.8 501.3,216.0"/>
<polyline class="s" style="marker:url(#m50)" points="319.3,230.7 320.4,232.9 321.5,233.9 322.6,230.3 323.7,229.3 324.8,229.8 326.0,229.7 327.1,227.9 328.2,228.1 329.3,230.5 330.4,228.5 331.5,231.0 332.6,228.3 333.7,229.0 334.8,231.3 335.9,231.0 337.1,231.8 338.2,232.1 339.3,233.1 340.4,232.6 341.5,233.6 342.6,231.0 343.7,234.0 344.8,231.0 345.9,232.5 347.0,233.7 348.2,233.6 349.3,230.9 350.4,231.3 351.5,233.2 352.6,231.2 353.7,231.6 354.8,231.3 355.9,233.7 357.0,232.2 358.1,232.0 359.3,233.5 360.4,231.4 361.5,232.2 362.6,228.6 363.7,232.7 364.8,232.8 365.9,230.1 367.0,232.1 368.1,232.9 369.2,232.0 370.3,232.3 371.5,232.2 372.6,231.8 373.7,231.4 374.8,233.4 375.9,233.1 377.0,233.9 378.1,232.1 379.2,232.6 380.3,234.5 381.4,233.5 382.6,233.2 383.7,233.9 384.8,233.1 385.9,231.3 387.0,231.3 388.1,233.2 389.2,230.8 390.3,228.4 391.4,230.5 392.5,229.6 393.7,229.4 394.8,229.8 395.9,229.2 397.0,228.9 398.1,230.6 399.2,230.3 400.3,229.4 401.4,229.9 402.5,230.2 403.6,231.0 404.8,230.1 405.9,229.0 407.0,230.4 408.1,230.9 409.2,228.3 410.3,230.4 411.4,231.0 412.5,229.4 413.6,230.9 414.7,230.4 415.8,230.0 417.0,232.1 418.1,231.6 419.2,231.3 420.3,233.0 421.4,232.3 422.5,232.6 423.6,231.6 424.7,234.6 425.8,233.9 426.9,232.8 428.1,233.9 429.2,232.9 430.3,232.6 431.4,236.3 432.5,234.1 433.6,233.5 434.7,233.0 435.8,234.1 436.9,233.9 438.0,230.4 439.2,234.4 440.3,230.8 441.4,232.1 442.5,233.1 443.6,233.1 444.7,232.8 445.8,234.4 446.9,234.3 448.0,232.8 449.1,232.5 450.3,233.6 451.4,233.2 452.5,233.3 453.6,234.2 454.7,234.2 455.8,234.0 456.9,233.8 458.0,232.5 459.1,233.3 460.2,235.4 461.3,235.0 462.5,233.9 463.6,235.4 464.7,230.8 465.8,234.2 466.9,235.7 468.0,234.1 469.1,233.9 470.2,235.0 471.3,234.8 472.4,235.0 473.6,234.4 474.7,235.4 475.8,235.4 476.9,234.2 478.0,233.9 479.1,232.5 480.2,236.3 481.3,236.0 482.4,235.0 483.5,235.3 484.7,233.2 485.8,234.4 486.9,233.7 488.0,234.9 489.1,233.3 490.2,232.8 491.3,234.9 492.4,233.1 493.5,232.7 494.6,233.2 495.8,231.8 496.9,232.0 498.0,230.6 499.1,234.3 500.2,233.4 501.3,230.7"/>
<polyline class="s" style="marker:url(#m50)" points="319.3,226.9 320.4,230.4 321.5,227.3 322.6,225.9 323.7,228.2 324.8,227.0 326.0,228.8 327.1,227.9 328.2,225.1 329.3,226.9 330.4,226.1 331.5,228.9 332.6,227.8 333.7,228.6 334.8,228.6 335.9,231.5 337.1,228.3 338.2,228.4 339.3,230.5 340.4,228.4 341.5,226.4 342.6,229.2 343.7,231.3 344.8,229.4 345.9,226.9 347.0,228.2 348.2,229.6 349.3,231.3 350.4,229.8 351.5,230.3 352.6,230.5 353.7,230.7 354.8,230.1 355.9,229.4 357.0,229.1 358.1,228.6 359.3,229.3 360.4,229.5 361.5,229.3 362.6,230.9 363.7,229.5 364.8,228.0 365.9,229.3 367.0,227.8 368.1,229.2 369.2,227.0 370.3,228.5 371.5,230.4 372.6,230.1 373.7,230.2 374.8,230.1 375.9,229.8 377.0,228.2 378.1,229.5 379.2,227.5 380.3,230.4 381.4,228.2 382.6,228.7 383.7,228.3 384.8,228.3 385.9,231.6 387.0,229.5 388.1,231.5 389.2,232.0 390.3,228.9 391.4,230.5 392.5,229.2 393.7,229.2 394.8,226.7 395.9,229.3 397.0,229.3 398.1,230.0 399.2,230.1 400.3,227.9 401.4,228.1 402.5,227.5 403.6,228.8 404.8,227.7 405.9,227.7 407.0,231.1 408.1,229.5 409.2,230.7 410.3,231.1 411.4,230.1 412.5,229.3 413.6,229.8 414.7,231.4 415.8,231.8 417.0,231.4 418.1,231.1 419.2,230.1 420.3,233.1 421.4,231.5 422.5,228.8 423.6,230.2 424.7,230.6 425.8,230.9 426.9,231.9 428.1,231.6 429.2,233.2 430.3,231.9 431.4,230.8 432.5,232.7 433.6,232.4 434.7,233.1 435.8,231.1 436.9,232.1 438.0,232.1 439.2,230.3 440.3,232.1 441.4,231.5 442.5,228.2 443.6,230.1 444.7,229.1 445.8,230.4 446.9,228.8 448.0,229.7 449.1,228.8 450.3,230.6 451.4,229.2 452.5,229.2 453.6,228.0 454.7,229.1 455.8,229.3 456.9,228.3 458.0,231.5 459.1,230.4 460.2,230.6 461.3,231.8 462.5,229.9 463.6,230.7 464.7,231.3 465.8,231.5 466.9,231.5 468.0,232.1 469.1,229.7 470.2,232.2 471.3,233.7 472.4,235.6 473.6,231.9 474.7,233.0 475.8,232.5 476.9,234.8 478.0,231.3 479.1,231.5 480.2,232.2 481.3,228.6 482.4,231.6 483.5,230.7 484.7,229.6 485.8,229.9 486.9,229.3 488.0,231.2 489.1,234.0 490.2,232.3 491.3,230.7 492.4,231.5 493.5,234.3 494.6,231.9 495.8,231.7 496.9,233.0 498.0,231.8 499.1,229.8 500.2,232.3 501.3,230.6"/>
<polyline class="s" style="marker:url(#m50)" points="319.3,226.7 320.4,225.4 321.5,225.3 322.6,224.9 323.7,225.6 324.8,224.6 326.0,225.1 327.1,225.7 328.2,224.9 329.3,226.1 330.4,225.7 331.5,224.7 332.6,226.5 333.7,226.1 334.8,223.7 335.9,226.4 337.1,225.7 338.2,224.7 339.3,227.8 340.4,227.6 341.5,226.0 342.6,225.0 343.7,225.5 344.8,225.9 345.9,224.9 347.0,225.0 348.2,226.3 349.3,226.2 350.4,224.8 351.5,224.9 352.6,226.8 353.7,226.1 354.8,227.8 355.9,228.5 357.0,227.3 358.1,226.1 359.3,228.6 360.4,229.5 361.5,227.7 362.6,228.2 363.7,230.2 364.8,230.9 365.9,229.1 367.0,228.1 368.1,228.7 369.2,227.9 370.3,229.6 371.5,229.6 372.6,230.0 373.7,229.4 374.8,229.3 375.9,229.5 377.0,227.8 378.1,228.6 379.2,229.3 380.3,228.2 381.4,228.2 382.6,228.7 383.7,227.1 384.8,229.1 385.9,229.7 387.0,229.5 388.1,226.8 389.2,227.6 390.3,229.9 391.4,228.4 392.5,229.2 393.7,227.3 394.8,227.8 395.9,229.6 397.0,228.4 398.1,228.4 399.2,229.6 400.3,227.5 401.4,227.9 402.5,227.4 403.6,228.8 404.8,226.4 405.9,228.9 407.0,227.1 408.1,227.5 409.2,226.2 410.3,227.3 411.4,226.7 412.5,227.6 413.6,227.0 414.7,226.6 415.8,225.3 417.0,225.4 418.1,226.7 419.2,227.1 420.3,227.8 421.4,226.4 422.5,226.3 423.6,227.3 424.7,228.4 425.8,228.8 426.9,228.2 428.1,228.3 429.2,228.5 430.3,229.8 431.4,228.5 432.5,227.0 433.6,230.4 434.7,231.1 435.8,229.0 436.9,230.7 438.0,229.9 439.2,230.3 440.3,232.0 441.4,231.3 442.5,228.8 443.6,231.7 444.7,229.7 445.8,227.7 446.9,229.7 448.0,229.8 449.1,229.5 450.3,229.8 451.4,228.6 452.5,227.9 453.6,228.4 454.7,228.7 455.8,227.8 456.9,227.5 458.0,228.4 459.1,226.4 460.2,225.9 461.3,226.3 462.5,228.5 463.6,228.1 464.7,226.4 465.8,228.7 466.9,226.6 468.0,228.8 469.1,228.8 470.2,227.3 471.3,228.6 472.4,229.6 473.6,228.1 474.7,227.7 475.8,228.3 476.9,228.7 478.0,227.6 479.1,229.5 480.2,227.4 481.3,228.0 482.4,227.8 483.5,229.1 484.7,228.1 485.8,227.2 486.9,228.5 488.0,229.2 489.1,230.6 490.2,230.4 491.3,230.2 492.4,228.9 493.5,229.6 494.6,230.0 495.8,229.1 496.9,229.8 498.0,230.8 499.1,231.2 500.2,230.9 501.3,227.5"/>
<polyline class="s" style="marker:url(#m57)" points="510.7,249.2 513.1,248.3 515.4,247.2 517.8,247.7 520.2,247.9 522.5,247.5 524.9,245.4 527.3,246.1 529.6,247.3 532.0,249.0 534.4,249.6 536.7,247.5 539.1,243.3 541.5,246.9 543.8,247.5 546.2,246.4 548.6,244.2 550.9,245.8 553.3,245.1 555.7,246.5 558.1,247.1 560.4,246.5 562.8,248.1 565.2,247.5 567.5,246.5 569.9,249.5 572.3,248.5 574.6,246.2 577.0,250.1 579.4,249.1 581.7,246.5 584.1,250.9 586.5,251.2 588.8,247.2 591.2,249.2 593.6,250.1 595.9,253.4 598.3,248.8 600.7,247.6 603.0,250.5 605.4,248.1 607.8,250.6 610.1,250.9 612.5,249.6 614.9,249.5 617.2,250.5 619.6,249.3 622.0,249.7 624.3,249.5 626.7,251.8 629.1,253.0 631.4,255.7 633.8,254.0 636.2,254.2 638.5,255.3 640.9,254.1 643.3,254.2 645.6,252.0 648.0,252.9 650.4,254.0 652.8,250.6 655.1,252.7 657.5,250.8 659.9,250.4 662.2,250.0 664.6,249.6 667.0,247.1 669.3,251.3 671.7,251.2 674.1,250.0 676.4,249.3 678.8,246.1 681.2,249.0 683.5,245.5 685.9,246.9 688.3,244.2 690.6,244.7 693.0,245.1"/>
<polyline class="s" style="marker:url(#m58)" points="510.7,247.2 513.1,249.6 515.4,252.0 517.8,249.3 520.2,248.1 522.5,250.5 524.9,248.0 527.3,250.7 529.6,249.0 532.0,249.4 534.4,247.0 536.7,248.3 539.1,247.2 541.5,250.0 543.8,245.5 546.2,246.2 548.6,247.5 550.9,248.5 553.3,249.1 555.7,250.1 558.1,246.4 560.4,247.6 562.8,251.0 565.2,249.2 567.5,249.5 569.9,246.5 572.3,250.0 574.6,249.7 577.0,250.2 579.4,251.4 581.7,250.7 584.1,252.5 586.5,253.4 588.8,251.7 591.2,252.3 593.6,254.3 595.9,255.0 598.3,253.9 600.7,254.2 603.0,251.3 605.4,251.4 607.8,252.4 610.1,252.2 612.5,254.9 614.9,253.5 617.2,250.3 619.6,250.6 622.0,253.9 624.3,253.7 626.7,253.1 629.1,252.6 631.4,251.6 633.8,256.6 636.2,254.0 638.5,256.2 640.9,257.0 643.3,256.4 645.6,256.4 648.0,255.0 650.4,257.1 652.8,256.4 655.1,254.1 657.5,254.5 659.9,253.5 662.2,251.2 664.6,249.9 667.0,249.6 669.3,247.5 671.7,248.4 674.1,247.3 676.4,247.0 678.8,245.3 681.2,249.3 683.5,248.8 685.9,247.7 688.3,246.8 690.6,246.8 693.0,248.0"/>
<polyline class="s" style="marker:url(#m59)" points="510.7,232.6 513.1,233.6 515.4,228.4 517.8,232.0 520.2,233.2 522.5,230.5 524.9,227.9 527.3,230.7 529.6,230.4 532.0,231.1 534.4,228.4 536.7,229.8 539.1,230.7 541.5,229.8 543.8,232.7 546.2,229.4 548.6,227.4 550.9,232.3 553.3,227.7 555.7,228.6 558.1,229.3 560.4,231.6 562.8,234.0 565.2,229.2 567.5,227.9 569.9,232.3 572.3,233.6 574.6,231.2 577.0,230.9 579.4,229.7 581.7,230.6 584.1,229.4 586.5,231.6 588.8,229.1 591.2,232.8 593.6,228.6 595.9,229.2 598.3,230.5 600.7,233.1 603.0,231.8 605.4,231.4 607.8,236.3 610.1,230.2 612.5,234.4 614.9,234.5 617.2,234.5 619.6,234.3 622.0,234.4 624.3,233.5 626.7,234.8 629.1,236.3 631.4,235.1 633.8,235.1 636.2,236.7 638.5,233.6 640.9,235.9 643.3,237.8 645.6,237.9 648.0,234.2 650.4,234.9 652.8,231.8 655.1,231.7 657.5,234.2 659.9,234.1 662.2,236.2 664.6,232.9 667.0,234.8 669.3,231.1 671.7,233.0 674.1,230.4 676.4,231.9 678.8,229.1 681.2,230.5 683.5,228.4 685.9,229.0 688.3,226.0 690.6,225.5 693.0,227.7"/>
<polyline class="s" style="marker:url(#m60)" points="510.7,254.4 513.1,252.0 515.4,256.0 517.8,252.5 520.2,254.5 522.5,254.0 524.9,255.8 527.3,254.0 529.6,255.1 532.0,253.2 534.4,252.4 536.7,254.5 539.1,251.8 541.5,250.1 543.8,249.3 546.2,254.4 548.6,253.8 550.9,252.4 553.3,254.9 555.7,256.0 558.1,254.4 560.4,253.7 562.8,259.5 565.2,254.5 567.5,256.6 569.9,255.2 572.3,253.2 574.6,256.2 577.0,256.1 579.4,257.9 581.7,256.9 584.1,256.4 586.5,259.4 588.8,256.7 591.2,255.8 593.6,256.4 595.9,256.0 598.3,256.2 600.7,259.1 603.0,257.7 605.4,259.2 607.8,259.0 610.1,256.2 612.5,258.2 614.9,257.4 617.2,257.8 619.6,261.1 622.0,261.6 624.3,260.5 626.7,256.0 629.1,260.9 631.4,260.9 633.8,261.9 636.2,259.2 638.5,257.6 640.9,258.1 643.3,261.7 645.6,262.1 648.0,261.4 650.4,258.5 652.8,259.9 655.1,260.1 657.5,257.3 659.9,258.9 662.2,256.3 664.6,255.8 667.0,253.7 669.3,255.7 671.7,252.0 674.1,253.4 676.4,250.7 678.8,249.7 681.2,250.2 683.5,251.7 685.9,249.7 688.3,249.5 690.6,249.6 693.0,249.7"/>
<polyline class="s" style="marker:url(#m27)" points="510.7,237.2 513.1,236.2 515.4,238.2 517.8,238.1 520.2,238.5 522.5,234.9 524.9,240.0 527.3,237.6 529.6,237.4 532.0,237.7 534.4,237.2 536.7,236.9 539.1,236.8 541.5,238.7 543.8,235.3 546.2,232.9 548.6,235.3 550.9,235.9 553.3,236.9 555.7,238.9 558.1,237.1 560.4,236.5 562.8,240.8 565.2,239.6 567.5,239.5 569.9,237.7 572.3,239.7 574.6,240.7 577.0,237.1 579.4,238.2 581.7,237.8 584.1,241.2 586.5,239.5 588.8,239.8 591.2,238.8 593.6,241.5 595.9,241.1 598.3,241.9 600.7,243.5 603.0,242.0 605.4,242.3 607.8,240.7 610.1,240.7 612.5,241.4 614.9,241.6 617.2,244.2 619.6,243.3 622.0,242.5 624.3,241.1 626.7,244.7 629.1,241.8 631.4,244.7 633.8,244.7 636.2,242.0 638.5,241.8 640.9,243.0 643.3,244.4 645.6,241.3 648.0,241.3 650.4,241.2 652.8,242.7 655.1,243.3 657.5,243.2 659.9,243.2 662.2,238.4 664.6,238.6 667.0,240.6 669.3,241.0 671.7,239.4 674.1,236.9 676.4,236.6 678.8,235.1 681.2,238.7 683.5,237.0 685.9,237.2 688.3,236.5 690.6,235.7 693.0,236.2"/>
<polyline class="s" style="marker:url(#m59)" points="510.7,262.3 513.1,261.0 515.4,262.3 517.8,261.2 520.2,259.8 522.5,260.9 524.9,262.1 527.3,258.7 529.6,260.4 532.0,256.1 534.4,256.1 536.7,259.6 539.1,257.0 541.5,255.9 543.8,257.6 546.2,258.3 548.6,257.0 550.9,260.7 553.3,260.9 555.7,261.3 558.1,261.4 560.4,260.9 562.8,260.2 565.2,263.1 567.5,262.3 569.9,263.5 572.3,262.1 574.6,260.5 577.0,261.4 579.4,261.1 581.7,258.7 584.1,260.3 586.5,261.6 588.8,263.8 591.2,259.8 593.6,261.7 595.9,258.8 598.3,261.1 600.7,264.0 603.0,265.3 605.4,263.7 607.8,264.4 610.1,261.1 612.5,264.0 614.9,258.8 617.2,261.3 619.6,263.7 622.0,260.8 624.3,263.2 626.7,262.8 629.1,262.4 631.4,263.6 633.8,263.9 636.2,260.4 638.5,263.7 640.9,264.0 643.3,265.0 645.6,262.5 648.0,261.3 650.4,263.5 652.8,263.8 655.1,266.2 657.5,263.4 659.9,261.6 662.2,261.4 664.6,263.7 667.0,262.5 669.3,259.7 671.7,262.2 674.1,258.4 676.4,260.2 678.8,259.3 681.2,260.1 683.5,256.7 685.9,257.6 688.3,257.0 690.6,256.4 693.0,255.1"/>
<polyline class="s" style="marker:url(#m61)" points="510.7,258.9 513.1,256.1 515.4,255.7 517.8,255.9 520.2,257.0 522.5,256.7 524.9,255.6 527.3,254.9 529.6,254.8 532.0,253.9 534.4,254.7 536.7,256.6 539.1,254.2 541.5,256.1 543.8,254.2 546.2,250.2 548.6,254.4 550.9,251.7 553.3,254.4 555.7,251.9 558.1,257.8 560.4,255.2 562.8,256.6 565.2,258.5 567.5,256.7 569.9,257.9 572.3,257.5 574.6,259.6 577.0,259.3 579.4,256.5 581.7,255.8 584.1,254.3 586.5,258.6 588.8,258.5 591.2,254.6 593.6,258.9 595.9,256.0 598.3,256.4 600.7,257.3 603.0,257.7 605.4,257.6 607.8,258.2 610.1,255.7 612.5,254.9 614.9,256.1 617.2,257.6 619.6,259.8 622.0,257.2 624.3,255.0 626.7,256.5 629.1,259.8 631.4,259.5 633.8,260.0 636.2,259.2 638.5,262.3 640.9,259.8 643.3,259.7 645.6,258.4 648.0,259.1 650.4,260.2 652.8,258.8 655.1,263.0 657.5,259.1 659.9,258.6 662.2,259.6 664.6,258.6 667.0,255.4 669.3,253.7 671.7,254.4 674.1,255.5 676.4,253.3 678.8,252.5 681.2,252.0 683.5,253.9 685.9,251.5 688.3,252.0 690.6,249.7 693.0,252.4"/>
<polyline class="s" style="marker:url(#m59)" points="510.7,251.4 513.1,251.4 515.4,250.2 517.8,251.3 520.2,249.7 522.5,249.3 524.9,248.1 527.3,249.6 529.6,247.2 532.0,249.6 534.4,248.6 536.7,249.0 539.1,249.1 541.5,248.8 543.8,248.2 546.2,247.3 548.6,245.5 550.9,248.3 553.3,247.9 555.7,249.9 558.1,251.4 560.4,248.9 562.8,249.4 565.2,251.9 567.5,250.1 569.9,249.3 572.3,250.1 574.6,250.6 577.0,249.6 579.4,252.1 581.7,251.1 584.1,253.0 586.5,251.9 588.8,248.0 591.2,251.7 593.6,251.9 595.9,251.6 598.3,248.6 600.7,252.3 603.0,251.5 605.4,249.4 607.8,250.6 610.1,248.9 612.5,250.1 614.9,247.4 617.2,249.8 619.6,249.4 622.0,251.1 624.3,254.7 626.7,251.5 629.1,251.1 631.4,249.7 633.8,251.8 636.2,251.1 638.5,255.4 640.9,253.9 643.3,253.8 645.6,257.9 648.0,255.3 650.4,251.9 652.8,253.8 655.1,249.2 657.5,252.2 659.9,254.5 662.2,255.2 664.6,249.4 667.0,251.5 669.3,250.1 671.7,248.4 674.1,248.5 676.4,247.3 678.8,251.0 681.2,244.2 683.5,249.7 685.9,246.2 688.3,245.8 690.6,246.6 693.0,244.3"/>
<polyline class="s" style="marker:url(#m2)" points="510.7,230.8 513.1,230.5 515.4,232.7 517.8,228.3 520.2,228.3 522.5,232.1 524.9,229.8 527.3,228.0 529.6,227.1 532.0,228.2 534.4,226.9 536.7,229.0 539.1,227.7 541.5,227.2 543.8,226.5 546.2,227.3 548.6,228.5 550.9,227.0 553.3,226.1 555.7,225.3 558.1,225.4 560.4,228.4 562.8,228.6 565.2,229.9 567.5,232.0 569.9,232.7 572.3,230.3 574.6,229.1 577.0,231.2 579.4,228.2 581.7,228.7 584.1,231.7 586.5,232.9 588.8,229.6 591.2,232.4 593.6,232.7 595.9,230.3 598.3,230.4 600.7,232.0 603.0,232.6 605.4,229.6 607.8,228.2 610.1,231.4 612.5,232.7 614.9,230.4 617.2,232.9 619.6,232.4 622.0,231.4 624.3,229.6 626.7,228.9 629.1,234.4 631.4,231.1 633.8,231.7 636.2,232.3 638.5,232.0 640.9,233.5 643.3,232.3 645.6,232.0 648.0,235.3 650.4,230.2 652.8,232.3 655.1,230.4 657.5,230.4 659.9,234.1 662.2,232.0 664.6,230.7 667.0,228.3 669.3,228.1 671.7,226.9 674.1,230.7 676.4,226.6 678.8,229.8 681.2,228.4 683.5,229.2 685.9,228.4 688.3,227.2 690.6,227.4 693.0,224.9"/>
<polyline class="s" style="marker:url(#m60)" points="510.7,249.7 513.1,247.1 515.4,247.1 517.8,246.9 520.2,249.8 522.5,250.7 524.9,246.5 527.3,247.6 529.6,247.7 532.0,245.4 534.4,245.9 536.7,246.1 539.1,248.3 541.5,245.5 543.8,246.1 546.2,246.1 548.6,243.7 550.9,243.1 553.3,246.2 555.7,248.4 558.1,246.3 560.4,245.1 562.8,246.7 565.2,247.0 567.5,244.5 569.9,245.4 572.3,246.4 574.6,245.2 577.0,249.7 579.4,248.5 581.7,249.6 584.1,246.3 586.5,248.4 588.8,247.0 591.2,251.1 593.6,249.9 595.9,252.1 598.3,250.5 600.7,251.9 603.0,249.8 605.4,251.5 607.8,251.1 610.1,252.3 612.5,249.5 614.9,249.7 617.2,247.6 619.6,247.4 622.0,252.0 624.3,247.4 626.7,247.7 629.1,248.3 631.4,245.9 633.8,250.8 636.2,249.5 638.5,252.0 640.9,246.9 643.3,252.1 645.6,254.8 648.0,252.7 650.4,252.1 652.8,255.9 655.1,250.9 657.5,252.4 659.9,251.5 662.2,251.7 664.6,251.0 667.0,251.2 669.3,250.8 671.7,246.8 674.1,248.9 676.4,247.5 678.8,249.5 681.2,247.7 683.5,245.4 685.9,246.4 688.3,244.9 690.6,243.8 693.0,245.2"/>
<polyline class="s" style="marker:url(#m62)" points="510.7,250.7 513.1,251.4 515.4,250.5 517.8,251.1 520.2,252.3 522.5,249.0 524.9,251.9 527.3,250.6 529.6,252.3 532.0,253.3 534.4,251.9 536.7,254.4 539.1,252.7 541.5,252.5 543.8,252.7 546.2,252.5 548.6,253.3 550.9,250.1 553.3,251.1 555.7,250.1 558.1,252.8 560.4,251.2 562.8,253.8 565.2,254.2 567.5,252.1 569.9,255.1 572.3,251.4 574.6,253.2 577.0,254.1 579.4,255.1 581.7,252.6 584.1,254.0 586.5,256.9 588.8,254.4 591.2,257.5 593.6,253.8 595.9,256.4 598.3,254.4 600.7,254.9 603.0,254.0 605.4,254.6 607.8,255.6 610.1,253.0 612.5,256.7 614.9,256.3 617.2,254.5 619.6,254.5 622.0,256.2 624.3,256.6 626.7,256.5 629.1,256.8 631.4,254.9 633.8,257.0 636.2,259.7 638.5,256.8 640.9,255.4 643.3,259.3 645.6,259.5 648.0,256.5 650.4,255.7 652.8,255.8 655.1,255.8 657.5,254.4 659.9,256.4 662.2,256.8 664.6,256.2 667.0,256.4 669.3,250.6 671.7,252.7 674.1,252.9 676.4,251.8 678.8,247.7 681.2,248.8 683.5,248.2 685.9,248.4 688.3,248.2 690.6,248.7 693.0,245.8"/>
<polyline class="s" style="marker:url(#m58)" points="510.7,249.2 513.1,246.2 515.4,244.5 517.8,244.2 520.2,244.6 522.5,243.5 524.9,246.5 527.3,245.8 529.6,244.5 532.0,245.0 534.4,244.4 536.7,244.5 539.1,243.0 541.5,242.7 543.8,243.1 546.2,241.9 548.6,244.5 550.9,245.6 553.3,245.7 555.7,246.8 558.1,248.1 560.4,245.7 562.8,248.1 565.2,250.9 567.5,248.8 569.9,247.3 572.3,251.0 574.6,250.1 577.0,249.0 579.4,249.2 581.7,245.1 584.1,248.6 586.5,247.1 588.8,249.9 591.2,250.7 593.6,253.1 595.9,252.8 598.3,251.2 600.7,250.8 603.0,251.4 605.4,252.2 607.8,251.8 610.1,251.9 612.5,253.0 614.9,249.8 617.2,251.3 619.6,250.5 622.0,250.0 624.3,252.3 626.7,252.3 629.1,247.5 631.4,250.0 633.8,250.1 636.2,253.1 638.5,249.4 640.9,250.9 643.3,247.8 645.6,249.7 648.0,251.8 650.4,250.8 652.8,249.5 655.1,252.0 657.5,245.9 659.9,249.2 662.2,246.8 664.6,246.2 667.0,247.4 669.3,246.1 671.7,246.6 674.1,243.9 676.4,243.3 678.8,243.5 681.2,244.2 683.5,241.8 685.9,242.3 688.3,243.1 690.6,239.8 693.0,241.5"/>
<polyline class="s" style="marker:url(#m49)" points="510.7,235.0 513.1,232.9 515.4,232.3 517.8,235.0 520.2,233.0 522.5,232.1 524.9,232.3 527.3,233.5 529.6,231.1 532.0,229.6 534.4,229.5 536.7,230.9 539.1,227.8 541.5,232.1 543.8,228.2 546.2,231.2 548.6,232.6 550.9,232.9 553.3,231.5 555.7,231.4 558.1,232.5 560.4,234.9 562.8,232.6 565.2,236.3 567.5,233.5 569.9,234.6 572.3,235.5 574.6,234.9 577.0,236.8 579.4,235.4 581.7,239.3 584.1,238.0 586.5,235.8 588.8,237.4 591.2,236.2 593.6,237.0 595.9,238.0 598.3,237.2 600.7,235.9 603.0,235.8 605.4,237.7 607.8,237.8 610.1,238.1 612.5,240.2 614.9,236.5 617.2,238.0 619.6,237.6 622.0,235.7 624.3,238.4 626.7,236.4 629.1,234.6 631.4,238.9 633.8,236.6 636.2,235.8 638.5,235.6 640.9,236.5 643.3,236.7 645.6,236.4 648.0,235.2 650.4,234.5 652.8,236.1 655.1,235.9 657.5,234.6 659.9,235.2 662.2,235.5 664.6,236.6 667.0,238.0 669.3,236.0 671.7,235.2 674.1,234.5 676.4,232.7 678.8,234.1 681.2,231.5 683.5,233.3 685.9,229.9 688.3,231.0 690.6,229.8 693.0,232.3"/>
<polyline class="s" style="marker:url(#m2)" points="510.7,243.9 513.1,239.4 515.4,240.9 517.8,239.1 520.2,241.9 522.5,237.1 524.9,239.3 527.3,242.8 529.6,242.8 532.0,241.0 534.4,239.6 536.7,241.9 539.1,239.3 541.5,241.2 543.8,239.7 546.2,238.6 548.6,240.7 550.9,238.8 553.3,240.9 555.7,240.1 558.1,241.4 560.4,241.3 562.8,240.5 565.2,241.9 567.5,243.0 569.9,243.0 572.3,243.1 574.6,240.2 577.0,242.5 579.4,241.9 581.7,239.9 584.1,241.6 586.5,245.5 588.8,243.3 591.2,242.1 593.6,242.2 595.9,242.8 598.3,243.2 600.7,244.3 603.0,243.6 605.4,243.5 607.8,245.3 610.1,241.9 612.5,241.1 614.9,244.2 617.2,243.1 619.6,244.3 622.0,240.3 624.3,242.4 626.7,244.5 629.1,243.0 631.4,243.5 633.8,243.0 636.2,242.8 638.5,243.7 640.9,243.1 643.3,244.2 645.6,244.1 648.0,247.3 650.4,243.0 652.8,245.3 655.1,244.6 657.5,243.0 659.9,242.1 662.2,243.1 664.6,241.0 667.0,240.8 669.3,240.2 671.7,237.5 674.1,238.7 676.4,237.4 678.8,238.3 681.2,236.8 683.5,239.1 685.9,237.2 688.3,239.6 690.6,234.1 693.0,235.9"/>
<polyline class="s" style="marker:url(#m59)" points="510.7,262.6 515.4,262.7 529.6,259.7 532.0,262.3 534.4,258.5 539.1,258.3 541.5,262.1 558.1,261.0 565.2,260.8 567.5,260.3 586.5,261.0 591.2,265.5 598.3,263.9 605.4,264.3 607.8,264.3 612.5,265.3 617.2,264.0 624.3,267.2 626.7,264.3 638.5,266.7 657.5,263.4 659.9,262.6 662.2,260.2 674.1,257.3 678.8,256.3 683.5,254.5 685.9,251.0 690.6,252.3 693.0,253.7"/>
<polyline class="s" style="marker:url(#m12)" points="510.7,260.5 513.1,259.7 515.4,260.0 520.2,261.2 534.4,260.4 548.6,260.3 550.9,262.7 553.3,258.7 567.5,259.0 572.3,262.2 577.0,264.3 588.8,264.1 598.3,266.2 600.7,266.5 607.8,264.7 610.1,263.7 612.5,265.1 633.8,266.9 645.6,267.1 652.8,268.9 655.1,266.3 659.9,263.6 664.6,263.7 667.0,260.2 669.3,265.3 671.7,261.3 681.2,261.6 683.5,260.6 685.9,260.6 693.0,254.7"/>
<polyline class="s" style="marker:url(#m9)" points="510.7,261.8 515.4,262.6 524.9,260.8 529.6,257.7 532.0,261.3 536.7,259.8 539.1,261.7 550.9,259.4 553.3,259.9 560.4,262.9 565.2,260.4 584.1,263.1 591.2,263.5 593.6,260.7 605.4,266.9 607.8,262.4 610.1,264.8 612.5,263.2 617.2,264.8 619.6,265.6 624.3,268.4 636.2,266.3 643.3,267.5 645.6,267.9 648.0,267.0 652.8,264.1 655.1,264.4 657.5,264.4 659.9,264.0 662.2,265.4 678.8,261.2 685.9,255.5 688.3,253.4 690.6,256.6 693.0,254.8"/>
<polyline class="s" style="marker:url(#m63)" points="510.7,261.1 513.1,261.0 515.4,258.9 522.5,262.8 541.5,260.7 546.2,261.4 567.5,261.4 572.3,262.6 577.0,263.9 581.7,264.7 586.5,264.0 588.8,260.1 610.1,259.6 624.3,268.9 629.1,264.6 633.8,264.3 643.3,267.6 648.0,265.3 657.5,264.5 664.6,263.8 674.1,262.7 676.4,255.1 678.8,260.6 681.2,259.0 683.5,260.3 690.6,254.8 693.0,254.3"/>
<polyline class="s" style="marker:url(#m58)" points="510.7,262.1 524.9,262.3 532.0,259.0 539.1,260.4 548.6,256.6 560.4,259.6 569.9,259.2 577.0,261.8 579.4,263.0 586.5,260.3 588.8,258.8 605.4,258.4 610.1,259.9 633.8,261.1 652.8,263.6 655.1,262.9 657.5,267.4 664.6,263.4 667.0,262.7 674.1,261.4 683.5,258.4 690.6,256.3 693.0,255.5"/>
<polyline class="s" style="marker:url(#m58)" points="510.7,261.4 513.1,263.0 524.9,260.4 532.0,260.5 534.4,261.7 543.8,264.3 546.2,261.7 553.3,263.0 555.7,265.6 558.1,256.4 560.4,260.5 565.2,264.3 569.9,263.4 572.3,263.3 574.6,256.0 577.0,265.5 581.7,266.3 588.8,262.3 593.6,264.6 598.3,263.8 603.0,265.7 619.6,263.7 624.3,269.3 638.5,264.9 652.8,268.1 671.7,259.4 676.4,259.4 683.5,259.4 693.0,254.2"/>
<polyline class="s" style="marker:url(#m63)" points="510.7,250.6 513.1,264.7 522.5,262.5 527.3,261.0 539.1,259.7 546.2,263.8 548.6,261.1 550.9,260.3 553.3,256.4 560.4,259.5 567.5,261.1 569.9,263.2 574.6,261.4 584.1,263.0 586.5,259.3 591.2,261.4 607.8,265.3 617.2,267.0 624.3,264.5 626.7,261.7 636.2,264.1 638.5,265.2 640.9,265.4 643.3,265.2 650.4,269.2 657.5,266.7 683.5,255.6 688.3,255.8 690.6,254.6 693.0,254.1"/>
<polyline class="s" style="marker:url(#m59)" points="510.7,265.6 520.2,264.1 522.5,264.9 553.3,261.6 562.8,266.7 565.2,262.7 569.9,263.6 586.5,266.5 591.2,266.5 595.9,263.2 598.3,265.9 612.5,269.1 626.7,266.1 629.1,265.7 631.4,265.9 650.4,264.3 652.8,265.0 662.2,262.0 664.6,261.1 671.7,260.6 674.1,261.0 676.4,262.0 681.2,259.1 688.3,258.7 693.0,254.1"/>
<polyline class="s" style="marker:url(#m58)" points="510.7,266.3 522.5,265.8 524.9,265.2 527.3,261.2 532.0,260.6 536.7,260.5 541.5,261.1 546.2,262.4 558.1,263.5 560.4,262.7 565.2,256.5 567.5,260.5 572.3,264.0 574.6,259.3 577.0,264.6 584.1,265.5 593.6,264.9 595.9,263.6 614.9,266.7 626.7,266.3 629.1,264.1 638.5,268.6 645.6,266.5 650.4,270.0 652.8,269.6 657.5,265.3 659.9,265.2 662.2,266.9 669.3,262.0 683.5,257.0 688.3,257.3 690.6,256.9 693.0,256.0"/>
<polyline class="s" style="marker:url(#m64)" points="510.7,262.1 515.4,261.1 520.2,261.4 524.9,261.5 529.6,263.0 534.4,262.3 539.1,255.8 541.5,261.6 543.8,264.5 555.7,258.7 560.4,262.4 565.2,260.3 577.0,267.4 579.4,267.9 581.7,265.4 584.1,264.3 591.2,262.6 600.7,263.6 603.0,265.2 614.9,264.4 622.0,260.1 629.1,266.1 640.9,270.8 645.6,266.1 648.0,265.0 657.5,270.1 676.4,263.1 678.8,259.8 683.5,256.6 688.3,259.0 690.6,258.5 693.0,249.9"/>
<polyline class="s" style="marker:url(#m59)" points="510.7,261.4 515.4,261.0 517.8,261.1 522.5,262.2 524.9,262.8 539.1,258.1 541.5,259.6 543.8,260.9 548.6,264.2 555.7,259.3 562.8,259.7 565.2,262.5 569.9,264.1 581.7,260.7 584.1,263.4 598.3,263.6 605.4,268.9 614.9,262.3 624.3,263.8 629.1,264.2 638.5,261.0 648.0,265.2 650.4,262.3 657.5,264.6 662.2,260.7 664.6,262.8 669.3,263.4 678.8,258.9 683.5,258.7 685.9,250.4 688.3,256.3 693.0,251.6"/>
<polyline class="s" style="marker:url(#m12)" points="510.7,261.6 513.1,259.5 520.2,265.2 522.5,259.8 524.9,259.5 536.7,265.0 541.5,260.0 548.6,261.3 553.3,260.9 558.1,261.0 565.2,261.4 577.0,265.2 593.6,262.5 595.9,265.8 598.3,265.9 603.0,262.9 607.8,264.6 617.2,266.1 624.3,265.5 626.7,265.0 636.2,263.6 650.4,264.3 671.7,262.0 681.2,259.7 688.3,255.7 693.0,255.6"/>
<polyline class="s" style="marker:url(#m9)" points="510.7,261.8 513.1,261.9 515.4,259.0 522.5,259.7 532.0,260.7 541.5,260.4 543.8,259.6 553.3,259.7 558.1,261.8 562.8,260.0 572.3,262.1 577.0,262.9 588.8,263.4 591.2,264.4 605.4,266.8 610.1,263.7 612.5,263.5 617.2,265.3 626.7,264.3 629.1,267.5 631.4,267.1 645.6,268.8 650.4,266.4 652.8,266.3 657.5,264.0 662.2,263.7 667.0,262.8 669.3,259.8 671.7,261.1 681.2,256.9 685.9,258.1 690.6,256.2 693.0,257.4"/>
<polyline class="s" style="marker:url(#m63)" points="510.7,259.7 515.4,267.0 522.5,259.2 527.3,259.5 534.4,261.6 536.7,257.5 539.1,260.3 546.2,259.0 548.6,259.2 553.3,258.5 555.7,253.3 558.1,260.7 567.5,261.5 574.6,262.9 577.0,265.2 579.4,262.6 584.1,266.3 591.2,263.2 593.6,265.3 598.3,265.2 600.7,268.9 607.8,268.9 612.5,264.5 624.3,266.2 626.7,266.1 629.1,266.0 631.4,267.7 633.8,264.6 636.2,265.9 645.6,263.8 652.8,265.4 659.9,263.7 664.6,263.5 667.0,261.6 683.5,256.4 693.0,252.5"/>
<polyline class="s" style="marker:url(#m58)" points="510.7,259.0 513.1,260.6 520.2,259.5 522.5,260.8 529.6,257.4 536.7,258.7 541.5,257.8 543.8,255.3 546.2,260.1 555.7,260.7 577.0,262.2 598.3,263.0 600.7,264.5 612.5,264.8 617.2,261.6 622.0,265.0 624.3,265.1 629.1,267.4 633.8,265.8 636.2,264.9 648.0,265.9 657.5,264.2 662.2,262.1 681.2,258.8 683.5,253.3 688.3,254.2 690.6,254.6 693.0,254.8"/>
<polyline class="s" style="marker:url(#m58)" points="510.7,261.9 517.8,264.7 520.2,257.3 522.5,263.1 524.9,260.8 529.6,261.3 534.4,263.4 541.5,260.4 562.8,262.4 572.3,263.1 581.7,263.7 584.1,266.5 586.5,265.8 588.8,263.0 591.2,264.6 600.7,266.1 607.8,263.7 629.1,265.8 636.2,267.2 638.5,266.2 640.9,267.0 643.3,266.2 648.0,265.9 650.4,269.3 652.8,266.1 655.1,268.8 657.5,265.8 659.9,261.9 667.0,260.5 671.7,258.8 674.1,263.1 688.3,255.3 690.6,256.5 693.0,255.0"/>
<polyline class="s" style="marker:url(#m63)" points="510.7,258.1 513.1,263.8 515.4,261.4 524.9,261.4 532.0,256.0 534.4,261.3 553.3,260.5 567.5,256.9 569.9,260.7 579.4,257.6 581.7,261.8 595.9,259.1 607.8,266.0 610.1,261.9 614.9,261.5 622.0,259.1 624.3,260.6 633.8,262.7 640.9,267.0 643.3,265.0 645.6,265.1 650.4,265.7 652.8,265.5 662.2,265.1 667.0,261.7 671.7,262.6 674.1,260.9 681.2,258.9 685.9,255.6 688.3,255.7 693.0,254.2"/>
<polyline class="s" style="marker:url(#m59)" points="510.7,261.6 515.4,266.9 517.8,262.6 520.2,261.9 536.7,261.7 569.9,261.4 572.3,264.6 574.6,263.5 593.6,267.0 598.3,264.9 619.6,269.1 624.3,273.1 629.1,265.7 631.4,267.8 638.5,266.3 643.3,267.2 650.4,267.8 659.9,267.5 662.2,264.7 671.7,261.1 678.8,258.5 683.5,258.2 685.9,258.0 693.0,257.0"/>
<polyline class="s" style="marker:url(#m58)" points="510.7,261.4 520.2,261.9 532.0,260.4 536.7,258.2 543.8,259.3 555.7,261.3 562.8,264.2 572.3,263.6 584.1,263.6 595.9,261.7 603.0,263.8 612.5,264.3 619.6,262.8 624.3,264.7 626.7,261.1 633.8,264.7 636.2,264.7 645.6,264.9 650.4,266.4 655.1,265.2 657.5,266.8 664.6,265.8 671.7,263.5 685.9,257.2 688.3,255.3 693.0,257.8"/>
<polyline class="s" style="marker:url(#m64)" points="510.7,260.7 515.4,259.2 553.3,259.0 558.1,261.1 567.5,261.7 574.6,256.0 579.4,262.0 581.7,262.3 591.2,262.4 603.0,262.0 605.4,260.1 614.9,261.2 619.6,263.9 626.7,263.9 636.2,262.1 638.5,264.0 643.3,264.7 648.0,266.5 652.8,265.2 664.6,264.1 671.7,261.3 674.1,261.6 690.6,256.9 693.0,256.5"/>
<polyline class="s" style="marker:url(#m27)" points="510.7,230.2 513.1,231.8 515.4,227.5 517.8,230.6 520.2,231.9 522.5,230.6 524.9,229.5 527.3,228.9 529.6,227.5 532.0,230.5 534.4,227.4 536.7,229.8 539.1,229.3 541.5,231.4 543.8,229.7 546.2,229.9 548.6,230.7 550.9,228.6 553.3,229.1 555.7,229.9 558.1,230.0 560.4,229.3 562.8,230.1 565.2,232.0 567.5,231.1 569.9,230.1 572.3,228.7 574.6,231.5 577.0,231.4 579.4,234.6 581.7,231.4 584.1,232.7 586.5,234.7 588.8,237.0 591.2,234.7 593.6,233.4 595.9,233.5 598.3,231.5 600.7,236.1 603.0,231.9 605.4,234.6 607.8,231.4 610.1,232.7 612.5,231.8 614.9,234.8 617.2,233.6 619.6,233.4 622.0,230.2 624.3,232.7 626.7,232.6 629.1,232.3 631.4,234.7 633.8,233.3 636.2,231.0 638.5,234.8 640.9,234.8 643.3,235.5 645.6,235.4 648.0,238.4 650.4,236.5 652.8,236.5 655.1,232.9 657.5,233.9 659.9,234.5 662.2,237.2 664.6,234.1 667.0,233.8 669.3,233.3 671.7,232.9 674.1,234.4 676.4,232.9 678.8,227.4 681.2,231.0 683.5,230.5 685.9,232.0 688.3,226.9 690.6,226.2 693.0,227.4"/>
<polyline class="s" style="marker:url(#m65)" points="510.7,231.9 513.1,234.9 515.4,229.0 517.8,231.5 520.2,233.7 522.5,235.0 524.9,230.1 527.3,234.7 529.6,230.3 532.0,229.4 534.4,230.4 536.7,227.0 539.1,229.4 541.5,229.9 543.8,227.7 546.2,227.9 548.6,231.9 550.9,230.8 553.3,227.6 555.7,234.6 558.1,234.4 560.4,230.0 562.8,234.5 565.2,232.6 567.5,233.7 569.9,232.6 572.3,234.9 574.6,237.0 577.0,231.4 579.4,235.0 581.7,233.3 584.1,234.1 586.5,230.1 588.8,231.7 591.2,230.7 593.6,232.7 595.9,231.8 598.3,236.8 600.7,235.6 603.0,231.9 605.4,230.8 607.8,235.4 610.1,235.1 612.5,235.1 614.9,236.8 617.2,235.7 619.6,235.2 622.0,240.5 624.3,235.2 626.7,240.6 629.1,238.6 631.4,239.0 633.8,237.1 636.2,238.7 638.5,233.7 640.9,236.6 643.3,239.3 645.6,239.2 648.0,235.5 650.4,237.9 652.8,235.6 655.1,233.7 657.5,236.2 659.9,235.9 662.2,236.0 664.6,236.3 667.0,234.6 669.3,231.2 671.7,235.1 674.1,234.3 676.4,237.5 678.8,233.3 681.2,233.8 683.5,234.1 685.9,234.7 688.3,231.3 690.6,234.5 693.0,230.8"/>
<polyline class="s" style="marker:url(#m66)" points="510.7,237.6 513.1,237.1 515.4,232.6 517.8,235.4 520.2,235.0 522.5,231.0 524.9,237.6 527.3,237.9 529.6,236.5 532.0,229.8 534.4,233.4 536.7,232.1 539.1,229.1 541.5,233.2 543.8,231.3 546.2,233.0 548.6,234.7 550.9,231.1 553.3,230.8 555.7,231.7 558.1,230.0 560.4,233.0 562.8,232.6 565.2,231.8 567.5,230.3 569.9,231.6 572.3,236.0 574.6,232.4 577.0,231.8 579.4,234.4 581.7,233.9 584.1,237.5 586.5,235.4 588.8,236.0 591.2,234.5 593.6,232.6 595.9,235.8 598.3,232.0 600.7,234.2 603.0,234.6 605.4,232.9 607.8,234.7 610.1,228.8 612.5,236.5 614.9,235.0 617.2,238.2 619.6,237.8 622.0,236.6 624.3,235.1 626.7,234.2 629.1,234.1 631.4,235.6 633.8,235.7 636.2,235.1 638.5,238.1 640.9,239.3 643.3,238.4 645.6,236.6 648.0,235.1 650.4,240.9 652.8,235.2 655.1,235.6 657.5,237.7 659.9,236.3 662.2,237.9 664.6,233.4 667.0,234.2 669.3,233.1 671.7,230.6 674.1,228.6 676.4,233.8 678.8,235.1 681.2,233.1 683.5,232.3 685.9,234.6 688.3,233.5 690.6,231.4 693.0,232.7"/>
<polyline class="s" style="marker:url(#m49)" points="510.7,231.6 513.1,233.4 524.9,232.6 527.3,234.5 529.6,232.8 532.0,231.0 550.9,232.7 565.2,232.8 572.3,234.5 579.4,234.4 586.5,235.7 591.2,232.5 598.3,230.9 600.7,232.8 605.4,232.7 607.8,234.6 624.3,233.9 629.1,235.1 636.2,234.9 643.3,236.2 648.0,240.5 657.5,235.0 693.0,230.5"/>
<polyline class="s" style="marker:url(#m67)" points="510.7,226.9 524.9,226.7 532.0,229.9 541.5,229.5 562.8,230.1 572.3,229.2 574.6,230.8 598.3,234.9 605.4,233.6 614.9,234.0 617.2,234.5 631.4,233.4 633.8,235.7 643.3,235.6 655.1,234.9 659.9,234.1 664.6,234.2 674.1,232.5 676.4,232.4 678.8,230.0 693.0,228.1"/>
<polyline class="s" style="marker:url(#m68)" points="510.7,232.1 513.1,232.2 522.5,229.8 527.3,234.1 534.4,232.5 536.7,231.1 539.1,230.1 548.6,232.4 555.7,231.9 558.1,231.6 562.8,233.6 565.2,232.1 572.3,232.2 577.0,233.2 595.9,235.1 603.0,235.2 605.4,234.7 612.5,234.1 629.1,238.6 631.4,233.1 633.8,236.8 643.3,238.5 683.5,229.3 688.3,228.9 693.0,228.6"/>
<polyline class="s" style="marker:url(#m2)" points="510.7,234.8 515.4,232.8 527.3,230.8 534.4,230.1 548.6,230.4 555.7,230.5 574.6,230.4 598.3,234.5 600.7,236.7 610.1,237.0 614.9,236.0 629.1,236.2 643.3,235.2 648.0,236.7 657.5,233.6 664.6,234.6 674.1,233.6 678.8,231.0 690.6,230.4 693.0,232.1"/>
<polyline class="s" style="marker:url(#m27)" points="510.7,233.5 515.4,233.0 522.5,229.9 529.6,230.0 536.7,230.7 541.5,230.2 553.3,228.0 558.1,230.5 565.2,231.6 567.5,231.8 569.9,232.1 584.1,229.9 586.5,232.9 595.9,231.4 605.4,231.1 638.5,231.5 643.3,235.1 648.0,234.0 652.8,233.0 659.9,233.4 662.2,234.8 671.7,231.8 683.5,229.2 693.0,227.1"/>
<polyline class="s" style="marker:url(#m65)" points="510.7,231.0 513.1,230.1 515.4,230.4 520.2,227.6 543.8,229.2 550.9,228.1 567.5,231.2 584.1,230.3 588.8,230.6 591.2,231.1 593.6,234.0 598.3,233.6 607.8,231.2 610.1,232.3 617.2,232.6 622.0,233.6 624.3,230.9 640.9,232.6 643.3,235.5 652.8,233.4 662.2,231.5 674.1,230.5 676.4,231.4 683.5,229.4 685.9,233.2 688.3,229.2 693.0,229.4"/>
<polyline class="s" style="marker:url(#m66)" points="510.7,230.0 555.7,228.5 558.1,233.2 569.9,231.6 574.6,229.7 577.0,229.5 584.1,232.7 588.8,232.9 603.0,231.2 617.2,235.2 624.3,234.4 626.7,232.5 631.4,235.9 643.3,237.3 657.5,236.6 659.9,236.5 667.0,235.8 681.2,230.6 685.9,229.8 688.3,231.0 693.0,229.6"/>
<polyline class="s" style="marker:url(#m65)" points="510.7,233.9 532.0,233.0 543.8,229.6 546.2,230.8 553.3,231.5 558.1,229.9 560.4,231.2 562.8,229.6 567.5,230.3 577.0,232.2 579.4,230.6 581.7,231.0 595.9,232.1 600.7,230.9 603.0,232.4 614.9,234.4 619.6,235.1 631.4,234.8 640.9,236.2 643.3,233.6 645.6,235.6 652.8,234.0 657.5,232.2 659.9,231.9 669.3,233.2 676.4,231.5 678.8,230.5 693.0,230.4"/>
<polyline class="s" style="marker:url(#m49)" points="510.7,231.3 513.1,230.7 539.1,229.6 555.7,232.1 565.2,230.7 569.9,231.6 574.6,230.9 598.3,234.0 600.7,231.0 605.4,231.2 607.8,233.3 617.2,234.0 629.1,231.3 636.2,234.5 638.5,235.4 640.9,232.9 643.3,237.9 655.1,234.9 662.2,236.8 667.0,234.0 674.1,236.4 693.0,229.4"/>
<polyline class="s" style="marker:url(#m24)" points="510.7,233.7 520.2,230.8 522.5,230.1 524.9,229.9 529.6,230.0 546.2,230.3 550.9,230.0 553.3,230.2 562.8,230.6 591.2,232.8 593.6,231.3 598.3,232.3 603.0,229.4 617.2,230.8 622.0,232.6 626.7,234.3 650.4,234.6 678.8,232.4 693.0,229.4"/>
<polyline class="s" style="marker:url(#m46)" points="510.7,232.6 515.4,231.2 520.2,231.7 529.6,230.9 534.4,227.6 543.8,228.4 560.4,230.7 567.5,230.0 574.6,226.5 584.1,229.2 612.5,229.9 626.7,232.6 640.9,232.8 655.1,232.9 667.0,232.6 669.3,234.1 676.4,232.7 678.8,234.0 681.2,235.5 683.5,232.7 693.0,231.5"/>
<polyline class="s" style="marker:url(#m57)" points="510.7,231.7 513.1,230.1 517.8,231.0 536.7,230.5 539.1,231.0 543.8,230.4 546.2,231.3 550.9,231.4 555.7,231.6 560.4,231.3 569.9,231.6 584.1,232.3 593.6,230.3 605.4,232.6 617.2,234.4 619.6,230.5 622.0,235.8 624.3,232.3 631.4,234.5 636.2,235.0 643.3,234.1 652.8,236.3 664.6,232.6 669.3,233.3 693.0,227.1"/>
<polyline class="s" style="marker:url(#m51)" points="510.7,229.3 513.1,230.9 515.4,230.5 517.8,227.4 527.3,228.7 532.0,230.4 534.4,228.1 539.1,230.6 558.1,230.8 567.5,232.0 577.0,231.3 588.8,231.8 593.6,231.0 598.3,234.0 603.0,230.9 605.4,230.6 619.6,232.3 624.3,231.7 629.1,234.3 633.8,233.7 640.9,237.0 650.4,236.8 655.1,233.8 662.2,235.0 664.6,234.4 676.4,232.2 688.3,229.5 693.0,228.7"/>
<polyline class="s" style="marker:url(#m7)" points="510.7,232.1 515.4,229.3 517.8,232.1 524.9,231.3 529.6,231.3 534.4,230.3 562.8,230.4 567.5,230.9 574.6,233.1 584.1,232.3 598.3,232.6 605.4,234.6 612.5,235.8 614.9,233.0 619.6,232.9 638.5,236.5 640.9,238.7 652.8,235.8 657.5,235.5 667.0,233.1 676.4,232.0 681.2,230.0 685.9,229.0 693.0,229.8"/>
<polyline class="s" style="marker:url(#m27)" points="510.7,230.1 515.4,230.3 517.8,234.4 527.3,232.9 529.6,234.0 532.0,235.0 543.8,232.7 550.9,232.6 555.7,234.6 581.7,235.0 600.7,234.1 605.4,232.7 614.9,234.7 619.6,234.7 622.0,236.2 626.7,233.6 629.1,234.4 655.1,235.1 662.2,232.4 664.6,234.7 667.0,231.8 674.1,232.3 676.4,233.4 685.9,232.9 693.0,230.4"/>
<polyline class="s" style="marker:url(#m61)" points="510.7,231.6 515.4,228.3 517.8,228.5 520.2,228.9 534.4,229.3 541.5,226.9 546.2,225.9 558.1,230.4 562.8,230.0 567.5,231.6 569.9,234.4 593.6,232.3 600.7,235.5 607.8,232.6 610.1,233.2 617.2,234.0 626.7,234.5 629.1,234.7 638.5,236.6 657.5,232.2 671.7,231.9 693.0,226.4"/>
<polyline class="s" style="marker:url(#m4)" points="510.7,233.2 527.3,229.6 532.0,231.6 541.5,228.7 555.7,229.6 562.8,231.3 567.5,233.3 572.3,230.4 579.4,230.2 584.1,234.0 586.5,231.1 591.2,233.3 598.3,230.7 607.8,233.3 617.2,236.7 652.8,236.1 655.1,236.1 662.2,233.5 664.6,233.3 681.2,229.8 693.0,227.6"/>
<polyline class="s" style="marker:url(#m66)" points="510.7,234.0 515.4,233.4 529.6,231.0 534.4,231.7 546.2,229.4 548.6,230.5 550.9,229.3 555.7,230.2 558.1,229.2 562.8,227.3 579.4,230.6 581.7,233.3 584.1,233.7 588.8,234.0 591.2,232.9 595.9,233.5 603.0,232.0 605.4,233.1 629.1,234.1 631.4,236.7 648.0,235.3 650.4,235.6 652.8,237.4 657.5,234.8 659.9,235.7 662.2,235.0 667.0,235.3 674.1,233.9 683.5,231.1 690.6,232.6 693.0,228.5"/>
<polyline class="s" style="marker:url(#m2)" points="510.7,231.0 513.1,230.5 527.3,230.2 532.0,227.1 555.7,228.9 560.4,230.7 591.2,232.4 605.4,231.6 612.5,231.2 626.7,232.3 633.8,230.3 636.2,236.6 638.5,233.9 650.4,234.5 659.9,233.0 671.7,230.7 685.9,229.7 688.3,227.8 693.0,229.1"/>
<polyline class="s" style="marker:url(#m66)" points="510.7,227.8 532.0,228.7 550.9,231.3 562.8,229.6 567.5,230.0 584.1,231.8 586.5,232.8 588.8,234.6 598.3,231.9 605.4,233.6 607.8,233.5 617.2,234.4 624.3,235.5 629.1,234.3 633.8,231.7 640.9,234.7 664.6,232.7 667.0,234.4 674.1,230.8 683.5,229.3 688.3,228.5 690.6,229.6 693.0,230.4"/>
<polyline class="s" style="marker:url(#m7)" points="510.7,232.5 520.2,230.1 524.9,230.3 529.6,230.0 543.8,227.9 553.3,228.5 558.1,228.0 562.8,231.4 577.0,233.3 591.2,232.3 593.6,230.6 600.7,234.8 614.9,233.9 617.2,232.7 619.6,235.2 631.4,233.3 636.2,234.1 662.2,233.1 678.8,228.3 683.5,225.9 690.6,226.8 693.0,227.5"/>
<polyline class="s" style="marker:url(#m27)" points="510.7,231.0 529.6,231.7 539.1,230.3 541.5,232.6 565.2,230.8 567.5,234.1 569.9,234.5 572.3,232.9 577.0,233.0 586.5,232.7 593.6,232.1 595.9,232.6 598.3,233.4 600.7,233.7 610.1,233.9 614.9,235.1 617.2,233.5 619.6,233.7 622.0,235.4 626.7,234.9 629.1,235.9 636.2,235.8 645.6,235.4 655.1,236.0 657.5,235.6 659.9,234.2 664.6,232.5 683.5,231.0 693.0,230.9"/>
<polyline class="s" style="marker:url(#m61)" points="510.7,227.0 515.4,229.0 536.7,227.2 539.1,227.1 543.8,227.2 558.1,228.0 565.2,227.8 567.5,227.2 577.0,230.2 579.4,231.1 584.1,231.6 586.5,231.1 588.8,229.9 591.2,228.1 612.5,232.1 617.2,233.1 624.3,232.6 631.4,232.1 640.9,231.9 657.5,233.7 659.9,234.6 662.2,232.6 664.6,229.6 671.7,229.9 676.4,228.8 678.8,227.3 683.5,228.2 685.9,228.1 690.6,226.6 693.0,227.6"/>
<polyline class="s" style="marker:url(#m65)" points="510.7,229.0 513.1,226.9 515.4,228.6 522.5,227.8 524.9,227.7 529.6,228.8 534.4,230.5 546.2,230.0 548.6,228.6 558.1,231.6 581.7,235.7 591.2,233.7 595.9,235.2 598.3,235.5 600.7,233.1 607.8,234.9 612.5,236.9 614.9,234.3 622.0,236.2 624.3,234.9 629.1,235.9 631.4,235.9 633.8,235.6 638.5,235.7 648.0,234.9 650.4,232.6 655.1,230.8 662.2,230.2 671.7,233.2 674.1,231.4 681.2,227.9 685.9,229.6 693.0,227.6"/>
<polyline class="s" style="marker:url(#m51)" points="510.7,233.3 513.1,230.7 524.9,230.1 546.2,229.6 548.6,229.4 555.7,227.2 562.8,230.9 565.2,229.9 572.3,232.0 577.0,232.1 579.4,231.9 581.7,232.0 588.8,233.3 593.6,231.8 598.3,235.2 614.9,234.9 617.2,233.4 622.0,234.9 626.7,233.5 633.8,235.8 638.5,235.4 674.1,231.0 681.2,232.6 688.3,229.4 693.0,227.2"/>
<polyline class="s" style="marker:url(#m4)" points="510.7,232.3 515.4,231.4 522.5,229.6 529.6,227.5 534.4,228.8 546.2,227.1 548.6,227.5 553.3,232.0 555.7,229.8 565.2,230.6 567.5,233.4 572.3,229.8 579.4,232.8 586.5,230.5 595.9,234.1 603.0,234.0 605.4,233.1 610.1,234.4 622.0,234.4 626.7,232.3 633.8,234.3 636.2,237.8 640.9,232.8 648.0,233.3 650.4,233.6 657.5,231.0 662.2,233.8 669.3,232.3 671.7,233.1 690.6,228.8 693.0,228.1"/>
<polyline class="s" style="marker:url(#m49)" points="510.7,230.3 520.2,230.8 524.9,228.1 536.7,227.1 548.6,227.2 553.3,229.7 558.1,228.0 565.2,230.8 584.1,228.8 588.8,231.8 595.9,233.4 612.5,232.3 614.9,230.9 617.2,230.2 626.7,233.0 631.4,232.8 636.2,232.7 648.0,234.9 650.4,232.8 664.6,233.3 669.3,231.1 676.4,231.2 683.5,229.4 685.9,230.5 693.0,229.4"/>
<polyline class="s" style="marker:url(#m68)" points="510.7,230.6 515.4,229.4 534.4,227.6 543.8,228.8 548.6,230.3 560.4,228.4 565.2,232.6 572.3,231.2 577.0,231.5 584.1,235.1 593.6,232.8 600.7,235.1 607.8,232.2 610.1,233.8 614.9,235.6 619.6,234.3 624.3,233.1 631.4,230.6 638.5,232.7 640.9,234.2 648.0,236.8 662.2,234.6 669.3,231.1 671.7,234.7 674.1,232.3 676.4,233.3 678.8,234.3 681.2,233.2 693.0,229.4"/>
<polyline class="s" style="marker:url(#m66)" points="510.7,230.4 527.3,228.8 532.0,228.7 534.4,229.5 536.7,229.7 539.1,230.7 546.2,230.4 560.4,230.0 567.5,230.7 569.9,232.8 577.0,232.0 579.4,232.3 591.2,232.0 595.9,231.7 600.7,230.9 605.4,232.9 612.5,234.8 614.9,234.4 617.2,233.9 622.0,230.4 626.7,233.6 636.2,233.9 643.3,235.5 652.8,232.6 655.1,235.1 671.7,228.9 683.5,228.5 685.9,226.6 693.0,227.8"/>
<polyline class="s" style="marker:url(#m27)" points="510.7,229.9 517.8,230.9 522.5,229.0 524.9,233.0 527.3,228.0 534.4,232.4 539.1,230.9 543.8,229.8 558.1,229.4 565.2,233.2 569.9,232.2 579.4,233.5 588.8,230.1 605.4,231.8 607.8,232.1 610.1,235.3 612.5,235.5 617.2,234.1 622.0,234.2 636.2,236.3 645.6,235.7 648.0,236.2 650.4,235.6 657.5,234.6 662.2,234.5 669.3,231.7 671.7,229.0 674.1,230.2 676.4,229.6 688.3,227.6 693.0,228.8"/>
<polyline class="s" style="marker:url(#m24)" points="510.7,231.1 515.4,230.1 517.8,230.2 520.2,231.3 524.9,229.1 541.5,227.7 548.6,229.7 560.4,227.4 574.6,232.0 579.4,231.8 581.7,231.1 588.8,231.0 600.7,231.8 607.8,232.2 629.1,233.8 643.3,232.3 645.6,234.5 657.5,235.7 659.9,232.1 664.6,235.0 674.1,232.5 678.8,230.3 681.2,232.8 683.5,231.5 690.6,226.5 693.0,228.1"/>
<polyline class="s" style="marker:url(#m65)" points="510.7,233.2 517.8,229.9 520.2,231.0 522.5,230.0 527.3,229.6 539.1,227.6 548.6,228.6 550.9,228.7 567.5,228.9 572.3,231.5 574.6,231.8 577.0,228.9 579.4,230.3 588.8,230.7 593.6,231.5 614.9,230.9 636.2,234.3 638.5,233.1 640.9,234.0 643.3,235.8 645.6,232.6 648.0,234.2 652.8,233.7 655.1,232.1 659.9,233.1 664.6,228.9 671.7,228.2 674.1,228.0 676.4,227.5 678.8,228.9 693.0,225.1"/>
<polyline class="s" style="marker:url(#m46)" points="510.7,233.2 517.8,231.9 522.5,232.4 536.7,231.5 553.3,232.3 555.7,232.4 560.4,233.8 584.1,234.9 600.7,235.6 603.0,236.5 605.4,236.4 624.3,237.0 626.7,236.4 629.1,236.1 633.8,239.5 648.0,235.6 659.9,234.2 664.6,233.4 671.7,233.1 676.4,232.7 678.8,232.6 681.2,228.8 693.0,229.9"/>
<polyline class="s" style="marker:url(#m49)" points="510.7,232.8 520.2,229.6 527.3,229.9 529.6,229.8 543.8,230.1 553.3,231.1 555.7,230.7 558.1,231.4 562.8,229.7 567.5,229.7 579.4,230.4 581.7,229.8 603.0,231.1 619.6,229.3 631.4,231.5 648.0,232.2 652.8,232.1 655.1,234.3 664.6,232.4 667.0,230.9 674.1,232.1 676.4,230.8 685.9,231.6 693.0,230.8"/>
<polyline class="s" style="marker:url(#m57)" points="510.7,231.7 515.4,232.6 517.8,230.2 532.0,232.0 539.1,230.6 541.5,231.4 546.2,230.9 550.9,229.0 562.8,230.6 572.3,232.0 584.1,233.0 588.8,231.3 593.6,233.1 624.3,232.4 629.1,234.4 636.2,232.6 652.8,234.4 657.5,234.2 662.2,233.2 678.8,229.6 681.2,229.6 683.5,229.4 693.0,229.9"/>
<polyline class="s" style="marker:url(#m67)" points="510.7,232.2 513.1,232.4 522.5,231.5 529.6,232.5 539.1,230.2 553.3,230.9 555.7,231.2 579.4,232.5 593.6,235.3 595.9,233.7 598.3,232.8 600.7,234.4 610.1,232.4 617.2,232.7 631.4,236.2 633.8,236.1 636.2,234.0 640.9,235.7 652.8,235.4 671.7,231.3 681.2,230.5 685.9,231.4 693.0,229.7"/>
<polyline class="s" style="marker:url(#m66)" points="510.7,254.6 513.1,255.5 515.4,255.1 517.8,255.0 520.2,253.4 522.5,254.2 524.9,259.2 527.3,257.6 529.6,255.3 532.0,253.5 534.4,254.4 536.7,255.3 539.1,259.2 541.5,252.6 543.8,254.0 546.2,253.3 548.6,256.3 550.9,253.1 553.3,252.5 555.7,253.3 558.1,251.7 560.4,254.4 562.8,254.5 565.2,253.8 567.5,252.6 569.9,255.8 572.3,252.6 574.6,254.0 577.0,255.7 579.4,256.5 581.7,252.9 584.1,254.6 586.5,254.5 588.8,254.5 591.2,257.4 593.6,252.8 595.9,254.4 598.3,255.3 600.7,252.2 603.0,254.1 605.4,257.2 607.8,256.6 610.1,257.3 612.5,258.5 614.9,256.0 617.2,259.5 619.6,261.7 622.0,261.0 624.3,261.6 626.7,253.7 629.1,255.2 631.4,260.5 633.8,256.6 636.2,261.1 638.5,260.8 640.9,260.4 643.3,260.2 645.6,258.0 648.0,256.5 650.4,257.9 652.8,260.5 655.1,254.8 657.5,257.5 659.9,260.3 662.2,257.5 664.6,255.1 667.0,255.0 669.3,256.1 671.7,252.3 674.1,255.8 676.4,252.8 678.8,251.2 681.2,253.4 683.5,253.0 685.9,249.3 688.3,252.5 690.6,248.9 693.0,253.4"/>
<polyline class="s" style="marker:url(#m66)" points="510.7,252.3 513.1,251.9 515.4,251.5 517.8,251.2 520.2,254.1 522.5,252.4 524.9,251.2 527.3,251.5 529.6,250.3 532.0,253.6 534.4,250.9 536.7,252.8 539.1,248.1 541.5,252.1 543.8,251.2 546.2,250.7 548.6,247.0 550.9,249.8 553.3,251.7 555.7,251.9 558.1,250.7 560.4,252.3 562.8,250.7 565.2,250.4 567.5,253.0 569.9,254.0 572.3,255.7 574.6,248.2 577.0,249.7 579.4,250.1 581.7,253.0 584.1,255.0 586.5,248.2 588.8,250.5 591.2,252.5 593.6,253.1 595.9,252.3 598.3,251.3 600.7,255.0 603.0,247.2 605.4,255.2 607.8,251.0 610.1,250.8 612.5,255.7 614.9,250.8 617.2,253.3 619.6,253.4 622.0,250.5 624.3,252.1 626.7,257.3 629.1,251.9 631.4,253.9 633.8,254.6 636.2,250.1 638.5,254.7 640.9,255.5 643.3,253.8 645.6,254.8 648.0,252.7 650.4,254.0 652.8,251.4 655.1,254.3 657.5,253.3 659.9,254.4 662.2,252.0 664.6,251.4 667.0,255.8 669.3,252.8 671.7,248.8 674.1,252.0 676.4,247.9 678.8,248.8 681.2,247.8 683.5,248.5 685.9,248.5 688.3,248.5 690.6,246.1 693.0,242.0"/>
<polyline class="s" style="marker:url(#m69)" points="510.7,259.4 513.1,254.6 515.4,257.9 520.2,254.9 522.5,258.5 527.3,259.6 532.0,260.1 534.4,253.3 536.7,260.7 539.1,255.3 541.5,257.2 543.8,260.0 546.2,258.5 550.9,258.2 553.3,257.6 558.1,258.4 560.4,255.9 562.8,256.9 565.2,261.5 567.5,261.4 569.9,256.8 574.6,262.6 577.0,261.5 584.1,262.3 586.5,264.6 588.8,262.4 591.2,264.3 593.6,263.8 595.9,262.3 598.3,262.1 600.7,263.5 603.0,261.1 605.4,261.3 607.8,260.9 610.1,261.2 614.9,260.2 617.2,265.5 622.0,265.0 624.3,263.9 626.7,264.6 629.1,260.8 631.4,268.0 636.2,267.7 638.5,265.3 640.9,265.0 643.3,264.0 645.6,267.1 648.0,266.2 650.4,266.8 652.8,267.2 655.1,266.8 657.5,263.1 662.2,261.1 664.6,262.4 667.0,261.7 671.7,256.5 681.2,257.5 683.5,255.4 685.9,253.3 688.3,254.6 690.6,253.4 693.0,250.4"/>
<polyline class="s" style="marker:url(#m69)" points="510.7,254.0 515.4,256.6 517.8,254.8 520.2,258.4 522.5,256.2 524.9,254.1 527.3,255.5 532.0,256.3 539.1,252.5 541.5,253.9 543.8,253.3 546.2,258.8 548.6,257.4 550.9,258.2 553.3,256.7 555.7,259.4 558.1,259.6 562.8,262.2 565.2,260.0 572.3,262.1 574.6,261.5 579.4,258.3 581.7,261.3 584.1,261.3 588.8,259.6 591.2,260.1 593.6,260.1 598.3,260.5 600.7,261.8 603.0,257.8 605.4,257.8 610.1,257.7 612.5,260.2 614.9,263.1 619.6,260.4 622.0,261.4 624.3,258.4 626.7,263.0 629.1,258.6 631.4,262.8 633.8,261.7 636.2,263.9 638.5,262.1 640.9,261.8 643.3,266.4 645.6,262.6 650.4,264.7 652.8,263.4 655.1,262.0 662.2,258.7 664.6,260.1 667.0,257.5 669.3,257.1 674.1,258.8 678.8,258.3 681.2,254.4 683.5,253.9 685.9,252.3 688.3,249.5 690.6,254.0 693.0,252.5"/>
<polyline class="s" style="marker:url(#m58)" points="510.7,265.6 541.5,257.9 558.1,258.7 567.5,264.5 574.6,262.3 586.5,258.8 614.9,264.7 631.4,267.1 633.8,268.2 681.2,256.6 693.0,256.1"/>
<polyline class="s" style="marker:url(#m63)" points="510.7,263.0 567.5,264.3 593.6,264.1 614.9,267.9 633.8,267.9 671.7,262.2 683.5,257.2 685.9,257.5 693.0,256.2"/>
<polyline class="s" style="marker:url(#m59)" points="510.7,257.0 513.1,258.1 520.2,258.0 524.9,260.1 541.5,260.0 581.7,262.4 607.8,261.3 610.1,266.9 619.6,262.5 631.4,267.5 638.5,266.7 645.6,264.4 659.9,264.6 693.0,258.3"/>
<polyline class="s" style="marker:url(#m12)" points="510.7,258.7 515.4,261.5 520.2,258.8 536.7,259.1 553.3,257.5 569.9,260.5 593.6,262.6 607.8,261.4 614.9,262.1 622.0,262.2 626.7,263.8 652.8,265.9 664.6,260.1 674.1,257.7 681.2,261.7 693.0,253.2"/>
<polyline class="s" style="marker:url(#m9)" points="510.7,263.9 522.5,261.1 534.4,260.6 586.5,261.6 598.3,264.3 614.9,268.0 624.3,273.7 633.8,268.2 640.9,263.9 655.1,265.7 669.3,262.3 685.9,256.6 693.0,254.8"/>
<polyline class="s" style="marker:url(#m58)" points="510.7,262.6 515.4,260.3 517.8,260.5 520.2,259.7 529.6,258.1 555.7,259.1 577.0,261.8 581.7,262.6 588.8,261.4 603.0,264.8 624.3,261.3 633.8,267.2 671.7,260.4 674.1,260.3 690.6,255.3 693.0,256.8"/>
<polyline class="s" style="marker:url(#m67)" points="510.7,263.4 534.4,259.4 567.5,261.7 574.6,263.5 577.0,261.4 595.9,262.3 603.0,262.3 619.6,262.6 667.0,259.1 678.8,259.4 681.2,258.6 693.0,255.4"/>
<polyline class="s" style="marker:url(#m69)" points="510.7,256.5 513.1,257.4 532.0,257.6 539.1,256.1 550.9,254.1 558.1,253.2 560.4,256.3 584.1,260.8 586.5,260.8 595.9,257.9 605.4,261.7 612.5,258.8 622.0,263.1 624.3,262.1 633.8,262.4 655.1,263.5 659.9,259.9 667.0,257.0 678.8,256.6 681.2,258.5 693.0,254.2"/>
<polyline class="s" style="marker:url(#m70)" points="510.7,246.4 512.5,245.4 514.4,244.2 516.2,247.3 518.1,245.8 519.9,248.4 521.7,254.0 523.6,245.8 525.4,248.1 527.3,248.4 529.1,241.0 531.0,246.3 532.8,249.1 534.6,245.4 536.5,247.0 538.3,245.9 540.2,240.2 542.0,245.7 543.8,247.9 545.7,245.1 547.5,247.7 549.4,245.8 551.2,243.9 553.1,244.8 554.9,245.7 556.7,244.6 558.6,243.5 560.4,245.7 562.3,247.2 564.1,246.2 565.9,246.4 567.8,245.5 569.6,246.9 571.5,248.8 573.3,246.1 575.1,248.5 577.0,247.5 578.8,250.1 580.7,247.2 582.5,248.9 584.4,249.0 586.2,248.1 588.0,250.7 589.9,250.3 591.7,246.9 593.6,249.1 595.4,248.5 597.2,247.1 599.1,253.0 600.9,248.5 602.8,249.3 604.6,248.1 606.5,248.1 608.3,251.4 610.1,247.8 612.0,244.7 613.8,248.5 615.7,248.2 617.5,244.9 619.3,245.8 621.2,247.7 623.0,247.7 624.9,249.1 626.7,247.9 628.6,251.6 630.4,250.9 632.2,250.2 634.1,247.4 635.9,249.5 637.8,251.4 639.6,246.9 641.4,250.4 643.3,251.3 645.1,249.7 647.0,251.3 648.8,250.4 650.6,251.3 652.5,248.7 654.3,248.2 656.2,247.6 658.0,252.1 659.9,248.2 661.7,250.5 663.5,246.9 665.4,248.4 667.2,249.9 669.1,245.9 670.9,244.2 672.7,245.3 674.6,246.8 676.4,238.4 678.3,244.3 680.1,244.2 682.0,243.3 683.8,246.9 685.6,246.7 687.5,242.3 689.3,243.9 691.2,247.7 693.0,239.6"/>
<polyline class="s" style="marker:url(#m70)" points="510.7,231.0 512.5,239.2 514.4,233.0 516.2,235.5 518.1,234.2 519.9,233.1 521.7,233.0 523.6,237.3 525.4,233.2 527.3,231.7 529.1,233.4 531.0,235.6 532.8,235.7 534.6,234.7 536.5,233.4 538.3,236.6 540.2,231.2 542.0,236.6 543.8,233.5 545.7,233.0 547.5,234.8 549.4,233.0 551.2,235.3 553.1,234.6 554.9,243.4 556.7,236.7 558.6,235.8 560.4,238.3 562.3,237.6 564.1,237.4 565.9,237.3 567.8,237.6 569.6,238.7 571.5,237.5 573.3,235.7 575.1,239.2 577.0,239.0 578.8,237.6 580.7,238.4 582.5,239.0 584.4,236.7 586.2,236.8 588.0,235.2 589.9,240.6 591.7,241.2 593.6,245.7 595.4,245.4 597.2,232.7 599.1,240.2 600.9,238.8 602.8,239.5 604.6,241.5 606.5,238.4 608.3,239.9 610.1,239.0 612.0,239.6 613.8,239.2 615.7,239.6 617.5,237.7 619.3,238.4 621.2,237.9 623.0,246.5 624.9,237.7 626.7,237.6 628.6,237.6 630.4,232.1 632.2,240.0 634.1,241.0 635.9,240.5 637.8,238.8 639.6,240.0 641.4,234.6 643.3,239.8 645.1,236.0 647.0,240.1 648.8,238.5 650.6,241.7 652.5,239.6 654.3,239.5 656.2,239.5 658.0,239.6 659.9,239.2 661.7,236.8 663.5,236.4 665.4,234.5 667.2,235.5 669.1,233.8 670.9,237.9 672.7,234.5 674.6,236.9 676.4,234.2 678.3,234.1 680.1,235.1 682.0,234.9 683.8,234.5 685.6,233.8 687.5,233.3 689.3,234.4 691.2,237.6 693.0,234.7"/>
<polyline class="s" style="marker:url(#m70)" points="510.7,245.4 512.5,242.5 514.4,241.2 516.2,242.0 518.1,245.7 519.9,242.8 521.7,241.7 523.6,242.6 525.4,240.6 527.3,241.5 529.1,240.7 531.0,242.0 532.8,238.5 534.6,241.5 536.5,241.6 538.3,240.0 540.2,241.0 542.0,242.1 543.8,242.1 545.7,241.3 547.5,242.2 549.4,241.7 551.2,243.0 553.1,241.8 554.9,242.9 556.7,240.2 558.6,241.3 560.4,241.7 562.3,243.5 564.1,240.5 565.9,238.5 567.8,242.6 569.6,239.3 571.5,238.0 573.3,243.3 575.1,240.6 577.0,242.1 578.8,239.9 580.7,247.2 582.5,244.8 584.4,243.4 586.2,245.4 588.0,242.8 589.9,243.4 591.7,245.9 593.6,247.2 595.4,245.3 597.2,244.7 599.1,242.0 600.9,247.2 602.8,245.9 604.6,247.4 606.5,244.8 608.3,244.0 610.1,245.2 612.0,246.0 613.8,244.4 615.7,243.8 617.5,243.7 619.3,242.9 621.2,245.0 623.0,245.5 624.9,245.7 626.7,247.0 628.6,246.3 630.4,247.4 632.2,246.7 634.1,246.6 635.9,249.6 637.8,248.0 639.6,246.4 641.4,247.6 643.3,247.2 645.1,247.3 647.0,246.8 648.8,248.6 650.6,246.8 652.5,248.1 654.3,248.3 656.2,244.5 658.0,246.1 659.9,245.8 661.7,244.9 663.5,244.2 665.4,241.6 667.2,241.7 669.1,242.4 670.9,242.7 672.7,243.0 674.6,242.8 676.4,242.8 678.3,243.8 680.1,242.0 682.0,241.7 683.8,241.3 685.6,241.3 687.5,241.0 689.3,239.4 691.2,240.3 693.0,241.5"/>
<polyline class="s" style="marker:url(#m70)" points="510.7,242.4 512.5,238.8 514.4,240.3 516.2,238.8 518.1,239.5 519.9,242.1 521.7,239.3 523.6,238.2 525.4,241.1 527.3,239.7 529.1,235.5 531.0,237.1 532.8,236.4 534.6,237.9 536.5,233.3 538.3,238.1 540.2,235.7 542.0,235.3 543.8,236.0 545.7,236.0 547.5,238.0 549.4,237.0 551.2,239.9 553.1,240.2 554.9,238.9 556.7,241.5 558.6,236.1 560.4,237.7 562.3,236.0 564.1,235.8 565.9,239.0 567.8,238.6 569.6,237.1 571.5,238.0 573.3,237.7 575.1,240.1 577.0,235.7 578.8,240.0 580.7,238.2 582.5,237.5 584.4,239.0 586.2,238.5 588.0,239.0 589.9,241.1 591.7,240.6 593.6,239.6 595.4,240.1 597.2,241.9 599.1,241.1 600.9,242.9 602.8,241.6 604.6,240.2 606.5,240.7 608.3,243.7 610.1,241.9 612.0,246.1 613.8,244.6 615.7,239.5 617.5,242.3 619.3,241.9 621.2,244.5 623.0,246.3 624.9,242.5 626.7,242.7 628.6,244.7 630.4,241.8 632.2,242.7 634.1,243.0 635.9,241.9 637.8,244.0 639.6,241.2 641.4,241.9 643.3,242.3 645.1,241.2 647.0,245.3 648.8,241.7 650.6,241.7 652.5,240.6 654.3,240.5 656.2,239.6 658.0,239.6 659.9,238.4 661.7,238.3 663.5,236.9 665.4,239.6 667.2,236.1 669.1,236.6 670.9,236.2 672.7,235.0 674.6,239.1 676.4,237.4 678.3,236.9 680.1,236.3 682.0,237.7 683.8,235.8 685.6,236.6 687.5,235.6 689.3,238.7 691.2,236.5 693.0,229.9"/>
</g>
<g stroke="#000" stroke-width="1.3" fill="none">
<rect x="100.5" y="60.5" width="620" height="420"/>

</g>
<g stroke="#000" stroke-width="0.75" fill="none">
<path d="M101 106.5 h6 M720 106.5 h-6"/><path d="M101 195.5 h6 M720 195.5 h-6"/><path d="M101 283.5 h6 M720 283.5 h-6"/><path d="M101 372.5 h6 M720 372.5 h-6"/><path d="M101 461.5 h6 M720 461.5 h-6"/><path d="M155.5 480 v-6 M155.5 61 v6"/><path d="M282.5 480 v-6 M282.5 61 v6"/><path d="M409.5 480 v-6 M409.5 61 v6"/><path d="M537.5 480 v-6 M537.5 61 v6"/><path d="M664.5 480 v-6 M664.5 61 v6"/>
</g>
<text x="93" y="109.1" font-size="11.1" text-anchor="end">2.0</text><text x="93" y="198.1" font-size="11.1" text-anchor="end">1.5</text><text x="93" y="286.1" font-size="11.1" text-anchor="end">1.0</text><text x="93" y="375.1" font-size="11.1" text-anchor="end">0.5</text><text x="93" y="464.1" font-size="11.1" text-anchor="end">0.0</text><text x="155.5" y="492.5" font-size="11.1" text-anchor="middle">09:10:04.8</text><text x="282.5" y="492.5" font-size="11.1" text-anchor="middle">09:18:43.2</text><text x="409.5" y="492.5" font-size="11.1" text-anchor="middle">09:27:21.6</text><text x="537.5" y="492.5" font-size="11.1" text-anchor="middle">09:36:00.0</text><text x="664.5" y="492.5" font-size="11.1" text-anchor="middle">09:44:38.4</text>
<text x="410" y="52.6" font-size="13.9" text-anchor="middle" xml:space="preserve" style="white-space:pre">G table: testgaincal.g      Antenna='ea14'</text>
<text x="409.6" y="510" font-size="12.5" text-anchor="middle">Time</text>
<text transform="translate(64.2 270.2) rotate(-90)" font-size="12.5" text-anchor="middle">Gain Amplitude</text>
</svg>
</body></html>
